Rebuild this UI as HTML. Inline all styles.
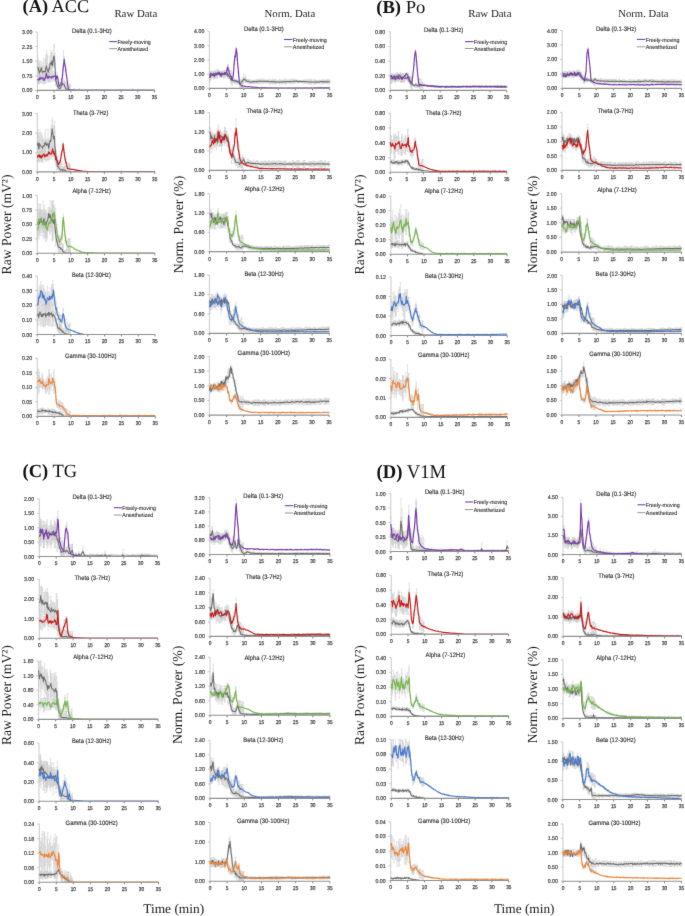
<!DOCTYPE html>
<html><head><meta charset="utf-8"><title>Figure</title>
<style>html,body{margin:0;padding:0;background:#fff;}#w{width:685px;height:916px;overflow:hidden;}svg{display:block;}text{text-rendering:geometricPrecision;}</style>
</head><body><div id="w">
<svg xmlns="http://www.w3.org/2000/svg" width="685" height="916" viewBox="0 0 685 916"><defs><filter id="bl" x="0" y="0" width="1" height="1" color-interpolation-filters="sRGB"><feConvolveMatrix order="3" kernelMatrix="0.0063 0.0667 0.0063 0.0667 0.7082 0.0667 0.0063 0.0667 0.0063" edgeMode="duplicate"/></filter></defs><g filter="url(#bl)"><defs><marker id="cap" markerWidth="2" markerHeight="1" refX="0.8" refY="0" markerUnits="userSpaceOnUse" orient="0" overflow="visible"><path d="M0 0h1.6" stroke="#cccccc" stroke-width="0.5"/></marker></defs>
<rect width="685" height="916" fill="#fff"/>
<text x="22.6" y="12.4" font-size="18" fill="#111" font-family='"Liberation Serif", serif' textLength="66.6" lengthAdjust="spacingAndGlyphs"><tspan font-weight="bold">(A)</tspan> ACC</text>
<text x="376.2" y="12.8" font-size="18.3" fill="#111" font-family='"Liberation Serif", serif' textLength="49.2" lengthAdjust="spacingAndGlyphs"><tspan font-weight="bold">(B)</tspan> Po</text>
<text x="22.6" y="477.2" font-size="18.6" fill="#111" font-family='"Liberation Serif", serif' textLength="54.5" lengthAdjust="spacingAndGlyphs"><tspan font-weight="bold">(C)</tspan> TG</text>
<text x="376.5" y="477.9" font-size="19.4" fill="#111" font-family='"Liberation Serif", serif' textLength="69.6" lengthAdjust="spacingAndGlyphs"><tspan font-weight="bold">(D)</tspan> V1M</text>
<text x="114.4" y="17.4" font-size="10.6" fill="#1a1a1a" font-family='"Liberation Serif", serif' textLength="43" lengthAdjust="spacingAndGlyphs">Raw Data</text>
<text x="264.5" y="17.4" font-size="10.6" fill="#1a1a1a" font-family='"Liberation Serif", serif' textLength="50.8" lengthAdjust="spacingAndGlyphs">Norm. Data</text>
<text x="468.2" y="17.4" font-size="10.6" fill="#1a1a1a" font-family='"Liberation Serif", serif' textLength="43.3" lengthAdjust="spacingAndGlyphs">Raw Data</text>
<text x="618.3" y="17.4" font-size="10.6" fill="#1a1a1a" font-family='"Liberation Serif", serif' textLength="50.3" lengthAdjust="spacingAndGlyphs">Norm. Data</text>
<text transform="translate(11.42 224.5) rotate(-90)" font-size="13.8" fill="#1a1a1a" font-family='"Liberation Serif", serif' text-anchor="middle" textLength="99.8" lengthAdjust="spacingAndGlyphs">Raw Power (mV²)</text>
<text transform="translate(364.02 224.5) rotate(-90)" font-size="13.8" fill="#1a1a1a" font-family='"Liberation Serif", serif' text-anchor="middle" textLength="99.8" lengthAdjust="spacingAndGlyphs">Raw Power (mV²)</text>
<text transform="translate(11.32 695.1) rotate(-90)" font-size="13.8" fill="#1a1a1a" font-family='"Liberation Serif", serif' text-anchor="middle" textLength="99.8" lengthAdjust="spacingAndGlyphs">Raw Power (mV²)</text>
<text transform="translate(364.22 695.1) rotate(-90)" font-size="13.8" fill="#1a1a1a" font-family='"Liberation Serif", serif' text-anchor="middle" textLength="99.8" lengthAdjust="spacingAndGlyphs">Raw Power (mV²)</text>
<text transform="translate(183.22 224.5) rotate(-90)" font-size="13.8" fill="#1a1a1a" font-family='"Liberation Serif", serif' text-anchor="middle" textLength="97.4" lengthAdjust="spacingAndGlyphs">Norm. Power (%)</text>
<text transform="translate(536.62 224.5) rotate(-90)" font-size="13.8" fill="#1a1a1a" font-family='"Liberation Serif", serif' text-anchor="middle" textLength="97.4" lengthAdjust="spacingAndGlyphs">Norm. Power (%)</text>
<text transform="translate(182.32 694.85) rotate(-90)" font-size="13.8" fill="#1a1a1a" font-family='"Liberation Serif", serif' text-anchor="middle" textLength="98.3" lengthAdjust="spacingAndGlyphs">Norm. Power (%)</text>
<text transform="translate(536.82 694.75) rotate(-90)" font-size="13.8" fill="#1a1a1a" font-family='"Liberation Serif", serif' text-anchor="middle" textLength="97.1" lengthAdjust="spacingAndGlyphs">Norm. Power (%)</text>
<text x="143.2" y="912.8" font-size="13.2" fill="#1a1a1a" font-family='"Liberation Serif", serif' textLength="61" lengthAdjust="spacingAndGlyphs">Time (min)</text>
<text x="493.9" y="913.1" font-size="13.2" fill="#1a1a1a" font-family='"Liberation Serif", serif' textLength="60.6" lengthAdjust="spacingAndGlyphs">Time (min)</text>
<path d="M37.4 32V90.4M35.2 90.4H37.4M35.2 75.8H37.4M35.2 61.2H37.4M35.2 46.6H37.4M35.2 32H37.4" stroke="#c4c4c4" stroke-width="0.9" fill="none"/>
<path d="M37.4 90.4V92.4M54.13 90.4V92.4M70.86 90.4V92.4M87.59 90.4V92.4M104.31 90.4V92.4M121.04 90.4V92.4M137.77 90.4V92.4M154.5 90.4V92.4" stroke="#606060" stroke-width="0.8" fill="none"/>
<text x="32.3" y="92.4" font-size="5.6" fill="#4a4a4a" font-family='"Liberation Sans", sans-serif' text-anchor="end" textLength="10.2" lengthAdjust="spacingAndGlyphs" stroke="#4a4a4a" stroke-width="0.22">0.00</text>
<text x="32.3" y="77.8" font-size="5.6" fill="#4a4a4a" font-family='"Liberation Sans", sans-serif' text-anchor="end" textLength="10.2" lengthAdjust="spacingAndGlyphs" stroke="#4a4a4a" stroke-width="0.22">0.75</text>
<text x="32.3" y="63.2" font-size="5.6" fill="#4a4a4a" font-family='"Liberation Sans", sans-serif' text-anchor="end" textLength="10.2" lengthAdjust="spacingAndGlyphs" stroke="#4a4a4a" stroke-width="0.22">1.50</text>
<text x="32.3" y="48.6" font-size="5.6" fill="#4a4a4a" font-family='"Liberation Sans", sans-serif' text-anchor="end" textLength="10.2" lengthAdjust="spacingAndGlyphs" stroke="#4a4a4a" stroke-width="0.22">2.25</text>
<text x="32.3" y="34" font-size="5.6" fill="#4a4a4a" font-family='"Liberation Sans", sans-serif' text-anchor="end" textLength="10.2" lengthAdjust="spacingAndGlyphs" stroke="#4a4a4a" stroke-width="0.22">3.00</text>
<text x="37.4" y="99.3" font-size="5.6" fill="#4a4a4a" font-family='"Liberation Sans", sans-serif' text-anchor="middle" textLength="2.7" lengthAdjust="spacingAndGlyphs" stroke="#4a4a4a" stroke-width="0.26">0</text>
<text x="54.13" y="99.3" font-size="5.6" fill="#4a4a4a" font-family='"Liberation Sans", sans-serif' text-anchor="middle" textLength="2.7" lengthAdjust="spacingAndGlyphs" stroke="#4a4a4a" stroke-width="0.26">5</text>
<text x="70.86" y="99.3" font-size="5.6" fill="#4a4a4a" font-family='"Liberation Sans", sans-serif' text-anchor="middle" textLength="5.3" lengthAdjust="spacingAndGlyphs" stroke="#4a4a4a" stroke-width="0.26">10</text>
<text x="87.59" y="99.3" font-size="5.6" fill="#4a4a4a" font-family='"Liberation Sans", sans-serif' text-anchor="middle" textLength="5.3" lengthAdjust="spacingAndGlyphs" stroke="#4a4a4a" stroke-width="0.26">15</text>
<text x="104.31" y="99.3" font-size="5.6" fill="#4a4a4a" font-family='"Liberation Sans", sans-serif' text-anchor="middle" textLength="5.3" lengthAdjust="spacingAndGlyphs" stroke="#4a4a4a" stroke-width="0.26">20</text>
<text x="121.04" y="99.3" font-size="5.6" fill="#4a4a4a" font-family='"Liberation Sans", sans-serif' text-anchor="middle" textLength="5.3" lengthAdjust="spacingAndGlyphs" stroke="#4a4a4a" stroke-width="0.26">25</text>
<text x="137.77" y="99.3" font-size="5.6" fill="#4a4a4a" font-family='"Liberation Sans", sans-serif' text-anchor="middle" textLength="5.3" lengthAdjust="spacingAndGlyphs" stroke="#4a4a4a" stroke-width="0.26">30</text>
<text x="154.5" y="99.3" font-size="5.6" fill="#4a4a4a" font-family='"Liberation Sans", sans-serif' text-anchor="middle" textLength="5.3" lengthAdjust="spacingAndGlyphs" stroke="#4a4a4a" stroke-width="0.26">35</text>
<text x="91.9" y="33" font-size="6.5" fill="#303030" font-family='"Liberation Sans", sans-serif' text-anchor="middle" textLength="39.8" lengthAdjust="spacingAndGlyphs" stroke="#303030" stroke-width="0.15">Delta (0.1-3Hz)</text>
<clipPath id="cAr0"><rect x="34.4" y="2" width="123.1" height="88.4"/></clipPath>
<g clip-path="url(#cAr0)">
<path d="M37.4 60.4v13.2m.7 -9.1v9m.3 -14.2v21.3m.3 -13.9v7m.4 -12.5v18.4m.3 -16v14.2m.3 -10.2v6.7m.4 -12.9v17.7m.6 -13.2v6.2m.7 -10.3v15.9m.7 -10.6v6.9m.3 -6.8v7.5m.4 -11.4v15.7m.6 -20.3v25.6m.7 -16.5v8.3m.7 -10.2v10.7m.3 -16v20.7m.3 -26.1v28.5m.4 -25.4v19.4m.3 -18.6v14.9m.3 -23.5v29.2m.4 -16.5v6.4m.6 -13.8v26.3m.7 -17.3v12.3m.3 -9.6v8.8m.4 -9.4v8.1m.3 -11.5v12.9m.3 -20.1v25.3m.7 -20.4v9.7m.7 -17.5v19.5m.7 -20.9v21m.3 -18v14.4m.3 -15.9v18.7m.4 -12.1v6.8m.3 -6.1v6.7m.7 -12.4v10.3m.6 -20v21.9m.7 -14v15.8m.7 3.1v13m.3 -9.5v8.7m.3 -6.7v7.3m.4 -5.2v5.6m.3 -7v11m.7 -7.9v8.9m.6 -5.6v5m.7 -6v6.6m.3 -6v6m.4 -8.1v8.1m.7 -7.7v7.7m.6 -5.7v5.5m.9 -11.2v11.4m.5 -7.8v3.6m.3 -6.1v6.9m.3 -8.5v10.6m.5 -7v4m.9 -5.4v7.7m.1 -4.8v2.7m.5 -5v9.1m.9 -7.7v7.7m.1 -6.2v6.2m.4 -7.6v7.6m.5 -4v4m.8 -5.3v5.3m.2 -4.8v4.8m.6 -4.6v4.6m.5 -3.9v3.9m.7 -5.9v5.9m.7 -6.4v6.4m-32.8 -14.1v6.8m.7 -8.2v9.1m.3 -9v8.7m.3 -7.3v5.7m.4 -6.5v7.1m.3 -7.8v8.3m.3 -5.5v2.5m.4 -4.9v7.2m.6 -8.4v9.2m.7 -8.8v8.1m.7 -8.1v7.9m.3 -6.9v5.7m.4 -4.1v3.2m.6 -4.9v8.2m.7 -5.6v4.5m.7 -8.2v8.3m.3 -9.9v9.7m.3 -8.2v5m.4 -5.9v5m.3 -7.6v9.5m.3 -8.9v7.7m.4 -5.7v3.1m.6 0v2.7m.7 -3.2v3m.3 -6.3v9.1m.4 -8.9v8.3m.3 -5.8v2.9m.3 -5.5v8.5m.7 -8.7v9.7m.7 -8v7.1m.7 -6.4v4.6m.3 -5.7v6.2m.3 -4.8v2.9m.4 -2.7v1.9m.3 -5.7v9.7m.7 -8.2v7m.6 -6.4v6.1m.7 -7.7v9.4m.7 -7.4v5.3m.3 -7.1v8.9m.3 -8.2v8.5m.4 -5.5v3.5m.3 -4v3.8m.7 -4.6v4.1m.6 0v3.7m.7 -1.2v6.5m.3 -3.2v3.8m.4 -5.1v5.1m.7 -5.3v2.9m.6 -7.3v9.2m.9 -8.6v4.7m.5 -9.5v5.5m.3 -8.9v6.5m.3 -10.8v9.2m.5 -11.6v5.2m.9 -12.9v9.3m.1 -8.7v5.9m.5 -2.7v6.1m.9 -.6v6m.1 -2.7v1.9m.4 -1v5.4m.5 -.5v3.3m.8 4v1.8m.2 -3.8v8.3m.6 -.9v2.6m.5 -3.7v3.7m.7 -4.5v4.5m.7 -3.7v3.7m-23.1 -36v20.4m4 -24.3v20.4m3 -26.2v22.3m9.4 -16.5v20.4m69.3 17.6v1.9m-58.6 -2.3v2.3m5 -1.9v1.9" stroke="#cccccc" stroke-width="0.55" fill="none" marker-start="url(#cap)" marker-mid="url(#cap)" marker-end="url(#cap)"/>
<path d="M37.4 67.2l.7 .2 .3 2.6 .3-.9 .4 2 .3 2.1 .3-1.8 .4 .5 .6-2.5 .7-1.6 .7 4.1 .3-.7 .4 1.5 .6-.9 .7-.5 .7 .4 .3-.5 .3 .7 .4-3.8 .3 0 .3-2.1 .4 2.7 .6 1.1 .7 2.4 .3-.4 .4-2.2 .3-1.2 .3 .8 .7-5.2 .7-1.3 .7 2.1 .3-3.4 .3-.5 .4 4.7 .3-1.6 .7-6.3 .6-1.7 .7 4.8 .7 18.3 .3 2 .3 .5 .4 .7 .3 1.2 .7 3.2 .6 0 .7 1.3 .3 .6 .4-.1 .7-.1 .6-.8 .9-3 .5-.1 .3-1 .3-.3 .5 1.3 .9 .3 .1 .1 .5 1.9 .9 1.8 .1-.3 .4 .7 .5 .3 .8 .7 .2 0 .6 .1 .5 .1 .7 0 .7 .1 .7 .1 .6 0 .7 0 .7 0 .6 0 .7 0 .7 0 .6 0 .7 0 .7 0 .6 0 .7 0 .7 0 .7 0 .6 0 .7 0 .7 0 .6 0 .7 0 .7 0 .6 0 .7 0 .7 0 .6 0 .7 0 .7 0 .7 0 .6 0 .7 0 .7 0 .6 0 .7 0 .7 0 .6 0 .7 0 .7 0 .6 0 .7 0 .7 0 .7 0 .6 0 .7 0 .7 0 .6 0 .7 0 .7 0 .6 0 .7 0 .7 0 .6 0 .7 0 .7 0 .7 0 .6 0 .7 0 .7 0 .6 0 .7 0 .7 0 .6 0 .7 0 .7 0 .6 0 .7 0 .7 0 .7 0 .6 0 .7 0 .7 0 .6 0 .7 0 .7 0 .6 0 .7 0 .7 0 .6 0 .7 0 .7 0 .7 0 .6 0 .7 0 .7 0 .6 0 .7 0 .7 0 .6 0 .7 0 .7 0 .6 0 .7 0 .7 0 .6 0 .7 0 .7 0 .7 0 .6 0 .7 0 .7 0 .6 0 .7 0 .7 0 .6 0 .7 0 .7 0 .6 0 .7 0 .7 0 .7 0 .6 0 .7 0 .7 0 .6 0 .7 0 .7 0 .6 0 .7 0 .7 0 .6 0 .7 0 .7 0 .7 0 .6 0 .7 0 .7 0 .6 0 .7 0" stroke="#6e6e6e" stroke-width="1.05" fill="none" stroke-linejoin="round"/>
<path d="M37.4 79.3l.7 .4 .3 .4 .3 0 .4-1.4 .3-.1 .3 1.1 .4-2.6 .6 1.8 .7-.1 .7-1.1 .3 .3 .4-.5 .6 2 .7 1 .7-2.1 .3-.3 .3 0 .4-1.9 .3-.9 .3-2.1 .4 2.1 .6 2.8 .7-1.3 .3 1.3 .4-1.7 .3 0 .3 .6 .7-.3 .7 1 .7-.8 .3 1.1 .3-.9 .4-.7 .3-.3 .7 .9 .6-.6 .7-.5 .7 .5 .3-.1 .3 2.6 .4-.7 .3-2.2 .7 .4 .6 4.1 .7 4 .3 2.1 .4-1 .7-.5 .6-.8 .9-2.6 .5-4.4 .3-1 .3-5.2 .5-3.6 .9-8.1 .1 1.9 .5 2.8 .9 4.9 .1 2.5 .4 2 .5 3.2 .8 6.6 .2 1.4 .6 4.6 .5 .3 .7 .1 .7 .1 .7 .2 .6 0 .7 .1 .7 0 .6 0 .7 0 .7 0 .6 .1 .7-.1 .7 .1 .6 0 .7 .1 .7 0 .7 0 .6 .1 .7 0 .7 0 .6 0 .7 0 .7 0 .6 0 .7 0 .7 0 .6 0 .7 0 .7 0 .7 0 .6 0 .7 0 .7 0 .6 0 .7 0 .7 0 .6 0 .7 0 .7 0 .6 0 .7 0 .7 0 .7 0 .6 0 .7 0 .7 0 .6 0 .7 0 .7 0 .6 0 .7 0 .7 0 .6 0 .7 0 .7 0 .7 0 .6 0 .7 0 .7 0 .6 0 .7 0 .7 0 .6 0 .7 0 .7 0 .6 0 .7 0 .7 0 .7 0 .6 0 .7 0 .7 0 .6 0 .7 0 .7 0 .6 0 .7 0 .7 0 .6 0 .7 0 .7 0 .7 0 .6 0 .7 0 .7 0 .6 0 .7 0 .7 0 .6 0 .7 0 .7 0 .6 0 .7 0 .7 0 .6 0 .7 0 .7 0 .7 0 .6 0 .7 0 .7 0 .6 0 .7 0 .7 0 .6 0 .7 0 .7 0 .6 0 .7 0 .7 0 .7 0 .6 0 .7 0 .7 0 .6 0 .7 0 .7 0 .6 0 .7 0 .7 0 .6 0 .7 0 .7 0 .7 0 .6 0 .7 0 .7 0 .6 0 .7 0" stroke="#7b3bb3" stroke-width="1.12" fill="none" stroke-linejoin="round"/>
</g>
<path d="M37.4 90.4H154.5" stroke="#919191" stroke-width="1.1" fill="none"/>
<path d="M109.2 41.6H117" stroke="#7b3bb3" stroke-width="1.1"/>
<path d="M109.2 48.7H117" stroke="#8a8a8a" stroke-width="0.9"/>
<text x="117.4" y="43.7" font-size="5.8" fill="#303030" font-family='"Liberation Sans", sans-serif' textLength="33.4" lengthAdjust="spacingAndGlyphs" stroke="#303030" stroke-width="0.12">Freely-moving</text>
<text x="117.4" y="50.8" font-size="5.8" fill="#303030" font-family='"Liberation Sans", sans-serif' textLength="30.9" lengthAdjust="spacingAndGlyphs" stroke="#303030" stroke-width="0.12">Anesthetized</text>
<path d="M37.3 113.5V171.9M35.1 171.9H37.3M35.1 152.43H37.3M35.1 132.97H37.3M35.1 113.5H37.3" stroke="#c4c4c4" stroke-width="0.9" fill="none"/>
<path d="M37.3 171.9V173.9M54.07 171.9V173.9M70.84 171.9V173.9M87.6 171.9V173.9M104.37 171.9V173.9M121.14 171.9V173.9M137.91 171.9V173.9M154.68 171.9V173.9" stroke="#606060" stroke-width="0.8" fill="none"/>
<text x="32.2" y="173.9" font-size="5.6" fill="#4a4a4a" font-family='"Liberation Sans", sans-serif' text-anchor="end" textLength="10.2" lengthAdjust="spacingAndGlyphs" stroke="#4a4a4a" stroke-width="0.22">0.00</text>
<text x="32.2" y="154.43" font-size="5.6" fill="#4a4a4a" font-family='"Liberation Sans", sans-serif' text-anchor="end" textLength="10.2" lengthAdjust="spacingAndGlyphs" stroke="#4a4a4a" stroke-width="0.22">1.00</text>
<text x="32.2" y="134.97" font-size="5.6" fill="#4a4a4a" font-family='"Liberation Sans", sans-serif' text-anchor="end" textLength="10.2" lengthAdjust="spacingAndGlyphs" stroke="#4a4a4a" stroke-width="0.22">2.00</text>
<text x="32.2" y="115.5" font-size="5.6" fill="#4a4a4a" font-family='"Liberation Sans", sans-serif' text-anchor="end" textLength="10.2" lengthAdjust="spacingAndGlyphs" stroke="#4a4a4a" stroke-width="0.22">3.00</text>
<text x="37.3" y="180.8" font-size="5.6" fill="#4a4a4a" font-family='"Liberation Sans", sans-serif' text-anchor="middle" textLength="2.7" lengthAdjust="spacingAndGlyphs" stroke="#4a4a4a" stroke-width="0.26">0</text>
<text x="54.07" y="180.8" font-size="5.6" fill="#4a4a4a" font-family='"Liberation Sans", sans-serif' text-anchor="middle" textLength="2.7" lengthAdjust="spacingAndGlyphs" stroke="#4a4a4a" stroke-width="0.26">5</text>
<text x="70.84" y="180.8" font-size="5.6" fill="#4a4a4a" font-family='"Liberation Sans", sans-serif' text-anchor="middle" textLength="5.3" lengthAdjust="spacingAndGlyphs" stroke="#4a4a4a" stroke-width="0.26">10</text>
<text x="87.6" y="180.8" font-size="5.6" fill="#4a4a4a" font-family='"Liberation Sans", sans-serif' text-anchor="middle" textLength="5.3" lengthAdjust="spacingAndGlyphs" stroke="#4a4a4a" stroke-width="0.26">15</text>
<text x="104.37" y="180.8" font-size="5.6" fill="#4a4a4a" font-family='"Liberation Sans", sans-serif' text-anchor="middle" textLength="5.3" lengthAdjust="spacingAndGlyphs" stroke="#4a4a4a" stroke-width="0.26">20</text>
<text x="121.14" y="180.8" font-size="5.6" fill="#4a4a4a" font-family='"Liberation Sans", sans-serif' text-anchor="middle" textLength="5.3" lengthAdjust="spacingAndGlyphs" stroke="#4a4a4a" stroke-width="0.26">25</text>
<text x="137.91" y="180.8" font-size="5.6" fill="#4a4a4a" font-family='"Liberation Sans", sans-serif' text-anchor="middle" textLength="5.3" lengthAdjust="spacingAndGlyphs" stroke="#4a4a4a" stroke-width="0.26">30</text>
<text x="154.68" y="180.8" font-size="5.6" fill="#4a4a4a" font-family='"Liberation Sans", sans-serif' text-anchor="middle" textLength="5.3" lengthAdjust="spacingAndGlyphs" stroke="#4a4a4a" stroke-width="0.26">35</text>
<text x="90.65" y="114.6" font-size="6.5" fill="#303030" font-family='"Liberation Sans", sans-serif' text-anchor="middle" textLength="35.5" lengthAdjust="spacingAndGlyphs" stroke="#303030" stroke-width="0.15">Theta (3-7Hz)</text>
<clipPath id="cAr1"><rect x="34.3" y="83.5" width="123.38" height="88.4"/></clipPath>
<g clip-path="url(#cAr1)">
<path d="M37.3 133.1v23.1m.7 -23.5v24.7m.6 -24v24m.4 -28v32.5m.3 -25.4v18.6m.7 -23.3v28.8m.7 -26.4v24.8m.6 -26.2v29.2m.7 -22.7v17.7m.3 -21.3v25.6m.4 -24v21.3m.6 -18.9v14.2m.7 -14.1v11.6m.7 -17.6v22.8m.6 -15.7v7.9m.4 -19.5v30.7m.3 -20.4v9.7m.7 -8.5v6.5m.7 -8v8.7m.6 -18.7v31.1m.7 -22v15.2m.3 -11.9v9.7m.4 -9.3v6.6m.6 -9.1v7m.7 -18.2v24.7m.7 -27.8v23.1m.7 -27.9v24.9m.3 -27.3v25.9m.3 -14.8v7.6m.7 -10.9v21.9m.7 -19.7v15.7m.3 -22.4v28.2m.3 -23v28.2m.4 -24v30.2m.3 -13.7v7.6m.3 -5.9v14.7m.4 -13.1v15.4m.7 -11.7v15.8m.6 -6.2v4.3m.7 -4.2v5.7m.3 -4.7v4.5m.4 -3.6v3.4m.6 -8.1v10.7m.7 -9.7v9.7m.7 -7.7v7.7m.6 -9v9m.7 -7.7v7.7m.7 -5.4v5.4m.3 -4.1v4.1m.4 -4.1v4.1m.6 -8.6v8.6m.4 -4.6v4.6m.3 -5.2v5.2m.7 -5.5v5.5m.3 -2.6v2.6m.3 -4v4m.7 -3.8v3.8m.7 -6.3v6.3m.7 -4v4m.6 -3.6v3.6m.7 -8v8m.7 -4.9v4.9m-32.9 -18.1v7m.7 -9.3v10.8m.6 -10.8v10.1m.4 -9.9v9.2m.3 -7.3v5.1m.7 -6.4v6.9m.7 -7.5v7.3m.6 -7.8v9.1m.7 -7.6v6.8m.3 -8v9.7m.4 -11.5v12.5m.6 -9.2v4.3m.7 -7.7v9.5m.7 -9.7v10.8m.6 -8.3v6.5m.4 -6.9v7.7m.3 -10.3v12.9m.7 -7.8v2.7m.7 -5.5v8.3m.6 -7v4.1m.7 -8.2v10.8m.3 -12.1v12.6m.4 -10.1v8m.6 -5.3v3.4m.7 -5.6v8.6m.7 -10v8.2m.7 -10.7v10.1m.3 -9.8v7.9m.3 -8.2v9.3m.7 -9.5v11.3m.7 -8.9v8m.3 -6.4v6.8m.3 -8.8v12.7m.4 -7.7v4.7m.3 -6.3v9.8m.3 -7.2v6.6m.4 -7.7v10.7m.7 -5.2v3.7m.6 -6.7v13.1m.7 -8v6.3m.3 -3.8v3m.4 -4.6v5.3m.6 -6.9v6.6m.7 -5.5v2.5m.7 -8.6v6.9m.6 -10.8v6.9m.7 -12.3v10m.7 -12v6.2m.3 -7.7v5.3m.4 -2.6v4.8m.6 -2.8v10.5m.4 -9.1v12.6m.3 -8.4v8.1m.7 -2.5v4.7m.3 -6.6v11.1m.3 -7.5v6.6m.7 -2.9v4.7m.7 -1.5v3.8m.7 -7.1v8.7m.6 -8.8v8.8m.7 -7.7v7.7m.7 -6.6v6.6" stroke="#cccccc" stroke-width="0.55" fill="none" marker-start="url(#cap)" marker-mid="url(#cap)" marker-end="url(#cap)"/>
<path d="M37.3 145.4l.7-2.7 .6 5.6 .4 .6 .3-5.7 .7 1.7 .7 1 .6 .7 .7 .4 .3 1.4 .4-1.3 .6-1.2 .7 .5 .7-3.4 .6 1.1 .4-1.8 .3 2.1 .7 1 .7-1.4 .6-.6 .7 5 .3-.9 .4-4 .6-3 .7 1.3 .7-6.3 .7-6.6 .3 2.5 .3 .7 .7 5.8 .7 1.7 .3-3.4 .3 6.8 .4 5.7 .3 1.8 .3 5.7 .4 3 .7 2 .6 5 .7 .2 .3 .2 .4 .6 .6 1.7 .7 .3 .7 .9 .6-.4 .7-.1 .7 1 .3-.7 .4-.2 .6 .2 .4 .1 .3 .4 .7 .1 .3 .3 .3 .4 .7 .2 .7 .5 .7 0 .6 0 .7 0 .7 0 .6 0 .7 0 .7 0 .6 0 .7 0 .7 0 .7 0 .6 0 .4 0 .3 0 .7 0 .6 0 .7 0 .7 0 .7 0 .6 0 .7 0 .7 0 .6 0 .7 0 .7 0 .6 0 .7 0 .7 0 .7 0 .6 0 .7 0 .7 0 .6 0 .7 0 .7 0 .7 0 .6 0 .7 0 .7 0 .6 0 .7 0 .7 0 .7 0 .6 0 .7 0 .7 0 .6 0 .7 0 .7 0 .6 0 .7 0 .7 0 .7 0 .6 0 .7 0 .7 0 .6 0 .7 0 .7 0 .7 0 .6 0 .7 0 .7 0 .6 0 .7 0 .7 0 .6 0 .7 0 .7 0 .7 0 .6 0 .7 0 .7 0 .6 0 .7 0 .7 0 .7 0 .6 0 .7 0 .7 0 .6 0 .7 0 .7 0 .7 0 .6 0 .7 0 .7 0 .6 0 .7 0 .7 0 .6 0 .7 0 .7 0 .7 0 .6 0 .7 0 .7 0 .6 0 .7 0 .7 0 .7 0 .6 0 .7 0 .7 0 .6 0 .7 0 .7 0 .6 0 .7 0 .7 0 .7 0 .6 0 .7 0 .7 0 .6 0 .7 0 .7 0 .7 0 .6 0 .7 0 .7 0 .6 0 .7 0 .7 0 .7 0 .6 0 .7 0 .7 0 .6 0 .7 0 .7 0" stroke="#6e6e6e" stroke-width="1.05" fill="none" stroke-linejoin="round"/>
<path d="M37.3 157.6l.7-2.2 .6 1 .4 .1 .3-1.6 .7 2.6 .7-2 .6 2.5 .7-2.1 .3 .9 .4-1.2 .6-.6 .7-1.1 .7 3.1 .6-1.8 .4 .6 .3 .4 .7-1.7 .7 1.2 .6-1.6 .7-2.2 .3 1.7 .4-1.4 .6 1.6 .7 .3 .7 .1 .7-3.3 .3-1 .3-1 .7 4.7 .7-1.9 .3 2.8 .3-.4 .4 1.4 .3 1 .3 2.9 .4-2.9 .7 3.3 .6 .9 .7 2.9 .3 .9 .4-.4 .6-1.7 .7-.2 .7-3.9 .6-4.3 .7-2.8 .7-2.6 .3-4.8 .4 4.6 .6 3.9 .4 2.7 .3 2.2 .7 3.3 .3 2 .3-.4 .7 3.3 .7 3 .7 .1 .6 .2 .7 .3 .7 .1 .6 .1 .7 .2 .7 0 .6 .1 .7-.1 .7 .2 .7 .5 .6-.2 .4 .2 .3-.2 .7 .4 .6-.2 .7 .4 .7 0 .7 0 .6 .3 .7 .1 .7 .1 .6 0 .7 .2 .7 0 .6 0 .7 0 .7 .1 .7 0 .6 .2 .7 0 .7 0 .6 0 .7 .1 .7 0 .7 0 .6 0 .7 0 .7 .1 .6 0 .7 0 .7 .1 .7 0 .6 0 .7 .1 .7 0 .6 0 .7 0 .7 0 .6 0 .7 0 .7 0 .7 0 .6 0 .7 0 .7 0 .6 0 .7 0 .7 0 .7 0 .6 0 .7 0 .7 0 .6 0 .7 0 .7 0 .6 0 .7 0 .7 0 .7 0 .6 0 .7 0 .7 0 .6 0 .7 0 .7 0 .7 0 .6 0 .7 0 .7 0 .6 0 .7 0 .7 0 .7 0 .6 0 .7 0 .7 0 .6 0 .7 0 .7 0 .6 0 .7 0 .7 0 .7 0 .6 0 .7 0 .7 0 .6 0 .7 0 .7 0 .7 0 .6 0 .7 0 .7 0 .6 0 .7 0 .7 0 .6 0 .7 0 .7 0 .7 0 .6 0 .7 0 .7 0 .6 0 .7 0 .7 0 .7 0 .6 0 .7 0 .7 0 .6 0 .7 0 .7 0 .7 0 .6 0 .7 0 .7 0 .6 0 .7 0 .7 0" stroke="#cc1c1c" stroke-width="1.12" fill="none" stroke-linejoin="round"/>
</g>
<path d="M37.3 171.9H154.68" stroke="#919191" stroke-width="1.1" fill="none"/>
<path d="M37.3 195.5V253.3M35.1 253.3H37.3M35.1 238.85H37.3M35.1 224.4H37.3M35.1 209.95H37.3M35.1 195.5H37.3" stroke="#c4c4c4" stroke-width="0.9" fill="none"/>
<path d="M37.3 253.3V255.3M54.09 253.3V255.3M70.89 253.3V255.3M87.68 253.3V255.3M104.47 253.3V255.3M121.26 253.3V255.3M138.06 253.3V255.3M154.85 253.3V255.3" stroke="#606060" stroke-width="0.8" fill="none"/>
<text x="32.2" y="255.3" font-size="5.6" fill="#4a4a4a" font-family='"Liberation Sans", sans-serif' text-anchor="end" textLength="10.2" lengthAdjust="spacingAndGlyphs" stroke="#4a4a4a" stroke-width="0.22">0.00</text>
<text x="32.2" y="240.85" font-size="5.6" fill="#4a4a4a" font-family='"Liberation Sans", sans-serif' text-anchor="end" textLength="10.2" lengthAdjust="spacingAndGlyphs" stroke="#4a4a4a" stroke-width="0.22">0.25</text>
<text x="32.2" y="226.4" font-size="5.6" fill="#4a4a4a" font-family='"Liberation Sans", sans-serif' text-anchor="end" textLength="10.2" lengthAdjust="spacingAndGlyphs" stroke="#4a4a4a" stroke-width="0.22">0.50</text>
<text x="32.2" y="211.95" font-size="5.6" fill="#4a4a4a" font-family='"Liberation Sans", sans-serif' text-anchor="end" textLength="10.2" lengthAdjust="spacingAndGlyphs" stroke="#4a4a4a" stroke-width="0.22">0.75</text>
<text x="32.2" y="197.5" font-size="5.6" fill="#4a4a4a" font-family='"Liberation Sans", sans-serif' text-anchor="end" textLength="10.2" lengthAdjust="spacingAndGlyphs" stroke="#4a4a4a" stroke-width="0.22">1.00</text>
<text x="37.3" y="262.2" font-size="5.6" fill="#4a4a4a" font-family='"Liberation Sans", sans-serif' text-anchor="middle" textLength="2.7" lengthAdjust="spacingAndGlyphs" stroke="#4a4a4a" stroke-width="0.26">0</text>
<text x="54.09" y="262.2" font-size="5.6" fill="#4a4a4a" font-family='"Liberation Sans", sans-serif' text-anchor="middle" textLength="2.7" lengthAdjust="spacingAndGlyphs" stroke="#4a4a4a" stroke-width="0.26">5</text>
<text x="70.89" y="262.2" font-size="5.6" fill="#4a4a4a" font-family='"Liberation Sans", sans-serif' text-anchor="middle" textLength="5.3" lengthAdjust="spacingAndGlyphs" stroke="#4a4a4a" stroke-width="0.26">10</text>
<text x="87.68" y="262.2" font-size="5.6" fill="#4a4a4a" font-family='"Liberation Sans", sans-serif' text-anchor="middle" textLength="5.3" lengthAdjust="spacingAndGlyphs" stroke="#4a4a4a" stroke-width="0.26">15</text>
<text x="104.47" y="262.2" font-size="5.6" fill="#4a4a4a" font-family='"Liberation Sans", sans-serif' text-anchor="middle" textLength="5.3" lengthAdjust="spacingAndGlyphs" stroke="#4a4a4a" stroke-width="0.26">20</text>
<text x="121.26" y="262.2" font-size="5.6" fill="#4a4a4a" font-family='"Liberation Sans", sans-serif' text-anchor="middle" textLength="5.3" lengthAdjust="spacingAndGlyphs" stroke="#4a4a4a" stroke-width="0.26">25</text>
<text x="138.06" y="262.2" font-size="5.6" fill="#4a4a4a" font-family='"Liberation Sans", sans-serif' text-anchor="middle" textLength="5.3" lengthAdjust="spacingAndGlyphs" stroke="#4a4a4a" stroke-width="0.26">30</text>
<text x="154.85" y="262.2" font-size="5.6" fill="#4a4a4a" font-family='"Liberation Sans", sans-serif' text-anchor="middle" textLength="5.3" lengthAdjust="spacingAndGlyphs" stroke="#4a4a4a" stroke-width="0.26">35</text>
<text x="91.65" y="192.6" font-size="6.5" fill="#303030" font-family='"Liberation Sans", sans-serif' text-anchor="middle" textLength="38.5" lengthAdjust="spacingAndGlyphs" stroke="#303030" stroke-width="0.15">Alpha (7-12Hz)</text>
<clipPath id="cAr2"><rect x="34.3" y="165.5" width="123.55" height="87.8"/></clipPath>
<g clip-path="url(#cAr2)">
<path d="M37.3 211.5v25.8m.7 -27.5v26.9m.6 -23.2v17.2m.4 -26.7v35.1m.3 -28.8v21.3m.7 -27.3v31m.7 -30.6v27.8m.6 -22.1v18.7m.7 -18.9v21.5m.3 -15.5v10.7m.4 -12.9v13.9m.6 -27.1v37.9m.7 -29.6v19.1m.7 -22.9v31.2m.7 -19v11.5m.3 -18.4v27.6m.3 -24.6v20.5m.7 -24.2v25.5m.7 -23v18.2m.6 -16.4v10m.7 -16.7v18.7m.4 -18.3v15.7m.3 -13.4v12.2m.7 -21.5v33.1m.6 -24.2v17.7m.7 -18.7v22m.7 -29.9v40m.3 -37v35.2m.3 -37.7v39.1m.7 -39.9v38.3m.7 -26.4v12.3m.7 -9.1v17.4m.3 -10.2v8.7m.3 -17.3v31.8m.7 -15.8v11.3m.7 -3.5v7.3m.7 -6.1v8.1m.6 -8v11.3m.7 -9.9v11.8m.3 -8.1v6m.4 -9.6v12.4m.6 -8.8v7.4m.7 -8.7v10.1m.8 -6.3v5.1m.6 -4.2v4.3m.3 -9.1v10.2m.3 -8.7v8.7m.5 -8v8m.9 -2.8v2.8m.8 -2.2v2.2m.5 -2.7v2.7m.3 -2.7v2.7m.4 -3.3v3.3m.5 -3.9v3.9m.8 -1.6v1.6m.9 -3.4v3.4m.5 -5.5v5.5m.6 -2.6v2.6m.7 -6.8v6.8m-32.9 -34.7v23.2m.7 -21.7v13.2m.6 -14.9v9.7m.4 -19.2v25.2m.3 -19.7v13m.7 -14.7v14.2m.7 -17.6v18.6m.6 -14.1v14.2m.7 -17.4v25.3m.3 -17v11m.4 -9.2v6.2m.6 -13.7v18.9m.7 -20.8v20.4m.7 -20.4v25.1m.7 -21.4v22.3m.3 -23.6v27.2m.3 -27.1v28.1m.7 -21.5v17.2m.7 -16.1v17.3m.6 -16.6v9m.7 -14.2v12.5m.4 -17.6v19.3m.3 -13.3v7.2m.7 -14.5v21.9m.6 -15.6v9.2m.7 -14.9v16m.7 -24.7v28.8m.3 -19.3v7.4m.3 -7.3v6.1m.7 -12.1v15.8m.7 -14v9.9m.7 -12.5v22.8m.3 -12.1v5.3m.3 -13v25.6m.7 -14.8v13.9m.7 -8.5v13m.7 -5.7v8.3m.6 -5v6.4m.7 -6.6v11.4m.3 -9.3v9.5m.4 -9.3v8.3m.6 -8.5v7.2m.7 -8.6v8.4m.8 -10.8v11.3m.6 -18.8v13.5m.3 -18.3v14.5m.3 -14v4.9m.5 -12.1v6.6m.9 1.7v8.5m.8 -.1v10.1m.5 -6.1v7.3m.3 -4.6v5.3m.4 -2.8v3.9m.5 -2.9v7m.8 -7v8.8m.9 -11.2v14.6m.5 -14.2v14.2m.6 -13.9v13.9m.7 -14.6v14.6m.7 -7.4v.9m5.4 2.4v1m3.3 .5v.8m10.1 .9v.9m2 -.8v.8" stroke="#cccccc" stroke-width="0.55" fill="none" marker-start="url(#cap)" marker-mid="url(#cap)" marker-end="url(#cap)"/>
<path d="M37.3 224.1l.7-.2 .6-4 .4 .8 .3 3.5 .7-2.9 .7-2.7 .6 3.8 .7-1.3 .3 .7 .4 2.5 .6-2.6 .7-3.2 .7 6.2 .7-2.3 .3 2.4 .3 .5 .7-3.5 .7-1.1 .6-2.3 .7-4.9 .4 1.8 .3 2.4 .7-3.1 .6 2.9 .7 3.3 .7-1.6 .3 2.1 .3-.6 .7 2.6 .7-4.5 .7 5.9 .3 3.1 .3 3.7 .7 5.8 .7 4.5 .7 1.7 .6 2.8 .7 1 .3 .1 .4 0 .6 .2 .7 1.3 .8-.1 .6 1 .3 .5 .3 .7 .5 .4 .9 .9 .8 .6 .5 .2 .3 .2 .4 0 .5 0 .8 0 .9 0 .5 0 .6 0 .7 0 .7 0 .7 0 .6 0 .7 0 .7 0 .6 0 .7 0 .7 0 .7 0 .6 0 .7 0 .7 0 .6 0 .7 0 .7 0 .7 0 .6 0 .7 0 .7 0 .6 0 .7 0 .7 0 .7 0 .6 0 .7 0 .7 0 .7 0 .6 0 .7 0 .7 0 .6 0 .7 0 .7 0 .7 0 .6 0 .7 0 .7 0 .6 0 .7 0 .7 0 .7 0 .6 0 .7 0 .7 0 .6 0 .7 0 .7 0 .7 0 .6 0 .7 0 .7 0 .6 0 .7 0 .7 0 .7 0 .6 0 .7 0 .7 0 .6 0 .7 0 .7 0 .7 0 .6 0 .7 0 .7 0 .6 0 .7 0 .7 0 .7 0 .6 0 .7 0 .7 0 .6 0 .7 0 .7 0 .7 0 .6 0 .7 0 .7 0 .7 0 .6 0 .7 0 .7 0 .6 0 .7 0 .7 0 .7 0 .6 0 .7 0 .7 0 .6 0 .7 0 .7 0 .7 0 .6 0 .7 0 .7 0 .6 0 .7 0 .7 0 .7 0 .6 0 .7 0 .7 0 .6 0 .7 0 .7 0 .7 0 .6 0 .7 0 .7 0 .6 0 .7 0 .7 0 .7 0 .6 0 .7 0 .7 0 .6 0 .7 0 .7 0 .7 0 .6 0 .7 0 .7 0 .6 0" stroke="#6e6e6e" stroke-width="1.05" fill="none" stroke-linejoin="round"/>
<path d="M37.3 230.2l.7-1.3 .6-8.5 .4 1 .3-2.3 .7 2.6 .7-3.1 .6-.6 .7 3.5 .3 3 .4-2.2 .6 3.1 .7-3 .7-.6 .7 5.2 .3 .3 .3-.4 .7 1.8 .7 1.2 .6-4 .7-2.4 .4-1.6 .3 1.1 .7 .5 .6-.9 .7-4.7 .7 .8 .3-3.6 .3-1.6 .7 3.2 .7-4.7 .7 6.4 .3 .4 .3 1.1 .7 6.5 .7 3.3 .7 6.4 .6 1.2 .7 1.7 .3 2.8 .4 .6 .6-2.4 .7-.3 .8-1.3 .6-3.9 .3-6.1 .3-6.6 .5-4.4 .9 9.7 .8 8.7 .5 1.9 .3 3.5 .4 .3 .5 2.9 .8 1.5 .9 .5 .5 .4 .6-.6 .7 .3 .7-.2 .7 .7 .6 .3 .7 .1 .7 .8 .6 .5 .7 .3 .7 .6 .7 .3 .6 0 .7 .5 .7 .4 .6-.1 .7 .5 .7 .4 .7 0 .6 .1 .7 .3 .7 .2 .6 0 .7 .3 .7 0 .7 .1 .6 0 .7 0 .7 .1 .7 0 .6 0 .7 .1 .7 .1 .6 0 .7 0 .7 0 .7 0 .6 .1 .7 0 .7 .1 .6 0 .7 .1 .7 0 .7 .1 .6 0 .7 0 .7 0 .6 0 .7 0 .7 0 .7 0 .6 0 .7 0 .7 0 .6 0 .7 0 .7 0 .7 0 .6 0 .7 0 .7 0 .6 0 .7 0 .7 0 .7 0 .6 0 .7 0 .7 0 .6 0 .7 0 .7 0 .7 0 .6 0 .7 0 .7 0 .6 0 .7 0 .7 0 .7 0 .6 0 .7 0 .7 0 .7 0 .6 0 .7 0 .7 0 .6 0 .7 0 .7 0 .7 0 .6 0 .7 0 .7 0 .6 0 .7 0 .7 0 .7 0 .6 0 .7 0 .7 0 .6 0 .7 0 .7 0 .7 0 .6 0 .7 0 .7 0 .6 0 .7 0 .7 0 .7 0 .6 0 .7 0 .7 0 .6 0 .7 0 .7 0 .7 0 .6 0 .7 0 .7 0 .6 0 .7 0 .7 0 .7 0 .6 0 .7 0 .7 0 .6 0" stroke="#74b84a" stroke-width="1.12" fill="none" stroke-linejoin="round"/>
</g>
<path d="M37.3 253.3H154.85" stroke="#919191" stroke-width="1.1" fill="none"/>
<path d="M37.3 276V334.5M35.1 334.5H37.3M35.1 319.88H37.3M35.1 305.25H37.3M35.1 290.62H37.3M35.1 276H37.3" stroke="#c4c4c4" stroke-width="0.9" fill="none"/>
<path d="M37.3 334.5V336.5M54.12 334.5V336.5M70.94 334.5V336.5M87.75 334.5V336.5M104.57 334.5V336.5M121.39 334.5V336.5M138.21 334.5V336.5M155.02 334.5V336.5" stroke="#606060" stroke-width="0.8" fill="none"/>
<text x="32.2" y="336.5" font-size="5.6" fill="#4a4a4a" font-family='"Liberation Sans", sans-serif' text-anchor="end" textLength="10.2" lengthAdjust="spacingAndGlyphs" stroke="#4a4a4a" stroke-width="0.22">0.00</text>
<text x="32.2" y="321.88" font-size="5.6" fill="#4a4a4a" font-family='"Liberation Sans", sans-serif' text-anchor="end" textLength="10.2" lengthAdjust="spacingAndGlyphs" stroke="#4a4a4a" stroke-width="0.22">0.10</text>
<text x="32.2" y="307.25" font-size="5.6" fill="#4a4a4a" font-family='"Liberation Sans", sans-serif' text-anchor="end" textLength="10.2" lengthAdjust="spacingAndGlyphs" stroke="#4a4a4a" stroke-width="0.22">0.20</text>
<text x="32.2" y="292.62" font-size="5.6" fill="#4a4a4a" font-family='"Liberation Sans", sans-serif' text-anchor="end" textLength="10.2" lengthAdjust="spacingAndGlyphs" stroke="#4a4a4a" stroke-width="0.22">0.30</text>
<text x="32.2" y="278" font-size="5.6" fill="#4a4a4a" font-family='"Liberation Sans", sans-serif' text-anchor="end" textLength="10.2" lengthAdjust="spacingAndGlyphs" stroke="#4a4a4a" stroke-width="0.22">0.40</text>
<text x="37.3" y="343.4" font-size="5.6" fill="#4a4a4a" font-family='"Liberation Sans", sans-serif' text-anchor="middle" textLength="2.7" lengthAdjust="spacingAndGlyphs" stroke="#4a4a4a" stroke-width="0.26">0</text>
<text x="54.12" y="343.4" font-size="5.6" fill="#4a4a4a" font-family='"Liberation Sans", sans-serif' text-anchor="middle" textLength="2.7" lengthAdjust="spacingAndGlyphs" stroke="#4a4a4a" stroke-width="0.26">5</text>
<text x="70.94" y="343.4" font-size="5.6" fill="#4a4a4a" font-family='"Liberation Sans", sans-serif' text-anchor="middle" textLength="5.3" lengthAdjust="spacingAndGlyphs" stroke="#4a4a4a" stroke-width="0.26">10</text>
<text x="87.75" y="343.4" font-size="5.6" fill="#4a4a4a" font-family='"Liberation Sans", sans-serif' text-anchor="middle" textLength="5.3" lengthAdjust="spacingAndGlyphs" stroke="#4a4a4a" stroke-width="0.26">15</text>
<text x="104.57" y="343.4" font-size="5.6" fill="#4a4a4a" font-family='"Liberation Sans", sans-serif' text-anchor="middle" textLength="5.3" lengthAdjust="spacingAndGlyphs" stroke="#4a4a4a" stroke-width="0.26">20</text>
<text x="121.39" y="343.4" font-size="5.6" fill="#4a4a4a" font-family='"Liberation Sans", sans-serif' text-anchor="middle" textLength="5.3" lengthAdjust="spacingAndGlyphs" stroke="#4a4a4a" stroke-width="0.26">25</text>
<text x="138.21" y="343.4" font-size="5.6" fill="#4a4a4a" font-family='"Liberation Sans", sans-serif' text-anchor="middle" textLength="5.3" lengthAdjust="spacingAndGlyphs" stroke="#4a4a4a" stroke-width="0.26">30</text>
<text x="155.02" y="343.4" font-size="5.6" fill="#4a4a4a" font-family='"Liberation Sans", sans-serif' text-anchor="middle" textLength="5.3" lengthAdjust="spacingAndGlyphs" stroke="#4a4a4a" stroke-width="0.26">35</text>
<text x="91.45" y="277.3" font-size="6.5" fill="#303030" font-family='"Liberation Sans", sans-serif' text-anchor="middle" textLength="38.9" lengthAdjust="spacingAndGlyphs" stroke="#303030" stroke-width="0.15">Beta (12-30Hz)</text>
<clipPath id="cAr3"><rect x="34.3" y="246" width="123.72" height="88.5"/></clipPath>
<g clip-path="url(#cAr3)">
<path d="M37.3 304.6v21.7m.7 -21.4v20.5m.6 -13.6v6.2m.4 -12.8v19.1m.3 -15.5v11.6m.7 -9.9v7.7m.7 -16.3v24.2m.6 -20.9v18.2m.7 -18.6v19.6m.3 -13.2v7.1m.4 -14.1v21.4m.7 -22.2v23.6m.6 -23v22.9m.7 -21.5v19.6m.7 -20.8v21.4m.3 -21.2v20.8m.3 -18.8v16.4m.7 -15.1v13.3m.7 -17.6v21.3m.7 -20.9v20.4m.6 -21.3v22.2m.4 -16.3v10.5m.3 -17.3v24.1m.7 -19.7v15.3m.7 -19.6v23.8m.6 -15v6.8m.7 -15.2v24.2m.3 -22.2v20.5m.4 -14.9v9.6m.6 -15.3v21.6m.7 -15.1v9.2m.7 -7.1v8.5m.7 -9.4v13.8m.3 -7.9v3.7m.3 -3.3v5.8m.7 -4.5v9.2m.7 -5.4v7.4m.7 -6.9v7.6m.6 -5.7v4.9m.4 -6.2v8.1m.3 -7.9v8.3m.7 -7.2v7.3m.6 -7.8v9.1m.9 -7.9v7.9m.5 -5.8v5.1m.7 -3.2v2.5m.5 -4.3v5.7m.8 -5.8v5.8m.8 -3.4v3.4m.6 -4.2v4.2m.6 -4.9v4.9m.5 -4.5v4.5m.9 -.9v.9m.8 -2.9v2.9m.5 -.9v.9m.7 -1.3v1.3m.7 -4.2v4.2m-33 -36.9v12.3m.7 -20.5v24.1m.6 -19.3v9.8m.4 -10.3v8.5m.3 -16.9v23m.7 -20.7v13.6m.7 -19.9v21.6m.6 -17.8v17.5m.7 -17.2v20.4m.3 -14.7v10.8m.4 -9.5v7.5m.7 -14.2v19.8m.6 -17.5v14m.7 -12v15.9m.7 -14.1v18.1m.3 -17.5v19.8m.3 -15.8v10.1m.7 -12.7v11.8m.7 -19.2v23.1m.7 -18v15.2m.6 -11.6v10.3m.4 -13.2v17.3m.3 -14.4v9.7m.7 -16.7v20.2m.7 -14.4v5.2m.6 -14.5v21.4m.7 -19.9v16m.3 -14.4v11.7m.4 -19.1v23.6m.6 -19.6v9.8m.7 -3v9.3m.7 -1v5.8m.7 -7.8v15.7m.3 -12.3v11.9m.3 -10v11m.7 -6.5v7.8m.7 -7.7v12.6m.7 -5.8v4m.6 -2.7v6.4m.4 -7.2v10.6m.3 -12.4v14.5m.7 -12.1v10.5m.6 -10.4v11.1m.9 -11.1v12.1m.5 -12v7.5m.7 -13.8v14.2m.5 -15.2v11.8m.8 -4.2v6.9m.8 -2.1v7.5m.6 -8.7v12.5m.6 -7.9v6.9m.5 -4.6v4.9m.9 -8.8v12.2m.8 -9.7v9.2m.5 -9v9m.7 -9.7v10.2m.7 -11.4v11.4m4 -3.4v.9m4 .8v.8m.7 -.7v.8m.7 -.7v.9m2 -.4v.8" stroke="#cccccc" stroke-width="0.55" fill="none" marker-start="url(#cap)" marker-mid="url(#cap)" marker-end="url(#cap)"/>
<path d="M37.3 315.5l.7-1.5 .6 3.2 .4-1.3 .3-1.9 .7-1.9 .7 1.8 .6 2.6 .7-2.2 .3 2.1 .4 0 .7-2.7 .6 1.2 .7-.5 .7-1.3 .3 4 .3-1.4 .7-.1 .7-2.1 .7 1.4 .6-2.7 .4 4 .3-3.3 .7 1 .7 .6 .6-1.8 .7 3.5 .3 .6 .4-1.8 .6-.7 .7 1.5 .7 1.2 .7 2.2 .3 .4 .3 2.3 .7 2 .7 3.3 .7 1.1 .6-.3 .4 1.2 .3-1.1 .7 .9 .6 1.4 .9-.4 .5 2.3 .7-.9 .5 .8 .8 .7 .8 .6 .6 .5 .6 .1 .5-.1 .9 .5 .8 0 .5 0 .7 0 .7 0 .6 0 .7 0 .7 0 .7 0 .6 0 .7 0 .7 0 .6 0 .7 0 .7 0 .7 0 .6 0 .7 0 .7 0 .7 0 .6 0 .7 0 .7 0 .6 0 .7 0 .7 0 .7 0 .6 0 .7 0 .7 0 .7 0 .6 0 .7 0 .7 0 .6 0 .7 0 .7 0 .7 0 .6 0 .7 0 .7 0 .7 0 .6 0 .7 0 .7 0 .6 0 .7 0 .7 0 .7 0 .6 0 .7 0 .7 0 .7 0 .6 0 .7 0 .7 0 .6 0 .7 0 .7 0 .7 0 .6 0 .7 0 .7 0 .7 0 .6 0 .7 0 .7 0 .6 0 .7 0 .7 0 .7 0 .6 0 .7 0 .7 0 .7 0 .6 0 .7 0 .7 0 .6 0 .7 0 .7 0 .7 0 .6 0 .7 0 .7 0 .7 0 .6 0 .7 0 .7 0 .6 0 .7 0 .7 0 .7 0 .6 0 .7 0 .7 0 .7 0 .6 0 .7 0 .7 0 .6 0 .7 0 .7 0 .7 0 .6 0 .7 0 .7 0 .7 0 .6 0 .7 0 .7 0 .6 0 .7 0 .7 0 .7 0 .6 0 .7 0 .7 0 .7 0 .6 0 .7 0 .7 0 .6 0 .7 0 .7 0 .7 0 .6 0 .7 0 .7 0 .7 0 .6 0" stroke="#6e6e6e" stroke-width="1.05" fill="none" stroke-linejoin="round"/>
<path d="M37.3 303.5l.7 1.4 .6-7.7 .4 1.4 .3-2.9 .7 1.4 .7-6.4 .6 .1 .7 1.8 .3 4.5 .4-3.7 .7 5.3 .6-3.4 .7 4.8 .7-.5 .3 2.9 .3 1.8 .7-2.5 .7-4.1 .7 .7 .6 1.4 .4 .5 .3-4 .7 3.4 .7-2.7 .6-.6 .7 2.2 .3-4.3 .4 2.3 .6-6.7 .7 5 .7 8.3 .7 3.8 .3 2.4 .3-1.5 .7 2.8 .7 4.6 .7 .5 .6 2.6 .4 1.2 .3-.6 .7 .2 .6 2.4 .9 .3 .5-1.7 .7-6.4 .5 .3 .8 3.4 .8 6.7 .6 2.5 .6 .3 .5 1.4 .9 .6 .8 .4 .5 .2 .7 .2 .7 .3 .6-.1 .7 .4 .7 .3 .7 .1 .6 .6 .7 0 .7 .6 .6-.1 .7 .6 .7 .3 .7 .1 .6 .3 .7 .2 .7 0 .7 .3 .6 .1 .7 .2 .7 .1 .6 .1 .7 .1 .7 .2 .7 0 .6 0 .7 0 .7 0 .7 0 .6 0 .7 0 .7 0 .6 0 .7 0 .7 0 .7 0 .6 0 .7 0 .7 0 .7 0 .6 0 .7 0 .7 0 .6 0 .7 0 .7 0 .7 0 .6 0 .7 0 .7 0 .7 0 .6 0 .7 0 .7 0 .6 0 .7 0 .7 0 .7 0 .6 0 .7 0 .7 0 .7 0 .6 0 .7 0 .7 0 .6 0 .7 0 .7 0 .7 0 .6 0 .7 0 .7 0 .7 0 .6 0 .7 0 .7 0 .6 0 .7 0 .7 0 .7 0 .6 0 .7 0 .7 0 .7 0 .6 0 .7 0 .7 0 .6 0 .7 0 .7 0 .7 0 .6 0 .7 0 .7 0 .7 0 .6 0 .7 0 .7 0 .6 0 .7 0 .7 0 .7 0 .6 0 .7 0 .7 0 .7 0 .6 0 .7 0 .7 0 .6 0 .7 0 .7 0 .7 0 .6 0 .7 0 .7 0 .7 0 .6 0 .7 0 .7 0 .6 0 .7 0 .7 0 .7 0 .6 0 .7 0 .7 0 .7 0 .6 0" stroke="#4a7bd0" stroke-width="1.12" fill="none" stroke-linejoin="round"/>
</g>
<path d="M37.3 334.5H155.02" stroke="#919191" stroke-width="1.1" fill="none"/>
<path d="M37.3 358.2V416.4M35.1 416.4H37.3M35.1 401.85H37.3M35.1 387.3H37.3M35.1 372.75H37.3M35.1 358.2H37.3" stroke="#c4c4c4" stroke-width="0.9" fill="none"/>
<path d="M37.3 416.4V418.4M54.14 416.4V418.4M70.99 416.4V418.4M87.83 416.4V418.4M104.67 416.4V418.4M121.51 416.4V418.4M138.36 416.4V418.4M155.2 416.4V418.4" stroke="#606060" stroke-width="0.8" fill="none"/>
<text x="32.2" y="418.4" font-size="5.6" fill="#4a4a4a" font-family='"Liberation Sans", sans-serif' text-anchor="end" textLength="10.2" lengthAdjust="spacingAndGlyphs" stroke="#4a4a4a" stroke-width="0.22">0.00</text>
<text x="32.2" y="403.85" font-size="5.6" fill="#4a4a4a" font-family='"Liberation Sans", sans-serif' text-anchor="end" textLength="10.2" lengthAdjust="spacingAndGlyphs" stroke="#4a4a4a" stroke-width="0.22">0.05</text>
<text x="32.2" y="389.3" font-size="5.6" fill="#4a4a4a" font-family='"Liberation Sans", sans-serif' text-anchor="end" textLength="10.2" lengthAdjust="spacingAndGlyphs" stroke="#4a4a4a" stroke-width="0.22">0.10</text>
<text x="32.2" y="374.75" font-size="5.6" fill="#4a4a4a" font-family='"Liberation Sans", sans-serif' text-anchor="end" textLength="10.2" lengthAdjust="spacingAndGlyphs" stroke="#4a4a4a" stroke-width="0.22">0.15</text>
<text x="32.2" y="360.2" font-size="5.6" fill="#4a4a4a" font-family='"Liberation Sans", sans-serif' text-anchor="end" textLength="10.2" lengthAdjust="spacingAndGlyphs" stroke="#4a4a4a" stroke-width="0.22">0.20</text>
<text x="37.3" y="425.3" font-size="5.6" fill="#4a4a4a" font-family='"Liberation Sans", sans-serif' text-anchor="middle" textLength="2.7" lengthAdjust="spacingAndGlyphs" stroke="#4a4a4a" stroke-width="0.26">0</text>
<text x="54.14" y="425.3" font-size="5.6" fill="#4a4a4a" font-family='"Liberation Sans", sans-serif' text-anchor="middle" textLength="2.7" lengthAdjust="spacingAndGlyphs" stroke="#4a4a4a" stroke-width="0.26">5</text>
<text x="70.99" y="425.3" font-size="5.6" fill="#4a4a4a" font-family='"Liberation Sans", sans-serif' text-anchor="middle" textLength="5.3" lengthAdjust="spacingAndGlyphs" stroke="#4a4a4a" stroke-width="0.26">10</text>
<text x="87.83" y="425.3" font-size="5.6" fill="#4a4a4a" font-family='"Liberation Sans", sans-serif' text-anchor="middle" textLength="5.3" lengthAdjust="spacingAndGlyphs" stroke="#4a4a4a" stroke-width="0.26">15</text>
<text x="104.67" y="425.3" font-size="5.6" fill="#4a4a4a" font-family='"Liberation Sans", sans-serif' text-anchor="middle" textLength="5.3" lengthAdjust="spacingAndGlyphs" stroke="#4a4a4a" stroke-width="0.26">20</text>
<text x="121.51" y="425.3" font-size="5.6" fill="#4a4a4a" font-family='"Liberation Sans", sans-serif' text-anchor="middle" textLength="5.3" lengthAdjust="spacingAndGlyphs" stroke="#4a4a4a" stroke-width="0.26">25</text>
<text x="138.36" y="425.3" font-size="5.6" fill="#4a4a4a" font-family='"Liberation Sans", sans-serif' text-anchor="middle" textLength="5.3" lengthAdjust="spacingAndGlyphs" stroke="#4a4a4a" stroke-width="0.26">30</text>
<text x="155.2" y="425.3" font-size="5.6" fill="#4a4a4a" font-family='"Liberation Sans", sans-serif' text-anchor="middle" textLength="5.3" lengthAdjust="spacingAndGlyphs" stroke="#4a4a4a" stroke-width="0.26">35</text>
<text x="90.75" y="358" font-size="6.5" fill="#303030" font-family='"Liberation Sans", sans-serif' text-anchor="middle" textLength="51.5" lengthAdjust="spacingAndGlyphs" stroke="#303030" stroke-width="0.15">Gamma (30-100Hz)</text>
<clipPath id="cAr4"><rect x="34.3" y="328.2" width="123.9" height="88.2"/></clipPath>
<g clip-path="url(#cAr4)">
<path d="M37.3 410.5v3.1m.7 -4.3v5.1m.6 -5.3v5.2m.4 -4.6v3.8m.3 -2.5v1.1m.7 -3.2v4.8m.7 -4.5v4m.6 -4.9v5.5m.7 -5.7v5.7m.4 -4.3v2.7m.3 -4v5.2m.7 -5.2v5m.6 -3.8v2.4m.7 -2.5v2.8m.7 -2.7v2.9m.3 -2.8v2.8m.4 -2.8v2.9m.6 -2.1v1.5m.7 -1.7v2.1m.7 -3.6v5.5m.7 -4.1v3m.3 -3.5v4.2m.3 -4.7v5.4m.7 -4.9v4.7m.7 -3.3v2.3m.6 -3.9v5.5m.7 -5.3v5m.4 -5.4v5.9m.3 -5.3v4.6m.7 -4.6v4.7m.6 -4.9v5m.7 -3.4v2.3m.4 -3.2v4.2m.3 -3.5v2.9m.7 -3v3.5m.6 -2.1v1.1m.7 -1.6v2.4m.7 -2v1.8m.7 -2.4v3.3m.3 -2.5v1.8m.3 -2.6v3.5m.7 -3.4v3.5m.7 -3.4v3.6m.8 -1.7v1.2m.5 -2v3.6m.7 -2.7v2.7m.5 -2.2v2.2m.8 -1.4v1.4m1.4 -1.8v1.8m.7 -1.2v1.2m.5 -1.1v1.1m.8 -.9v.9m.9 -1.6v1.6m.5 -1.6v1.6m.6 -1.8v1.8m-32.3 -41.8v13.7m.7 -15.5v17.4m.6 -21.1v24.7m.4 -17.9v11.2m.3 -15.3v20m.7 -14.1v9.3m.7 -8.3v8.4m.6 -8.6v7.7m.7 -10.8v12.7m.4 -15.1v17m.3 -13.2v10.5m.7 -7.9v7.7m.6 -7.1v8.8m.7 -6.3v6.1m.7 -6v8.3m.3 -9v10.8m.4 -13.3v14.6m.6 -12.5v8.1m.7 -12.3v14.2m.7 -14.9v13.3m.7 -19.9v24.2m.3 -19.9v14.3m.3 -18.6v23.6m.7 -18.2v13.9m.7 -10.6v8.4m.6 -13v16.5m.7 -12.5v7.3m.4 -7.8v7.8m.3 -6.8v5.8m.7 -12.2v18.6m.6 -21.4v24.1m.7 -14.4v12.6m.4 -10.2v11.6m.3 -7.5v13.1m.7 .8v4.7m.6 -4.6v7.4m.7 -4.7v4.9m.7 -3.9v3m.7 -5.9v8.8m.3 -7.6v6.4m.3 -3.9v1.8m.7 -4.9v8.7m.7 -7.8v7.7m.8 -5.7v4.6m.5 -5.3v6.9m.7 -7.5v9.3m.5 -6.7v5m.8 -3.7v5.3m.9 -3.3v4.2m.5 -4.4v6.3m.7 -5.6v7.2m.5 -6.6v6.8m.8 -6.9v6.9m.9 -2.9v2.9m.5 -3.7v3.7m.6 -5.5v5.5m.7 -5.1v5.1m2.7 -1.3v.9m3.4 -.9v.9m4.7 -.9v.9m2 -.9v.9m7.4 -.9v.9m11.5 -.9v.9m.7 -.9v.9m1.3 -.9v.9m1.3 -.9v.9m2.7 -.9v.9m2.1 -.9v.9m2 -1v1m8.1 -1v1m1.3 -1v1m3.4 -1v1m.7 -1v1m10.1 -.9v.9m2.7 -.9v.9m.6 -.9v.9m.7 -.9v.9m11.5 -1v1m.6 -.9v.9m.7 -.9v.9" stroke="#cccccc" stroke-width="0.55" fill="none" marker-start="url(#cap)" marker-mid="url(#cap)" marker-end="url(#cap)"/>
<path d="M37.3 411.8l.7-.7 .6-.2 .4 .5 .3 .2 .7-.4 .7 .1 .6-.1 .7-1.2 .4 .9 .3-.8 .7 .6 .6-.1 .7 .3 .7 .7 .3-1.1 .4 .5 .6-.4 .7 .7 .7 .2 .7 .2 .3-.6 .3-.6 .7 1.3 .7 0 .6-.3 .7 0 .4 1.1 .3-.3 .7 .2 .6-.6 .7 .6 .4-.1 .3-.3 .7 .9 .6-.4 .7 .4 .7 .1 .7-.4 .3 0 .3 1.3 .7-.3 .7-.1 .8 1.2 .5-.3 .7 .9 .5 .4 .8 .6 .9 0 .5 0 .7 0 .5 0 .8 0 .9 0 .5 0 .6 0 .7 0 .7 0 .7 0 .6 0 .7 0 .7 0 .7 0 .6 0 .7 0 .7 0 .6 0 .7 0 .7 0 .7 0 .6 0 .7 0 .7 0 .7 0 .6 0 .7 0 .7 0 .7 0 .6 0 .7 0 .7 0 .7 0 .6 0 .7 0 .7 0 .6 0 .7 0 .7 0 .7 0 .6 0 .7 0 .7 0 .7 0 .6 0 .7 0 .7 0 .7 0 .6 0 .7 0 .7 0 .7 0 .6 0 .7 0 .7 0 .7 0 .6 0 .7 0 .7 0 .6 0 .7 0 .7 0 .7 0 .6 0 .7 0 .7 0 .7 0 .6 0 .7 0 .7 0 .7 0 .6 0 .7 0 .7 0 .7 0 .6 0 .7 0 .7 0 .6 0 .7 0 .7 0 .7 0 .6 0 .7 0 .7 0 .7 0 .6 0 .7 0 .7 0 .7 0 .6 0 .7 0 .7 0 .7 0 .6 0 .7 0 .7 0 .6 0 .7 0 .7 0 .7 0 .6 0 .7 0 .7 0 .7 0 .6 0 .7 0 .7 0 .7 0 .6 0 .7 0 .7 0 .7 0 .6 0 .7 0 .7 0 .6 0 .7 0 .7 0 .7 0 .6 0 .7 0 .7 0 .7 0 .6 0 .7 0 .7 0 .7 0 .6 0 .7 0 .7 0 .7 0 .6 0 .7 0" stroke="#6e6e6e" stroke-width="1.05" fill="none" stroke-linejoin="round"/>
<path d="M37.3 382l.7-.4 .6-.9 .4 .8 .3-2.1 .7 .8 .7 3.1 .6-.8 .7 1 .4-2.6 .3 1 .7 3.5 .6-.6 .7 1.3 .7-.5 .3 2.1 .4-2.2 .6-1.1 .7 .7 .7-.2 .7-6.4 .3 2.4 .3-1.1 .7 4.3 .7-1.9 .6 .4 .7 .9 .4-2.7 .3-2.5 .7 3.8 .6-.4 .7 6.3 .4-.5 .3 3 .7 10.8 .6 2.7 .7 .6 .7 .5 .7 0 .3-.3 .3 1.5 .7 0 .7-.6 .8 .5 .5 .6 .7 1.1 .5-.2 .8 1.4 .9 1.4 .5 .8 .7 2.1 .5 .1 .8 .7 .9 .9 .5 0 .6 0 .7 .2 .7 .2 .7 0 .6 .1 .7-.2 .7 .1 .7-.1 .6 .2 .7-.1 .7-.1 .6 .1 .7 .1 .7-.1 .7-.1 .6 .2 .7 .1 .7 0 .7-.1 .6 0 .7-.1 .7 .1 .7-.1 .6 0 .7 0 .7 .1 .7-.1 .6 .1 .7-.1 .7 0 .6 .1 .7-.1 .7 .1 .7-.1 .6 .1 .7-.1 .7 .1 .7-.1 .6 0 .7 0 .7 .1 .7-.1 .6 0 .7 .1 .7-.1 .7 .1 .6 0 .7 0 .7 0 .7 0 .6-.1 .7 .1 .7-.1 .6 0 .7 .1 .7-.1 .7 0 .6 0 .7-.1 .7 .2 .7 0 .6-.2 .7 .2 .7 0 .7-.1 .6 0 .7 0 .7 0 .7 .1 .6-.1 .7 .1 .7 .1 .6-.1 .7 0 .7-.2 .7 0 .6 .1 .7 .1 .7-.2 .7 .2 .6-.1 .7 0 .7 .1 .7-.1 .6 0 .7-.1 .7 .1 .7 .1 .6-.1 .7 .1 .7-.1 .6 0 .7 0 .7-.1 .7 .2 .6-.1 .7 0 .7 .1 .7-.1 .6 0 .7 0 .7 0 .7 .1 .6-.1 .7 0 .7 .1 .7-.1 .6 0 .7 0 .7 .1 .6 0 .7-.2 .7 0 .7 .1 .6 .1 .7 0 .7 0 .7-.1 .6 .1 .7-.1 .7 .1 .7-.1 .6-.1 .7 .1 .7 .2 .7-.2 .6 .1 .7 0" stroke="#f0863a" stroke-width="1.12" fill="none" stroke-linejoin="round"/>
</g>
<path d="M37.3 416.4H155.2" stroke="#919191" stroke-width="1.1" fill="none"/>
<path d="M209.4 31.4V88.4M207.2 88.4H209.4M207.2 74.15H209.4M207.2 59.9H209.4M207.2 45.65H209.4M207.2 31.4H209.4" stroke="#c4c4c4" stroke-width="0.9" fill="none"/>
<path d="M209.4 88.4V90.4M226.59 88.4V90.4M243.77 88.4V90.4M260.96 88.4V90.4M278.14 88.4V90.4M295.33 88.4V90.4M312.51 88.4V90.4M329.7 88.4V90.4" stroke="#606060" stroke-width="0.8" fill="none"/>
<text x="204.3" y="90.4" font-size="5.6" fill="#4a4a4a" font-family='"Liberation Sans", sans-serif' text-anchor="end" textLength="10.2" lengthAdjust="spacingAndGlyphs" stroke="#4a4a4a" stroke-width="0.22">0.00</text>
<text x="204.3" y="76.15" font-size="5.6" fill="#4a4a4a" font-family='"Liberation Sans", sans-serif' text-anchor="end" textLength="10.2" lengthAdjust="spacingAndGlyphs" stroke="#4a4a4a" stroke-width="0.22">1.00</text>
<text x="204.3" y="61.9" font-size="5.6" fill="#4a4a4a" font-family='"Liberation Sans", sans-serif' text-anchor="end" textLength="10.2" lengthAdjust="spacingAndGlyphs" stroke="#4a4a4a" stroke-width="0.22">2.00</text>
<text x="204.3" y="47.65" font-size="5.6" fill="#4a4a4a" font-family='"Liberation Sans", sans-serif' text-anchor="end" textLength="10.2" lengthAdjust="spacingAndGlyphs" stroke="#4a4a4a" stroke-width="0.22">3.00</text>
<text x="204.3" y="33.4" font-size="5.6" fill="#4a4a4a" font-family='"Liberation Sans", sans-serif' text-anchor="end" textLength="10.2" lengthAdjust="spacingAndGlyphs" stroke="#4a4a4a" stroke-width="0.22">4.00</text>
<text x="209.4" y="97.3" font-size="5.6" fill="#4a4a4a" font-family='"Liberation Sans", sans-serif' text-anchor="middle" textLength="2.7" lengthAdjust="spacingAndGlyphs" stroke="#4a4a4a" stroke-width="0.26">0</text>
<text x="226.59" y="97.3" font-size="5.6" fill="#4a4a4a" font-family='"Liberation Sans", sans-serif' text-anchor="middle" textLength="2.7" lengthAdjust="spacingAndGlyphs" stroke="#4a4a4a" stroke-width="0.26">5</text>
<text x="243.77" y="97.3" font-size="5.6" fill="#4a4a4a" font-family='"Liberation Sans", sans-serif' text-anchor="middle" textLength="5.3" lengthAdjust="spacingAndGlyphs" stroke="#4a4a4a" stroke-width="0.26">10</text>
<text x="260.96" y="97.3" font-size="5.6" fill="#4a4a4a" font-family='"Liberation Sans", sans-serif' text-anchor="middle" textLength="5.3" lengthAdjust="spacingAndGlyphs" stroke="#4a4a4a" stroke-width="0.26">15</text>
<text x="278.14" y="97.3" font-size="5.6" fill="#4a4a4a" font-family='"Liberation Sans", sans-serif' text-anchor="middle" textLength="5.3" lengthAdjust="spacingAndGlyphs" stroke="#4a4a4a" stroke-width="0.26">20</text>
<text x="295.33" y="97.3" font-size="5.6" fill="#4a4a4a" font-family='"Liberation Sans", sans-serif' text-anchor="middle" textLength="5.3" lengthAdjust="spacingAndGlyphs" stroke="#4a4a4a" stroke-width="0.26">25</text>
<text x="312.51" y="97.3" font-size="5.6" fill="#4a4a4a" font-family='"Liberation Sans", sans-serif' text-anchor="middle" textLength="5.3" lengthAdjust="spacingAndGlyphs" stroke="#4a4a4a" stroke-width="0.26">30</text>
<text x="329.7" y="97.3" font-size="5.6" fill="#4a4a4a" font-family='"Liberation Sans", sans-serif' text-anchor="middle" textLength="5.3" lengthAdjust="spacingAndGlyphs" stroke="#4a4a4a" stroke-width="0.26">35</text>
<text x="263.9" y="30.8" font-size="6.5" fill="#303030" font-family='"Liberation Sans", sans-serif' text-anchor="middle" textLength="39.8" lengthAdjust="spacingAndGlyphs" stroke="#303030" stroke-width="0.15">Delta (0.1-3Hz)</text>
<clipPath id="cAn0"><rect x="206.4" y="1.4" width="126.3" height="87"/></clipPath>
<g clip-path="url(#cAn0)">
<path d="M209.4 71.1v7.5m.7 -5.5v3.5m.3 -4.9v6.3m.4 -6.6v6.9m.7 -5.8v4.7m.6 -5.1v5.5m.7 -3.9v2.3m.7 -4.7v6.8m.7 -7.1v7.2m.4 -5.2v3m.3 -4.6v6.1m.7 -7v7.6m.7 -5.2v2.5m.7 -5.6v8.4m.6 -8.7v8.7m.4 -5.5v2.2m.3 -3v3.7m.7 -3.2v2.4m.7 -3.2v3.7m.7 -2.9v2.4m.7 -3.9v5.6m.3 -4.6v3.7m.4 -3.8v4.1m.7 -4.6v5.4m.6 -4.9v4.7m.7 -6.4v8.1m.7 -7.8v7.5m.4 -5.1v2.7m.3 -3.1v3.5m.7 -2.6v1.7m.7 -3v4.3m.7 -3.2v2.6m.3 -4.8v7.3m.4 -7.4v7.9m.3 -6.3v4.9m.3 -2.7v1.7m.4 -.8v1m.3 -1.9v3.9m.7 -2v2.5m.7 -2.7v4.6m.4 -3.1v2.4m.3 -1.8v2.1m.3 -1.2v1.1m.4 -2.7v4.6m.7 -3.5v2.9m.7 -2.4v2.6m.6 -2.4v2.6m.4 -3.1v4m.3 -4v4.2m.7 -3.2v2.8m.7 -1.9v1.6m.4 -1.9v2.5m.3 -3.3v4.4m.7 -3.5v2.5m.7 -3v3.5m.3 -3.3v3.1m.4 -2.6v2.7m.6 -2.3v3.1m.7 -1.9v1.8m.7 -3.3v3.1m.4 -4.1v4.3m.3 -3.2v1.2m.4 -2.2v2.3m.3 -3.7v4.3m.7 -5.4v4.8m.7 -3.8v1m.7 -2.1v3.8m.6 -3.5v3.8m.4 -4.1v4.7m.3 -3.6v3.1m.7 -1.8v1.6m.7 -1.4v2.3m.7 -3.1v4.2m.7 -4v4.2m.7 -2.9v1.8m.7 -2.7v3.9m.6 -3.8v3.9m.7 -3.9v3.9m.7 -2.5v1m.7 -2v2.9m.7 -2.7v2.4m.7 -3.1v3.7m.7 -3.1v2.4m.7 -2v1.5m.6 -2.8v4m.7 -3.2v2.3m.7 -3.4v4.5m.7 -3.5v2.3m.7 -2.9v3.4m.7 -4v4.6m.7 -3.1v1.5m.7 -2.9v4.2m.6 -2.7v1.2m.7 -3.1v5.1m.7 -3.1v1.1m.7 -2.6v4.2m.7 -3.4v2.6m.7 -2.1v1.7m.7 -2.2v2.7m.7 -2.9v3.2m.6 -3v2.8m.7 -2.1v1.5m.7 -2.4v3.3m.7 -2.7v2.3m.7 -3.8v5.3m.7 -4v2.7m.7 -2.7v2.9m.7 -2.5v2m.6 -3.6v5.3m.7 -3.8v2.4m.7 -3.1v3.8m.7 -4.2v4.7m.7 -3.7v2.7m.7 -3.5v4.4m.7 -3.3v2.2m.7 -1.8v1.5m.6 -1.3v1.2m.7 -2.1v2.9m.7 -3.9v4.9m.7 -3.4v1.8m.7 -2.4v2.9m.7 -3.6v4.3m.7 -3.3v2.2m.7 -1.9v1.6m.6 -2.5v3.3m.7 -3.1v2.9m.7 -4.1v5.2m.7 -5.1v5m.7 -3.6v2.1m.7 -2.8v3.4m.7 -3.1v2.8m.7 -2v1.1m.6 -2v2.9m.7 -4v5m.7 -3.7v2.3m.7 -2.9v3.5m.7 -3.8v4.1m.7 -2.7v1.2m.7 -3.2v5.1m.7 -3.3v1.5m.6 -1.9v2.3m.7 -3.3v4.2m.7 -2.6v1m.7 -1.8v2.6m.7 -2v1.5m.7 -2.2v3m.7 -2v1m.7 -1.3v1.7m.6 -1.8v2m.7 -1.7v1.4m.7 -1.3v1.3m.7 -1.6v1.9m.7 -2.5v3.2m.7 -2.4v1.6m.7 -3.1v4.7m.7 -3.7v2.8m.6 -2.4v2m.7 -2v2m.7 -3.3v4.7m.7 -2.9v1.2m.7 -2.7v4.3m.7 -2.9v1.4m.7 -3.2v5.2m.7 -4v2.8m.6 -3.2v3.6m.7 -4.1v4.8m.7 -3.1v1.4m.7 -1.4v1.3m.7 -2.7v4.1m.7 -3.9v3.6m.7 -3.9v4.2m.7 -3.2v2.2m.6 -2.7v3.2m.7 -2.5v1.8m.7 -2.4v2.9m.7 -2.6v2.2m.7 -2.9v3.6m.7 -2.9v2.2m.7 -2.2v2.2m.7 -3v3.8m.6 -2.6v1.3m.7 -2.9v4.5m.7 -3.9v3.2m.7 -2.6v2m.7 -1.8v1.5m.7 -2.4v3.3m.7 -3.3v3.3m.7 -3.8v4.2m.6 -3.4v2.6m.7 -2.7v2.8m.7 -3.9v5m.7 -3.6v2.2m-120.3 -8.6v7.2m.7 -7.4v6.6m.3 -7.1v7.2m.4 -7.8v7m.7 -6.3v2.8m.6 -4.5v6.1m.7 -5.5v4.9m.7 -3.4v2.5m.7 -4.6v7.3m.4 -6.1v5.2m.3 -5.8v6.1m.7 -5.7v4.7m.7 -3.5v1.7m.7 -4.9v6.4m.6 -5.2v2.3m.4 -3v2.8m.3 -4.1v5m.7 -4.2v2.4m.7 -.4v4.1m.7 -4.8v5.5m.7 -3.7v1.9m.3 -3.6v5.3m.4 -3.7v1.9m.7 -3.3v4.1m.6 -4.9v5.1m.7 -5.2v5.3m.7 -3.4v1.5m.4 -2v2.5m.3 -5v7m.7 -5.9v3.6m.7 -4.3v3.8m.7 -7.4v3.5m.3 -6.4v5.4m.4 -4.5v5.8m.3 -6.1v8.6m.3 -6.3v6.1m.4 -5.9v7.8m.3 -6.6v7.3m.7 -3.8v4.1m.7 -6v11.7m.4 -10.8v11.8m.3 -9.7v9.9m.3 -9.7v12m.4 -8.2v6.8m.7 -11.9v10.5m.7 -10.7v4.5m.6 -16.5v9.5m.4 -14.1v9.2m.3 -11.8v11.5m.7 -13.8v10.5m.7 -13.6v10.9m.4 -9.3v4.9m.3 -3.6v9.9m.7 -.8v6.9m.7 1.5v5.3m.3 -1.8v5.9m.4 -4.7v10.1m.6 -3.6v9.5m.7 -9v9m.7 -7.5v7.5m.4 -4.8v3.9m.3 -3.7v3.7m.4 -5.6v6.5m.3 -4.7v4.3m.7 -4.7v5.1m2.7 -2.3v.8m6.9 -.2v.9m2.1 -.8v1m6.8 -.6v1m1.4 -.9v1m2.1 -.9v.9m8.2 -.7v.8m1.4 -.8v.8m2.1 -.8v.8m19.2 -.8v.8m.7 -.8v.8m3.4 -.8v.8m4.9 -.8v.8m1.3 -.8v.8m.7 -.8v.8m6.9 -.9v.9m6.2 -1v.9m.7 -.9v.9m-77 -14.1v8.5m1.7 -7.1v7.1" stroke="#cccccc" stroke-width="0.55" fill="none" marker-start="url(#cap)" marker-mid="url(#cap)" marker-end="url(#cap)"/>
<path d="M209.4 74.6l.7 1.3 .3-2.8 .4 1.6 .7-1.2 .6 1.4 .7-.5 .7 1 .7-.2 .4-1.7 .3 1.4 .7-2 .7 .8 .7-.6 .6 .8 .4-1.5 .3 1 .7-.3 .7-.1 .7 2.4 .7-2.3 .3 .4 .4-.5 .7 2 .6-.7 .7-.4 .7 .7 .4-2.3 .3 .8 .7 1.2 .7-.1 .7 1.2 .3-2.3 .4 3.4 .3-1.8 .3 1.2 .4 .3 .3-.1 .7 1.9 .7 1.6 .4-1.1 .3 1.2 .3 .3 .4-1.1 .7 1.3 .7 .3 .6 .7 .4-.2 .3-.7 .7 .4 .7 .5 .4-.4 .3 1.2 .7-.8 .7 1 .3-.1 .4 .2 .6 .4 .7 .6 .7-.7 .4-.5 .3-.1 .4-.8 .3-.4 .7-.5 .7-1.3 .7 .6 .6 .3 .4 .3 .3-.3 .7 .9 .7 .8 .7-.2 .7-.1 .7 .3 .7 .5 .6 .1 .7-.3 .7 .2 .7-.5 .7 .3 .7-.6 .7 .4 .7-.1 .6 .3 .7-.5 .7 .3 .7-.5 .7 .1 .7-.1 .7 .3 .7-.5 .6 .3 .7 .1 .7 0 .7-.4 .7 .2 .7 .2 .7-.2 .7 .1 .6 .2 .7-.3 .7 .3 .7 .2 .7 0 .7 0 .7 .1 .7-.2 .6 .3 .7-.3 .7-.1 .7 .6 .7 0 .7-.2 .7-.2 .7 .4 .6-.2 .7 0 .7 .2 .7-.1 .7-.3 .7 .2 .7 .3 .7-.5 .6 0 .7-.1 .7 .1 .7 .4 .7-.6 .7 0 .7 0 .7 .3 .6-.2 .7 .2 .7-.2 .7-.1 .7 .1 .7 .1 .7-.5 .7 .1 .6-.2 .7 .1 .7 .2 .7-.4 .7 .3 .7 .4 .7-.3 .7 .3 .6-.6 .7 .4 .7 .1 .7 0 .7 0 .7-.2 .7 0 .7 .2 .6 .1 .7 .1 .7-.1 .7 .1 .7-.1 .7 .4 .7-.2 .7 .2 .6-.1 .7-.2 .7 .1 .7 .1 .7-.1 .7 .1 .7 .1 .7 .1 .6-.5 .7 .2 .7 0 .7 .3 .7-.3 .7-.2 .7-.1 .7-.1 .6 .3 .7-.5 .7 .8 .7-.2 .7-.4 .7 .3 .7 .2 .7-.5 .6 .4 .7-.1 .7 .1 .7-.4" stroke="#6e6e6e" stroke-width="1.05" fill="none" stroke-linejoin="round"/>
<path d="M209.4 77.8l.7-1.6 .3 .7 .4-1.5 .7-.4 .6 .4 .7-.5 .7-1.5 .7 3.1 .4-.7 .3-1.1 .7 .2 .7 .2 .7-1.5 .6 .3 .4-.6 .3 1 .7-2.2 .7 2.7 .7-.8 .7 2.4 .3-1.8 .4-.9 .7 .4 .6 0 .7-.7 .7 0 .4 1 .3-1.8 .7 .9 .7-1.1 .7-5 .3-.2 .4 .9 .3 2.4 .3-.2 .4 .9 .3 1.7 .7 1.7 .7 2.1 .4 .2 .3-.4 .3 2.6 .4 1.3 .7-2.6 .7-4 .6-10.1 .4-3.2 .3-4.5 .7 .8 .7-8.2 .4 3.6 .3-.2 .7 10.8 .7 7.3 .3 4.6 .4 3.1 .6 6.2 .7 .5 .7 .8 .4 .3 .3 .1 .4 .2 .3-.1 .7 .4 .7 0 .7-.1 .6 .3 .4 .1 .3 .1 .7 .1 .7 .1 .7-.2 .7 0 .7 .1 .7 .1 .6 .2 .7-.1 .7 .3 .7-.2 .7 .3 .7 .1 .7-.2 .7 .1 .6 .1 .7 0 .7 .1 .7 0 .7 .2 .7 0 .7 0 .7 0 .6 0 .7 .1 .7 0 .7 0 .7 0 .7 .1 .7-.1 .7 .1 .6 .1 .7-.2 .7 .2 .7-.1 .7 .1 .7-.1 .7 0 .7 .1 .6 0 .7 .1 .7-.1 .7 0 .7 .1 .7-.1 .7 .1 .7 0 .6 0 .7 0 .7 0 .7 0 .7 0 .7 0 .7 0 .7 0 .6 0 .7 0 .7 0 .7 .1 .7-.1 .7 0 .7 0 .7 0 .6 0 .7 0 .7 0 .7 0 .7 0 .7 0 .7 0 .7 0 .6 0 .7 0 .7 0 .7 0 .7 0 .7 0 .7 0 .7 0 .6 0 .7 0 .7 0 .7 0 .7 0 .7-.1 .7 .1 .7 0 .6 0 .7-.1 .7 0 .7 0 .7 .1 .7-.1 .7 0 .7 0 .6-.1 .7 .1 .7 0 .7 0 .7 0 .7-.1 .7 .1 .7-.2 .6 .1 .7 0 .7-.1 .7 .1 .7 0 .7-.1 .7 .1 .7-.1 .6 .1 .7-.1 .7 0 .7 0 .7-.1 .7 0 .7 0 .7 .1 .6-.1 .7 .1 .7-.2 .7 .1" stroke="#7b3bb3" stroke-width="1.12" fill="none" stroke-linejoin="round"/>
</g>
<path d="M209.4 88.4H329.7" stroke="#919191" stroke-width="1.1" fill="none"/>
<path d="M284 39.5H292.4" stroke="#7b3bb3" stroke-width="1.1"/>
<path d="M284 46.8H292.4" stroke="#8a8a8a" stroke-width="0.9"/>
<text x="292.8" y="41.6" font-size="5.8" fill="#303030" font-family='"Liberation Sans", sans-serif' textLength="34" lengthAdjust="spacingAndGlyphs" stroke="#303030" stroke-width="0.12">Freely-moving</text>
<text x="292.8" y="48.9" font-size="5.8" fill="#303030" font-family='"Liberation Sans", sans-serif' textLength="31.45" lengthAdjust="spacingAndGlyphs" stroke="#303030" stroke-width="0.12">Anesthetized</text>
<path d="M209.5 112.4V170.4M207.3 170.4H209.5M207.3 151.07H209.5M207.3 131.73H209.5M207.3 112.4H209.5" stroke="#c4c4c4" stroke-width="0.9" fill="none"/>
<path d="M209.5 170.4V172.4M226.65 170.4V172.4M243.8 170.4V172.4M260.95 170.4V172.4M278.1 170.4V172.4M295.25 170.4V172.4M312.4 170.4V172.4M329.55 170.4V172.4" stroke="#606060" stroke-width="0.8" fill="none"/>
<text x="204.4" y="172.4" font-size="5.6" fill="#4a4a4a" font-family='"Liberation Sans", sans-serif' text-anchor="end" textLength="10.2" lengthAdjust="spacingAndGlyphs" stroke="#4a4a4a" stroke-width="0.22">0.00</text>
<text x="204.4" y="153.07" font-size="5.6" fill="#4a4a4a" font-family='"Liberation Sans", sans-serif' text-anchor="end" textLength="10.2" lengthAdjust="spacingAndGlyphs" stroke="#4a4a4a" stroke-width="0.22">0.60</text>
<text x="204.4" y="133.73" font-size="5.6" fill="#4a4a4a" font-family='"Liberation Sans", sans-serif' text-anchor="end" textLength="10.2" lengthAdjust="spacingAndGlyphs" stroke="#4a4a4a" stroke-width="0.22">1.20</text>
<text x="204.4" y="114.4" font-size="5.6" fill="#4a4a4a" font-family='"Liberation Sans", sans-serif' text-anchor="end" textLength="10.2" lengthAdjust="spacingAndGlyphs" stroke="#4a4a4a" stroke-width="0.22">1.80</text>
<text x="209.5" y="179.3" font-size="5.6" fill="#4a4a4a" font-family='"Liberation Sans", sans-serif' text-anchor="middle" textLength="2.7" lengthAdjust="spacingAndGlyphs" stroke="#4a4a4a" stroke-width="0.26">0</text>
<text x="226.65" y="179.3" font-size="5.6" fill="#4a4a4a" font-family='"Liberation Sans", sans-serif' text-anchor="middle" textLength="2.7" lengthAdjust="spacingAndGlyphs" stroke="#4a4a4a" stroke-width="0.26">5</text>
<text x="243.8" y="179.3" font-size="5.6" fill="#4a4a4a" font-family='"Liberation Sans", sans-serif' text-anchor="middle" textLength="5.3" lengthAdjust="spacingAndGlyphs" stroke="#4a4a4a" stroke-width="0.26">10</text>
<text x="260.95" y="179.3" font-size="5.6" fill="#4a4a4a" font-family='"Liberation Sans", sans-serif' text-anchor="middle" textLength="5.3" lengthAdjust="spacingAndGlyphs" stroke="#4a4a4a" stroke-width="0.26">15</text>
<text x="278.1" y="179.3" font-size="5.6" fill="#4a4a4a" font-family='"Liberation Sans", sans-serif' text-anchor="middle" textLength="5.3" lengthAdjust="spacingAndGlyphs" stroke="#4a4a4a" stroke-width="0.26">20</text>
<text x="295.25" y="179.3" font-size="5.6" fill="#4a4a4a" font-family='"Liberation Sans", sans-serif' text-anchor="middle" textLength="5.3" lengthAdjust="spacingAndGlyphs" stroke="#4a4a4a" stroke-width="0.26">25</text>
<text x="312.4" y="179.3" font-size="5.6" fill="#4a4a4a" font-family='"Liberation Sans", sans-serif' text-anchor="middle" textLength="5.3" lengthAdjust="spacingAndGlyphs" stroke="#4a4a4a" stroke-width="0.26">30</text>
<text x="329.55" y="179.3" font-size="5.6" fill="#4a4a4a" font-family='"Liberation Sans", sans-serif' text-anchor="middle" textLength="5.3" lengthAdjust="spacingAndGlyphs" stroke="#4a4a4a" stroke-width="0.26">35</text>
<text x="264.6" y="112.9" font-size="6.5" fill="#303030" font-family='"Liberation Sans", sans-serif' text-anchor="middle" textLength="36.2" lengthAdjust="spacingAndGlyphs" stroke="#303030" stroke-width="0.15">Theta (3-7Hz)</text>
<clipPath id="cAn1"><rect x="206.5" y="82.4" width="126.05" height="88"/></clipPath>
<g clip-path="url(#cAn1)">
<path d="M209.5 127.2v12.2m.7 -11.6v13.7m.7 -9.8v8.4m.3 -6v5m.4 -8.1v11.8m.6 -8.9v7.2m.7 -5.3v4.7m.7 -4.6v5.2m.7 -6.5v8.4m.3 -6.3v4.6m.4 -6.2v8.1m.7 -8.9v10.3m.7 -10v10.4m.6 -9.7v8.3m.7 -11.3v13.7m.4 -9.1v4.1m.3 -5.9v7.4m.7 -11.8v15.6m.7 -15.4v14.6m.7 -14.7v15.4m.7 -14v13.3m.3 -11.6v10.2m.3 -11.7v13.5m.7 -11.8v10.7m.7 -7.3v4.5m.7 -6v6.3m.7 -5.9v4.2m.3 -9.8v14.7m.4 -11.3v7.3m.7 -8.5v8.4m.7 -9.9v10.2m.6 -5.3v4.2m.7 -6.4v12.5m.4 -9.9v9.2m.3 -7.2v9.1m.7 -5.6v9.8m.7 -3.4v4.8m.7 -2.8v3.3m.7 -4.8v8.8m.3 -7.8v8.2m.3 -6.4v5.3m.7 -4.6v5.1m.7 -3.6v3.4m.9 -4v9.4m.5 -6.3v6.1m.3 -6.7v9.3m.4 -6.8v5m.5 -4.5v4.9m.8 -4.9v6.5m.9 -7.2v8.7m.5 -9.1v9.9m.7 -7.1v5.1m.5 -6.4v8.1m.9 -6.4v5.5m.8 -8.8v9.7m.5 -10v8.8m.7 -8.8v6.9m.7 -7v5.2m.7 -5v2.8m.7 -2.6v6.3m.7 -4.1v5.8m.3 -3.4v3m.4 -2.7v1.7m.6 -2.7v2.4m.7 -5.3v6.8m.7 -3.9v1.5m.7 -3.5v5.9m.7 -4.9v4.3m.7 -4.2v4.4m.7 -4.2v4.4m.6 -3.9v3.6m.7 -4v4.4m.7 -3v1.7m.7 -4.1v6.6m.7 -4.2v1.8m.7 -1.9v2.1m.7 -3.5v5.1m.6 -5v4.9m.7 -5.3v5.8m.7 -5.5v5.3m.7 -5.9v6.6m.7 -4v1.5m.7 -1.4v1.3m.7 -1.9v2.6m.6 -4.1v5.7m.7 -3.9v2.1m.7 -3.2v4.3m.7 -5v5.7m.7 -3.9v2.1m.7 -3.2v4.3m.7 -5.4v6.5m.7 -6v5.5m.6 -4.5v3.5m.7 -3.7v4m.7 -3.5v2.9m.7 -4.8v6.7m.7 -6.2v5.7m.7 -5.4v5.1m.7 -4v3m.6 -4.3v5.5m.7 -4.8v4.1m.7 -5v5.9m.7 -4.6v3.3m.7 -4.8v6.3m.7 -5.7v5.2m.7 -4.6v3.9m.6 -4.2v4.5m.7 -5.2v5.9m.7 -5.1v4.3m.7 -5.5v6.7m.7 -4v1.3m.7 -3.9v6.5m.7 -5.9v5.3m.6 -4.7v4.1m.7 -5.1v6.1m.7 -4.1v2.1m.7 -2.6v3.1m.7 -4.2v5.3m.7 -5.6v6m.7 -4.7v3.4m.6 -5.2v6.9m.7 -5.9v4.9m.7 -3.2v1.5m.7 -1.7v1.9m.7 -1.8v1.7m.7 -3.1v4.5m.7 -3.8v3.1m.6 -2.9v2.7m.7 -3.3v3.9m.7 -2.8v1.7m.7 -4.1v6.5m.7 -6.3v6.1m.7 -5.3v4.5m.7 -4.1v3.8m.6 -3.5v3.1m.7 -3.9v4.7m.7 -4v3.3m.7 -5.1v6.9m.7 -6.8v6.7m.7 -6.1v5.5m.7 -5.7v6m.7 -3.9v1.7m.6 -1.8v1.9m.7 -2.6v3.3m.7 -2.6v1.9m.7 -2.8v3.7m.7 -5.3v6.9m.7 -6.5v6.1m.7 -6.4v6.7m.6 -4.6v2.5m.7 -2.5v2.5m.7 -1.9v1.3m.7 -2.1v2.9m.7 -2.2v1.5m.7 -2.9v4.3m.7 -3.6v2.9m.6 -4v5.1m.7 -4.8v4.5m.7 -4.6v4.7m.7 -3.8v2.9m.7 -4.2v5.5m.7 -5.4v5.3m.7 -5.3v5.3m.6 -4.6v3.9m.7 -3.9v3.9m.7 -3.4v2.9m.7 -2.2v1.5m.7 -2.7v3.9m.7 -4.3v4.8m.7 -3.6v2.3m.6 -4.2v6.2m.7 -6.3v6.3m.7 -6.2v6.1m.7 -6v5.9m.7 -5v4.1m.7 -3.2v2.3m.7 -2.5v2.8m.6 -4.2v5.5m.7 -6.2v6.9m.7 -4.4v1.9m.7 -1.6v1.3m.7 -2.3v3.3m.7 -3.3v3.3m.7 -4v4.7m.7 -3.3v1.9m-120.1 -24.2v14.3m.7 -12.2v7.5m.7 -12.6v15.2m.3 -12v7.4m.4 -7.8v7m.6 -7.5v5.3m.7 -11.9v16m.7 -14.1v10.9m.7 -13.1v14m.3 -9.2v3.8m.4 -6.7v10.2m.7 -10.9v12.9m.7 -13.9v16.2m.6 -19.8v15.6m.7 -13.8v4.3m.4 -8v7.9m.3 -10.9v16.4m.7 -10.7v10.2m.7 -10.4v15.8m.7 -9.2v6.4m.7 -2.9v3.3m.3 -8.5v15.7m.3 -12.1v6.5m.7 -10.4v10.5m.7 -11.1v7.8m.7 -10.6v10.7m.7 -14.4v15.6m.3 -16.3v15.7m.4 -14.6v14.8m.7 -9.3v6.4m.7 -8.9v14m.6 -6.7v3.2m.7 -3.9v8.5m.4 -11.1v15.6m.3 -9v6.3m.7 -3.2v7.8m.7 -5.4v10.8m.7 -6.5v6.1m.7 -7.4v12.5m.3 -11.2v11.8m.3 -9.7v4.2m.7 -13.2v15.3m.7 -13v3.9m.9 -12.4v12.3m.5 -15.3v7.6m.3 -9.8v4.9m.4 -8v4m.5 -15.5v16.4m.8 -6.2v13.7m.9 -2.5v9.1m.5 -7.5v13.6m.7 -9.7v16.1m.5 -11.9v15.4m.9 -10.3v10.1m.8 -6v6.7m.5 -8v9.9m.7 -12.6v15.4m.7 -13.3v12.8m.7 -6.3v.8m.7 -.6v1m1.4 -.4v1m1.3 -.3v1m3.5 -.1v1m5.4 .1v.9m2.1 -.5v.9m.7 -.8v1m.7 -.9v1m2 -.7v.9m.7 -.8v.8m4.1 -.9v1.1m2.1 -.9v.8m2.7 -.9v1.1m5.5 -.9v.9m3.5 -.9v1m1.3 -.9v.9m.7 -.8v.8m2.1 -.8v.8m.7 -.8v.9m2 -.8v.8m4.1 -.9v1m.7 -1v1.1m2.8 -.9v.8m.6 -.8v.8m1.4 -.8v.8m.7 -.9v1.1m1.4 -1.1v1m1.4 -.9v.8m.6 -.9v1m2.1 -1v1.1m2.7 -1v.8m.7 -.8v.8m.7 -.9v1m.7 -.9v.8m4.8 -.8v.8m1.4 -.9v1m1.3 -1v1m1.4 -.9v.8m2.1 -.8v.9m2.7 -1v1m2.8 -.9v.8m.6 -.9v1m1.4 -.9v.9m3.5 -1v1.1" stroke="#cccccc" stroke-width="0.55" fill="none" marker-start="url(#cap)" marker-mid="url(#cap)" marker-end="url(#cap)"/>
<path d="M209.5 132.1l.7 .4 .7 6.8 .3-3.5 .4 .4 .6 2.4 .7-.3 .7 1.5 .7 1.3 .3-5.4 .4 7 .7-.9 .7-2.8 .6-1 .7 5.1 .4-7 .3 3 .7-2.6 .7 2.3 .7-3.6 .7 1.3 .3 1.2 .3-1.1 .7 .3 .7 2.5 .7 1.2 .7-4.9 .3 3.5 .4-4.9 .7 1.4 .7 .3 .6 2.8 .7-.3 .4 3.1 .3 .2 .7 5.8 .7 4.2 .7 1.9 .7 1.3 .3-1 .3 1.3 .7-1.3 .7 2.1 .9 2.8 .5 1.2 .3 .4 .4 1.6 .5 .1 .8 .2 .9-.2 .5 .5 .7 .1 .5 1.7 .9-.9 .8-.4 .5-1.1 .7-.5 .7-1.3 .7-.9 .7 2.1 .7 1.8 .3 .8 .4-.3 .6-.7 .7-.9 .7 .8 .7-.5 .7 .5 .7 .1 .7 .2 .6 .4 .7-.4 .7 0 .7 .5 .7-.2 .7-.4 .7 .5 .6 .2 .7-.2 .7-.3 .7 .2 .7 .3 .7 0 .7 .3 .6-.2 .7 .2 .7-.4 .7 0 .7 .2 .7 .1 .7 .2 .7-.1 .6-.5 .7 .6 .7-.4 .7 .5 .7-.5 .7 .1 .7 0 .6 0 .7-.2 .7 .2 .7-.4 .7 .2 .7 0 .7-.3 .6 .5 .7-.1 .7 .1 .7 0 .7 0 .7-.3 .7-.2 .6 .4 .7 0 .7-.1 .7 .4 .7-.2 .7 .2 .7 0 .6 0 .7-.2 .7 0 .7 .4 .7-.7 .7 .4 .7-.2 .6-.1 .7 .6 .7-.2 .7-.1 .7-.4 .7 0 .7 .1 .6 .1 .7 .1 .7-.1 .7 .2 .7-.1 .7-.1 .7 .2 .7-.2 .6 .2 .7-.2 .7 .1 .7 .2 .7-.5 .7 .3 .7-.2 .6 0 .7 0 .7 .4 .7 0 .7-.2 .7-.3 .7 .4 .6 .1 .7-.3 .7-.1 .7 0 .7-.1 .7 .3 .7 .2 .6-.1 .7-.2 .7 .2 .7-.3 .7 .1 .7-.4 .7 .4 .6 .1 .7 0 .7-.1 .7-.2 .7 .1 .7 .4 .7-.4 .6 .4 .7-.3 .7 .2 .7-.2 .7 0 .7 0 .7 .5 .7-.2" stroke="#6e6e6e" stroke-width="1.05" fill="none" stroke-linejoin="round"/>
<path d="M209.5 147.2l.7-1.1 .7-1 .3 .2 .4-.8 .6-4.1 .7 1.9 .7 1.7 .7-5.5 .3 .2 .4 3.5 .7-3.1 .7 1.3 .6 .3 .7-4.2 .4-5.2 .3 6.5 .7-5.5 .7 6.2 .7 3.8 .7-2.8 .3 3.5 .3-1.8 .7-2.9 .7 .8 .7-2.7 .7 2.6 .3-4.8 .4 1.8 .7 .7 .7 1.2 .6 3.2 .7-.2 .4 2 .3 1.8 .7 3.9 .7 4.6 .7 1.9 .7 .5 .3 1.9 .3-.9 .7-4 .7-4.9 .9-2.7 .5-8.6 .3-3.6 .4 2.8 .5-7.5 .8 6.5 .9 10 .5 5.7 .7 2 .5 5.3 .9 2.7 .8 2.2 .5-.1 .7 .5 .7 .6 .7 .6 .7 0 .7 .8 .3-.1 .4 .1 .6 0 .7 1 .7-.3 .7 .3 .7 .4 .7-.1 .7 .6 .6-.3 .7 .3 .7-.2 .7 .3 .7 .4 .7 0 .7 .1 .6 .3 .7 .1 .7-.1 .7 .4 .7 .1 .7 .2 .7 .2 .6-.2 .7-.1 .7 .1 .7-.1 .7 .4 .7 0 .7-.2 .7 0 .6 0 .7 .1 .7 .1 .7 0 .7 0 .7 .1 .7-.3 .6 .1 .7 .3 .7-.4 .7 .4 .7-.3 .7 .1 .7 .2 .6 0 .7-.3 .7 .2 .7 0 .7 0 .7 .1 .7-.2 .6 0 .7 0 .7 .1 .7 0 .7 .2 .7-.2 .7 0 .6 .2 .7 .1 .7-.3 .7 .2 .7 .1 .7-.2 .7 .1 .6 .1 .7 0 .7-.2 .7 .2 .7 .1 .7 0 .7-.3 .6 .2 .7-.1 .7 0 .7 .2 .7-.2 .7 .1 .7 0 .7-.2 .6 .4 .7-.3 .7 .2 .7-.2 .7 .1 .7 .1 .7 0 .6-.2 .7 .1 .7-.1 .7-.1 .7 .2 .7-.1 .7 0 .6 .2 .7-.2 .7 .2 .7 0 .7 0 .7-.2 .7 .2 .6-.1 .7 0 .7-.1 .7 .1 .7 .1 .7-.1 .7 0 .6-.1 .7 0 .7 .1 .7 .1 .7-.2 .7 .1 .7 0 .6-.1 .7 .3 .7-.1 .7 0 .7-.1 .7 0 .7 .1 .7 0" stroke="#cc1c1c" stroke-width="1.12" fill="none" stroke-linejoin="round"/>
</g>
<path d="M209.5 170.4H329.55" stroke="#919191" stroke-width="1.1" fill="none"/>
<path d="M209.5 193.6V251.6M207.3 251.6H209.5M207.3 232.27H209.5M207.3 212.93H209.5M207.3 193.6H209.5" stroke="#c4c4c4" stroke-width="0.9" fill="none"/>
<path d="M209.5 251.6V253.6M226.63 251.6V253.6M243.76 251.6V253.6M260.89 251.6V253.6M278.01 251.6V253.6M295.14 251.6V253.6M312.27 251.6V253.6M329.4 251.6V253.6" stroke="#606060" stroke-width="0.8" fill="none"/>
<text x="204.4" y="253.6" font-size="5.6" fill="#4a4a4a" font-family='"Liberation Sans", sans-serif' text-anchor="end" textLength="10.2" lengthAdjust="spacingAndGlyphs" stroke="#4a4a4a" stroke-width="0.22">0.00</text>
<text x="204.4" y="234.27" font-size="5.6" fill="#4a4a4a" font-family='"Liberation Sans", sans-serif' text-anchor="end" textLength="10.2" lengthAdjust="spacingAndGlyphs" stroke="#4a4a4a" stroke-width="0.22">0.60</text>
<text x="204.4" y="214.93" font-size="5.6" fill="#4a4a4a" font-family='"Liberation Sans", sans-serif' text-anchor="end" textLength="10.2" lengthAdjust="spacingAndGlyphs" stroke="#4a4a4a" stroke-width="0.22">1.20</text>
<text x="204.4" y="195.6" font-size="5.6" fill="#4a4a4a" font-family='"Liberation Sans", sans-serif' text-anchor="end" textLength="10.2" lengthAdjust="spacingAndGlyphs" stroke="#4a4a4a" stroke-width="0.22">1.80</text>
<text x="209.5" y="260.5" font-size="5.6" fill="#4a4a4a" font-family='"Liberation Sans", sans-serif' text-anchor="middle" textLength="2.7" lengthAdjust="spacingAndGlyphs" stroke="#4a4a4a" stroke-width="0.26">0</text>
<text x="226.63" y="260.5" font-size="5.6" fill="#4a4a4a" font-family='"Liberation Sans", sans-serif' text-anchor="middle" textLength="2.7" lengthAdjust="spacingAndGlyphs" stroke="#4a4a4a" stroke-width="0.26">5</text>
<text x="243.76" y="260.5" font-size="5.6" fill="#4a4a4a" font-family='"Liberation Sans", sans-serif' text-anchor="middle" textLength="5.3" lengthAdjust="spacingAndGlyphs" stroke="#4a4a4a" stroke-width="0.26">10</text>
<text x="260.89" y="260.5" font-size="5.6" fill="#4a4a4a" font-family='"Liberation Sans", sans-serif' text-anchor="middle" textLength="5.3" lengthAdjust="spacingAndGlyphs" stroke="#4a4a4a" stroke-width="0.26">15</text>
<text x="278.01" y="260.5" font-size="5.6" fill="#4a4a4a" font-family='"Liberation Sans", sans-serif' text-anchor="middle" textLength="5.3" lengthAdjust="spacingAndGlyphs" stroke="#4a4a4a" stroke-width="0.26">20</text>
<text x="295.14" y="260.5" font-size="5.6" fill="#4a4a4a" font-family='"Liberation Sans", sans-serif' text-anchor="middle" textLength="5.3" lengthAdjust="spacingAndGlyphs" stroke="#4a4a4a" stroke-width="0.26">25</text>
<text x="312.27" y="260.5" font-size="5.6" fill="#4a4a4a" font-family='"Liberation Sans", sans-serif' text-anchor="middle" textLength="5.3" lengthAdjust="spacingAndGlyphs" stroke="#4a4a4a" stroke-width="0.26">30</text>
<text x="329.4" y="260.5" font-size="5.6" fill="#4a4a4a" font-family='"Liberation Sans", sans-serif' text-anchor="middle" textLength="5.3" lengthAdjust="spacingAndGlyphs" stroke="#4a4a4a" stroke-width="0.26">35</text>
<text x="264.45" y="191.2" font-size="6.5" fill="#303030" font-family='"Liberation Sans", sans-serif' text-anchor="middle" textLength="40.1" lengthAdjust="spacingAndGlyphs" stroke="#303030" stroke-width="0.15">Alpha (7-12Hz)</text>
<clipPath id="cAn2"><rect x="206.5" y="163.6" width="125.9" height="88"/></clipPath>
<g clip-path="url(#cAn2)">
<path d="M209.5 208.6v11.9m.7 -9.5v8.4m.7 -9.8v12.5m.3 -9.4v6.9m.4 -7.3v9m.6 -8.4v10.4m.7 -10.2v12.6m.7 -11.9v11.8m.7 -9.9v8.7m.3 -6.2v4m.4 -4.1v4.5m.7 -4.4v4.9m.7 -4.8v5.4m.6 -5.7v5.4m.7 -9v11.9m.4 -9.9v7.5m.3 -11.5v15.2m.7 -10.9v6m.7 -6.4v6.2m.7 -5.5v5.4m.6 -4.8v4.8m.4 -8.3v12.1m.3 -11.2v10.7m.7 -8.2v6.3m.7 -9.7v13.8m.7 -13.3v12.1m.7 -10.7v8.7m.3 -10.1v11.1m.4 -11.6v11.8m.6 -10.6v8.8m.7 -6.8v4.1m.7 -3.4v7.9m.7 -9.2v15.7m.3 -7.9v2.6m.4 -.6v3.8m.7 2.6v1.3m.7 2.3v4.4m.6 -3.3v4.8m.7 -2.4v2.6m.4 -2v2.7m.3 -2.4v3.3m.7 -1.4v2.1m.7 -.7v1.9m.8 -1.3v1.5m.6 -2.5v4m.6 -3.3v3.3m.5 -4.1v5.3m.9 -4.9v5.3m.9 -4.8v4.9m.5 -5v5.3m.7 -4.8v4.7m.5 -2.7v1m.8 -1v1.5m.9 -3.9v5.3m.5 -5.4v4.9m.7 -4.7v3.7m.7 -4.1v3.8m.7 -3.7v2.8m.6 -2.6v2.8m.7 -2v1.6m.7 -2.3v3.3m.7 -2.5v2.1m.7 -1.6v1.5m.7 -2.9v4.7m.7 -3.9v3.5m.6 -3.9v4.7m.7 -3.3v2.2m.7 -2.6v3.4m.7 -2.7v2.1m.7 -3.2v4.5m.7 -3.2v1.9m.6 -2.8v3.8m.7 -3.5v3.3m.7 -2.8v2.4m.7 -1.8v1.3m.7 -2.1v3m.7 -3.1v3.2m.7 -3.8v4.5m.6 -3.1v1.8m.7 -1.7v1.7m.7 -1.9v2.2m.7 -3.3v4.4m.7 -3.1v1.9m.7 -2.8v3.7m.7 -2.4v1.1m.6 -1.2v1.3m.7 -2.6v4m.7 -3.6v3.1m.7 -2.2v1.4m.7 -2.2v3m.7 -4v5m.7 -3.8v2.6m.6 -3v3.3m.7 -3v2.8m.7 -3v3.1m.7 -2.1v1.1m.7 -2.9v4.8m.7 -4.1v3.4m.6 -2.9v2.4m.7 -2.3v2.2m.7 -2v1.7m.7 -3.3v5m.7 -4.8v4.6m.7 -3.6v2.6m.7 -3.1v3.5m.6 -3.4v3.3m.7 -2.5v1.8m.7 -1.5v1.1m.7 -2.6v4.1m.7 -2.8v1.6m.7 -2.5v3.4m.7 -2.2v1m.6 -1v1m.7 -1.3v1.6m.7 -2.7v3.8m.7 -3.7v3.6m.7 -4.4v5.2m.7 -4.5v3.8m.7 -3.5v3.2m.6 -2.1v1m.7 -3.1v5.1m.7 -4v3m.7 -3.8v4.6m.7 -2.9v1.1m.7 -2.8v4.6m.6 -3.8v3m.7 -2.5v1.9m.7 -2.3v2.7m.7 -1.9v1.2m.7 -2.3v3.4m.7 -2.7v1.9m.7 -2.9v4m.6 -2.9v1.7m.7 -2.8v3.9m.7 -3.8v3.6m.7 -3.8v4m.7 -4.5v5m.7 -3.7v2.3m.7 -3.1v3.9m.6 -3.3v2.6m.7 -3.7v4.8m.7 -4.7v4.5m.7 -4.4v4.2m.7 -3.9v3.6m.7 -2.9v2.1m.6 -3.5v4.9m.7 -5v5.1m.7 -5.1v5m.7 -3.7v2.4m.7 -3.5v4.5m.7 -4.2v3.8m.7 -4.2v4.6m.6 -4.5v4.4m.7 -3.7v2.9m.7 -2.8v2.6m.7 -3.5v4.4m.7 -4.1v3.7m.7 -3.5v3.3m.7 -4v4.7m.6 -2.9v1m.7 -1v1m.7 -2v3m.7 -2.2v1.3m.7 -2.9v4.5m.7 -2.9v1.3m.7 -3v4.7m.6 -3.3v1.9m.7 -1.7v1.5m.7 -2.9v4.2m.7 -4.1v3.9m.7 -3.3v2.7m.7 -3.1v3.5m.6 -3.4v3.3m.7 -4.2v5m.7 -4v3.1m.7 -3.2v3.2m.7 -3.1v3m.7 -2.9v2.7m.7 -3.3v3.9m.6 -2.7v1.5m.7 -2.7v3.9m.7 -4.5v5m.7 -4.6v4.2m-119.9 -27.2v10.3m.7 -10.9v7.6m.7 -7.8v4.2m.3 -5.2v4.2m.4 -7.5v10.2m.6 -13.2v14.8m.7 -15.3v14.6m.7 -9.4v5.4m.7 -8.5v13m.3 -13.1v13.8m.4 -11.9v9.4m.7 -12.6v14.5m.7 -10.6v5.4m.6 -9v7.4m.7 -11.2v9.9m.4 -12.6v12.7m.3 -9.6v9m.7 -5.4v7m.7 -8.2v14.6m.7 -10.1v8.2m.6 -7.1v8.6m.4 -6.7v6m.3 -8.7v9.5m.7 -12.9v12.4m.7 -12v7.8m.7 -9.2v11.9m.7 -10.1v9.6m.3 -6v3m.4 -10.1v15.9m.6 -12.6v6.8m.7 -9.9v10.3m.7 -10.5v15.9m.7 -8.2v5.7m.3 -3.5v3.8m.4 -2.5v5.7m.7 -.8v5m.7 -5.2v14.4m.6 -11.5v9.9m.7 -6.1v3.5m.4 -4.7v6.6m.3 -9.3v9.8m.7 -9.7v5.3m.7 -8.3v7.1m.8 -13.8v15.1m.6 -15.9v8.9m.6 -12.6v6.1m.5 -12.4v10.9m.9 .4v4.4m.9 .9v9.9m.5 -8.4v11.7m.7 -4.6v4.1m.5 -4.8v10.3m.8 -7.9v7.1m.9 -9.3v13m.5 -11.8v11.3m.7 -12.8v15.2m.7 -12.7v11.1m2.7 -4.7v1m3.4 .6v1m1.4 -.3v.9m.7 -.6v.9m4.1 .7v.8m1.4 -.7v.9m2 -.6v.9m.7 -.9v1.1m1.4 -.9v1.1m1.4 -1v1m2 -.9v.9m1.4 -.8v.9m6.1 -.8v1.1m.7 -1v1m1.4 -1v1m.7 -.9v1m4.8 -.8v.8m1.4 -.9v.9m1.3 -.9v1m1.4 -1v1m1.4 -.9v.8m1.3 -.8v.8m1.4 -.8v.8m2.7 -.8v.8m1.4 -.8v.8m1.4 -.8v.8m2.7 -.8v.8m2.8 -.8v.8m2.7 -.9v1m1.4 -1v1m.7 -.9v.8m2.7 -.9v1m.7 -.9v.8m2.7 -.8v.8m1.4 -.9v1m.7 -.9v.8m1.4 -.9v1m.6 -1v1m1.4 -.9v.8m.7 -.9v1m.7 -1v1m1.4 -1v1m1.3 -1v.9m.7 -.8v.8m1.4 -.9v1m.7 -1v.9m.6 -1v1.1m.7 -1v1m1.4 -.9v.8m.7 -.8v.8m4.1 -.9v1" stroke="#cccccc" stroke-width="0.55" fill="none" marker-start="url(#cap)" marker-mid="url(#cap)" marker-end="url(#cap)"/>
<path d="M209.5 213.6l.7 .1 .7 1.3 .3 2.3 .4-3.7 .6 5.3 .7 .9 .7 2.7 .7-5.1 .3 3.8 .4 .1 .7-3.8 .7 3.3 .6 3.6 .7-1.8 .4-1.4 .3-2 .7-.7 .7 1 .7-2.6 .6 2.3 .4 2.6 .3-.6 .7-.4 .7 .7 .7 3.1 .7-3.4 .3-3.2 .4-.1 .6 3 .7-2.6 .7 3.7 .7 3.3 .3 .9 .4 2.9 .7 2.7 .7 7 .6 .6 .7 1.7 .4 .6 .3 .1 .7 2.8 .7 .6 .8 .6 .6-.2 .6 .4 .5 1.1 .9-.4 .9 .4 .5-.4 .7-.4 .5 1 .8 .7 .9-.5 .5-.4 .7-.4 .7-.3 .7-.3 .6-.1 .7 .2 .7-.1 .7 .5 .7 .2 .7 .1 .7 .2 .6 .4 .7 .1 .7 .2 .7 0 .7 .2 .7-.3 .6 .1 .7 .1 .7 0 .7 .1 .7 0 .7 .2 .7 .3 .6-.5 .7 .3 .7 0 .7 0 .7 0 .7 0 .7-.1 .6 .4 .7-.1 .7 0 .7-.4 .7 .2 .7 .1 .7-.3 .6 .1 .7 .2 .7-.1 .7 .2 .7-.2 .7-.2 .6 .4 .7 .1 .7-.1 .7 0 .7-.1 .7 .1 .7-.1 .6-.1 .7-.2 .7 .4 .7 0 .7-.3 .7 .4 .7-.1 .6-.1 .7 .2 .7-.5 .7 .1 .7 .4 .7-.1 .7 .1 .6-.3 .7 .1 .7 0 .7 .1 .7 0 .7-.2 .6 .1 .7 .3 .7-.4 .7 .1 .7 .2 .7-.4 .7 .2 .6 .1 .7-.2 .7-.1 .7 .4 .7-.5 .7 .1 .7 0 .6-.1 .7-.1 .7 0 .7 .3 .7-.2 .7 .1 .6 0 .7-.4 .7 0 .7 .3 .7-.4 .7 .4 .7-.4 .6 .2 .7 0 .7-.2 .7-.1 .7 0 .7 0 .7 .1 .6 .3 .7-.5 .7 .2 .7-.2 .7-.1 .7 .2 .7 .1 .6 .1 .7-.2 .7 .1 .7-.3 .7 .1 .7 0 .6 .3 .7-.1 .7-.5 .7 .1 .7 .1 .7 .3 .7 .1 .6-.3 .7 0 .7 .1 .7-.2" stroke="#6e6e6e" stroke-width="1.05" fill="none" stroke-linejoin="round"/>
<path d="M209.5 227.8l.7-2 .7-4.7 .3 2.3 .4-2.1 .6-.9 .7 .6 .7-2.8 .7 3.8 .3 .7 .4 .3 .7 1.5 .7-4.5 .6-2 .7-5 .4 1.7 .3 3.3 .7 4.4 .7-.7 .7-.3 .6 .4 .4 1.4 .3-1.2 .7-3.6 .7 .4 .7-.9 .7 1.4 .3 2.5 .4-2.5 .6 2 .7-4.5 .7 .7 .7 4.4 .3 2.5 .4 4.8 .7 3.3 .7 2.6 .6-.3 .7 .1 .4 2 .3-.1 .7-2.7 .7-.6 .8-4.2 .6-5.1 .6-7.4 .5-1.9 .9 9.1 .9 8.5 .5 1.9 .7 2.1 .5 3.7 .8 1.3 .9 .9 .5-.4 .7 1 .7 .4 .7 .4 .6-.2 .7 .8 .7 .1 .7 .6 .7 .1 .7 .1 .7 .4 .6 .1 .7 .6 .7 .4 .7 .6 .7 0 .7 0 .6 .7 .7 .3 .7 .2 .7 .1 .7 .1 .7 0 .7 0 .6 0 .7 .5 .7-.3 .7 .2 .7-.1 .7 .4 .7 0 .6 .1 .7-.2 .7 .2 .7-.2 .7 .1 .7-.2 .7 .4 .6-.1 .7 0 .7 0 .7 0 .7 .2 .7 .1 .6-.1 .7-.1 .7 0 .7-.1 .7 .3 .7-.2 .7 .1 .6 0 .7 .1 .7 0 .7 .3 .7-.2 .7 0 .7 .1 .6-.2 .7-.1 .7 .2 .7 .1 .7-.3 .7 .1 .7 .3 .6-.4 .7 0 .7 .2 .7-.2 .7 .1 .7 .2 .6-.1 .7 .1 .7-.1 .7-.1 .7-.1 .7 .4 .7-.2 .6 .1 .7 .1 .7-.3 .7 .2 .7-.1 .7-.2 .7 0 .6 0 .7 .1 .7-.1 .7 0 .7 .2 .7-.1 .6 .1 .7-.1 .7 .1 .7 0 .7-.2 .7 .2 .7-.2 .6 .3 .7-.2 .7-.1 .7 .1 .7 .3 .7-.2 .7-.2 .6 .2 .7 .2 .7-.3 .7 .1 .7 0 .7 0 .7-.1 .6 .1 .7-.1 .7 .1 .7 .1 .7 .1 .7-.2 .6 0 .7 .1 .7-.2 .7 .2 .7-.1 .7 0 .7-.2 .6 .3 .7 .1 .7-.1 .7-.3" stroke="#74b84a" stroke-width="1.12" fill="none" stroke-linejoin="round"/>
</g>
<path d="M209.5 251.6H329.4" stroke="#919191" stroke-width="1.1" fill="none"/>
<path d="M209.4 275V333.4M207.2 333.4H209.4M207.2 313.93H209.4M207.2 294.47H209.4M207.2 275H209.4" stroke="#c4c4c4" stroke-width="0.9" fill="none"/>
<path d="M209.4 333.4V335.4M226.52 333.4V335.4M243.64 333.4V335.4M260.76 333.4V335.4M277.89 333.4V335.4M295.01 333.4V335.4M312.13 333.4V335.4M329.25 333.4V335.4" stroke="#606060" stroke-width="0.8" fill="none"/>
<text x="204.3" y="335.4" font-size="5.6" fill="#4a4a4a" font-family='"Liberation Sans", sans-serif' text-anchor="end" textLength="10.2" lengthAdjust="spacingAndGlyphs" stroke="#4a4a4a" stroke-width="0.22">0.00</text>
<text x="204.3" y="315.93" font-size="5.6" fill="#4a4a4a" font-family='"Liberation Sans", sans-serif' text-anchor="end" textLength="10.2" lengthAdjust="spacingAndGlyphs" stroke="#4a4a4a" stroke-width="0.22">0.60</text>
<text x="204.3" y="296.47" font-size="5.6" fill="#4a4a4a" font-family='"Liberation Sans", sans-serif' text-anchor="end" textLength="10.2" lengthAdjust="spacingAndGlyphs" stroke="#4a4a4a" stroke-width="0.22">1.20</text>
<text x="204.3" y="277" font-size="5.6" fill="#4a4a4a" font-family='"Liberation Sans", sans-serif' text-anchor="end" textLength="10.2" lengthAdjust="spacingAndGlyphs" stroke="#4a4a4a" stroke-width="0.22">1.80</text>
<text x="209.4" y="342.3" font-size="5.6" fill="#4a4a4a" font-family='"Liberation Sans", sans-serif' text-anchor="middle" textLength="2.7" lengthAdjust="spacingAndGlyphs" stroke="#4a4a4a" stroke-width="0.26">0</text>
<text x="226.52" y="342.3" font-size="5.6" fill="#4a4a4a" font-family='"Liberation Sans", sans-serif' text-anchor="middle" textLength="2.7" lengthAdjust="spacingAndGlyphs" stroke="#4a4a4a" stroke-width="0.26">5</text>
<text x="243.64" y="342.3" font-size="5.6" fill="#4a4a4a" font-family='"Liberation Sans", sans-serif' text-anchor="middle" textLength="5.3" lengthAdjust="spacingAndGlyphs" stroke="#4a4a4a" stroke-width="0.26">10</text>
<text x="260.76" y="342.3" font-size="5.6" fill="#4a4a4a" font-family='"Liberation Sans", sans-serif' text-anchor="middle" textLength="5.3" lengthAdjust="spacingAndGlyphs" stroke="#4a4a4a" stroke-width="0.26">15</text>
<text x="277.89" y="342.3" font-size="5.6" fill="#4a4a4a" font-family='"Liberation Sans", sans-serif' text-anchor="middle" textLength="5.3" lengthAdjust="spacingAndGlyphs" stroke="#4a4a4a" stroke-width="0.26">20</text>
<text x="295.01" y="342.3" font-size="5.6" fill="#4a4a4a" font-family='"Liberation Sans", sans-serif' text-anchor="middle" textLength="5.3" lengthAdjust="spacingAndGlyphs" stroke="#4a4a4a" stroke-width="0.26">25</text>
<text x="312.13" y="342.3" font-size="5.6" fill="#4a4a4a" font-family='"Liberation Sans", sans-serif' text-anchor="middle" textLength="5.3" lengthAdjust="spacingAndGlyphs" stroke="#4a4a4a" stroke-width="0.26">30</text>
<text x="329.25" y="342.3" font-size="5.6" fill="#4a4a4a" font-family='"Liberation Sans", sans-serif' text-anchor="middle" textLength="5.3" lengthAdjust="spacingAndGlyphs" stroke="#4a4a4a" stroke-width="0.26">35</text>
<text x="264.1" y="276" font-size="6.5" fill="#303030" font-family='"Liberation Sans", sans-serif' text-anchor="middle" textLength="39.4" lengthAdjust="spacingAndGlyphs" stroke="#303030" stroke-width="0.15">Beta (12-30Hz)</text>
<clipPath id="cAn3"><rect x="206.4" y="245" width="125.85" height="88.4"/></clipPath>
<g clip-path="url(#cAn3)">
<path d="M209.4 299.7v2.6m.7 -2.4v2.1m.7 -2.5v2.9m.3 -3.8v4.7m.4 -3.9v3.1m.6 -4.5v5.9m.7 -5.6v5.3m.7 -6.6v8.6m.7 -9.4v10.8m.3 -10.6v10.8m.4 -8.2v5.8m.7 -6.4v7.7m.6 -5.1v3.2m.7 -5.7v7.5m.7 -9.1v10m.4 -10.1v10m.3 -6.8v3.2m.7 -3.6v3.4m.7 -7.1v10.1m.7 -8.9v8.3m.6 -8.2v8.8m.4 -5.5v2.5m.3 -4.9v7.6m.7 -4.5v2.1m.7 -5v8.6m.7 -9.6v9.2m.7 -7.7v4.9m.3 -3.7v1.9m.4 -5.6v8.6m.6 -10.4v11m.7 -10v7.6m.7 -4.5v5.3m.7 -3.1v4.9m.3 -3.8v4.6m.4 -3.4v5.4m.7 -.7v2.6m.6 .9v2m.7 -1.8v5.5m.7 -2.3v3m.4 -2v3m.3 -2.1v2.4m.7 -2v4.3m.7 -3.6v5.4m.8 -3.4v3.1m.5 -3.5v4.8m.4 -3.5v2.8m.3 -2.2v2.9m.5 -2.7v4.6m.9 -3.4v5.4m.9 -4.1v4.4m.5 -3.8v4.2m.6 -3.8v4.7m.6 -4.5v5.2m.8 -4.4v5.3m.9 -4.4v3.4m.5 -3v2.7m.7 -1.9v1m.7 -2.1v3.3m.6 -2.9v2.5m.7 -1.6v1m.7 -3v5.3m.7 -3.6v2.3m.7 -3.5v5m.7 -2.9v1m.7 -1.5v2.5m.6 -3.3v4.3m.7 -3.9v3.9m.7 -3.7v3.8m.7 -3.3v3.1m.7 -2.2v1.3m.7 -2.9v4.5m.6 -4.4v4.3m.7 -3.7v3.1m.7 -3.2v3.3m.7 -3.9v4.5m.7 -3.8v3.1m.7 -3v3m.7 -3.1v3.1m.6 -3.6v4.1m.7 -4.1v4.1m.7 -3.2v2.4m.7 -3.4v4.3m.7 -3.4v2.5m.7 -3.2v3.9m.6 -3.2v2.5m.7 -3.7v4.9m.7 -5v5.1m.7 -4.7v4.3m.7 -3.4v2.6m.7 -2.6v2.5m.7 -2.7v2.9m.6 -3.2v3.5m.7 -2.3v1.1m.7 -2.2v3.3m.7 -4.1v4.9m.7 -3.1v1.3m.7 -3.1v4.9m.7 -4.2v3.5m.6 -4.4v5.3m.7 -4.7v4.1m.7 -4.1v4.1m.7 -4.2v4.3m.7 -3.5v2.7m.7 -2.1v1.5m.6 -3.1v4.7m.7 -4.7v4.7m.7 -4.4v4.1m.7 -3v1.9m.7 -2.5v3.1m.7 -3.1v3.1m.7 -2.8v2.5m.6 -2.8v3.1m.7 -3v2.9m.7 -4v5.2m.7 -4.5v3.7m.7 -4.4v5.2m.7 -5.1v4.9m.6 -3.3v1.7m.7 -3v4.3m.7 -3.4v2.6m.7 -3.1v3.5m.7 -3.4v3.4m.7 -3.8v4.1m.7 -3.2v2.3m.6 -3.1v3.9m.7 -3.2v2.5m.7 -3.4v4.3m.7 -3.7v3.1m.7 -3.4v3.7m.7 -4.5v5.3m.7 -3.7v2.1m.6 -1.5v.9m.7 -2.9v4.9m.7 -4.1v3.3m.7 -3.5v3.7m.7 -4.2v4.6m.7 -4.7v4.8m.6 -3.8v2.7m.7 -4v5.2m.7 -3.9v2.6m.7 -3.4v4.1m.7 -4.3v4.5m.7 -3.5v2.5m.7 -2.7v2.8m.6 -2.7v2.5m.7 -2.5v2.5m.7 -2.6v2.7m.7 -3.7v4.6m.7 -2.9v1.2m.7 -3.3v5.3m.6 -4.9v4.4m.7 -3.9v3.4m.7 -3.6v3.7m.7 -3v2.3m.7 -3.3v4.2m.7 -4.5v4.8m.7 -3.7v2.6m.6 -2.9v3.1m.7 -2.5v1.9m.7 -2v2m.7 -3.3v4.6m.7 -4.2v3.7m.7 -3.3v2.9m.7 -3.3v3.7m.6 -2.7v1.7m.7 -1.4v1m.7 -1.7v2.4m.7 -2.9v3.4m.7 -2.6v1.7m.7 -2.5v3.3m.6 -2.8v2.3m.7 -2.2v2.1m.7 -3.2v4.2m.7 -3.3v2.5m.7 -3.4v4.2m.7 -4.2v4.2m.7 -3.4v2.6m.6 -1.9v1.1m.7 -2.9v4.7m.7 -4v3.3m.7 -3.4v3.5m.7 -3.8v4m.7 -3.7v3.4m.6 -4.2v4.9m-119.8 -25.7v3.1m.7 -11.6v16.2m.7 -15.7v11.3m.3 -10.9v8.5m.4 -12.2v15.3m.6 -15.9v15.2m.7 -13.8v11.1m.7 -6.4v3m.7 -6.6v11.5m.3 -9.7v8.5m.4 -9.9v10.7m.7 -13.1v14.2m.6 -10.1v4.7m.7 -11.5v14.4m.7 -12.7v7.1m.4 -7.7v6.4m.3 -3.6v3.4m.7 -1.3v4.4m.7 -2.9v6.6m.7 -6.4v10.1m.6 -11v15.7m.4 -9.5v5.3m.3 -7.4v6.9m.7 -10.1v8.1m.7 -12.5v11.7m.7 -10.4v7.8m.7 -10.6v12.1m.3 -8.9v5m.4 -3.6v3.5m.6 -5.8v10.8m.7 -10.5v12.8m.7 -5.5v4.7m.7 -.9v3.6m.3 -6.2v12m.4 -6.3v3.8m.7 -6.4v15.5m.6 -10.7v12.4m.7 -8.1v5.1m.7 -6.2v8.5m.4 -5.7v3.7m.3 -4.6v4.1m.7 -7.2v7.7m.7 -12.6v14.9m.8 -16.7v15.3m.5 -16.7v13.2m.4 -14v11.6m.3 -12.9v10.9m.5 -12.8v9.9m.9 -6v11.8m.9 -5.9v9.7m.5 -7v8.3m.6 -8.7v14.3m.6 -8.7v7m.8 -6.9v8.4m.9 -9.5v12.2m.5 -13.8v15.8m.7 -11.2v7.7m.7 -7.8v8.8m2.7 -3.5v.9m3.4 .4v.9m3.4 .3v.8m3.5 -.1v1m.7 -.9v1m.6 -.9v.9m3.5 -.5v1.1m2.7 -1v1m2.7 -.9v.8m1.4 -.9v.9m.7 -.8v.8m.7 -.9v.9m3.4 -.9v1m.7 -.9v.8m3.4 -.9v.9m2.1 -.8v.8m1.3 -.9v.9m1.4 -1v1.1m.7 -1v1m3.4 -1v.9m.7 -.8v.8m.7 -.9v.9m4.1 -.9v.9m2.1 -.9v1m1.3 -1v.9m.7 -.9v.9m.7 -.8v.8m.7 -.9v1m2.7 -.9v.8m12.3 -.9v.9m.7 -.9v1m2.1 -1.1v1.1m1.4 -.9v.8m.6 -.9v.9m1.4 -.9v1m1.4 -.9v.8m.7 -.9v1m.6 -1v1m.7 -1v1m2.1 -1v1m4.1 -1v1m2 -1.1v1.1" stroke="#cccccc" stroke-width="0.55" fill="none" marker-start="url(#cap)" marker-mid="url(#cap)" marker-end="url(#cap)"/>
<path d="M209.4 300.6l.7 3.4 .7-2.2 .3-1 .4 2.5 .6-4.6 .7 1.6 .7 2 .7-.9 .3-.7 .4-1.6 .7 1.5 .6 1.9 .7-1.9 .7 4 .4 .1 .3-.8 .7-2.7 .7-.7 .7 3.1 .6-3.3 .4-1 .3 5.7 .7-4.2 .7 1 .7-1.2 .7 2.7 .3-2.9 .4 2.4 .6-2 .7-1 .7 .8 .7 3.4 .3-.3 .4-1.1 .7 5.1 .6 5.4 .7 1.1 .7 1.7 .4 1.3 .3-.9 .7 2.9 .7 .6 .8 1.8 .5-.2 .4 .9 .3 .7 .5 .8 .9 1.1 .9 .2 .5 1.1 .6 0 .6 1.9 .8 .4 .9 .2 .5 0 .7 0 .7-.1 .6 0 .7 0 .7 .3 .7 0 .7 .4 .7-.1 .7 .5 .6 .1 .7 0 .7 .4 .7-.1 .7 .2 .7 .1 .6-.3 .7 .1 .7 .2 .7-.2 .7-.1 .7-.3 .7 .6 .6-.2 .7-.1 .7 .4 .7-.4 .7 0 .7 .2 .6-.2 .7-.1 .7 .3 .7-.1 .7-.1 .7 .1 .7-.1 .6-.1 .7 .2 .7-.1 .7 0 .7 0 .7 0 .7-.2 .6 .2 .7 .1 .7-.1 .7-.1 .7-.1 .7 .2 .6 0 .7 0 .7 .1 .7 .1 .7 0 .7-.1 .7 0 .6-.1 .7 .2 .7 .1 .7-.3 .7 .1 .7-.1 .6-.2 .7-.1 .7 .2 .7 .2 .7 0 .7 .1 .7-.3 .6 .2 .7 0 .7-.1 .7-.2 .7 .6 .7-.3 .7-.1 .6 .4 .7-.4 .7 .4 .7-.5 .7 .2 .7-.1 .6 0 .7 0 .7 0 .7-.2 .7 .2 .7-.1 .7-.1 .6 .2 .7-.2 .7 0 .7-.1 .7-.1 .7 0 .6 .3 .7-.5 .7 .1 .7 0 .7-.2 .7 .4 .7-.5 .6 .1 .7 .1 .7 0 .7 .2 .7-.3 .7-.2 .7 .5 .6-.3 .7 0 .7 .2 .7-.2 .7-.2 .7 0 .6 .2 .7 0 .7-.1 .7 .1 .7 0 .7 0 .7-.1 .6 .1 .7-.1 .7 .1 .7-.1 .7 0 .7-.2 .6 .2" stroke="#6e6e6e" stroke-width="1.05" fill="none" stroke-linejoin="round"/>
<path d="M209.4 307.4l.7-3.6 .7 2.8 .3-4.6 .4 .8 .6 1.8 .7-3.9 .7 1 .7 2.1 .3-.9 .4 .3 .7-4.8 .6 1.6 .7-.5 .7-5.2 .4 1.5 .3 1.6 .7-.3 .7 4.5 .7 3.9 .6-1.9 .4 3.3 .3-.9 .7-4.8 .7-.5 .7-2.3 .7 1.9 .3-1.7 .4-1.4 .6 4.2 .7 .3 .7 4.5 .7 4.7 .3-.7 .4 1.8 .7 5.6 .6 1.4 .7 .7 .7-.6 .4 1.9 .3-2.2 .7 .6 .7-.1 .8-4 .5-1.3 .4-2.4 .3-2.7 .5-2.1 .9 7 .9 3.7 .5 2.7 .6 1.7 .6 1.4 .8 1.5 .9 .2 .5 .6 .7 .2 .7 .8 .6 .5 .7-.1 .7 .7 .7 .1 .7 .6 .7 .1 .7 .5 .6 0 .7 .1 .7 .3 .7-.1 .7 .5 .7 .2 .6 .1 .7 .3 .7 .4 .7 .2 .7 0 .7 .2 .7 0 .6 .2 .7-.1 .7 .1 .7 .4 .7 .1 .7-.2 .6-.1 .7 0 .7 .3 .7-.2 .7 0 .7 .1 .7 0 .6-.2 .7 0 .7 .1 .7 .1 .7 0 .7 0 .7 0 .6-.1 .7 0 .7 .1 .7 .1 .7-.4 .7 .4 .6 0 .7-.2 .7-.2 .7 .4 .7 .1 .7-.3 .7 .2 .6-.3 .7 .3 .7 0 .7-.1 .7-.2 .7 .2 .6 0 .7-.1 .7 0 .7-.1 .7 .1 .7 0 .7 .2 .6 0 .7-.2 .7 .1 .7 .1 .7-.2 .7 0 .7-.1 .6 .2 .7 0 .7 0 .7-.3 .7 .2 .7 0 .6 .1 .7-.3 .7 .2 .7 .1 .7 0 .7 0 .7 0 .6-.2 .7 .1 .7 .2 .7-.1 .7 .1 .7 0 .6-.1 .7-.2 .7 .2 .7 0 .7 .1 .7 0 .7-.2 .6 0 .7 0 .7 .1 .7-.2 .7 .3 .7-.4 .7 .1 .6 .2 .7 .1 .7 0 .7-.2 .7 .1 .7-.1 .6 .1 .7 .2 .7-.2 .7-.2 .7 .2 .7 .1 .7-.3 .6 0 .7 .4 .7-.2 .7 0 .7 .1 .7-.1 .6-.1" stroke="#4a7bd0" stroke-width="1.12" fill="none" stroke-linejoin="round"/>
</g>
<path d="M209.4 333.4H329.25" stroke="#919191" stroke-width="1.1" fill="none"/>
<path d="M209.4 356.5V415.1M207.2 415.1H209.4M207.2 400.45H209.4M207.2 385.8H209.4M207.2 371.15H209.4M207.2 356.5H209.4" stroke="#c4c4c4" stroke-width="0.9" fill="none"/>
<path d="M209.4 415.1V417.1M226.5 415.1V417.1M243.6 415.1V417.1M260.7 415.1V417.1M277.8 415.1V417.1M294.9 415.1V417.1M312 415.1V417.1M329.1 415.1V417.1" stroke="#606060" stroke-width="0.8" fill="none"/>
<text x="204.3" y="417.1" font-size="5.6" fill="#4a4a4a" font-family='"Liberation Sans", sans-serif' text-anchor="end" textLength="10.2" lengthAdjust="spacingAndGlyphs" stroke="#4a4a4a" stroke-width="0.22">0.00</text>
<text x="204.3" y="402.45" font-size="5.6" fill="#4a4a4a" font-family='"Liberation Sans", sans-serif' text-anchor="end" textLength="10.2" lengthAdjust="spacingAndGlyphs" stroke="#4a4a4a" stroke-width="0.22">0.50</text>
<text x="204.3" y="387.8" font-size="5.6" fill="#4a4a4a" font-family='"Liberation Sans", sans-serif' text-anchor="end" textLength="10.2" lengthAdjust="spacingAndGlyphs" stroke="#4a4a4a" stroke-width="0.22">1.00</text>
<text x="204.3" y="373.15" font-size="5.6" fill="#4a4a4a" font-family='"Liberation Sans", sans-serif' text-anchor="end" textLength="10.2" lengthAdjust="spacingAndGlyphs" stroke="#4a4a4a" stroke-width="0.22">1.50</text>
<text x="204.3" y="358.5" font-size="5.6" fill="#4a4a4a" font-family='"Liberation Sans", sans-serif' text-anchor="end" textLength="10.2" lengthAdjust="spacingAndGlyphs" stroke="#4a4a4a" stroke-width="0.22">2.00</text>
<text x="209.4" y="424" font-size="5.6" fill="#4a4a4a" font-family='"Liberation Sans", sans-serif' text-anchor="middle" textLength="2.7" lengthAdjust="spacingAndGlyphs" stroke="#4a4a4a" stroke-width="0.26">0</text>
<text x="226.5" y="424" font-size="5.6" fill="#4a4a4a" font-family='"Liberation Sans", sans-serif' text-anchor="middle" textLength="2.7" lengthAdjust="spacingAndGlyphs" stroke="#4a4a4a" stroke-width="0.26">5</text>
<text x="243.6" y="424" font-size="5.6" fill="#4a4a4a" font-family='"Liberation Sans", sans-serif' text-anchor="middle" textLength="5.3" lengthAdjust="spacingAndGlyphs" stroke="#4a4a4a" stroke-width="0.26">10</text>
<text x="260.7" y="424" font-size="5.6" fill="#4a4a4a" font-family='"Liberation Sans", sans-serif' text-anchor="middle" textLength="5.3" lengthAdjust="spacingAndGlyphs" stroke="#4a4a4a" stroke-width="0.26">15</text>
<text x="277.8" y="424" font-size="5.6" fill="#4a4a4a" font-family='"Liberation Sans", sans-serif' text-anchor="middle" textLength="5.3" lengthAdjust="spacingAndGlyphs" stroke="#4a4a4a" stroke-width="0.26">20</text>
<text x="294.9" y="424" font-size="5.6" fill="#4a4a4a" font-family='"Liberation Sans", sans-serif' text-anchor="middle" textLength="5.3" lengthAdjust="spacingAndGlyphs" stroke="#4a4a4a" stroke-width="0.26">25</text>
<text x="312" y="424" font-size="5.6" fill="#4a4a4a" font-family='"Liberation Sans", sans-serif' text-anchor="middle" textLength="5.3" lengthAdjust="spacingAndGlyphs" stroke="#4a4a4a" stroke-width="0.26">30</text>
<text x="329.1" y="424" font-size="5.6" fill="#4a4a4a" font-family='"Liberation Sans", sans-serif' text-anchor="middle" textLength="5.3" lengthAdjust="spacingAndGlyphs" stroke="#4a4a4a" stroke-width="0.26">35</text>
<text x="263.85" y="355" font-size="6.5" fill="#303030" font-family='"Liberation Sans", sans-serif' text-anchor="middle" textLength="52.5" lengthAdjust="spacingAndGlyphs" stroke="#303030" stroke-width="0.15">Gamma (30-100Hz)</text>
<clipPath id="cAn4"><rect x="206.4" y="326.5" width="125.7" height="88.6"/></clipPath>
<g clip-path="url(#cAn4)">
<path d="M209.4 387.7v3.3m.7 -6.1v8.3m.7 -8.4v8m.3 -6.7v5.3m.4 -5.5v5.5m.6 -4.7v3.4m.7 -3.4v2.9m.7 -5.4v7.5m.7 -6.3v4.8m.3 -5.7v6.4m.4 -5.7v4.8m.7 -4.5v3.9m.6 -3.7v3.1m.7 -5.8v8m.7 -7v5.3m.4 -4.3v3m.3 -6.1v8.9m.7 -6.2v3m.7 -3.6v3.6m.6 -3.6v3m.7 -5v6.4m.4 -7.4v8.1m.3 -5.2v2m.7 -5.9v9.3m.7 -8.7v7.5m.7 -8.9v8.5m.6 -7.7v5.2m.4 -5.7v5.3m.3 -4.4v2.6m.7 -4.1v3.9m.7 -7.3v8.9m.7 -8v4.1m.7 -8.1v9.2m.3 -11.8v12.9m.4 -14.1v13.9m.6 -10.6v4.4m.7 -7.6v7.8m.7 -11.5v12.9m.7 -10.9v6.5m.3 -6.6v5.6m.4 -2.8v2.9m.7 -3.1v9.2m.6 -6.4v9.4m.9 -2.9v5.2m.5 -2.9v5.9m.4 -6.4v10.4m.3 -5.8v4.7m.5 -5.9v12.3m.9 -8.4v13.4m.8 -7.7v7.8m.5 -4.2v4.2m.4 -5.8v9.7m.3 -7.7v6.3m.5 -4.7v3.9m.9 -6.9v11.4m.8 -10.4v9.5m.5 -7.8v6m.7 -5.8v5.7m.7 -8.7v11.6m.7 -8.8v6m.7 -4.4v3m.7 -3.5v4.2m.7 -3.2v2.3m.6 -2.8v3.6m.7 -3.8v4.1m.7 -3.3v2.7m.7 -3.4v4.3m.7 -4.1v4m.7 -2.6v1.4m.6 -1.5v1.8m.7 -2.6v3.3m.7 -2.6v1.9m.7 -2.9v4m.7 -4.1v4.2m.7 -4.3v4.4m.6 -5.1v5.8m.7 -5.1v4.4m.7 -4.8v5.2m.7 -3.5v1.8m.7 -3.8v5.7m.7 -5.8v6m.6 -5.1v4.2m.7 -4.8v5.4m.7 -4.7v4m.7 -3.7v3.4m.7 -2.7v2m.7 -2.8v3.6m.7 -4.2v4.8m.6 -5.1v5.3m.7 -5.5v5.8m.7 -4.8v3.8m.7 -4.9v6m.7 -4.5v3m.7 -2.1v1.2m.6 -2.3v3.4m.7 -3.7v4m.7 -4.6v5.2m.7 -3.8v2.4m.7 -1.8v1.2m.7 -3.1v5m.6 -3.6v2.2m.7 -3.9v5.6m.7 -4.9v4.1m.7 -2.9v1.8m.7 -2.8v3.8m.7 -4.5v5.2m.6 -3.8v2.3m.7 -4.2v6.2m.7 -3.8v1.4m.7 -1.7v1.9m.7 -3.1v4.3m.7 -4.5v4.7m.7 -4.6v4.3m.6 -5.1v5.9m.7 -4.1v2.2m.7 -1.8v1.4m.7 -2.7v3.9m.7 -3.5v3m.7 -3.1v3.2m.6 -3.3v3.2m.7 -4.5v5.8m.7 -4.2v2.6m.7 -3.7v4.7m.7 -4.5v4.2m.7 -3.4v2.6m.6 -4.3v5.9m.7 -4.2v2.4m.7 -2.6v2.7m.7 -2.4v2.1m.7 -3.5v4.8m.7 -4.8v4.7m.6 -3.9v3m.7 -2.4v1.8m.7 -3.1v4.3m.7 -3.6v2.9m.7 -3.5v4m.7 -4.3v4.6m.7 -2.9v1.2m.6 -1.3v1.4m.7 -3.4v5.4m.7 -5.5v5.7m.7 -3.7v1.6m.7 -1.9v2.3m.7 -2.9v3.4m.6 -4.4v5.5m.7 -4.2v2.8m.7 -4.5v6.2m.7 -3.9v1.6m.7 -3.7v5.9m.7 -3.7v1.4m.6 -2.8v4.3m.7 -5.3v6.2m.7 -5.5v4.9m.7 -5.4v5.9m.7 -4.5v3m.7 -4.6v6.2m.6 -6v5.8m.7 -4.2v2.6m.7 -3.9v5.2m.7 -5.6v6m.7 -4.1v2.2m.7 -2.7v3.1m.7 -4.2v5.2m.6 -4.7v4.1m.7 -5v5.9m.7 -4.7v3.4m.7 -3.5v3.5m.7 -2.8v2m.7 -2.3v2.6m.6 -4.2v5.7m.7 -4.1v2.5m.7 -4.2v5.8m.7 -5.6v5.3m.7 -4.7v4.1m.7 -3.5v2.7m.6 -1.9v1.1m.7 -1.5v1.8m.7 -3.7v5.5m.7 -5.8v6.1m.7 -6.2v6.2m.7 -4.4v2.6m.6 -4.4v6.1m.7 -4.8v3.4m.7 -3.3v3.1m.7 -4.5v5.9m-119.7 -20.1v6.8m.7 -7v5.9m.7 -5.1v3.2m.3 -3v2.2m.4 -2.3v2.6m.6 -2.6v3.1m.7 -2.6v2.6m.7 -4.1v5.1m.7 -4.5v3.5m.3 -3.3v2.8m.4 -4.7v7.2m.7 -4.9v3.8m.6 -2v1.4m.7 -.9v1.5m.7 -2.7v5.1m.4 -3.1v1.6m.3 -3v5.1m.7 -2.8v1.6m.7 -2.4v4.4m.6 -6.7v5.5m.7 -7v5m.4 -4.8v2.8m.3 -4.6v6.9m.7 -6.7v7.8m.7 -6.7v6.7m.7 -7.7v7.5m.6 -8.2v7.8m.4 -6.1v3.8m.3 -4.4v5m.7 -4.6v4.2m.7 -5.4v6.6m.7 -2.2v2.5m.7 -.4v2.9m.3 -1.6v2.7m.4 -1.1v3.1m.6 -.5v4.9m.7 -.1v2.3m.7 -1v.9m.7 -1.1v2.5m.3 -3.2v4.5m.4 -3.7v1.3m.7 -3.7v3m.6 -4.8v3.4m.9 -5.8v4.3m.5 -2.8v2.2m.4 -2.5v3.4m.3 -3.8v4.8m.5 -4.4v4.9m.9 -1.1v3.1m.8 .2v2.3m.5 -1.6v3.6m.4 -2.9v3.9m.3 -2.9v3.7m.5 -2.3v3.6m.9 -2.3v2.4m.8 -2.4v3.8m.5 -2.8v2.3m.7 -1.7v1.8m.7 -1.2v1.2m4.8 .2v1m3.4 -.2v.9m8.2 -.6v.8m8.9 -.8v1m2.1 -.9v.9m3.4 -.8v.8m.7 -.9v1m4.8 -.9v.9m2 -.9v.9m6.2 -.9v.8m3.4 -.8v.8m.7 -.8v.8m3.4 -.9v1m2.1 -.9v.8m2 -.8v.8m1.4 -.9v1m2 -1v1m.7 -.9v.8m8.2 -.8v.8m3.4 -.8v.8m4.8 -.9v.9m8.9 -1v.9" stroke="#cccccc" stroke-width="0.55" fill="none" marker-start="url(#cap)" marker-mid="url(#cap)" marker-end="url(#cap)"/>
<path d="M209.4 390.3l.7-3.8 .7 5 .3-2.1 .4 1.4 .6-2.3 .7 .4 .7-3.8 .7 0 .3 2.3 .4 1.2 .7-.2 .6-.5 .7-1.7 .7 .1 .4 2.3 .3-1.1 .7-4 .7 2.5 .6 .9 .7-5.4 .4-.3 .3 3.6 .7-2.8 .7 1.4 .7 1.8 .6-3.5 .4 2.7 .3-.4 .7-7.4 .7 3.2 .7-2.7 .7 .3 .3 1.3 .4-2.1 .6 .2 .7-5.4 .7-4.5 .7 6.4 .3-4.8 .4 5.3 .7 .2 .6 3.5 .9 2.7 .5 3.3 .4 2.8 .3-.6 .5 4.5 .9 3.9 .8 1.5 .5 4.6 .4 .2 .3 .2 .5 .9 .9 .3 .8 .4 .5-.7 .7 .5 .7 .1 .7-.4 .7 0 .7 .2 .7 .2 .6 .5 .7-.7 .7 0 .7 .7 .7-.3 .7-.1 .6 .8 .7 .1 .7-.2 .7 .3 .7-.7 .7-.1 .6 .2 .7 .4 .7-.5 .7 .3 .7-.5 .7 .6 .6 .4 .7-.9 .7 .2 .7 .3 .7-.4 .7 .5 .7 .2 .6-.5 .7 .5 .7-.6 .7 .4 .7-.8 .7 .7 .6 .3 .7-.4 .7 .4 .7-.1 .7-.2 .7-.3 .6 .5 .7-.1 .7-.3 .7-.6 .7 .8 .7-.2 .6 .1 .7 0 .7 .1 .7 0 .7 .2 .7-.6 .7 .1 .6-.1 .7 .6 .7-.7 .7 .3 .7 .1 .7-.8 .6 .6 .7 0 .7-.5 .7-.5 .7 .4 .7 .5 .6 0 .7-.1 .7 .4 .7-1.1 .7 .2 .7 0 .6 0 .7 .2 .7 .2 .7-.1 .7-.6 .7 .1 .7 .2 .6-.7 .7 .4 .7-.1 .7 1 .7-.8 .7-.4 .6 0 .7 .6 .7 .4 .7 0 .7-.1 .7-.6 .6 .7 .7-.7 .7 .9 .7-.9 .7 .6 .7-.8 .6 .6 .7 .6 .7-.6 .7 .4 .7-.7 .7 .8 .7-.1 .6-.8 .7 .4 .7-.2 .7 .2 .7 0 .7-.1 .6 0 .7-.2 .7-.7 .7 0 .7 .4 .7 .2 .6-.6 .7 .1 .7 .2 .7-.3 .7 .4 .7 .5 .6-1 .7 .2 .7 .3 .7-.3" stroke="#6e6e6e" stroke-width="1.05" fill="none" stroke-linejoin="round"/>
<path d="M209.4 387.3l.7-.7 .7-.9 .3-.6 .4 .2 .6 1.4 .7 .4 .7 1.5 .7-.7 .3-3 .4-.4 .7 1.2 .6 2.4 .7 1.3 .7-1 .4 .9 .3-3 .7 3.9 .7-.2 .6-2.5 .7-2.1 .4-.6 .3 4.8 .7-6 .7 3.9 .7-1 .6-1.5 .4 1.3 .3-1.5 .7 1.2 .7 .2 .7 1.1 .7 5.7 .3-1.5 .4 .3 .6 5.1 .7 4 .7-.6 .7 .1 .3 1.1 .4 .4 .7-2.3 .6-.8 .9-2.8 .5 1.8 .4-2.1 .3-.6 .5 2.1 .9 2.3 .8 3.7 .5 1.1 .4 2 .3-.7 .5 2.4 .9 .4 .8 1 .5 .1 .7-.1 .7 .8 .7 0 .7 .6 .7 .2 .7-.1 .6 .2 .7 .3 .7 .1 .7 .1 .7 .3 .7 .2 .6-.1 .7 .3 .7 0 .7 .2 .7-.1 .7 .1 .6-.2 .7-.2 .7 .2 .7-.1 .7 .3 .7 0 .6 .1 .7-.2 .7 .1 .7 .1 .7-.2 .7-.1 .7 0 .6 0 .7 .3 .7-.1 .7-.2 .7 .2 .7 0 .6 .1 .7 0 .7-.1 .7 .2 .7-.3 .7 0 .6 0 .7 .1 .7 .4 .7-.5 .7 .3 .7-.3 .6 .3 .7 .1 .7-.1 .7-.1 .7 .1 .7-.2 .7 .2 .6 .2 .7-.5 .7 .2 .7-.3 .7 .1 .7 .2 .6-.1 .7 .2 .7-.3 .7 .1 .7 .2 .7-.3 .6 .1 .7-.1 .7 .2 .7-.2 .7 0 .7 .2 .6 .1 .7-.4 .7 .5 .7-.3 .7 0 .7 .2 .7 0 .6 0 .7 .1 .7-.1 .7-.1 .7 .2 .7-.3 .6-.1 .7 .2 .7 .2 .7-.3 .7 .3 .7 0 .6 .1 .7-.3 .7-.2 .7 .1 .7 0 .7 .3 .6-.5 .7 .4 .7 .1 .7-.2 .7 0 .7 0 .7 0 .6-.1 .7-.1 .7 0 .7 .4 .7-.4 .7 0 .6 .1 .7 .3 .7-.1 .7 .1 .7-.1 .7-.2 .6-.2 .7 .3 .7-.2 .7-.1 .7 .2 .7 0 .6 .1 .7-.3 .7 .4 .7-.3" stroke="#f0863a" stroke-width="1.12" fill="none" stroke-linejoin="round"/>
</g>
<path d="M209.4 415.1H329.1" stroke="#919191" stroke-width="1.1" fill="none"/>
<path d="M390.3 31.8V90.4M388.1 90.4H390.3M388.1 75.75H390.3M388.1 61.1H390.3M388.1 46.45H390.3M388.1 31.8H390.3" stroke="#c4c4c4" stroke-width="0.9" fill="none"/>
<path d="M390.3 90.4V92.4M406.93 90.4V92.4M423.56 90.4V92.4M440.19 90.4V92.4M456.81 90.4V92.4M473.44 90.4V92.4M490.07 90.4V92.4M506.7 90.4V92.4" stroke="#606060" stroke-width="0.8" fill="none"/>
<text x="385.2" y="92.4" font-size="5.6" fill="#4a4a4a" font-family='"Liberation Sans", sans-serif' text-anchor="end" textLength="10.2" lengthAdjust="spacingAndGlyphs" stroke="#4a4a4a" stroke-width="0.22">0.00</text>
<text x="385.2" y="77.75" font-size="5.6" fill="#4a4a4a" font-family='"Liberation Sans", sans-serif' text-anchor="end" textLength="10.2" lengthAdjust="spacingAndGlyphs" stroke="#4a4a4a" stroke-width="0.22">0.20</text>
<text x="385.2" y="63.1" font-size="5.6" fill="#4a4a4a" font-family='"Liberation Sans", sans-serif' text-anchor="end" textLength="10.2" lengthAdjust="spacingAndGlyphs" stroke="#4a4a4a" stroke-width="0.22">0.40</text>
<text x="385.2" y="48.45" font-size="5.6" fill="#4a4a4a" font-family='"Liberation Sans", sans-serif' text-anchor="end" textLength="10.2" lengthAdjust="spacingAndGlyphs" stroke="#4a4a4a" stroke-width="0.22">0.60</text>
<text x="385.2" y="33.8" font-size="5.6" fill="#4a4a4a" font-family='"Liberation Sans", sans-serif' text-anchor="end" textLength="10.2" lengthAdjust="spacingAndGlyphs" stroke="#4a4a4a" stroke-width="0.22">0.80</text>
<text x="390.3" y="99.3" font-size="5.6" fill="#4a4a4a" font-family='"Liberation Sans", sans-serif' text-anchor="middle" textLength="2.7" lengthAdjust="spacingAndGlyphs" stroke="#4a4a4a" stroke-width="0.26">0</text>
<text x="406.93" y="99.3" font-size="5.6" fill="#4a4a4a" font-family='"Liberation Sans", sans-serif' text-anchor="middle" textLength="2.7" lengthAdjust="spacingAndGlyphs" stroke="#4a4a4a" stroke-width="0.26">5</text>
<text x="423.56" y="99.3" font-size="5.6" fill="#4a4a4a" font-family='"Liberation Sans", sans-serif' text-anchor="middle" textLength="5.3" lengthAdjust="spacingAndGlyphs" stroke="#4a4a4a" stroke-width="0.26">10</text>
<text x="440.19" y="99.3" font-size="5.6" fill="#4a4a4a" font-family='"Liberation Sans", sans-serif' text-anchor="middle" textLength="5.3" lengthAdjust="spacingAndGlyphs" stroke="#4a4a4a" stroke-width="0.26">15</text>
<text x="456.81" y="99.3" font-size="5.6" fill="#4a4a4a" font-family='"Liberation Sans", sans-serif' text-anchor="middle" textLength="5.3" lengthAdjust="spacingAndGlyphs" stroke="#4a4a4a" stroke-width="0.26">20</text>
<text x="473.44" y="99.3" font-size="5.6" fill="#4a4a4a" font-family='"Liberation Sans", sans-serif' text-anchor="middle" textLength="5.3" lengthAdjust="spacingAndGlyphs" stroke="#4a4a4a" stroke-width="0.26">25</text>
<text x="490.07" y="99.3" font-size="5.6" fill="#4a4a4a" font-family='"Liberation Sans", sans-serif' text-anchor="middle" textLength="5.3" lengthAdjust="spacingAndGlyphs" stroke="#4a4a4a" stroke-width="0.26">30</text>
<text x="506.7" y="99.3" font-size="5.6" fill="#4a4a4a" font-family='"Liberation Sans", sans-serif' text-anchor="middle" textLength="5.3" lengthAdjust="spacingAndGlyphs" stroke="#4a4a4a" stroke-width="0.26">35</text>
<text x="443.65" y="32.3" font-size="6.5" fill="#303030" font-family='"Liberation Sans", sans-serif' text-anchor="middle" textLength="39.3" lengthAdjust="spacingAndGlyphs" stroke="#303030" stroke-width="0.15">Delta (0.1-3Hz)</text>
<clipPath id="cBr0"><rect x="387.3" y="1.8" width="122.4" height="88.6"/></clipPath>
<g clip-path="url(#cBr0)">
<path d="M390.3 75.8v7.3m.7 -7.7v7.7m.6 -8.2v8.4m.4 -6.1v3.7m.3 -4.8v5.8m.7 -4v1.8m.6 -3.3v4.6m.7 -5.8v6.7m.7 -5.5v3.9m.3 -6.1v8.3m.3 -6v3.5m.7 -4.6v5.4m.7 -6.5v7.3m.6 -5.4v3.5m.7 -5.4v7.2m.3 -6.1v5.1m.3 -3.6v2.1m.7 -2.4v2.7m.7 -4.9v7.1m.6 -7.8v8.5m.7 -7.9v7.3m.3 -8.1v8.9m.4 -8.1v7.3m.6 -7.7v8.1m.7 -8.4v8.7m.7 -7.7v6.7m.6 -6.4v6.1m.4 -4.6v3.1m.3 -3.4v3.7m.7 -3.1v2.5m.6 -2.6v2.7m.7 -3.3v5m.7 -4v4.2m.3 -3.4v3.2m.3 -3v4.3m.7 -1.7v2m.7 -1.8v4.5m.6 -3.8v4.3m.7 -2.4v1.7m.3 -2.2v3.3m.3 -2.4v1.7m.7 -1.1v1.2m.7 -1.2v1.8m.6 -1.8v1.7m.7 -1.3v.9m.3 -.9v1m.4 -2.6v4.2m.6 -4.3v4.4m.7 -4.4v4.4m.7 -2.8v1.2m.6 -1.1v1m.4 -2.7v4.4m.3 -3.4v2.4m.7 -2.4v2.3m.6 -3v3.7m.7 -3.4v3.1m.7 -2.6v2.2m.6 -1.9v1.5m.7 -1.4v1.3m.7 -1.4v1.5m.6 -1.6v1.9m1.4 -1.2v.8m.6 -.9v1.2m1.3 -1.1v1.2m.7 -1.1v1.2m2 -.9v1m.7 -1.3v1.7m1.3 -1.4v1.3m.7 -1.4v1.6m.6 -1.4v1.3m.7 -1.1v1m.7 -1.4v1.9m.6 -1.7v1.6m.7 -1.7v1.9m.7 -1.3v.8m.6 -.9v1.1m.7 -1.1v1.1m.7 -1.3v1.7m.6 -1.5v1.4m.7 -1.3v1.3m.7 -1.3v1.2m.6 -1.5v1.8m.7 -1.3v.9m3.3 -1.4v1.9m.7 -1.6v1.3m.6 -1.5v1.7m.7 -1.4v1.1m.7 -1.2v1.2m1.3 -1.5v1.8m.7 -1.4v1.1m.6 -1.1v1m.7 -1.2v1.5m.7 -1.7v1.8m.6 -1.9v2m.7 -1.5v1.1m.7 -1.1v1.1m.6 -1.4v1.7m.7 -1.4v1.1m1.3 -1.1v1.1m2 -1.4v1.6m.7 -1.3v.9m.6 -1.1v1.4m.7 -1.2v.9m1.3 -1.3v1.6m.7 -1.6v1.6m.7 -1.6v1.5m.6 -1.4v1.4m1.4 -1.3v1.1m.6 -1.4v1.7m.7 -1.7v1.6m.7 -1.5v1.4m.6 -1.4v1.4m2 -1.6v1.7m2 -1.4v1m.7 -1.3v1.5m.6 -1.5v1.5m.7 -1.6v1.8m.7 -1.9v1.9m2.6 -1.4v.9m1.4 -1.4v1.9m.6 -1.6v1.3m.7 -1.2v1.1m1.3 -1.5v1.9m1.4 -1.7v1.6m2.6 -1.4v1.2m1.3 -1.3v1.3m.7 -1.4v1.5m2 -1.3v1.2m.7 -1.1v1m.6 -1.1v1.1m.7 -1v.9m2 -1.2v1.5m.7 -1.4v1.4m.6 -1.5v1.5m.7 -1.4v1.4m.7 -1.3v1.2m1.3 -1.6v1.9m.7 -1.5v1.2m.6 -1.2v1.1m1.3 -1v1m.7 -1.5v2m.7 -1.5v1m.6 -1.4v1.7m1.4 -1.5v1.3m2 -1.1v.9m.6 -.9v1m.7 -1.2v1.4m-116.4 -13.3v3.9m.7 -4.7v6.6m.6 -3.8v2.3m.4 -4.2v6.6m.3 -5.4v4m.7 -5.4v6.2m.6 -5.3v3.8m.7 -3.1v2.9m.7 -4.5v6.8m.3 -5.9v5.2m.3 -5.8v5.8m.7 -5.7v4.5m.7 -5.7v5.7m.6 -5.9v7.2m.7 -5.9v5.9m.3 -6.3v7.3m.3 -5.7v3.5m.7 -3.9v3.1m.7 -5.5v6.7m.6 -5.7v6.5m.7 -5.8v6.8m.3 -5v4m.4 -4v3.8m.6 -5.8v7.2m.7 -5.2v2.6m.7 -3v2.3m.6 -2.9v2.3m.4 -3v3.1m.3 -3.8v3.9m.7 -4.4v3.7m.6 -4.5v4.2m.7 -1.7v1.5m.7 -1.3v3.4m.3 -4.8v7.4m.3 -4.2v2.8m.7 -3.2v7.1m.7 -7.5v11.5m.6 -9.7v8.9m.7 -9.8v11.9m.3 -11.1v11m.3 -12.1v7.3m.7 -10.7v2.4m.7 -8.5v2.8m.6 -11.9v8.1m.7 -15.9v10.9m.3 -11.5v5.6m.4 -2.1v3.6m.6 -1.8v10m.7 -3.9v7.7m.7 0v7m.6 2.1v3.5m.4 -2.1v7.9m.3 -7.7v8.1m.7 -8.2v9.5m.6 -9.9v11.5m.7 -7.1v3m.7 -6.7v10.7m.6 -8v5.5m.7 -5.8v6.5m1.3 -3.6v1.1m7.3 -.4v1.2m1.4 -1.1v1.2m1.3 -1.1v1.2m.7 -1v.9m2.6 -.8v1.1m.7 -1v.9m2 -.7v.9m.7 -1v1.1m1.3 -1.2v1.3m2.6 -1.1v.9m.7 -1v1.1m5.3 -1v.9m5.3 -.9v.9m2 -1v1.1m.7 -1v.9m7.3 -.9v.9m2 -.9v.9m1.4 -1v1m.6 -1v1m2.7 -.9v.9m3.3 -1v1.1m1.3 -1.1v1.1m.7 -1.1v1.1m2 -1.1v1.1m1.3 -1v.9m.7 -1.1v1.2m2 -1.2v1.2m.7 -1.1v1.1m.6 -1.1v1.1m.7 -1v.9m2.6 -1v1.1m1.4 -1.1v1.1m.6 -1.1v1.2m1.4 -1.2v1.2m2.6 -1.2v1.3m.7 -1.2v1.1m2 -1v1m.7 -1v1m.6 -1v1.1m2.7 -1.1v1.2m.6 -1v.8m.7 -.9v1.1m2 -1.1v1.1m1.3 -1v1m.7 -1v1" stroke="#cccccc" stroke-width="0.55" fill="none" marker-start="url(#cap)" marker-mid="url(#cap)" marker-end="url(#cap)"/>
<path d="M390.3 79.4l.7-.5 .6-.3 .4-1.2 .3 1.6 .7-.8 .6 .7 .7-.2 .7-.1 .3 1.3 .3-2.3 .7 1.5 .7-1.3 .6 .7 .7 .3 .3-1.5 .3 0 .7 1.7 .7-1.4 .6-.3 .7 1.9 .3-.2 .4-2.3 .6 1.5 .7 0 .7 .2 .6 0 .4-.4 .3-.6 .7 1.3 .6-.8 .7-.4 .7 1.9 .3 .2 .3 1.4 .7 .1 .7 2 .6 0 .7 1 .3 .2 .3-.6 .7 1.1 .7 .5 .6 .6 .7-.8 .3-.2 .4-.5 .6 .6 .7 .6 .7 .4 .6-1 .4-.2 .3 .7 .7 .6 .6-1 .7-.2 .7 .6 .6-.2 .7 .3 .7-.3 .6-.3 .7 .5 .7 0 .6 0 .7 .2 .6 .1 .7 .1 .7 .3 .6-.3 .7 .2 .7 .2 .6-.1 .7-.2 .7 .1 .6 .3 .7-.4 .7 .3 .6 .3 .7-.4 .7 .5 .6 0 .7-.3 .7 .4 .6 .1 .7-.4 .7 .2 .6-.2 .7 .2 .6-.1 .7-.1 .7 .2 .6 .3 .7-.1 .7-.2 .6-.1 .7 .2 .7 .1 .6 .1 .7-.5 .7 .2 .6 .2 .7-.3 .7 .2 .6-.1 .7 .1 .7-.2 .6 .1 .7 .2 .6-.1 .7 .2 .7-.2 .6 .2 .7-.3 .7 .2 .6-.1 .7-.1 .7 0 .6 .1 .7-.3 .7-.1 .6 0 .7 .1 .7 0 .6 .1 .7-.1 .7-.1 .6 .2 .7 .2 .7-.4 .6 .2 .7-.3 .6 .1 .7 .1 .7-.2 .6 0 .7-.1 .7 .5 .6-.6 .7 .3 .7-.2 .6 .1 .7-.1 .7 .1 .6 0 .7 .2 .7-.1 .6-.3 .7 .1 .7 .2 .6 .1 .7 .1 .7-.2 .6-.1 .7 0 .6 0 .7 .3 .7 0 .6-.1 .7-.2 .7 .3 .6-.3 .7 .3 .7 0 .6-.3 .7 .2 .7-.1 .6-.1 .7 0 .7 .2 .6-.2 .7-.2 .7 .1 .6 .2 .7 .1 .6-.4 .7 .2 .7 .3 .6 0 .7-.4 .7 .3 .6-.1 .7-.2 .7 .3 .6-.1 .7 .1" stroke="#6e6e6e" stroke-width="1.05" fill="none" stroke-linejoin="round"/>
<path d="M390.3 75.8l.7 1.1 .6-1.3 .4 2 .3-.4 .7 .8 .6-1.6 .7-.5 .7 3.1 .3-1.9 .3 0 .7-.6 .7-.7 .6 1.2 .7 .7 .3-.8 .3-2.1 .7 1 .7 .1 .6 1.2 .7 1.3 .3-.7 .4 1.5 .6-1.5 .7-1 .7-.1 .6-1.1 .4 .3 .3-1.3 .7-.8 .6 .4 .7 .7 .7 3 .3-.5 .3-.1 .7 2 .7 2.6 .6 0 .7 1.4 .3 .1 .3-3.2 .7-5.4 .7-6.3 .6-7.2 .7-7.5 .3-.5 .4-2 .6 5.6 .7 8.5 .7 8.4 .6 5.2 .4 3.9 .3 .9 .7 1.4 .6-.6 .7 .3 .7 .3 .6 0 .7 .2 .7 0 .6-.3 .7 .3 .7 .3 .6-.3 .7 .7 .6-.1 .7-.4 .7 .3 .6 .3 .7 .1 .7-.4 .6 .1 .7 .4 .7-.3 .6 .2 .7 .2 .7 .2 .6 .1 .7-.2 .7-.3 .6 .4 .7-.1 .7 .2 .6 0 .7 .2 .7-.4 .6 0 .7 .3 .6-.1 .7-.1 .7 0 .6 .4 .7-.2 .7 .1 .6 .1 .7-.6 .7 .4 .6 .2 .7-.2 .7-.1 .6 .1 .7 .1 .7-.4 .6 .1 .7 0 .7 .1 .6 0 .7-.1 .6 .2 .7-.1 .7 .1 .6 .1 .7-.4 .7 .3 .6-.1 .7 0 .7 .2 .6-.2 .7-.2 .7 .3 .6 0 .7-.2 .7 .1 .6-.2 .7 .6 .7-.3 .6-.2 .7 .2 .7 .1 .6 .1 .7-.5 .6 .5 .7-.6 .7 .3 .6-.2 .7 .3 .7 0 .6-.2 .7 0 .7 0 .6-.1 .7 .3 .7 .1 .6 0 .7-.3 .7 .3 .6 0 .7-.1 .7 0 .6-.1 .7 .3 .7 0 .6-.4 .7 .2 .6 .1 .7-.2 .7 .2 .6-.2 .7-.1 .7 .1 .6 .2 .7 0 .7 0 .6-.2 .7 0 .7 0 .6 .4 .7-.6 .7 .4 .6 .3 .7-.1 .7-.4 .6 .5 .7-.4 .6 .2 .7 .1 .7 .2 .6-.2 .7-.4 .7 .3 .6 .1 .7-.1 .7 .1 .6-.3 .7 .1" stroke="#7b3bb3" stroke-width="1.12" fill="none" stroke-linejoin="round"/>
</g>
<path d="M390.3 90.4H506.7" stroke="#919191" stroke-width="1.1" fill="none"/>
<path d="M465.1 41.6H473.6" stroke="#7b3bb3" stroke-width="1.1"/>
<path d="M465.1 48.5H473.6" stroke="#8a8a8a" stroke-width="0.9"/>
<text x="474" y="43.7" font-size="5.8" fill="#303030" font-family='"Liberation Sans", sans-serif' textLength="33.2" lengthAdjust="spacingAndGlyphs" stroke="#303030" stroke-width="0.12">Freely-moving</text>
<text x="474" y="50.6" font-size="5.8" fill="#303030" font-family='"Liberation Sans", sans-serif' textLength="30.71" lengthAdjust="spacingAndGlyphs" stroke="#303030" stroke-width="0.12">Anesthetized</text>
<path d="M390.3 113.2V172.3M388.1 172.3H390.3M388.1 157.53H390.3M388.1 142.75H390.3M388.1 127.98H390.3M388.1 113.2H390.3" stroke="#c4c4c4" stroke-width="0.9" fill="none"/>
<path d="M390.3 172.3V174.3M406.95 172.3V174.3M423.61 172.3V174.3M440.26 172.3V174.3M456.91 172.3V174.3M473.57 172.3V174.3M490.22 172.3V174.3M506.88 172.3V174.3" stroke="#606060" stroke-width="0.8" fill="none"/>
<text x="385.2" y="174.3" font-size="5.6" fill="#4a4a4a" font-family='"Liberation Sans", sans-serif' text-anchor="end" textLength="10.2" lengthAdjust="spacingAndGlyphs" stroke="#4a4a4a" stroke-width="0.22">0.00</text>
<text x="385.2" y="159.53" font-size="5.6" fill="#4a4a4a" font-family='"Liberation Sans", sans-serif' text-anchor="end" textLength="10.2" lengthAdjust="spacingAndGlyphs" stroke="#4a4a4a" stroke-width="0.22">0.20</text>
<text x="385.2" y="144.75" font-size="5.6" fill="#4a4a4a" font-family='"Liberation Sans", sans-serif' text-anchor="end" textLength="10.2" lengthAdjust="spacingAndGlyphs" stroke="#4a4a4a" stroke-width="0.22">0.40</text>
<text x="385.2" y="129.98" font-size="5.6" fill="#4a4a4a" font-family='"Liberation Sans", sans-serif' text-anchor="end" textLength="10.2" lengthAdjust="spacingAndGlyphs" stroke="#4a4a4a" stroke-width="0.22">0.60</text>
<text x="385.2" y="115.2" font-size="5.6" fill="#4a4a4a" font-family='"Liberation Sans", sans-serif' text-anchor="end" textLength="10.2" lengthAdjust="spacingAndGlyphs" stroke="#4a4a4a" stroke-width="0.22">0.80</text>
<text x="390.3" y="181.2" font-size="5.6" fill="#4a4a4a" font-family='"Liberation Sans", sans-serif' text-anchor="middle" textLength="2.7" lengthAdjust="spacingAndGlyphs" stroke="#4a4a4a" stroke-width="0.26">0</text>
<text x="406.95" y="181.2" font-size="5.6" fill="#4a4a4a" font-family='"Liberation Sans", sans-serif' text-anchor="middle" textLength="2.7" lengthAdjust="spacingAndGlyphs" stroke="#4a4a4a" stroke-width="0.26">5</text>
<text x="423.61" y="181.2" font-size="5.6" fill="#4a4a4a" font-family='"Liberation Sans", sans-serif' text-anchor="middle" textLength="5.3" lengthAdjust="spacingAndGlyphs" stroke="#4a4a4a" stroke-width="0.26">10</text>
<text x="440.26" y="181.2" font-size="5.6" fill="#4a4a4a" font-family='"Liberation Sans", sans-serif' text-anchor="middle" textLength="5.3" lengthAdjust="spacingAndGlyphs" stroke="#4a4a4a" stroke-width="0.26">15</text>
<text x="456.91" y="181.2" font-size="5.6" fill="#4a4a4a" font-family='"Liberation Sans", sans-serif' text-anchor="middle" textLength="5.3" lengthAdjust="spacingAndGlyphs" stroke="#4a4a4a" stroke-width="0.26">20</text>
<text x="473.57" y="181.2" font-size="5.6" fill="#4a4a4a" font-family='"Liberation Sans", sans-serif' text-anchor="middle" textLength="5.3" lengthAdjust="spacingAndGlyphs" stroke="#4a4a4a" stroke-width="0.26">25</text>
<text x="490.22" y="181.2" font-size="5.6" fill="#4a4a4a" font-family='"Liberation Sans", sans-serif' text-anchor="middle" textLength="5.3" lengthAdjust="spacingAndGlyphs" stroke="#4a4a4a" stroke-width="0.26">30</text>
<text x="506.88" y="181.2" font-size="5.6" fill="#4a4a4a" font-family='"Liberation Sans", sans-serif' text-anchor="middle" textLength="5.3" lengthAdjust="spacingAndGlyphs" stroke="#4a4a4a" stroke-width="0.26">35</text>
<text x="443.55" y="114.9" font-size="6.5" fill="#303030" font-family='"Liberation Sans", sans-serif' text-anchor="middle" textLength="35.9" lengthAdjust="spacingAndGlyphs" stroke="#303030" stroke-width="0.15">Theta (3-7Hz)</text>
<clipPath id="cBr1"><rect x="387.3" y="83.2" width="122.57" height="89.1"/></clipPath>
<g clip-path="url(#cBr1)">
<path d="M390.3 160.9v2.1m.7 -1.6v1.2m.3 -1.5v1.8m.3 -2.4v2.9m.7 -3.5v4.1m.7 -4v3.9m.6 -4.3v4.7m.7 -4.2v4.1m.3 -3.1v2.1m.4 -1.5v1.1m.6 -1.8v2.8m.7 -2.4v2.3m.7 -3.2v4.4m.6 -4.5v4.6m.7 -3.9v3.2m.3 -3.6v4m.4 -4v3.9m.6 -3.4v3m.7 -2.9v2.8m.7 -4v4.9m.6 -4.7v4.2m.4 -3.8v3.3m.3 -4.2v4.9m.7 -3.3v1.5m.6 -3v4.1m.7 -3.8v3.2m.7 -2.8v2.2m.3 -1.9v1.4m.3 -2.4v3.3m.7 -4.1v4.5m.7 -3.2v1.6m.6 -2.2v4.6m.4 -4.3v4.9m.3 -2.9v1.7m.3 -1.2v1.6m.4 -.9v1.4m.6 -.1v1.2m1.4 .7v1m.6 -1.1v2.4m.3 -2v2.2m.4 -2.2v2.4m.6 -1.6v1.4m.7 -1.1v1.4m1.3 -1.1v1.4m.4 -1.4v1.6m.3 -2v2.5m1.3 -1.9v1.8m1.4 -1.8v2.5m.6 -2.1v1.9m.7 -1.6v1.7m.7 -1.2v.9m.6 -1v1.4m.7 -1.2v1.3m.7 -.9v.8m.6 -.9v1.3m-32.6 -36.6v16.1m.7 -14v15.8m.3 -10.9v8m.3 -13.6v17.2m.7 -13.2v5.3m.7 -4.4v5m.6 -12v20.5m.7 -18.4v21.2m.3 -20.2v21.6m.4 -23.8v22.6m.6 -23.6v17.7m.7 -15.4v14.6m.7 -13.5v13.9m.6 -14.5v13.9m.7 -18.3v21.5m.3 -22v21.9m.4 -16v12.1m.6 -7.8v7.7m.7 -8.8v14m.7 -14.1v11.9m.6 -16.7v19.1m.4 -20.7v21.1m.3 -18v15.5m.7 -9.9v5.5m.6 -9.1v13.9m.7 -10.7v6.3m.7 -10.7v14m.3 -16.9v19.2m.3 -18v16.5m.7 -14.9v12.7m.7 -10.1v6.9m.6 -17.6v21.3m.4 -22.4v20.2m.3 -14.2v13.1m.3 -5.8v3.3m.4 -4.7v11.1m.6 -6.8v7.6m.7 -5v7.6m.7 -6.9v7.4m.6 -6.1v6m.3 -4.9v4.4m.4 -8.2v10.8m.6 -11.1v9.1m.7 -9.8v8m.7 -13.8v12m.6 -14.3v8.9m.4 -8.7v4.7m.3 -3.4v5.9m.7 -3.9v9.6m.6 -6.4v10.9m.7 -5.4v10.5m.7 -5.9v11.9m.3 -6.8v7.1m.3 -9.2v12.2m.7 -10.2v9.9m.7 -7v5.9m.6 -4.9v4.2m.7 -7.2v10.5m.7 -11.7v12.8m.6 -13.3v13.3" stroke="#cccccc" stroke-width="0.55" fill="none" marker-start="url(#cap)" marker-mid="url(#cap)" marker-end="url(#cap)"/>
<path d="M390.3 162.3l.7-.4 .3-.6 .3 .4 .7 1.3 .7 .4 .6-1.2 .7 0 .3 .7 .4 .5 .6-1.7 .7-.2 .7 1.1 .6-.5 .7 1.8 .3-1.2 .4 .5 .6-.8 .7 .2 .7 .4 .6-1.1 .4 .5 .3-1.1 .7 1 .6-.7 .7 .6 .7 .1 .3-1.2 .3-.5 .7 .4 .7 .5 .6-.8 .4 1.9 .3-.4 .3 1.5 .4-.9 .6 2 .7 1.4 .7 1 .6 0 .3 .6 .4 .9 .6-1.3 .7 1.2 .7 .8 .6 0 .4 0 .3-.4 .7-.7 .6 1.1 .7-.1 .7 .2 .3 .7 .3-1.1 .7 .5 .7 .5 .6 0 .7 .5 .7-.2 .6 .4 .7 0 .7 0 .6 0 .7-.1 .7 .1 .6 .2 .7 .1 .7-.1 .6 .3 .7 .2 .7 .1 .6 0 .7 0 .7 0 .6-.1 .7 .2 .7-.2 .6 .1 .7 0 .7-.1 .6 .1 .7 .1 .7-.2 .6 .2 .7-.1 .7-.1 .6 0 .7 0 .7 0 .6 .1 .7-.1 .7 .1 .6-.1 .7 .2 .7-.1 .6-.1 .7 0 .7 .1 .6 0 .7 0 .7 0 .6 0 .7 0 .7-.1 .6 0 .7 0 .6 .2 .7-.1 .7-.1 .6 0 .7 .1 .7-.1 .6 .1 .7 0 .7 0 .6 0 .7-.1 .7 .1 .6-.1 .7 .1 .7 0 .6 0 .7 0 .7-.1 .6 0 .7 .1 .7-.1 .6 .1 .7-.1 .7 0 .6 0 .7 .2 .7-.1 .6 .1 .7 0 .7-.2 .6 .1 .7 0 .7-.1 .6 0 .7 .1 .7-.1 .6 .1 .7-.1 .7 .1 .6 0 .7 0 .7-.1 .6 0 .7 0 .7 0 .6 .1 .7 0 .7 0 .6-.1 .7 .1 .7 0 .6-.1 .7 .1 .7-.1 .6 .1 .7 0 .7 0 .6-.1 .7 0 .7 0 .6 .1 .7-.1 .7 .1 .6-.1 .7 0 .6 .1 .7-.1 .7 .1 .6 0 .7 0 .7 0 .6 0 .7-.1 .7 .1 .6-.1 .7 .1 .7 .1 .6-.1 .7 0 .7 0" stroke="#6e6e6e" stroke-width="1.05" fill="none" stroke-linejoin="round"/>
<path d="M390.3 142.3l.7 3.8 .3 .3 .3-.6 .7-2.5 .7 2.7 .6-.9 .7 1.7 .3 1.6 .4 .5 .6-5.6 .7 1.6 .7-.9 .6-.2 .7-1.5 .3 .9 .4-1.7 .6 2.5 .7 4.2 .7 .4 .6-1.8 .4-2.6 .3-.4 .7 2 .6-.1 .7-.8 .7 .2 .3-.5 .3 .1 .7 2.4 .7-3.8 .6 1.3 .4-5.7 .3-1.3 .3 8.6 .4-.7 .6 1.4 .7 4.5 .7-.8 .6 1.1 .3 1 .4-1.9 .6-.6 .7-.5 .7-.9 .6-5.4 .4-2 .3 4 .7 2.1 .6 2.1 .7 7.5 .7 2.6 .3 3.4 .3 1.7 .7 .5 .7 .3 .6 .1 .7-.2 .7 .5 .6-.1 .7 .5 .7 .2 .6 .6 .7 .1 .7 .2 .6 .3 .7 .6 .7 .1 .6 .4 .7 0 .7 .4 .6 .2 .7 .3 .7-.2 .6 .5 .7-.2 .7 .4 .6 0 .7 .1 .7 .1 .6 .4 .7 0 .7 .1 .6 .1 .7 0 .7 .2 .6 0 .7 0 .7-.3 .6 .2 .7 .1 .7-.1 .6-.1 .7 .2 .7 0 .6-.1 .7 .1 .7-.2 .6 .2 .7-.2 .7 .2 .6 0 .7 0 .7-.2 .6 .2 .7-.2 .6 .2 .7 0 .7 0 .6-.2 .7 0 .7-.1 .6 .1 .7 .1 .7 0 .6 .1 .7-.1 .7-.1 .6 .1 .7 .1 .7-.2 .6 .1 .7-.2 .7 .2 .6 .1 .7-.1 .7 0 .6-.1 .7 .1 .7 0 .6-.1 .7 0 .7 .1 .6 .1 .7-.1 .7-.1 .6 0 .7 .1 .7 .1 .6-.2 .7 .1 .7 0 .6 0 .7-.1 .7 0 .6-.1 .7 .2 .7 0 .6-.1 .7 0 .7 .2 .6-.2 .7 0 .7 .2 .6-.1 .7 0 .7-.1 .6 0 .7 .1 .7 .1 .6 0 .7 0 .7 0 .6-.1 .7-.1 .7 .2 .6-.2 .7 0 .7 0 .6 .2 .7-.1 .6 0 .7 0 .7 .1 .6-.2 .7 0 .7 .1 .6 0 .7 0 .7 0 .6-.1 .7 .1 .7 0 .6 0 .7 0 .7 .1" stroke="#cc1c1c" stroke-width="1.12" fill="none" stroke-linejoin="round"/>
</g>
<path d="M390.3 172.3H506.88" stroke="#919191" stroke-width="1.1" fill="none"/>
<path d="M390.8 196V254.2M388.6 254.2H390.8M388.6 239.65H390.8M388.6 225.1H390.8M388.6 210.55H390.8M388.6 196H390.8" stroke="#c4c4c4" stroke-width="0.9" fill="none"/>
<path d="M390.8 254.2V256.2M407.41 254.2V256.2M424.01 254.2V256.2M440.62 254.2V256.2M457.23 254.2V256.2M473.84 254.2V256.2M490.44 254.2V256.2M507.05 254.2V256.2" stroke="#606060" stroke-width="0.8" fill="none"/>
<text x="385.7" y="256.2" font-size="5.6" fill="#4a4a4a" font-family='"Liberation Sans", sans-serif' text-anchor="end" textLength="10.2" lengthAdjust="spacingAndGlyphs" stroke="#4a4a4a" stroke-width="0.22">0.00</text>
<text x="385.7" y="241.65" font-size="5.6" fill="#4a4a4a" font-family='"Liberation Sans", sans-serif' text-anchor="end" textLength="10.2" lengthAdjust="spacingAndGlyphs" stroke="#4a4a4a" stroke-width="0.22">0.10</text>
<text x="385.7" y="227.1" font-size="5.6" fill="#4a4a4a" font-family='"Liberation Sans", sans-serif' text-anchor="end" textLength="10.2" lengthAdjust="spacingAndGlyphs" stroke="#4a4a4a" stroke-width="0.22">0.20</text>
<text x="385.7" y="212.55" font-size="5.6" fill="#4a4a4a" font-family='"Liberation Sans", sans-serif' text-anchor="end" textLength="10.2" lengthAdjust="spacingAndGlyphs" stroke="#4a4a4a" stroke-width="0.22">0.30</text>
<text x="385.7" y="198" font-size="5.6" fill="#4a4a4a" font-family='"Liberation Sans", sans-serif' text-anchor="end" textLength="10.2" lengthAdjust="spacingAndGlyphs" stroke="#4a4a4a" stroke-width="0.22">0.40</text>
<text x="390.8" y="263.1" font-size="5.6" fill="#4a4a4a" font-family='"Liberation Sans", sans-serif' text-anchor="middle" textLength="2.7" lengthAdjust="spacingAndGlyphs" stroke="#4a4a4a" stroke-width="0.26">0</text>
<text x="407.41" y="263.1" font-size="5.6" fill="#4a4a4a" font-family='"Liberation Sans", sans-serif' text-anchor="middle" textLength="2.7" lengthAdjust="spacingAndGlyphs" stroke="#4a4a4a" stroke-width="0.26">5</text>
<text x="424.01" y="263.1" font-size="5.6" fill="#4a4a4a" font-family='"Liberation Sans", sans-serif' text-anchor="middle" textLength="5.3" lengthAdjust="spacingAndGlyphs" stroke="#4a4a4a" stroke-width="0.26">10</text>
<text x="440.62" y="263.1" font-size="5.6" fill="#4a4a4a" font-family='"Liberation Sans", sans-serif' text-anchor="middle" textLength="5.3" lengthAdjust="spacingAndGlyphs" stroke="#4a4a4a" stroke-width="0.26">15</text>
<text x="457.23" y="263.1" font-size="5.6" fill="#4a4a4a" font-family='"Liberation Sans", sans-serif' text-anchor="middle" textLength="5.3" lengthAdjust="spacingAndGlyphs" stroke="#4a4a4a" stroke-width="0.26">20</text>
<text x="473.84" y="263.1" font-size="5.6" fill="#4a4a4a" font-family='"Liberation Sans", sans-serif' text-anchor="middle" textLength="5.3" lengthAdjust="spacingAndGlyphs" stroke="#4a4a4a" stroke-width="0.26">25</text>
<text x="490.44" y="263.1" font-size="5.6" fill="#4a4a4a" font-family='"Liberation Sans", sans-serif' text-anchor="middle" textLength="5.3" lengthAdjust="spacingAndGlyphs" stroke="#4a4a4a" stroke-width="0.26">30</text>
<text x="507.05" y="263.1" font-size="5.6" fill="#4a4a4a" font-family='"Liberation Sans", sans-serif' text-anchor="middle" textLength="5.3" lengthAdjust="spacingAndGlyphs" stroke="#4a4a4a" stroke-width="0.26">35</text>
<text x="443.85" y="193.2" font-size="6.5" fill="#303030" font-family='"Liberation Sans", sans-serif' text-anchor="middle" textLength="38.9" lengthAdjust="spacingAndGlyphs" stroke="#303030" stroke-width="0.15">Alpha (7-12Hz)</text>
<clipPath id="cBr2"><rect x="387.8" y="166" width="122.25" height="88.2"/></clipPath>
<g clip-path="url(#cBr2)">
<path d="M390.8 240.3v7.4m.7 -7.1v7.1m.3 -5.6v4.2m.3 -5.1v6.2m.7 -5.7v5.5m.7 -4.2v3.2m.6 -2.5v2.1m.7 -3.6v4.8m.3 -3.7v2.5m.3 -4.3v5.9m.7 -5.6v5m.7 -4v2.7m.6 -4.5v6m.7 -6.5v7.3m.7 -5.6v4.2m.3 -5.6v7.2m.3 -5.6v4.1m.7 -2.6v1.4m.7 -2.6v4.1m.6 -3.8v3.5m.4 -5.2v6.9m.3 -5.7v4.5m.7 -5.8v7.1m.6 -4.7v2.3m.7 -3v3.7m.7 -2.7v1.4m.6 -1.7v1.7m.3 -3.7v5.6m.4 -3.6v1.5m.6 -2.3v2.7m.7 -3.5v4m.7 -4.3v6.9m.3 -4.2v2.7m.3 -1.4v1.3m.4 -1v1.9m.3 -1.3v1.8m1.3 .3v2.3m.7 -2v2.2m.7 -2v2.4m.3 -2.1v2.1m.3 -1.7v1.6m.7 -1.4v1.8m1.3 -1.2v1.8m.7 -1.2v1.2m.3 -1v1.1m.3 -1v1.1m1.4 -1v2.1m.6 -1.9v2m1 -1.5v1.4m1 -1.2v1.5m.7 -1v.8m.7 -1.5v1.8m.6 -1v1m.7 -1v1m-31.9 -33.7v12.1m.7 -9.6v14.9m.3 -16.1v21.2m.3 -25.2v24.3m.7 -31.2v28.4m.7 -17.8v7.2m.6 -8.6v10m.7 -9.4v14.6m.3 -20.1v28.5m.3 -21.5v16.4m.7 -17.6v22.8m.7 -27.1v25.5m.6 -23.9v16.5m.7 -16.1v14.5m.7 -19.9v24.2m.3 -22.8v20.8m.3 -26.3v29.5m.7 -23v11.8m.7 -22.5v28.6m.6 -17.1v17.2m.4 -18.9v26.4m.3 -22.2v20.9m.7 -17v19m.6 -26.2v26.1m.7 -20.3v7.2m.7 -10.8v12.1m.6 -15.8v17.2m.3 -21.8v25.2m.4 -17.5v9.8m.6 -17.1v24.3m.7 -15.8v7.4m.7 -11.6v13.8m.3 -15.7v16.6m.3 -15.7v22.7m.4 -9.8v4.5m.3 -1.6v6.5m.7 -.9v5.5m.6 .5v3.7m.7 -4.1v4.5m.7 -4.1v3.7m.3 -5.2v6.7m.3 -6.1v3.2m.7 -5.1v2.4m.7 -5v2.8m.6 -5.7v2.8m.7 -7.4v6.2m.3 -7.3v5.5m.3 -3v2.8m.7 -1v3.9m.7 -3v6.8m.6 -4.1v7.2m.7 -2v2.6m.3 -3.4v7.1m.4 -3.8v1.7m.6 -3.4v7.4m.7 -4.2v3.3m.7 -4.9v7.1m.6 -4v1.5m.7 -3.2v5.5m.7 -5.9v6.9" stroke="#cccccc" stroke-width="0.55" fill="none" marker-start="url(#cap)" marker-mid="url(#cap)" marker-end="url(#cap)"/>
<path d="M390.8 243.7l.7 .3 .3-.3 .3 1.5 .7-1.6 .7 .2 .6 1 .7 .8 .3-2.4 .3 2.6 .7-1.6 .7-.5 .6 .6 .7-.1 .7 .1 .3 .7 .3 0 .7-.5 .7 0 .6 .6 .4-.6 .3-.3 .7 .8 .6-.9 .7 .9 .7-1.7 .6 2.6 .3-.4 .4-1.7 .6-.1 .7 .1 .7 2.1 .3-.3 .3 1.4 .4-.5 .3 .3 .7 1.9 .6 1.2 .7 .1 .7 .6 .3 0 .3 .5 .7 .2 .7-.1 .6 .2 .7-.1 .3 1.3 .3-.1 .7-.1 .7 .3 .6 .5 .7 .2 .3 .1 .4-.3 .6 .1 .7 .1 .7 .2 .6 .2 .7 .1 .7 .2 .6 .1 .7 0 .6 0 .7 0 .7 0 .6 0 .7 0 .7 0 .6 0 .7 0 .7 0 .6 0 .7 0 .6 0 .7 0 .7 0 .6 0 .7 0 .7 0 .6 0 .7 0 .7 0 .6 0 .7 0 .7 0 .6 0 .7 0 .6 0 .7 0 .7 0 .6 0 .7 0 .7 0 .6 0 .7 0 .7 0 .6 0 .7 0 .7 0 .6 0 .7 0 .6 0 .7 0 .7 0 .6 0 .7 0 .7 0 .6 0 .7 0 .7 0 .6 0 .7 0 .7 0 .6 0 .7 0 .6 0 .7 0 .7 0 .6 0 .7 0 .7 0 .6 0 .7 0 .7 0 .6 0 .7 0 .7 0 .6 0 .7 0 .6 0 .7 0 .7 0 .6 0 .7 0 .7 0 .6 0 .7 0 .7 0 .6 0 .7 0 .7 0 .6 0 .7 0 .6 0 .7 0 .7 0 .6 0 .7 0 .7 0 .6 0 .7 0 .7 0 .6 0 .7 0 .7 0 .6 0 .7 0 .6 0 .7 0 .7 0 .6 0 .7 0 .7 0 .6 0 .7 0 .7 0 .6 0 .7 0 .7 0 .6 0 .7 0 .7 0 .6 0 .7 0 .6 0 .7 0 .7 0 .6 0 .7 0 .7 0 .6 0 .7 0 .7 0 .6 0 .7 0 .6 0" stroke="#6e6e6e" stroke-width="1.05" fill="none" stroke-linejoin="round"/>
<path d="M390.8 226.9l.7 5.9 .3-1.2 .3 0 .7-7 .7-2.5 .6 3.9 .7 4.4 .3-1.2 .3 4.1 .7-.3 .7-6.3 .6 .6 .7 1.1 .7-1.5 .3-1.3 .3-.8 .7-4 .7-.8 .6 4.9 .4 3.7 .3-1.7 .7 5.4 .6-4.1 .7-3.9 .7 1.9 .6-.5 .3-3.6 .4-3.4 .6 6.2 .7-1.9 .7 1.2 .3-2.5 .3 5.9 .4-.4 .3 4.9 .7 4.4 .6 5.8 .7 .3 .7-.9 .3 .7 .3-.8 .7-1.7 .7-3 .6-1.4 .7-5 .3-1.4 .3-.1 .7 4.2 .7 1.7 .6 3.7 .7 1.3 .3 2.9 .4 1.4 .6 .9 .7 .5 .7 .4 .6 0 .7 .4 .7 .1 .6 .3 .7 .8 .6-.1 .7 .3 .7 0 .6 .6 .7 .3 .7 1 .6 .3 .7 .6 .7 .7 .6 .3 .7 .5 .6 .1 .7 .4 .7 .3 .6 .1 .7 .1 .7 0 .6 .2 .7 .2 .7-.1 .6 0 .7 0 .7 .1 .6 .1 .7-.1 .6-.1 .7 .1 .7 .1 .6 0 .7-.1 .7 0 .6-.1 .7 0 .7 0 .6 .1 .7 0 .7 .1 .6-.1 .7 0 .6-.1 .7 0 .7 0 .6 0 .7 .1 .7 0 .6 0 .7-.1 .7 .1 .6 0 .7-.1 .7 .1 .6 0 .7 0 .6 0 .7-.1 .7 .2 .6-.1 .7-.1 .7 0 .6 0 .7 0 .7 .1 .6 0 .7 0 .7 .1 .6 0 .7 0 .6-.1 .7 0 .7 0 .6 0 .7-.1 .7 .1 .6-.1 .7 0 .7 0 .6 .1 .7 0 .7 .1 .6 0 .7-.1 .6 0 .7-.1 .7 .1 .6-.1 .7 .1 .7 0 .6 0 .7 0 .7 0 .6 .1 .7-.1 .7-.1 .6 .1 .7 0 .6-.1 .7 .1 .7-.1 .6 .2 .7-.2 .7 .1 .6 0 .7 .1 .7 0 .6-.1 .7 .1 .7-.2 .6 0 .7 .1 .7 0 .6 0 .7 .1 .6-.2 .7 .1 .7 0 .6 0 .7 0 .7 0 .6 0 .7 0 .7 0 .6 0 .7 0 .6 0" stroke="#74b84a" stroke-width="1.12" fill="none" stroke-linejoin="round"/>
</g>
<path d="M390.8 254.2H507.05" stroke="#919191" stroke-width="1.1" fill="none"/>
<path d="M391 277V335.5M388.8 335.5H391M388.8 316H391M388.8 296.5H391M388.8 277H391" stroke="#c4c4c4" stroke-width="0.9" fill="none"/>
<path d="M391 335.5V337.5M407.6 335.5V337.5M424.21 335.5V337.5M440.81 335.5V337.5M457.41 335.5V337.5M474.02 335.5V337.5M490.62 335.5V337.5M507.22 335.5V337.5" stroke="#606060" stroke-width="0.8" fill="none"/>
<text x="385.9" y="337.5" font-size="5.6" fill="#4a4a4a" font-family='"Liberation Sans", sans-serif' text-anchor="end" textLength="10.2" lengthAdjust="spacingAndGlyphs" stroke="#4a4a4a" stroke-width="0.22">0.00</text>
<text x="385.9" y="318" font-size="5.6" fill="#4a4a4a" font-family='"Liberation Sans", sans-serif' text-anchor="end" textLength="10.2" lengthAdjust="spacingAndGlyphs" stroke="#4a4a4a" stroke-width="0.22">0.04</text>
<text x="385.9" y="298.5" font-size="5.6" fill="#4a4a4a" font-family='"Liberation Sans", sans-serif' text-anchor="end" textLength="10.2" lengthAdjust="spacingAndGlyphs" stroke="#4a4a4a" stroke-width="0.22">0.08</text>
<text x="385.9" y="279" font-size="5.6" fill="#4a4a4a" font-family='"Liberation Sans", sans-serif' text-anchor="end" textLength="10.2" lengthAdjust="spacingAndGlyphs" stroke="#4a4a4a" stroke-width="0.22">0.12</text>
<text x="391" y="344.4" font-size="5.6" fill="#4a4a4a" font-family='"Liberation Sans", sans-serif' text-anchor="middle" textLength="2.7" lengthAdjust="spacingAndGlyphs" stroke="#4a4a4a" stroke-width="0.26">0</text>
<text x="407.6" y="344.4" font-size="5.6" fill="#4a4a4a" font-family='"Liberation Sans", sans-serif' text-anchor="middle" textLength="2.7" lengthAdjust="spacingAndGlyphs" stroke="#4a4a4a" stroke-width="0.26">5</text>
<text x="424.21" y="344.4" font-size="5.6" fill="#4a4a4a" font-family='"Liberation Sans", sans-serif' text-anchor="middle" textLength="5.3" lengthAdjust="spacingAndGlyphs" stroke="#4a4a4a" stroke-width="0.26">10</text>
<text x="440.81" y="344.4" font-size="5.6" fill="#4a4a4a" font-family='"Liberation Sans", sans-serif' text-anchor="middle" textLength="5.3" lengthAdjust="spacingAndGlyphs" stroke="#4a4a4a" stroke-width="0.26">15</text>
<text x="457.41" y="344.4" font-size="5.6" fill="#4a4a4a" font-family='"Liberation Sans", sans-serif' text-anchor="middle" textLength="5.3" lengthAdjust="spacingAndGlyphs" stroke="#4a4a4a" stroke-width="0.26">20</text>
<text x="474.02" y="344.4" font-size="5.6" fill="#4a4a4a" font-family='"Liberation Sans", sans-serif' text-anchor="middle" textLength="5.3" lengthAdjust="spacingAndGlyphs" stroke="#4a4a4a" stroke-width="0.26">25</text>
<text x="490.62" y="344.4" font-size="5.6" fill="#4a4a4a" font-family='"Liberation Sans", sans-serif' text-anchor="middle" textLength="5.3" lengthAdjust="spacingAndGlyphs" stroke="#4a4a4a" stroke-width="0.26">30</text>
<text x="507.22" y="344.4" font-size="5.6" fill="#4a4a4a" font-family='"Liberation Sans", sans-serif' text-anchor="middle" textLength="5.3" lengthAdjust="spacingAndGlyphs" stroke="#4a4a4a" stroke-width="0.26">35</text>
<text x="444.1" y="278.3" font-size="6.5" fill="#303030" font-family='"Liberation Sans", sans-serif' text-anchor="middle" textLength="38.4" lengthAdjust="spacingAndGlyphs" stroke="#303030" stroke-width="0.15">Beta (12-30Hz)</text>
<clipPath id="cBr3"><rect x="388" y="247" width="122.22" height="88.5"/></clipPath>
<g clip-path="url(#cBr3)">
<path d="M391 323.7v2.2m.7 -3.3v3.8m.6 -2.8v1.2m.4 -2.5v3.5m.3 -2.8v1.8m.7 -2.3v2.2m.6 -3v3.2m.7 -4.6v6m.3 -5.2v4.5m.3 -3.6v2.7m.7 -3.7v4.6m.7 -4.3v4m.6 -2.6v1.2m.7 -2.5v3.6m.7 -4.4v5m.3 -5.3v5.6m.3 -6.1v6.4m.7 -3.9v1.3m.7 -2.8v4m.6 -3.7v3.3m.7 -3.6v3.6m.3 -4.6v5.6m.4 -4.6v3.5m.6 -3.9v4.1m.7 -4.8v5.3m.6 -5.4v5.9m.7 -5v4.4m.3 -4.1v4m.4 -2.7v1.7m.6 -2.3v3.2m.7 -2.5v2.2m.7 -2.8v5.4m.6 -4.2v4.9m.4 -2.4v.9m.3 -.8v2.2m.7 -1v3m.6 -1.4v2.9m.7 -1.7v1.6m.7 -1v1.6m.3 -1.5v2m.3 -1.6v1.8m.7 -1.9v3.2m.6 -2.5v2.9m.7 -2.7v3m.7 -3v3.3m.3 -2v.9m.3 -1.9v3.1m.7 -2.1v1.5m.7 -1.2v1.3m.6 -1.6v2.3m.7 -1.8v1.7m.3 -1.3v1.1m.4 -2.1v3m.6 -1.7v1.1m1.4 -1.1v1.7m.6 -2.2v2.2m.7 -2.1v2.1m.6 -1.5v1.5m-32.5 -36.9v25.1m.7 -22.1v17.1m.6 -16.4v13.8m.4 -13.8v12.8m.3 -22.1v28.5m.7 -24v13.6m.6 -19.5v19.5m.7 -14.2v15.5m.3 -16.9v21.5m.3 -20.2v18.9m.7 -18.6v18.3m.7 -14.3v7.9m.6 -8.1v5.9m.7 -16.5v21.2m.7 -16.2v5.3m.3 -13.1v18m.3 -15.9v12.2m.7 -19.5v23.5m.7 -11v13.2m.6 -8.9v6.5m.7 -6.9v9.2m.3 -10.8v13.4m.4 -16.8v21.2m.6 -20.9v22.6m.7 -23.2v25.7m.6 -29.6v28.8m.7 -26.2v18.9m.3 -13.8v6.4m.4 -14.1v21.6m.6 -18v14m.7 -17.3v20.2m.7 -12.3v9.5m.6 -9.7v15m.4 -8.8v5.1m.3 -5.5v9.8m.7 -7.3v12.6m.6 -5.6v6.4m.7 -5.2v7.9m.7 -6.6v9.2m.3 -9v10.7m.3 -9.9v6.2m.7 -8.6v5.2m.6 -10.3v9.5m.7 -10.1v5.7m.7 -9.3v7.8m.3 -9.8v9.2m.3 -7v8.4m.7 -7.2v13m.7 -6.1v6.2m.6 -3.5v4.7m.7 -3.8v6.8m.3 -8.5v12.1m.4 -10.9v11.7m.6 -5.4v3m.7 -1.7v4.3m.7 -4.4v4.9m.6 -7.7v10.9m.7 -10.2v9.9m.6 -6.8v4.1m1.4 -1.9v.8m3.3 1.4v.8m2.6 1.5v.8m5.4 1.7v.8m57.7 -.5v.8m2 -.8v.8" stroke="#cccccc" stroke-width="0.55" fill="none" marker-start="url(#cap)" marker-mid="url(#cap)" marker-end="url(#cap)"/>
<path d="M391 324.7l.7 .3 .6-.1 .4-.3 .3-1.1 .7-.5 .6 .6 .7 .2 .3-.4 .3 .1 .7 1.4 .7-.8 .6-1 .7 .8 .7-.9 .3-.1 .3 1.3 .7-1.9 .7 1 .6-1.7 .7-.2 .3 2.2 .4-.6 .6-1.4 .7 .7 .6 0 .7 .2 .3-.1 .4-.2 .6 1.2 .7 .1 .7 0 .6 2.1 .4 0 .3-.5 .7 2.9 .6 1.7 .7 .6 .7-.2 .3 1.5 .3 .2 .7-.1 .6 .9 .7 .3 .7 .5 .3 .1 .3 .2 .7-.4 .7 .4 .6-.6 .7 1 .3 .1 .4-.5 .6 .6 .7 .2 .7 .2 .6 .1 .7 .1 .6 0 .7 .1 .7 .1 .6-.1 .7 0 .7 0 .6 .1 .7 0 .7-.1 .6 .1 .7-.1 .6 0 .7 0 .7 .1 .6 0 .7 0 .7 0 .6-.1 .7 .1 .7 0 .6 0 .7 0 .7 0 .6 0 .7 0 .6 0 .7 0 .7 .1 .6-.1 .7 0 .7 .1 .6 0 .7 0 .7-.1 .6 0 .7 .1 .7-.1 .6 .1 .7-.1 .6 .1 .7 0 .7 0 .6 0 .7 0 .7 0 .6 0 .7 0 .7 0 .6 0 .7 0 .7 0 .6 0 .7 0 .6 0 .7 0 .7 0 .6 0 .7 0 .7 .1 .6-.1 .7 .1 .7-.1 .6 .1 .7 0 .6 0 .7 0 .7 0 .6 0 .7 0 .7 0 .6-.1 .7 .1 .7 0 .6 0 .7 0 .7 0 .6 0 .7 0 .6 0 .7 0 .7 0 .6 0 .7 0 .7 0 .6 0 .7 0 .7 .1 .6-.1 .7 0 .7 .1 .6 0 .7-.1 .6 0 .7 .1 .7 0 .6 0 .7 0 .7 0 .6 0 .7 0 .7 0 .6 0 .7 0 .6 0 .7 0 .7 0 .6 0 .7 0 .7 0 .6 0 .7 0 .7 0 .6 .1 .7 0 .7-.1 .6 .1 .7 0 .6 0 .7 0 .7 0 .6 0 .7 0 .7 0 .6 0 .7 0 .7 0 .6 0" stroke="#6e6e6e" stroke-width="1.05" fill="none" stroke-linejoin="round"/>
<path d="M391 310.8l.7-3.9 .6 3.7 .4-2 .3-2.1 .7-2.2 .6-2.7 .7 1.8 .3 2.3 .3 .5 .7-.4 .7-2.9 .6 .1 .7 0 .7-8.4 .3 2.6 .3 .7 .7-4.7 .7 7.6 .6 3.3 .7-3.1 .3 2.8 .4 1.1 .6-.6 .7 1.1 .6-1.5 .7-.5 .3-2.1 .4-4.9 .6 7 .7-2.9 .7 3.4 .6 1.8 .4 .2 .3 4.1 .7 .4 .6 5.2 .7 1.7 .7 1.6 .3 1.9 .3-1.2 .7-3.2 .6-3.3 .7-2.2 .7-.8 .3-2.1 .3 4.1 .7-.8 .7 5 .6-.2 .7 3.6 .3 1.6 .4-.6 .6 2.5 .7 2.6 .7 .1 .6-.2 .7 .5 .6 .5 .7-.3 .7 .6 .6 .4 .7 .1 .7 .7 .6 .6 .7 .7 .7 .5 .6 .4 .7 .4 .6 .8 .7 .5 .7 .2 .6 .3 .7 .6 .7 .3 .6 .1 .7 .5 .7-.1 .6 .2 .7 .4 .7 0 .6-.1 .7-.1 .6 .1 .7-.1 .7 .1 .6-.1 .7 .2 .7-.1 .6 0 .7 .1 .7-.1 .6 .1 .7 0 .7 0 .6 0 .7-.2 .6 .1 .7 .1 .7-.1 .6 .1 .7-.1 .7 0 .6 0 .7 .1 .7-.1 .6 .1 .7 0 .7-.1 .6 .1 .7-.1 .6-.1 .7 0 .7 .2 .6-.2 .7 .1 .7 .1 .6-.1 .7 0 .7 .1 .6 0 .7 0 .6-.1 .7 .1 .7-.2 .6 0 .7 0 .7 .1 .6 .1 .7-.1 .7 .2 .6-.3 .7 .2 .7 0 .6 0 .7-.1 .6 0 .7 .1 .7-.2 .6 .3 .7-.3 .7 0 .6 .1 .7 .1 .7 0 .6-.2 .7 .2 .7-.1 .6 .1 .7-.2 .6 .2 .7 0 .7-.2 .6 .1 .7-.1 .7 .2 .6-.1 .7 0 .7 0 .6 .1 .7-.2 .6 .1 .7-.1 .7 .1 .6-.2 .7 .1 .7 .1 .6 0 .7-.1 .7-.2 .6 .1 .7-.1 .7 0 .6 .2 .7-.1 .6-.1 .7 .1 .7-.2 .6 0 .7 .2 .7-.3 .6 .2 .7 0 .7-.3 .6 0" stroke="#4a7bd0" stroke-width="1.12" fill="none" stroke-linejoin="round"/>
</g>
<path d="M391 335.5H507.22" stroke="#919191" stroke-width="1.1" fill="none"/>
<path d="M390.9 359.2V417.4M388.7 417.4H390.9M388.7 398H390.9M388.7 378.6H390.9M388.7 359.2H390.9" stroke="#c4c4c4" stroke-width="0.9" fill="none"/>
<path d="M390.9 417.4V419.4M407.54 417.4V419.4M424.19 417.4V419.4M440.83 417.4V419.4M457.47 417.4V419.4M474.11 417.4V419.4M490.76 417.4V419.4M507.4 417.4V419.4" stroke="#606060" stroke-width="0.8" fill="none"/>
<text x="385.8" y="419.4" font-size="5.6" fill="#4a4a4a" font-family='"Liberation Sans", sans-serif' text-anchor="end" textLength="10.2" lengthAdjust="spacingAndGlyphs" stroke="#4a4a4a" stroke-width="0.22">0.00</text>
<text x="385.8" y="400" font-size="5.6" fill="#4a4a4a" font-family='"Liberation Sans", sans-serif' text-anchor="end" textLength="10.2" lengthAdjust="spacingAndGlyphs" stroke="#4a4a4a" stroke-width="0.22">0.01</text>
<text x="385.8" y="380.6" font-size="5.6" fill="#4a4a4a" font-family='"Liberation Sans", sans-serif' text-anchor="end" textLength="10.2" lengthAdjust="spacingAndGlyphs" stroke="#4a4a4a" stroke-width="0.22">0.02</text>
<text x="385.8" y="361.2" font-size="5.6" fill="#4a4a4a" font-family='"Liberation Sans", sans-serif' text-anchor="end" textLength="10.2" lengthAdjust="spacingAndGlyphs" stroke="#4a4a4a" stroke-width="0.22">0.03</text>
<text x="390.9" y="426.3" font-size="5.6" fill="#4a4a4a" font-family='"Liberation Sans", sans-serif' text-anchor="middle" textLength="2.7" lengthAdjust="spacingAndGlyphs" stroke="#4a4a4a" stroke-width="0.26">0</text>
<text x="407.54" y="426.3" font-size="5.6" fill="#4a4a4a" font-family='"Liberation Sans", sans-serif' text-anchor="middle" textLength="2.7" lengthAdjust="spacingAndGlyphs" stroke="#4a4a4a" stroke-width="0.26">5</text>
<text x="424.19" y="426.3" font-size="5.6" fill="#4a4a4a" font-family='"Liberation Sans", sans-serif' text-anchor="middle" textLength="5.3" lengthAdjust="spacingAndGlyphs" stroke="#4a4a4a" stroke-width="0.26">10</text>
<text x="440.83" y="426.3" font-size="5.6" fill="#4a4a4a" font-family='"Liberation Sans", sans-serif' text-anchor="middle" textLength="5.3" lengthAdjust="spacingAndGlyphs" stroke="#4a4a4a" stroke-width="0.26">15</text>
<text x="457.47" y="426.3" font-size="5.6" fill="#4a4a4a" font-family='"Liberation Sans", sans-serif' text-anchor="middle" textLength="5.3" lengthAdjust="spacingAndGlyphs" stroke="#4a4a4a" stroke-width="0.26">20</text>
<text x="474.11" y="426.3" font-size="5.6" fill="#4a4a4a" font-family='"Liberation Sans", sans-serif' text-anchor="middle" textLength="5.3" lengthAdjust="spacingAndGlyphs" stroke="#4a4a4a" stroke-width="0.26">25</text>
<text x="490.76" y="426.3" font-size="5.6" fill="#4a4a4a" font-family='"Liberation Sans", sans-serif' text-anchor="middle" textLength="5.3" lengthAdjust="spacingAndGlyphs" stroke="#4a4a4a" stroke-width="0.26">30</text>
<text x="507.4" y="426.3" font-size="5.6" fill="#4a4a4a" font-family='"Liberation Sans", sans-serif' text-anchor="middle" textLength="5.3" lengthAdjust="spacingAndGlyphs" stroke="#4a4a4a" stroke-width="0.26">35</text>
<text x="443.7" y="357.2" font-size="6.5" fill="#303030" font-family='"Liberation Sans", sans-serif' text-anchor="middle" textLength="51.4" lengthAdjust="spacingAndGlyphs" stroke="#303030" stroke-width="0.15">Gamma (30-100Hz)</text>
<clipPath id="cBr4"><rect x="387.9" y="329.2" width="122.5" height="88.2"/></clipPath>
<g clip-path="url(#cBr4)">
<path d="M390.9 412.9v1.2m.7 -1.1v1m.3 -1.5v2.1m.3 -2v1.8m.7 -2.5v3.2m1.3 -3.1v3m.7 -2.9v2.5m.7 -2.2v1.5m.3 -1.4v1m.3 -1.8v2.5m1.4 -2.3v1.3m.6 -1.2v.8m.7 -1.4v1.5m.3 -2.5v3.3m.4 -3.2v2.9m.6 -2.7v2.1m.7 -2.4v2.3m.7 -2.3v2.3m.6 -2.6v2.7m.3 -2.8v2.8m.4 -3.1v3.2m.6 -3.2v3.1m.7 -2.4v1.5m.7 -2.4v3.2m.6 -2.4v1.3m.4 -1.1v.8m.3 -1.6v2.3m1.3 -2.9v3m.7 -3.3v3.2m.3 -3.1v2.8m.4 -2.1v1.3m.6 -1.9v2m1.4 -2.3v1.8m.6 -2.4v2.8m.7 -2.1v1.1m.3 -1.2v1.1m.4 -.9v1.6m.6 -.6v1.5m.7 -.6v1.5m.7 -.9v1.5m1 -1v2.3m.3 -1.8v1.9m.7 -1.5v2.2m.6 -1.2v1.4m.7 -2v3.1m.3 -2.7v2.6m.4 -2.2v2.1m.6 -1.6v1.6m.7 -2v2.9m.7 -2v1.7m.6 -1.6v1.7m.7 -1.8v2.1m.7 -1.3v.8m.6 -1.3v2m-32.6 -39.1v16.3m.7 -17.3v20.9m.3 -15.7v11.8m.3 -11v5.1m.7 -20.6v25.7m.7 -18.7v15.6m.6 -18.7v25.6m.7 -21v18m.7 -14.3v12.1m.3 -9.9v8.5m.3 -17.5v25m.7 -24.7v21.2m.7 -20.7v17.2m.6 -9.6v5.1m.7 -6.6v11.2m.3 -11.8v13.9m.4 -9.9v6.7m.6 -10v14.9m.7 -14.1v14.8m.7 -11.9v9m.6 -12.5v16m.3 -20.7v25.4m.4 -24.9v23.6m.6 -23.8v22.5m.7 -17.7v11.3m.7 -11.3v9.7m.6 -13.1v15m.4 -20.3v24.9m.3 -18.7v9.3m.7 -10.9v6.3m.6 -17.8v23.1m.7 -10.1v4.9m.3 -8.4v15.8m.4 -17.1v26.1m.6 -11.7v12.8m.7 -4.3v3.6m.7 -2.1v8.4m.6 -11.7v15.7m.7 -14.7v14.5m.3 -9.5v4.9m.4 -8.2v11.1m.6 -11.6v11.3m.7 -9.1v6.2m.7 -10.6v5.6m.6 -11.7v8.6m.4 -11.7v10m.3 -13.2v19m.7 -11.3v8.8m.6 -7.6v18.1m.7 -14.9v3.9m.3 -9.4v11.1m.4 -4v5.9m.6 3.9v4.4m.7 -4.4v8.3m.7 -9.6v13.2m.6 -12.3v12.3m.7 -9.5v8.2m.7 -11.6v12.9m.6 -12.5v12.5m.7 -5.4v1.1m.7 -.8v.9m1.3 -.6v1.1m.6 -1v1.3m.7 -1.1v1.2m.7 -.9v1m1.3 -.7v1.2m.7 -.8v.8m.6 -.7v1m.7 -.9v1.2m2 -.7v1.3m.7 -1v1.2m2 -1.2v1.1m.6 -1v.9m1.4 -1.1v1.3m2.6 -1.3v1.3m.7 -1.1v.9m1.3 -1.1v1.2m.7 -1.2v1.2m.7 -1v.8m.6 -1.1v1.3m1.4 -1.2v1m.6 -1.1v1.3m1.4 -1.2v1m.6 -1.1v1.1m.7 -1.1v1.1m2.6 -1v.8m.7 -1v1.2m1.3 -1.2v1.1m1.4 -1v.8m.6 -.9v1m.7 -1.1v1.1m.7 -1.2v1.3m2 -1.2v1m.6 -1.1v1.1m.7 -1.1v1.1m1.3 -1.2v1.2m.7 -1.1v1m.7 -1v.9m1.3 -1v1m1.3 -1v1m1.4 -1.1v1.1m.6 -1v.8m2 -.9v.8m2 -.9v.9m1.3 -1.1v1.2m5.4 -1.2v1.2m.6 -1.2v1.2m.7 -1.2v1.2m.7 -1.2v1.2m.6 -1.1v1m.7 -1.2v1.3m.7 -1.1v1m2 -1v1m.6 -1.2v1.3m.7 -1.2v1.2m.7 -1.3v1.3m1.3 -1.1v1m.7 -1.2v1.3m.6 -1.1v1m.7 -1.1v1.2m.7 -1.2v1.2m1.3 -1.2v1.2m1.3 -1.2v1.2m2 -1.2v1.2m.7 -1.2v1.1m.6 -1v1m2 -1.1v1.2m.7 -1.1v1m.7 -1v1m.6 -1.1v1.2m1.4 -1.2v1.1m.6 -1.1v1.2m2 -1.6v1.2m1.4 -1.4v.8m.6 -.6v1.2" stroke="#cccccc" stroke-width="0.55" fill="none" marker-start="url(#cap)" marker-mid="url(#cap)" marker-end="url(#cap)"/>
<path d="M390.9 413.7l.7-1 .3 .4 .3 .3 .7-.5 .7 1.3 .6-.9 .7-.2 .7 0 .3 .6 .3-1.2 .7 .7 .7-.6 .6 .2 .7-.3 .3 .4 .4-1.1 .6-1 .7 .9 .7-1.1 .6 .6 .3 1 .4-1 .6-.1 .7 .1 .7 .4 .6-.5 .4-.2 .3-.7 .7 .7 .6-.1 .7-1.1 .3 .3 .4-.2 .6 .3 .7-.5 .7 0 .6 0 .7-.1 .3 0 .4 .3 .6 .4 .7 1.4 .7 .4 .6 1.3 .4-.1 .3-.3 .7 .9 .6 .6 .7 .2 .3-.1 .4-.1 .6 .6 .7 .7 .7 .2 .6 .2 .7 0 .7 .1 .6-.1 .7 .3 .7 0 .6-.1 .7 0 .6 .1 .7 .1 .7-.1 .6 .1 .7-.1 .7 .1 .6 0 .7 0 .7-.1 .6 0 .7 0 .7 0 .6 .1 .7 0 .7 0 .6 0 .7-.1 .7 0 .6 0 .7 0 .7-.1 .6 0 .7 .2 .7 0 .6 0 .7 0 .7 0 .6-.2 .7 .1 .7 .1 .6 0 .7 .1 .7-.2 .6-.1 .7 .2 .6 0 .7 0 .7 0 .6 0 .7-.1 .7 0 .6 0 .7 .2 .7-.1 .6-.1 .7 .1 .7 0 .6 0 .7-.1 .7 0 .6-.1 .7 .2 .7-.1 .6 .2 .7-.2 .7 0 .6 0 .7 0 .7 0 .6 .2 .7-.2 .7 0 .6 0 .7 .1 .7 0 .6 0 .7 0 .7-.2 .6 0 .7 .2 .6-.2 .7 .1 .7 0 .6 .1 .7 .1 .7-.1 .6-.1 .7 0 .7-.1 .6 .1 .7 0 .7 0 .6 .1 .7 0 .7-.2 .6 .2 .7-.2 .7 .2 .6-.1 .7 0 .7-.1 .6 .2 .7 0 .7-.1 .6 0 .7-.1 .7 0 .6 .1 .7 0 .7 0 .6 .1 .7 .1 .7-.3 .6 .2 .7-.1 .6-.1 .7 .3 .7-.1 .6-.1 .7 0 .7 0 .6 0 .7 .1 .7 .1 .6-.1 .7 0 .7 0 .6-.1 .7 0 .7 0 .6-.1 .7 .1" stroke="#6e6e6e" stroke-width="1.05" fill="none" stroke-linejoin="round"/>
<path d="M390.9 385.7l.7 5.2 .3-1.8 .3-3.1 .7-5.8 .7 1.7 .6 1.9 .7-.5 .7 .4 .3 3.1 .3 1 .7-1 .7-4.3 .6 .2 .7 .4 .3 4 .4-4 .6 5.8 .7 .2 .7-.1 .6-.9 .3 0 .4-.3 .6-2.8 .7 2.2 .7 0 .6-.4 .4-2.2 .3-5.4 .7 1.7 .6-2.9 .7 .6 .3 4.3 .4 5.9 .6 5.6 .7 4.5 .7 3.1 .6-1.1 .7 0 .3 1.6 .4 2.1 .6-4.1 .7 1.3 .7-6.1 .6-5 .4-.6 .3 4.2 .7 .2 .6 5.7 .7-2.7 .3-3.1 .4 4.6 .6 8.5 .7 2.3 .7 1.5 .6 .7 .7 0 .7 .3 .6 0 .7 .4 .7 .3 .6-.1 .7 0 .6 .6 .7-.1 .7 .5 .6 .2 .7-.1 .7 .1 .6 .4 .7 .4 .7 0 .6 0 .7 .5 .7 0 .6 .2 .7-.2 .7-.1 .6 .1 .7-.1 .7 0 .6 0 .7 .3 .7-.3 .6 .2 .7 0 .7 .1 .6 .1 .7-.4 .7-.1 .6 0 .7 .4 .7-.4 .6 .1 .7 .1 .7 0 .6-.2 .7 .1 .6-.3 .7 .3 .7 .1 .6-.1 .7-.4 .7 .3 .6-.1 .7-.1 .7 .3 .6-.4 .7 0 .7 .2 .6-.1 .7 0 .7-.1 .6-.1 .7 .2 .7 .2 .6 0 .7-.2 .7-.2 .6 0 .7-.1 .7 .3 .6-.2 .7 0 .7-.1 .6-.3 .7 .2 .7-.2 .6 0 .7 .2 .7 .1 .6-.1 .7-.2 .6-.1 .7 .4 .7-.4 .6 .2 .7 0 .7 .1 .6-.3 .7 .3 .7-.2 .6-.1 .7 .4 .7-.4 .6 .4 .7-.2 .7 .1 .6 0 .7-.1 .7 0 .6 .2 .7-.1 .7 0 .6 0 .7 0 .7 0 .6-.2 .7 .1 .7-.1 .6 0 .7 .2 .7 0 .6-.3 .7 0 .7 .3 .6-.1 .7 .1 .6-.1 .7 .2 .7-.2 .6 .2 .7-.3 .7 .2 .6-.2 .7 .3 .7-.2 .6-.2 .7 .2 .7 .1 .6-.5 .7-.3 .7 .1 .6 .1 .7 .7" stroke="#f0863a" stroke-width="1.12" fill="none" stroke-linejoin="round"/>
</g>
<path d="M390.9 417.4H507.4" stroke="#919191" stroke-width="1.1" fill="none"/>
<path d="M562.2 30.5V88.4M560 88.4H562.2M560 73.93H562.2M560 59.45H562.2M560 44.98H562.2M560 30.5H562.2" stroke="#c4c4c4" stroke-width="0.9" fill="none"/>
<path d="M562.2 88.4V90.4M579.24 88.4V90.4M596.29 88.4V90.4M613.33 88.4V90.4M630.37 88.4V90.4M647.41 88.4V90.4M664.46 88.4V90.4M681.5 88.4V90.4" stroke="#606060" stroke-width="0.8" fill="none"/>
<text x="557.1" y="90.4" font-size="5.6" fill="#4a4a4a" font-family='"Liberation Sans", sans-serif' text-anchor="end" textLength="10.2" lengthAdjust="spacingAndGlyphs" stroke="#4a4a4a" stroke-width="0.22">0.00</text>
<text x="557.1" y="75.93" font-size="5.6" fill="#4a4a4a" font-family='"Liberation Sans", sans-serif' text-anchor="end" textLength="10.2" lengthAdjust="spacingAndGlyphs" stroke="#4a4a4a" stroke-width="0.22">1.00</text>
<text x="557.1" y="61.45" font-size="5.6" fill="#4a4a4a" font-family='"Liberation Sans", sans-serif' text-anchor="end" textLength="10.2" lengthAdjust="spacingAndGlyphs" stroke="#4a4a4a" stroke-width="0.22">2.00</text>
<text x="557.1" y="46.98" font-size="5.6" fill="#4a4a4a" font-family='"Liberation Sans", sans-serif' text-anchor="end" textLength="10.2" lengthAdjust="spacingAndGlyphs" stroke="#4a4a4a" stroke-width="0.22">3.00</text>
<text x="557.1" y="32.5" font-size="5.6" fill="#4a4a4a" font-family='"Liberation Sans", sans-serif' text-anchor="end" textLength="10.2" lengthAdjust="spacingAndGlyphs" stroke="#4a4a4a" stroke-width="0.22">4.00</text>
<text x="562.2" y="97.3" font-size="5.6" fill="#4a4a4a" font-family='"Liberation Sans", sans-serif' text-anchor="middle" textLength="2.7" lengthAdjust="spacingAndGlyphs" stroke="#4a4a4a" stroke-width="0.26">0</text>
<text x="579.24" y="97.3" font-size="5.6" fill="#4a4a4a" font-family='"Liberation Sans", sans-serif' text-anchor="middle" textLength="2.7" lengthAdjust="spacingAndGlyphs" stroke="#4a4a4a" stroke-width="0.26">5</text>
<text x="596.29" y="97.3" font-size="5.6" fill="#4a4a4a" font-family='"Liberation Sans", sans-serif' text-anchor="middle" textLength="5.3" lengthAdjust="spacingAndGlyphs" stroke="#4a4a4a" stroke-width="0.26">10</text>
<text x="613.33" y="97.3" font-size="5.6" fill="#4a4a4a" font-family='"Liberation Sans", sans-serif' text-anchor="middle" textLength="5.3" lengthAdjust="spacingAndGlyphs" stroke="#4a4a4a" stroke-width="0.26">15</text>
<text x="630.37" y="97.3" font-size="5.6" fill="#4a4a4a" font-family='"Liberation Sans", sans-serif' text-anchor="middle" textLength="5.3" lengthAdjust="spacingAndGlyphs" stroke="#4a4a4a" stroke-width="0.26">20</text>
<text x="647.41" y="97.3" font-size="5.6" fill="#4a4a4a" font-family='"Liberation Sans", sans-serif' text-anchor="middle" textLength="5.3" lengthAdjust="spacingAndGlyphs" stroke="#4a4a4a" stroke-width="0.26">25</text>
<text x="664.46" y="97.3" font-size="5.6" fill="#4a4a4a" font-family='"Liberation Sans", sans-serif' text-anchor="middle" textLength="5.3" lengthAdjust="spacingAndGlyphs" stroke="#4a4a4a" stroke-width="0.26">30</text>
<text x="681.5" y="97.3" font-size="5.6" fill="#4a4a4a" font-family='"Liberation Sans", sans-serif' text-anchor="middle" textLength="5.3" lengthAdjust="spacingAndGlyphs" stroke="#4a4a4a" stroke-width="0.26">35</text>
<text x="616.15" y="30.8" font-size="6.5" fill="#303030" font-family='"Liberation Sans", sans-serif' text-anchor="middle" textLength="40.3" lengthAdjust="spacingAndGlyphs" stroke="#303030" stroke-width="0.15">Delta (0.1-3Hz)</text>
<clipPath id="cBn0"><rect x="559.2" y="0.5" width="125.3" height="87.9"/></clipPath>
<g clip-path="url(#cBn0)">
<path d="M562.2 72.8v2.2m.7 -2.1v2.4m.7 -2v1.8m.3 -3.1v4.6m.3 -4.9v5.3m.7 -5.7v6.4m.7 -4.5v2.9m.7 -4.7v6.2m.7 -6.2v5.9m.3 -3.8v1.6m.4 -2.1v2.5m.6 -2.7v2.5m.7 -4.7v6.6m.7 -6.2v5.8m.7 -3.7v1.7m.3 -2.3v2.8m.4 -2.5v2.3m.6 -3.7v5.1m.7 -4.5v3.9m.7 -5.5v7m.7 -6.7v6.4m.3 -4.7v3m.4 -3v3m.7 -3.7v4.4m.6 -4.1v3.8m.7 -5.1v6.1m.7 -4.4v2.5m.3 -4.6v6.5m.4 -5.8v4.9m.7 -4.4v3.7m.6 -5.6v7.2m.7 -4.4v3.4m.7 -3.9v6m.3 -4.9v4.8m.4 -4.1v4.5m.7 -3.5v4.8m.7 -2.6v2.7m.6 -3v4m.7 -3.9v4.3m.4 -3v2m.3 -2.2v2.7m.7 -3.4v4.6m.7 -4v4m.6 -2.9v2.1m.4 -3v4m.3 -2.6v1.4m.7 -1.8v2.5m.7 -2.7v3.2m.7 -2.5v2.1m.7 -1.4v.9m.6 -1.9v3.2m.4 -3.2v3.4m.3 -3.4v3.5m.7 -2.4v1.6m.7 -1.2v1.1m.7 -1.9v1m.6 -2.9v3.1m.4 -2.5v1m.3 -1.1v1.7m.7 -1.7v2.9m.7 -2v2.3m.7 -2.8v3.5m.6 -2.4v1.4m.7 -2.1v2.9m.7 -2.6v2.5m.7 -2v1.6m.7 -2.9v4.4m.7 -4.4v4.5m.6 -4.5v4.6m.7 -3.1v1.8m.7 -1.3v.9m.7 -2.2v3.5m.7 -3.9v4.3m.6 -3.2v2.2m.7 -2.1v2m.7 -3v3.9m.7 -3.4v3m.7 -3.1v3.1m.7 -3.3v3.6m.6 -3.3v2.9m.7 -3.4v4m.7 -3.5v3m.7 -3.4v3.7m.7 -2.3v.9m.6 -1.8v2.7m.7 -3.5v4.3m.7 -3.5v2.8m.7 -3.1v3.5m.7 -3.2v2.9m.7 -3.7v4.5m.6 -2.8v1.2m.7 -1.5v1.9m.7 -1.7v1.5m.7 -2.8v4.2m.7 -4.4v4.6m.6 -3v1.5m.7 -1.7v2m.7 -1.9v1.8m.7 -2.5v3.2m.7 -3.3v3.6m.7 -2.7v1.8m.6 -2.9v4.1m.7 -3.3v2.6m.7 -2.7v2.8m.7 -2.5v2.2m.7 -2.4v2.6m.6 -1.7v1m.7 -1v1m.7 -2.8v4.6m.7 -3.2v1.9m.7 -2v2.2m.7 -3.5v4.7m.6 -3.4v2m.7 -1.6v1.2m.7 -2.7v4.2m.7 -3.4v2.4m.7 -2.9v3.4m.6 -2.7v2m.7 -1.7v1.3m.7 -1.5v1.7m.7 -2.8v3.8m.7 -3.4v2.9m.7 -3.2v3.4m.6 -3.5v3.6m.7 -3.3v3m.7 -3.3v3.5m.7 -2.6v1.6m.7 -1.6v1.6m.6 -2.1v2.5m.7 -3.3v4.1m.7 -2.9v1.7m.7 -2.9v3.9m.7 -4v4.1m.7 -3.9v3.7m.6 -2.5v1.2m.7 -1.3v1.3m.7 -2.6v4m.7 -2.8v1.7m.7 -1.3v.9m.6 -2v3.1m.7 -3.3v3.6m.7 -3.8v4.1m.7 -3.8v3.6m.7 -3.4v3.2m.6 -2.7v2.2m.7 -3.3v4.5m.7 -3.2v1.9m.7 -2.2v2.6m.7 -1.9v1.3m.7 -2.2v3.1m.6 -3.3v3.5m.7 -3.1v2.8m.7 -2.5v2.3m.7 -1.6v1m.7 -2.1v3.3m.6 -2.2v1m.7 -2.3v3.8m.7 -3.5v3.2m.7 -3.7v4.2m.7 -3.7v3.4m.7 -3.6v3.8m.6 -2.9v2m.7 -3.3v4.5m.7 -3.8v3.1m.7 -3v3m.7 -2.7v2.4m.6 -3.3v4.1m.7 -3.7v3.3m.7 -3.1v3m.7 -3.1v3.2m.7 -3.6v3.9m.7 -4.3v4.7m.6 -3.1v1.6m.7 -3.1v4.6m.7 -3.3v2m.7 -2.3v2.5m.7 -3.1v3.7m.6 -3.8v4m.7 -3.1v2.2m.7 -2.1v2m.7 -2.5v2.9m.7 -2.8v2.7m.7 -2.5v2.4m.6 -2.2v2m.7 -1.5v.9m.7 -2.6v4.4m-119.3 -9.9v2.3m.7 -3.1v4.5m.7 -3.7v3.5m.3 -2.3v1.4m.3 -1.4v1.6m.7 -1.7v2.4m.7 -1.7v1.7m.7 -2.7v1.3m.7 -3.8v4m.3 -4v2.9m.4 -1.9v1.5m.6 -1.7v3m.7 -2.7v3.6m.7 -4.5v4.2m.7 -4v2.6m.3 -2.4v1.7m.4 -1.1v1m.6 -1.5v3.2m.7 -2.5v3m.7 -4.6v4.9m.7 -3.9v1.9m.3 -1.8v1.1m.4 -1.8v3m.7 -2.7v3.6m.6 -2.1v1.8m.7 -2.5v2m.7 -2.4v1.6m.3 -3.2v4.3m.4 -3.6v3.2m.7 -2.3v1.9m.6 -1.8v2.3m.7 -1.2v1.9m.7 -.6v1m.3 -3.3v6.4m.4 -5.9v6m.7 -4v3.2m.7 -2.7v3.4m.6 -4.1v7m.7 -3.8v2.9m.4 -3.6v5.5m.3 -8.2v6.9m.7 -9.1v3.2m.7 -8.7v6.1m.6 -17.2v3.2m.4 -11.5v7.2m.3 -5.9v2.2m.7 -4.7v2.4m.7 2.9v5.5m.7 2.4v3.4m.7 3.5v4.1m.6 2v6.5m.4 -.8v2.3m.3 -2.2v2.7m.7 -3.3v5m.7 -3.3v2.8m.7 -3.1v4m.6 -3v2.6m.4 -3.8v5.2m.3 -5.1v5.3m.7 -3.2v1.6m1.4 -.9v1m1.3 -.8v.9m1.4 -.8v.9m.7 -.8v.9m3.4 -.5v.9m.7 -.9v.9m1.3 -.8v.9m2.8 -.7v.9m1.3 -.8v.9m4.1 -.7v1m.7 -1v.9m3.4 -.9v.9m1.4 -.9v1m4.7 -1v1m10.3 -1v1m1.3 -1v1m4.1 -1v1m3.4 -1v1m1.4 -1v1m2 -1v.9m2.1 -.9v.9m1.3 -.9v.9m2.1 -1v.9m.7 -.9v.9m3.4 -1v.9m1.3 -1v1m5.5 -1.1v.9m4.8 -.8v.9m2.7 -.9v1m6.8 -.8v1m3.4 -.9v.9m.7 -.9v1" stroke="#cccccc" stroke-width="0.55" fill="none" marker-start="url(#cap)" marker-mid="url(#cap)" marker-end="url(#cap)"/>
<path d="M562.2 73.4l.7-.4 .7 2.1 .3-.8 .3-.3 .7-.7 .7 1.4 .7 2 .7-1.4 .3-2.5 .4 2 .6 .3 .7-1.3 .7 .7 .7-1.6 .3 2 .4-2.7 .6 2.8 .7-1.5 .7 1.5 .7-.9 .3 .8 .4-.2 .7-.4 .6-1 .7 1.4 .7-1.3 .3 1.4 .4-1 .7 0 .6-1.2 .7 0 .7 3.3 .3-1.1 .4 1.3 .7 .9 .7 1.3 .6 1.1 .7-.7 .4 1.4 .3-1.4 .7 1.8 .7-.9 .6-1 .4 1.8 .3 0 .7-.3 .7-.5 .7 .8 .7-.1 .6 .8 .4-.1 .3-.2 .7 .7 .7-.4 .7-.4 .6-1.4 .4-.2 .3-.1 .7 .5 .7 .8 .7 .4 .6 .1 .7-.4 .7 .5 .7 0 .7-.1 .7 .2 .6-.1 .7 0 .7 .1 .7 .3 .7-.3 .6 .3 .7 0 .7-.1 .7-.1 .7 .2 .7 .2 .6-.3 .7 .1 .7 .1 .7 0 .7-.3 .6 .2 .7 0 .7 .2 .7-.4 .7 .3 .7-.1 .6 .1 .7 .1 .7-.1 .7 .1 .7-.2 .6-.2 .7 .3 .7-.1 .7 .1 .7 .4 .7-.2 .6-.1 .7-.1 .7 .1 .7 .3 .7 .1 .6-.3 .7 .2 .7-.1 .7-.1 .7 .2 .7 .2 .6 0 .7-.5 .7 .1 .7 .3 .7-.5 .6 .2 .7 0 .7 .3 .7-.5 .7 .2 .7-.3 .6 .4 .7-.5 .7 .7 .7-.4 .7 .1 .6-.2 .7 .1 .7-.4 .7 0 .7-.2 .7 .1 .6 .2 .7 0 .7 .2 .7-.1 .7-.5 .6 .2 .7 .2 .7 .4 .7-.4 .7 .5 .6-.6 .7 .4 .7-.3 .7 .2 .7 0 .7 .3 .6 0 .7-.3 .7 .5 .7-.2 .7-.1 .6 .2 .7-.4 .7 .7 .7-.5 .7 .3 .7 0 .6 .2 .7 0 .7-.2 .7-.4 .7 .6 .6-.3 .7-.2 .7 .3 .7 .2 .7-.1 .7-.1 .6-.3 .7 .6 .7-.4 .7 0 .7-.1 .6 .3 .7 .2 .7-.5 .7 .2 .7-.2 .7 .1 .6 .2 .7 0 .7 .2" stroke="#6e6e6e" stroke-width="1.05" fill="none" stroke-linejoin="round"/>
<path d="M562.2 75.9l.7 .1 .7-.6 .3 1.1 .3-2 .7 1.2 .7 1.1 .7-1.6 .7-.3 .3-.6 .4 .1 .6 .8 .7 .2 .7-.3 .7-1.6 .3 .5 .4 .5 .6-.9 .7 1.5 .7-.3 .7-.6 .3 0 .4-2.1 .7 3.3 .6 .2 .7-.6 .7 0 .3-1.3 .4-1.3 .7 2.2 .6 .2 .7 .5 .7 1.3 .3 .4 .4-.1 .7 1 .7 .2 .6 .8 .7 .8 .4 1.1 .3-2.2 .7-3.6 .7-3.9 .6-13.7 .4-5.1 .3-.3 .7-3 .7 7.9 .7 6 .7 6.5 .6 8.4 .4 2.8 .3 .2 .7 .4 .7 .8 .7 .5 .6-.1 .4 .1 .3 .2 .7 .3 .7 .3 .7 .2 .6-.2 .7 .4 .7 .2 .7-.4 .7 .2 .7 .4 .6 0 .7 .1 .7-.4 .7 .1 .7 .5 .6-.3 .7 0 .7 0 .7 .2 .7 .2 .7-.1 .6 .3 .7 0 .7 0 .7-.2 .7 .3 .6 .2 .7-.4 .7 0 .7 .1 .7 .1 .7 0 .6 .2 .7-.2 .7-.1 .7 .1 .7-.2 .6 0 .7 0 .7 .2 .7-.2 .7 .5 .7-.4 .6 0 .7 .2 .7-.2 .7 .2 .7 0 .6-.2 .7 .1 .7-.2 .7 .2 .7 .1 .7-.3 .6 .2 .7-.3 .7 0 .7 .2 .7-.1 .6 .1 .7 .1 .7 .1 .7-.2 .7-.3 .7 .5 .6-.1 .7 .3 .7-.1 .7-.5 .7 .1 .6 .3 .7 .2 .7-.1 .7 0 .7-.2 .7 .2 .6-.4 .7 0 .7 .4 .7-.1 .7-.1 .6 .2 .7-.3 .7-.2 .7-.1 .7 .4 .6 0 .7-.1 .7 0 .7-.3 .7 0 .7 .1 .6 0 .7-.1 .7-.1 .7 .2 .7 .1 .6-.3 .7 .3 .7-.2 .7 .1 .7-.1 .7-.1 .6-.2 .7 .6 .7-.1 .7-.2 .7 .2 .6 .1 .7-.4 .7 .4 .7-.1 .7-.1 .7-.2 .6 .3 .7 .3 .7-.5 .7 .1 .7 .4 .6-.1 .7-.2 .7-.1 .7 0 .7 .2 .7-.1 .6 .3 .7-.3 .7-.1" stroke="#7b3bb3" stroke-width="1.12" fill="none" stroke-linejoin="round"/>
</g>
<path d="M562.2 88.4H681.5" stroke="#919191" stroke-width="1.1" fill="none"/>
<path d="M636.9 39.4H645.3" stroke="#7b3bb3" stroke-width="1.1"/>
<path d="M636.9 46.8H645.3" stroke="#8a8a8a" stroke-width="0.9"/>
<text x="645.7" y="41.5" font-size="5.8" fill="#303030" font-family='"Liberation Sans", sans-serif' textLength="33.8" lengthAdjust="spacingAndGlyphs" stroke="#303030" stroke-width="0.12">Freely-moving</text>
<text x="645.7" y="48.9" font-size="5.8" fill="#303030" font-family='"Liberation Sans", sans-serif' textLength="31.27" lengthAdjust="spacingAndGlyphs" stroke="#303030" stroke-width="0.12">Anesthetized</text>
<path d="M562 112.4V170.4M559.8 170.4H562M559.8 155.9H562M559.8 141.4H562M559.8 126.9H562M559.8 112.4H562" stroke="#c4c4c4" stroke-width="0.9" fill="none"/>
<path d="M562 170.4V172.4M579.07 170.4V172.4M596.14 170.4V172.4M613.21 170.4V172.4M630.29 170.4V172.4M647.36 170.4V172.4M664.43 170.4V172.4M681.5 170.4V172.4" stroke="#606060" stroke-width="0.8" fill="none"/>
<text x="556.9" y="172.4" font-size="5.6" fill="#4a4a4a" font-family='"Liberation Sans", sans-serif' text-anchor="end" textLength="10.2" lengthAdjust="spacingAndGlyphs" stroke="#4a4a4a" stroke-width="0.22">0.00</text>
<text x="556.9" y="157.9" font-size="5.6" fill="#4a4a4a" font-family='"Liberation Sans", sans-serif' text-anchor="end" textLength="10.2" lengthAdjust="spacingAndGlyphs" stroke="#4a4a4a" stroke-width="0.22">0.50</text>
<text x="556.9" y="143.4" font-size="5.6" fill="#4a4a4a" font-family='"Liberation Sans", sans-serif' text-anchor="end" textLength="10.2" lengthAdjust="spacingAndGlyphs" stroke="#4a4a4a" stroke-width="0.22">1.00</text>
<text x="556.9" y="128.9" font-size="5.6" fill="#4a4a4a" font-family='"Liberation Sans", sans-serif' text-anchor="end" textLength="10.2" lengthAdjust="spacingAndGlyphs" stroke="#4a4a4a" stroke-width="0.22">1.50</text>
<text x="556.9" y="114.4" font-size="5.6" fill="#4a4a4a" font-family='"Liberation Sans", sans-serif' text-anchor="end" textLength="10.2" lengthAdjust="spacingAndGlyphs" stroke="#4a4a4a" stroke-width="0.22">2.00</text>
<text x="562" y="179.3" font-size="5.6" fill="#4a4a4a" font-family='"Liberation Sans", sans-serif' text-anchor="middle" textLength="2.7" lengthAdjust="spacingAndGlyphs" stroke="#4a4a4a" stroke-width="0.26">0</text>
<text x="579.07" y="179.3" font-size="5.6" fill="#4a4a4a" font-family='"Liberation Sans", sans-serif' text-anchor="middle" textLength="2.7" lengthAdjust="spacingAndGlyphs" stroke="#4a4a4a" stroke-width="0.26">5</text>
<text x="596.14" y="179.3" font-size="5.6" fill="#4a4a4a" font-family='"Liberation Sans", sans-serif' text-anchor="middle" textLength="5.3" lengthAdjust="spacingAndGlyphs" stroke="#4a4a4a" stroke-width="0.26">10</text>
<text x="613.21" y="179.3" font-size="5.6" fill="#4a4a4a" font-family='"Liberation Sans", sans-serif' text-anchor="middle" textLength="5.3" lengthAdjust="spacingAndGlyphs" stroke="#4a4a4a" stroke-width="0.26">15</text>
<text x="630.29" y="179.3" font-size="5.6" fill="#4a4a4a" font-family='"Liberation Sans", sans-serif' text-anchor="middle" textLength="5.3" lengthAdjust="spacingAndGlyphs" stroke="#4a4a4a" stroke-width="0.26">20</text>
<text x="647.36" y="179.3" font-size="5.6" fill="#4a4a4a" font-family='"Liberation Sans", sans-serif' text-anchor="middle" textLength="5.3" lengthAdjust="spacingAndGlyphs" stroke="#4a4a4a" stroke-width="0.26">25</text>
<text x="664.43" y="179.3" font-size="5.6" fill="#4a4a4a" font-family='"Liberation Sans", sans-serif' text-anchor="middle" textLength="5.3" lengthAdjust="spacingAndGlyphs" stroke="#4a4a4a" stroke-width="0.26">30</text>
<text x="681.5" y="179.3" font-size="5.6" fill="#4a4a4a" font-family='"Liberation Sans", sans-serif' text-anchor="middle" textLength="5.3" lengthAdjust="spacingAndGlyphs" stroke="#4a4a4a" stroke-width="0.26">35</text>
<text x="615.5" y="112.9" font-size="6.5" fill="#303030" font-family='"Liberation Sans", sans-serif' text-anchor="middle" textLength="36.2" lengthAdjust="spacingAndGlyphs" stroke="#303030" stroke-width="0.15">Theta (3-7Hz)</text>
<clipPath id="cBn1"><rect x="559" y="82.4" width="125.5" height="88"/></clipPath>
<g clip-path="url(#cBn1)">
<path d="M562 132.2v9.7m.7 -5.1v2.8m.3 -3.8v6m.4 -7.6v10.3m.3 -9.1v9.1m.3 -7.7v6.9m.7 -6.1v6.5m.7 -5.7v6m.7 -6.1v5.6m.7 -5.9v5.6m.3 -6.3v6.7m.4 -7.4v7.9m.6 -6.1v3.6m.7 -3.9v3.7m.7 -5.7v8.3m.7 -7.7v7.7m.3 -7.2v6.9m.4 -6.9v7.2m.7 -6.1v5.6m.6 -8.4v11.8m.7 -8.4v5m.7 -6.1v7.2m.4 -6.1v5m.3 -6.5v8m.7 -6.5v5m.7 -5.6v6.2m.6 -4.7v2.6m.7 -4.3v5.4m.4 -6.1v6.5m.3 -7.4v8.1m.7 -9.2v9.6m.7 -6.3v2.5m.7 -1v5.3m.6 -2v4.5m.4 -3.5v5.4m.3 -5.2v9.1m.7 -5.2v9.3m.7 -4.4v7.7m.7 -7.9v9.3m.7 -7v5.8m.3 -6v6.8m.3 -4.2v2.8m.7 -4.1v7.6m.7 -4.5v3.8m.7 -4.7v6.2m.7 -4.6v3.6m.3 -4.6v5.9m.3 -5.3v4.9m.7 -6.6v8.9m.7 -7.1v5.9m.7 -6.9v7.9m.7 -5.9v3.9m.3 -4.9v5.9m.4 -6v6.1m.6 -5.2v4.3m.7 -4.7v5.1m.7 -3.8v1.9m.7 -2.7v3m.7 -4v4.4m.7 -6.1v7.2m.6 -6v4.2m.7 -3.6v4.8m.7 -2.2v1.5m.4 -1.4v2.2m.3 -4v5.9m.7 -3.8v1.8m.7 -1.8v2m.6 -2.9v4m.7 -3.7v3.5m.7 -4.5v5.7m.7 -5.6v5.6m.7 -4.8v4.2m.7 -3.8v3.5m.6 -3.4v3.4m.7 -4.8v6.2m.7 -3.9v1.7m.7 -2.6v3.6m.7 -4.3v5.1m.7 -4.8v4.6m.6 -3.1v1.6m.7 -3.4v5.3m.7 -5.6v6m.7 -5.5v5m.7 -3.4v2m.6 -3.9v5.8m.7 -3.8v1.9m.7 -1.5v1.2m.7 -3v4.8m.7 -4.8v4.7m.7 -4.9v5.2m.6 -4.6v3.9m.7 -2.7v1.5m.7 -1.4v1.3m.7 -2.9v4.5m.7 -4.8v5.1m.7 -4v2.9m.6 -4v5.1m.7 -4.1v3.1m.7 -3.3v3.5m.7 -4.1v4.7m.7 -4.7v4.7m.7 -4.6v4.5m.6 -3.1v1.8m.7 -3.3v4.7m.7 -4.9v5.2m.7 -5.1v5m.7 -4.7v4.4m.7 -4.3v4.2m.6 -3.3v2.4m.7 -4.4v6.3m.7 -6.2v6.2m.7 -4.4v2.5m.7 -3.5v4.5m.7 -4.8v5m.6 -4.3v3.6m.7 -3.1v2.6m.7 -2.8v2.9m.7 -2.4v1.9m.7 -3.6v5.3m.6 -4.6v3.8m.7 -5.1v6.3m.7 -4.3v2.3m.7 -4.3v6.2m.7 -5.3v4.4m.7 -4.2v4m.6 -2.9v1.7m.7 -1.6v1.5m.7 -2.6v3.7m.7 -2.8v1.8m.7 -3.1v4.4m.7 -3.4v2.3m.6 -4.1v5.9m.7 -5.2v4.4m.7 -2.9v1.4m.7 -3.5v5.5m.7 -5.1v4.7m.7 -3.5v2.2m.6 -2.6v3m.7 -3.8v4.6m.7 -5.2v5.8m.7 -4.5v3.2m.7 -4.3v5.4m.7 -5.7v6m.6 -6v6m.7 -5.2v4.4m.7 -4.9v5.4m.7 -3.5v1.6m.7 -3.2v4.8m.7 -5.2v5.6m.6 -4.3v3m.7 -4.3v5.6m.7 -4.3v3m.7 -4.2v5.4m.7 -4.1v2.8m.6 -3.4v4m.7 -4.2v4.4m.7 -3.1v1.8m.7 -1.7v1.6m.7 -2.3v3m.7 -3.2v3.4m.6 -3.9v4.4m.7 -5.3v6.2m.7 -6.1v6m.7 -3.9v1.8m.7 -3.3v4.8m.7 -3.3v1.8m.6 -1.6v1.4m.7 -1.5v1.6m.7 -3.7v5.8m.7 -5.3v4.8m.7 -4.3v3.8m.7 -4v4.2m.6 -4.3v4.4m.7 -3v1.6m.7 -2.6v3.6m.7 -4.7v5.8m.7 -3.5v1.2m.7 -3v4.8m.6 -3.1v1.4m.7 -2.6v3.8m.7 -2.9v2m.7 -1.8v1.6m.7 -1.5v1.4m.7 -2.4v3.4m.6 -4.8v6.2m.7 -4v1.8m.7 -2.6v3.4m-119.5 -23.1v5.1m.7 -3.4v5.6m.3 -4v4.3m.4 -6.6v6m.3 -10.3v11.7m.3 -9v3.4m.7 -5.3v10.1m.7 -8.5v9.8m.7 -9.9v6.5m.7 -9.4v8.8m.3 -9v7.5m.4 -10.5v11.8m.6 -9v2.6m.7 -7.7v9.4m.7 -9.2v10.1m.7 -8.7v8.5m.3 -9.7v11.5m.4 -6.2v2.6m.7 -3.6v8.1m.6 -7v9.4m.7 -6.7v2.8m.7 -5.6v7.3m.4 -9v10.1m.3 -8.8v8.6m.7 -6v5.8m.7 -6.8v10.1m.6 -11.1v11m.7 -8.3v4.3m.4 -4.7v4.6m.3 -7.9v10.1m.7 -11v9.5m.7 -9v6.2m.7 -7.8v11.7m.6 -10.5v11.6m.4 -10.1v9.8m.3 -6.8v7.3m.7 -2v3.7m.7 .2v2.8m.7 -5.1v7.4m.7 -7.6v7.8m.3 -5.7v3.6m.3 -5.6v5.3m.7 -11.6v13.2m.7 -14.7v11.6m.7 -15.7v7m.7 -11.8v3.9m.3 -12.1v13.9m.3 -10.6v13.7m.7 -6.4v11.9m.7 -5.1v11m.7 -5.7v10.9m.7 -3.2v5.9m.3 -5.1v9.5m.4 -5.8v2.7m.6 -4v6.5m.7 -5.1v4.8m.7 -4.1v4m.7 -7.4v11.4m.7 -9.4v8m.7 -7v6.5m.6 -3.4v.9m1.8 -.2v.9m2.3 .2v.8m3.5 .6v.9m2.7 .2v1m.7 -.9v.9m4.7 -.5v.9m1.4 -.8v.9m.7 -.9v.9m2 -.8v.8m.7 -.9v.9m1.4 -.8v.8m4.1 -.9v1m1.4 -1v.9m2.7 -.8v.8m2 -.9v.9m2.1 -.9v.9m4.1 -.8v.8m2 -.8v.8m6.2 -.9v1m1.3 -.9v.8m.7 -.8v.8m2.8 -.9v.9m.6 -.9v.9m.7 -.9v.9m5.5 -1.1v.9m2 -1v.9m1.4 -.9v.9m3.4 -1.1v1m2.1 -1v.9m2 -1v1m.7 -.9v.9m3.4 -.9v1m.7 -.9v.8m3.4 -.8v.9m2.1 -.9v1m2.7 -.9v.9m3.4 -.9v1" stroke="#cccccc" stroke-width="0.55" fill="none" marker-start="url(#cap)" marker-mid="url(#cap)" marker-end="url(#cap)"/>
<path d="M562 136.8l.7 3.3 .3-2.9 .4 4.2 .3-.7 .3 3.4 .7-3.3 .7-.2 .7 2 .7 1.1 .3-5.2 .4 .3 .6 2.7 .7-1.5 .7-1.4 .7 4.7 .3-.9 .4-3.6 .7-.8 .6 3.4 .7-2.7 .7 4.3 .4-.1 .3-4.4 .7 1.7 .7 2 .6-2.3 .7-1.9 .4 5.1 .3-2.4 .7-3 .7 2.7 .7 3.4 .6 2.7 .4 .7 .3 2 .7 2.8 .7 5.1 .7 1.7 .7-.7 .3 .7 .3 0 .7 .8 .7 2.1 .7 1.1 .7-1.6 .3 1.9 .3-.7 .7 .8 .7 .1 .7 .2 .7 .2 .3-.5 .4 .4 .6 .4 .7-.8 .7-.5 .7-.1 .7-.2 .7-.4 .6-.5 .7 1.1 .7 .6 .4 .9 .3-.1 .7-.1 .7 .4 .6-.3 .7 .4 .7-.1 .7 .4 .7 0 .7 .2 .6-.1 .7-.2 .7 .4 .7-.3 .7 .2 .7-.2 .6 .3 .7 .1 .7-.3 .7 .4 .7-.1 .6 .3 .7 0 .7-.3 .7 .2 .7-.1 .7 .3 .6-.2 .7-.1 .7 0 .7-.1 .7 .1 .7-.3 .6 .2 .7 .2 .7-.3 .7 .4 .7-.4 .7 .4 .6-.2 .7-.2 .7 .1 .7 .3 .7-.3 .7 0 .6 .3 .7-.3 .7 0 .7 .1 .7-.2 .7 .1 .6-.1 .7 .3 .7 .1 .7-.2 .7-.4 .6-.1 .7-.1 .7 .7 .7-.4 .7 0 .7-.1 .6-.1 .7 0 .7 .1 .7-.4 .7 .2 .7 .3 .6-.1 .7-.2 .7 .3 .7-.4 .7 .1 .7-.1 .6-.1 .7 .3 .7 .1 .7-.2 .7 .2 .7-.1 .6-.1 .7 0 .7-.2 .7 .1 .7 .1 .7 .2 .6-.2 .7 .1 .7-.2 .7 0 .7 .1 .6-.2 .7 .5 .7-.5 .7 .1 .7-.2 .7 .3 .6-.1 .7 .2 .7-.1 .7 .4 .7 0 .7-.5 .6 .2 .7-.4 .7 .3 .7 .1 .7-.2 .7-.2 .6 .4 .7 0 .7-.3 .7 .5 .7 0 .7 0 .6-.6 .7 .3 .7-.1 .7 .4 .7-.4 .7 0 .6 .4 .7-.6 .7 .2" stroke="#6e6e6e" stroke-width="1.05" fill="none" stroke-linejoin="round"/>
<path d="M562 145.9l.7-.3 .3 3.6 .4-1.1 .3-5 .3 1.1 .7 3.7 .7-1.3 .7-2.2 .7 1 .3-2.9 .4 1 .6-4.6 .7 .6 .7-.5 .7-1.1 .3 2.6 .4 2.4 .7-2.9 .6 4.8 .7 1 .7-2.2 .4-1.1 .3 2 .7-.6 .7 1.5 .6 1.6 .7-2.8 .4 .9 .3 1 .7-6.3 .7 1.5 .7 2.5 .6 3.2 .4-2.6 .3 1.5 .7 3.5 .7 3.7 .7 1.1 .7-3.6 .3 1.6 .3-.8 .7-.9 .7-3 .7-8.7 .7-6.3 .3-2.2 .3 2.8 .7 9.6 .7 4.1 .7 6 .7 6.2 .3 .8 .4 .8 .6 .3 .7 .7 .7 .3 .7 .8 .7-.2 .7 .1 .6 .5 .7 .1 .7 .8 .4-.1 .3 .3 .7 .2 .7 0 .6 .3 .7 .4 .7 .4 .7 .5 .7 .3 .7 0 .6 .3 .7 .5 .7-.2 .7 .4 .7 .3 .7-.1 .6 .3 .7-.1 .7 .3 .7 .1 .7-.4 .6 0 .7 .3 .7 .3 .7-.2 .7-.2 .7 .2 .6-.2 .7 .2 .7 .1 .7-.3 .7-.1 .7 .4 .6-.3 .7 0 .7 .2 .7 0 .7 0 .7-.2 .6 .1 .7 .1 .7-.2 .7 .3 .7-.1 .7 .2 .6 .1 .7-.2 .7 .1 .7-.3 .7 0 .7-.2 .6 .4 .7 .1 .7-.4 .7 .3 .7-.3 .6 .1 .7-.1 .7 .1 .7 .2 .7-.3 .7 .2 .6 0 .7 .3 .7-.5 .7 .4 .7 0 .7 0 .6 0 .7-.4 .7 .3 .7-.1 .7 0 .7 .2 .6-.3 .7 .3 .7-.4 .7 .2 .7 0 .7 0 .6-.2 .7 0 .7 .1 .7 0 .7-.2 .7 .1 .6 0 .7-.4 .7 .4 .7 0 .7-.2 .6 0 .7 .1 .7-.2 .7 0 .7-.1 .7 .2 .6-.1 .7-.3 .7 0 .7 .1 .7 .1 .7-.2 .6 .4 .7 0 .7 .1 .7-.5 .7 .2 .7-.2 .6 .4 .7 .1 .7-.1 .7-.2 .7 .4 .7-.1 .6 0 .7-.2 .7 0 .7 .1 .7 .2 .7 0 .6-.1 .7 .2 .7 0" stroke="#cc1c1c" stroke-width="1.12" fill="none" stroke-linejoin="round"/>
</g>
<path d="M562 170.4H681.5" stroke="#919191" stroke-width="1.1" fill="none"/>
<path d="M561.7 193.6V252.1M559.5 252.1H561.7M559.5 237.47H561.7M559.5 222.85H561.7M559.5 208.22H561.7M559.5 193.6H561.7" stroke="#c4c4c4" stroke-width="0.9" fill="none"/>
<path d="M561.7 252.1V254.1M578.81 252.1V254.1M595.93 252.1V254.1M613.04 252.1V254.1M630.16 252.1V254.1M647.27 252.1V254.1M664.39 252.1V254.1M681.5 252.1V254.1" stroke="#606060" stroke-width="0.8" fill="none"/>
<text x="556.6" y="254.1" font-size="5.6" fill="#4a4a4a" font-family='"Liberation Sans", sans-serif' text-anchor="end" textLength="10.2" lengthAdjust="spacingAndGlyphs" stroke="#4a4a4a" stroke-width="0.22">0.00</text>
<text x="556.6" y="239.47" font-size="5.6" fill="#4a4a4a" font-family='"Liberation Sans", sans-serif' text-anchor="end" textLength="10.2" lengthAdjust="spacingAndGlyphs" stroke="#4a4a4a" stroke-width="0.22">0.50</text>
<text x="556.6" y="224.85" font-size="5.6" fill="#4a4a4a" font-family='"Liberation Sans", sans-serif' text-anchor="end" textLength="10.2" lengthAdjust="spacingAndGlyphs" stroke="#4a4a4a" stroke-width="0.22">1.00</text>
<text x="556.6" y="210.22" font-size="5.6" fill="#4a4a4a" font-family='"Liberation Sans", sans-serif' text-anchor="end" textLength="10.2" lengthAdjust="spacingAndGlyphs" stroke="#4a4a4a" stroke-width="0.22">1.50</text>
<text x="556.6" y="195.6" font-size="5.6" fill="#4a4a4a" font-family='"Liberation Sans", sans-serif' text-anchor="end" textLength="10.2" lengthAdjust="spacingAndGlyphs" stroke="#4a4a4a" stroke-width="0.22">2.00</text>
<text x="561.7" y="261" font-size="5.6" fill="#4a4a4a" font-family='"Liberation Sans", sans-serif' text-anchor="middle" textLength="2.7" lengthAdjust="spacingAndGlyphs" stroke="#4a4a4a" stroke-width="0.26">0</text>
<text x="578.81" y="261" font-size="5.6" fill="#4a4a4a" font-family='"Liberation Sans", sans-serif' text-anchor="middle" textLength="2.7" lengthAdjust="spacingAndGlyphs" stroke="#4a4a4a" stroke-width="0.26">5</text>
<text x="595.93" y="261" font-size="5.6" fill="#4a4a4a" font-family='"Liberation Sans", sans-serif' text-anchor="middle" textLength="5.3" lengthAdjust="spacingAndGlyphs" stroke="#4a4a4a" stroke-width="0.26">10</text>
<text x="613.04" y="261" font-size="5.6" fill="#4a4a4a" font-family='"Liberation Sans", sans-serif' text-anchor="middle" textLength="5.3" lengthAdjust="spacingAndGlyphs" stroke="#4a4a4a" stroke-width="0.26">15</text>
<text x="630.16" y="261" font-size="5.6" fill="#4a4a4a" font-family='"Liberation Sans", sans-serif' text-anchor="middle" textLength="5.3" lengthAdjust="spacingAndGlyphs" stroke="#4a4a4a" stroke-width="0.26">20</text>
<text x="647.27" y="261" font-size="5.6" fill="#4a4a4a" font-family='"Liberation Sans", sans-serif' text-anchor="middle" textLength="5.3" lengthAdjust="spacingAndGlyphs" stroke="#4a4a4a" stroke-width="0.26">25</text>
<text x="664.39" y="261" font-size="5.6" fill="#4a4a4a" font-family='"Liberation Sans", sans-serif' text-anchor="middle" textLength="5.3" lengthAdjust="spacingAndGlyphs" stroke="#4a4a4a" stroke-width="0.26">30</text>
<text x="681.5" y="261" font-size="5.6" fill="#4a4a4a" font-family='"Liberation Sans", sans-serif' text-anchor="middle" textLength="5.3" lengthAdjust="spacingAndGlyphs" stroke="#4a4a4a" stroke-width="0.26">35</text>
<text x="617" y="191.6" font-size="6.5" fill="#303030" font-family='"Liberation Sans", sans-serif' text-anchor="middle" textLength="39.6" lengthAdjust="spacingAndGlyphs" stroke="#303030" stroke-width="0.15">Alpha (7-12Hz)</text>
<clipPath id="cBn2"><rect x="558.7" y="163.6" width="125.8" height="88.5"/></clipPath>
<g clip-path="url(#cBn2)">
<path d="M561.7 216.3v7.3m.7 -9v11.8m.3 -10.4v9.6m.4 -9.9v10.8m.3 -8.4v6.6m.4 -5v3.9m.6 -2.6v2.5m.7 -4.5v7.7m.7 -6.6v6.1m.7 -7.2v8.8m.3 -6.8v5.2m.4 -4.9v4.9m.7 -6.4v8.4m.6 -9.4v11m.7 -8.8v6.6m.7 -8.1v9.6m.4 -6v2.4m.3 -4.7v7.1m.7 -8.9v10.7m.7 -6.6v2.4m.7 -5.8v9.8m.6 -7.8v6.4m.4 -4.5v2.9m.3 -5.5v8.4m.7 -9.8v11.7m.7 -8.4v5.8m.7 -5.5v3.4m.7 -6.2v7.3m.3 -5.5v2.7m.3 -7.6v11.7m.7 -10.9v8.3m.7 -8.4v6.8m.7 .4v2.9m.3 -1.7v5.8m.4 -1.3v2.1m.3 .8v1.5m.4 -.7v2.8m.7 .5v2.1m.6 .4v2.9m.7 -2.1v3.7m.7 -1.2v1m.3 -2.3v4.8m.4 -3.8v3.4m.7 -2.7v3.1m.7 -1.5v1.1m.6 -2.7v4.8m.7 -3.3v2.4m.4 -2v1.9m.3 -2.6v3.7m.7 -3v2.8m.7 -1.9v1.7m.7 -1.7v1.3m.7 -3.1v4.5m.3 -4.4v4.2m.3 -4.6v4.8m.7 -4.4v3.6m.7 -3.3v2.7m.7 -3.8v4.6m.7 -3v1.2m.7 -2.1v2.8m.6 -3.7v4.4m.7 -4.3v3.9m.7 -4.3v5.3m.7 -5v5.2m.7 -3.6v2.7m.7 -4.2v6.2m.7 -3.4v1.3m.6 -3.1v5.2m.7 -3v1.2m.7 -1.3v1.7m.7 -1.3v1.3m.7 -1.6v2.1m.7 -3v4.1m.6 -3.7v3.3m.7 -3.6v4.1m.7 -5v5.9m.7 -4.3v2.8m.7 -2.1v1.5m.7 -3.7v5.9m.7 -6v6.2m.6 -6.2v6.2m.7 -6v5.9m.7 -4.9v4m.7 -2.8v1.7m.7 -3.8v6m.7 -6v6m.6 -4.4v3m.7 -2.6v2.1m.7 -1.7v1.4m.7 -2.3v3.2m.7 -2.8v2.3m.7 -2.6v2.9m.7 -2.9v2.9m.6 -4.1v5.3m.7 -4.3v3.3m.7 -2.6v2m.7 -3.1v4.2m.7 -4v3.7m.7 -2.6v1.5m.6 -2.5v3.6m.7 -3.2v2.7m.7 -2.6v2.5m.7 -4.1v5.8m.7 -6.1v6.1m.7 -4.8v3.7m.6 -4.7v5.8m.7 -4.6v3.3m.7 -4.5v5.7m.7 -4.7v3.8m.7 -3.3v2.7m.7 -2.7v2.8m.7 -4.3v5.8m.6 -5.8v5.7m.7 -5.8v5.9m.7 -5.9v5.9m.7 -4.1v2.4m.7 -1.9v1.3m.7 -3v4.7m.6 -4.4v4.2m.7 -3.6v2.9m.7 -2.6v2.4m.7 -3.7v4.9m.7 -5v5.2m.7 -3.6v1.9m.7 -2.3v2.8m.6 -2.8v2.8m.7 -2.7v2.6m.7 -3.9v5.1m.7 -3.1v1.2m.7 -2.1v2.9m.7 -4.1v5.3m.6 -3.4v1.5m.7 -2.4v3.4m.7 -4.8v6m.7 -6v6m.7 -5.3v4.8m.7 -5v5.2m.7 -4.8v4.3m.6 -3.8v3.3m.7 -2.3v1.2m.7 -2.5v3.7m.7 -2.4v1.1m.7 -1.4v1.6m.7 -2.7v3.8m.6 -4.8v5.8m.7 -4.5v3.2m.7 -3.6v3.8m.7 -2.8v1.8m.7 -3.1v4.4m.7 -5.2v5.9m.7 -6.1v6.3m.6 -3.9v1.4m.7 -1.9v2.4m.7 -3v3.6m.7 -3.7v3.7m.7 -4.8v5.9m.7 -5.4v4.9m.6 -4.6v4.2m.7 -3.2v2.1m.7 -3.4v4.7m.7 -4.3v3.8m.7 -4.3v4.7m.7 -2.9v1.1m.7 -2.1v3.1m.6 -3v2.9m.7 -3.1v3.3m.7 -3.6v3.8m.7 -4.5v5.2m.7 -4.5v3.8m.7 -3v2.2m.6 -2.9v3.6m.7 -3.9v4.1m.7 -2.7v1.4m.7 -2.8v4.1m.7 -4.1v4.1m.7 -4.3v4.5m.7 -4.6v4.6m.6 -4.8v5.1m.7 -3.4v1.6m.7 -2.2v2.8m.7 -2.7v2.5m.7 -3.5v4.5m.7 -5.1v5.7m.6 -4.4v3.1m.7 -4.2v5.2m.7 -3.2v1.2m.7 -1.8v2.4m-119.8 -26v7.4m.7 -11.1v10.9m.3 -11v9.3m.4 -9.2v10.9m.3 -10.2v11.5m.4 -7.1v4.7m.6 -7.3v11.3m.7 -6.7v3.6m.7 -5.1v7.8m.7 -5.4v4.1m.3 -3.3v3.2m.4 -5.4v5.2m.7 -9.4v9m.6 -11.3v8.9m.7 -5.7v3.6m.7 -4v5.6m.4 -8.3v11.6m.3 -9.2v7.9m.7 -7.8v10.1m.7 -9.9v12m.7 -9.4v3.3m.6 -4.7v2.6m.4 -7.3v10.2m.3 -9.6v10.2m.7 -6.5v5.2m.7 -6.5v10.1m.7 -10.7v8.9m.7 -8.3v5.4m.3 -7.7v8.9m.3 -10v9.9m.7 -9.7v7.1m.7 -8.4v7.4m.7 -8.7v4.1m.3 -4.9v2.8m.4 1.1v2.8m.3 -2.5v10m.4 -7v11.8m.7 -5.8v10.1m.6 -5.3v10.6m.7 -8.6v6.7m.7 -4.9v3.1m.3 -7.1v11.1m.4 -10.7v7.4m.7 -10.6v7.9m.7 -11.5v9.2m.6 -10.3v4.4m.7 -11.3v11.3m.4 -11.3v7.7m.3 -5.6v8.1m.7 -2.1v5.5m.7 -1.9v7.7m.7 -6.7v11.5m.7 -4.7v3.8m.3 -2.6v4.3m.3 -6.3v8.9m.7 -8.4v9.1m.7 -7.4v6.9m.7 -7.9v9.5m.7 -8.2v7.4m.7 -5.5v4.2m.6 -4.4v5.2m2.8 -1.5v.9m7.5 2.1v.9m2.1 -.6v.9m.7 -.8v.8m3.4 -.4v.9m3.4 -.7v.9m8.2 -.9v.9m3.4 -.9v.9m.7 -.8v.8m4.1 -.9v.9m.7 -.9v.9m3.4 -.9v.9m6.2 -.9v.9m2.7 -.9v.9m6.9 -.9v.9m4.8 -.9v.9m.7 -.9v.9m2 -.8v.8m1.4 -.9v.9m.7 -.9v.9m4.8 -.9v.9m.6 -.9v.9m2.8 -.9v.9m2.7 -.9v.9m.7 -.9v.9m.7 -.9v.9m2 -.9v.9m1.4 -.9v.9m3.4 -.9v.9" stroke="#cccccc" stroke-width="0.55" fill="none" marker-start="url(#cap)" marker-mid="url(#cap)" marker-end="url(#cap)"/>
<path d="M561.7 219.7l.7-1.2 .3-1.7 .4 2 .3 2.9 .4 2.9 .6-3.7 .7 2.1 .7-1.1 .7-.4 .3 .9 .4-.8 .7 3.9 .6-1.2 .7 2.4 .7 .5 .4-5.7 .3 2.3 .7-.6 .7 2 .7-1.4 .6 .3 .4 1.2 .3-2.6 .7 3.1 .7 .8 .7-1.9 .7-1.9 .3-1.8 .3 4.2 .7-2.2 .7-1.9 .7 5.1 .3 1.7 .4 5.5 .3 1.2 .4 2 .7 1.4 .6 3.9 .7 1.2 .7 2 .3-.5 .4 .5 .7 .4 .7 .9 .6 1.1 .7-1.2 .4 1.3 .3-.9 .7 .4 .7 .7 .7 .6 .7-1.2 .3-1 .3 1.1 .7 .3 .7-.6 .7-.2 .7-.1 .7-.3 .6 .1 .7-.1 .7 .2 .7-.1 .7 .5 .7 .5 .7 0 .6 .4 .7 .2 .7 .2 .7 .1 .7 .1 .7 .2 .6 0 .7 .1 .7-.2 .7 .2 .7-.3 .7 .6 .7-.1 .6-.2 .7 .2 .7-.2 .7 .2 .7 .2 .7-.2 .6 0 .7-.1 .7 .4 .7 .1 .7 0 .7-.4 .7 .1 .6 0 .7 .1 .7 .3 .7-.4 .7 .2 .7-.3 .6 .3 .7-.3 .7 .4 .7-.2 .7-.1 .7 .1 .6-.1 .7-.2 .7 .2 .7 .2 .7-.2 .7 0 .7-.1 .6 .3 .7-.3 .7 .1 .7 .3 .7 0 .7-.4 .6 0 .7 .4 .7 0 .7-.4 .7 .4 .7-.2 .7 .1 .6-.3 .7 .4 .7 0 .7-.1 .7 0 .7 .2 .6-.4 .7 .2 .7-.1 .7 .1 .7-.2 .7-.1 .7 0 .6 0 .7 0 .7 .3 .7-.3 .7 .1 .7-.2 .6 .2 .7-.2 .7 .2 .7-.3 .7 .1 .7-.2 .7 0 .6-.1 .7 .3 .7 0 .7-.4 .7 .2 .7 .1 .6 0 .7-.2 .7 .1 .7-.3 .7 .4 .7-.3 .7-.2 .6 .4 .7-.1 .7-.1 .7 0 .7 .3 .7-.4 .6 .4 .7-.4 .7 0 .7 0 .7 .1 .7-.1 .7-.1 .6 .3 .7-.3 .7 .2 .7-.2 .7 .3 .7-.1 .6-.1 .7-.3 .7 .3 .7 0" stroke="#6e6e6e" stroke-width="1.05" fill="none" stroke-linejoin="round"/>
<path d="M561.7 226.7l.7-2.5 .3-.3 .4 3.4 .3 .7 .4-.6 .6 .9 .7 .3 .7 3.5 .7-1.7 .3 .3 .4-2.8 .7-1.8 .6-1.6 .7 1.5 .7 1.3 .4-2.5 .3 .6 .7 1 .7 1.7 .7 .2 .6-2.2 .4-1.1 .3 2.2 .7 .5 .7-1.2 .7 1.5 .7-3.1 .3-.1 .3-.9 .7-2.1 .7-1 .7-.1 .3-4.1 .4 6.7 .3-.9 .4 6.6 .7 6.8 .6 3 .7 1.4 .7 .2 .3-1.5 .4-.2 .7-4.5 .7-2.3 .6-7 .7 1.2 .4-3.1 .3 2.5 .7 3.6 .7 5.7 .7 2.7 .7 3.2 .3 .9 .3 0 .7 0 .7 1.7 .7 .1 .7 .5 .7 .5 .6 .3 .7-.1 .7 .4 .7 .8 .7 .3 .7-.1 .7 1 .6 .1 .7 .3 .7 .3 .7 .2 .7 .6 .7 .2 .6 .2 .7 .3 .7-.3 .7 .4 .7 0 .7 .2 .7 0 .6 .2 .7 0 .7 .2 .7-.2 .7 0 .7 .5 .6-.1 .7-.1 .7 .1 .7-.3 .7 .4 .7 0 .7 0 .6-.1 .7-.1 .7 .3 .7-.2 .7-.1 .7 .1 .6 .2 .7-.3 .7-.1 .7 .4 .7-.1 .7 .1 .6-.2 .7-.3 .7 .1 .7 0 .7 .1 .7 .1 .7-.2 .6 .1 .7 .1 .7 .2 .7-.2 .7-.1 .7 .2 .6-.2 .7 0 .7-.2 .7 .1 .7 .4 .7 0 .7-.2 .6 .1 .7-.1 .7 .1 .7-.2 .7 .1 .7 .2 .6-.4 .7 .1 .7 .2 .7-.3 .7 .3 .7-.2 .7-.1 .6 .2 .7 .2 .7-.3 .7 .2 .7-.1 .7 .2 .6-.3 .7 .1 .7-.1 .7 .1 .7-.3 .7 .3 .7 .2 .6-.1 .7 .1 .7-.2 .7-.3 .7 .4 .7-.1 .6 .1 .7-.3 .7 .2 .7-.1 .7 0 .7 0 .7 0 .6 .3 .7-.2 .7 .1 .7-.2 .7 0 .7 .2 .6-.1 .7 0 .7 .1 .7-.4 .7 .2 .7-.1 .7 .4 .6-.1 .7 0 .7-.1 .7 .1 .7-.3 .7-.1 .6 .2 .7 0 .7-.2 .7 0" stroke="#74b84a" stroke-width="1.12" fill="none" stroke-linejoin="round"/>
</g>
<path d="M561.7 252.1H681.5" stroke="#919191" stroke-width="1.1" fill="none"/>
<path d="M562.2 275.5V333.4M560 333.4H562.2M560 318.92H562.2M560 304.45H562.2M560 289.98H562.2M560 275.5H562.2" stroke="#c4c4c4" stroke-width="0.9" fill="none"/>
<path d="M562.2 333.4V335.4M579.24 333.4V335.4M596.29 333.4V335.4M613.33 333.4V335.4M630.37 333.4V335.4M647.41 333.4V335.4M664.46 333.4V335.4M681.5 333.4V335.4" stroke="#606060" stroke-width="0.8" fill="none"/>
<text x="557.1" y="335.4" font-size="5.6" fill="#4a4a4a" font-family='"Liberation Sans", sans-serif' text-anchor="end" textLength="10.2" lengthAdjust="spacingAndGlyphs" stroke="#4a4a4a" stroke-width="0.22">0.00</text>
<text x="557.1" y="320.92" font-size="5.6" fill="#4a4a4a" font-family='"Liberation Sans", sans-serif' text-anchor="end" textLength="10.2" lengthAdjust="spacingAndGlyphs" stroke="#4a4a4a" stroke-width="0.22">0.50</text>
<text x="557.1" y="306.45" font-size="5.6" fill="#4a4a4a" font-family='"Liberation Sans", sans-serif' text-anchor="end" textLength="10.2" lengthAdjust="spacingAndGlyphs" stroke="#4a4a4a" stroke-width="0.22">1.00</text>
<text x="557.1" y="291.98" font-size="5.6" fill="#4a4a4a" font-family='"Liberation Sans", sans-serif' text-anchor="end" textLength="10.2" lengthAdjust="spacingAndGlyphs" stroke="#4a4a4a" stroke-width="0.22">1.50</text>
<text x="557.1" y="277.5" font-size="5.6" fill="#4a4a4a" font-family='"Liberation Sans", sans-serif' text-anchor="end" textLength="10.2" lengthAdjust="spacingAndGlyphs" stroke="#4a4a4a" stroke-width="0.22">2.00</text>
<text x="562.2" y="342.3" font-size="5.6" fill="#4a4a4a" font-family='"Liberation Sans", sans-serif' text-anchor="middle" textLength="2.7" lengthAdjust="spacingAndGlyphs" stroke="#4a4a4a" stroke-width="0.26">0</text>
<text x="579.24" y="342.3" font-size="5.6" fill="#4a4a4a" font-family='"Liberation Sans", sans-serif' text-anchor="middle" textLength="2.7" lengthAdjust="spacingAndGlyphs" stroke="#4a4a4a" stroke-width="0.26">5</text>
<text x="596.29" y="342.3" font-size="5.6" fill="#4a4a4a" font-family='"Liberation Sans", sans-serif' text-anchor="middle" textLength="5.3" lengthAdjust="spacingAndGlyphs" stroke="#4a4a4a" stroke-width="0.26">10</text>
<text x="613.33" y="342.3" font-size="5.6" fill="#4a4a4a" font-family='"Liberation Sans", sans-serif' text-anchor="middle" textLength="5.3" lengthAdjust="spacingAndGlyphs" stroke="#4a4a4a" stroke-width="0.26">15</text>
<text x="630.37" y="342.3" font-size="5.6" fill="#4a4a4a" font-family='"Liberation Sans", sans-serif' text-anchor="middle" textLength="5.3" lengthAdjust="spacingAndGlyphs" stroke="#4a4a4a" stroke-width="0.26">20</text>
<text x="647.41" y="342.3" font-size="5.6" fill="#4a4a4a" font-family='"Liberation Sans", sans-serif' text-anchor="middle" textLength="5.3" lengthAdjust="spacingAndGlyphs" stroke="#4a4a4a" stroke-width="0.26">25</text>
<text x="664.46" y="342.3" font-size="5.6" fill="#4a4a4a" font-family='"Liberation Sans", sans-serif' text-anchor="middle" textLength="5.3" lengthAdjust="spacingAndGlyphs" stroke="#4a4a4a" stroke-width="0.26">30</text>
<text x="681.5" y="342.3" font-size="5.6" fill="#4a4a4a" font-family='"Liberation Sans", sans-serif' text-anchor="middle" textLength="5.3" lengthAdjust="spacingAndGlyphs" stroke="#4a4a4a" stroke-width="0.26">35</text>
<text x="615.65" y="276.3" font-size="6.5" fill="#303030" font-family='"Liberation Sans", sans-serif' text-anchor="middle" textLength="40.1" lengthAdjust="spacingAndGlyphs" stroke="#303030" stroke-width="0.15">Beta (12-30Hz)</text>
<clipPath id="cBn3"><rect x="559.2" y="245.5" width="125.3" height="87.9"/></clipPath>
<g clip-path="url(#cBn3)">
<path d="M562.2 303.4v2.1m.7 -3.8v7.8m.3 -5.3v4m.4 -2.4v2m.3 -4.6v8.3m.3 -9.2v8.9m.7 -9.6v8.1m.7 -8.3v6.1m.7 -5.9v6.3m.7 -4.1v2.5m.3 -4.7v7.1m.4 -5.4v4m.6 -5.9v8.4m.7 -5.1v2.4m.7 -3.1v3.3m.7 -3.9v3.9m.3 -5.2v6.1m.4 -5.3v4.3m.6 -4.9v4.8m.7 -5.5v5.7m.7 -4.6v2.9m.7 -4.8v6.1m.3 -4.1v1.9m.4 -3.7v5.2m.7 -6.2v6.6m.6 -6.6v6m.7 -3.6v1.8m.7 -3.6v6m.3 -7.4v9.1m.4 -6.8v4.8m.7 -4.1v3.9m.6 -5.9v8.5m.7 -6.8v8.6m.4 -7.6v8.3m.3 -6v5.5m.3 -3v2.1m.4 -.7v1.7m.7 -.6v4.1m.7 -.6v1.8m.6 -1.9v4.3m.7 -1.9v1.8m.4 -1.9v3.2m.3 -3.1v4.2m.7 -3.1v4.2m.7 -2.2v2.6m.6 -2.7v3.9m.4 -4.4v5.4m.3 -4.7v4.7m.7 -3.4v3.2m.7 -1.6v1.2m.7 -.8v1.5m.7 -.9v2m.6 -.7v1.2m.4 -2.3v4.3m.3 -3.8v4.1m.7 -1.8v1.3m.7 -2.7v5.8m.7 -4.2v3.2m.6 -4v5.4m.7 -3.4v2m.7 -2.9v4.3m.7 -4.1v4.5m.7 -3.8v3.5m.6 -2.6v2m.7 -3.1v4.5m.7 -3.1v2.1m.7 -2.1v2.4m.7 -2.4v2.7m.7 -2.2v1.9m.6 -3v4.3m.7 -3.3v2.6m.7 -1.8v1.2m.7 -1.6v2.1m.7 -3v3.8m.6 -4.1v4.4m.7 -2.7v1m.7 -2.4v3.8m.7 -4v4.2m1.4 -3.6v3m.6 -3.7v4.4m.7 -3.8v3.2m.7 -3.8v4.4m.7 -4v3.6m.7 -2.7v1.8m.6 -3v4.2m.7 -3.5v2.8m.7 -2v1.2m.7 -1.8v2.4m.7 -1.6v.9m.7 -2.6v4.2m.6 -2.6v1m.7 -2.6v4.2m.7 -2.8v1.4m.7 -1.3v1.2m.7 -2.3v3.4m.6 -3.2v3m.7 -2.9v2.9m.7 -2.5v2m.7 -2.2v2.4m.7 -2.4v2.4m.7 -3.4v4.4m.6 -3.7v3m.7 -3.6v4.2m.7 -3.6v3m.7 -2.6v2.2m.7 -1.8v1.4m.6 -2.1v2.8m.7 -3.1v3.4m.7 -2.2v1m.7 -1.6v2.2m.7 -2.8v3.4m.7 -2.7v2m.6 -3.3v4.6m.7 -3.8v3m.7 -3.4v3.8m.7 -2.7v1.6m.7 -2.8v4m.6 -3.1v2.2m.7 -1.8v1.4m.7 -2v2.6m.7 -2.1v1.6m.7 -2.1v2.6m.7 -3.5v4.4m.6 -3.4v2.4m.7 -2v1.6m.7 -2.6v3.6m.7 -2.9v2.2m.7 -2.7v3.2m.6 -3.6v4m.7 -2.9v1.8m.7 -1.7v1.7m.7 -1.5v1.2m.7 -2.3v3.4m.7 -2.2v1.1m.6 -2.8v4.4m.7 -2.7v1m.7 -2.6v4.2m.7 -4.1v3.9m.7 -3.8v3.7m.6 -4.2v4.6m.7 -3.5v2.3m.7 -2.9v3.6m.7 -3.4v3.1m.7 -2v.8m.6 -1.9v3m.7 -3.2v3.4m.7 -2.8v2.1m.7 -2v1.9m.7 -1.6v1.2m.7 -1.1v1m.6 -1.3v1.5m.7 -1.3v1.1m.7 -1.1v1m.7 -1.5v2m.7 -2.4v2.8m.6 -3.3v3.6m.7 -2.5v1.4m.7 -2.9v4.4m.7 -4.3v4.1m.7 -3.4v2.7m.7 -2v1.2m.6 -2.1v3m.7 -1.9v.9m.7 -1.2v1.4m.7 -2.3v3.2m.7 -2.7v2.2m.6 -3.4v4.5m.7 -3.9v3.3m.7 -3.4v3.5m.7 -3.8v4.1m.7 -3.5v2.8m.7 -2.6v2.4m.6 -2.9v3.4m.7 -2.3v1.2m.7 -1.4v1.5m.7 -1.4v1.3m.7 -2.6v3.9m.6 -3.6v3.3m.7 -2.5v1.6m.7 -2.9v4.2m.7 -2.8v1.4m.7 -1.5v1.6m.7 -1.9v2.1m.6 -3v3.9m.7 -3.5v3.1m.7 -3.9v4.7m-119.3 -24.9v9.2m.7 -8.5v9.7m.3 -8.9v9.1m.4 -10.7v9.4m.3 -9.8v7.2m.3 -10.7v11.4m.7 -11.1v9.3m.7 -8.9v7.1m.7 -7v8m.7 -6.8v6.8m.3 -5.8v5.4m.4 -8.7v8.5m.6 -12.8v10.2m.7 -12.8v8.4m.7 -4.3v2.6m.7 -3.1v5.9m.3 -5.5v6.2m.4 -8.4v11.7m.6 -7.2v5m.7 -3.7v4.8m.7 -3.2v2.7m.7 -1.9v2.4m.3 -3.7v5.5m.4 -6.4v6.1m.7 -7.9v7.5m.6 -6.2v2.5m.7 -6.3v11.3m.7 -10.2v10.2m.3 -6.7v3.8m.4 -6.6v6.5m.7 -10.7v9.1m.6 -9v3.1m.7 4v4.3m.4 -.4v4.3m.3 -3.4v7.3m.3 -5.9v9.3m.4 -7.2v9.9m.7 -7v5.6m.7 -3.2v2.3m.6 -2.1v3m.7 -3.7v5.6m.4 -4v3m.3 -4.9v5m.7 -9.1v9.8m.7 -10v6.7m.6 -11.7v5m.4 -8.4v6.1m.3 -7.7v10.3m.7 -10.1v11.7m.7 -6.6v8.8m.7 -2.2v2.9m.7 -4.8v10.1m.6 -8.6v10.6m.4 -7.6v6.4m.3 -4.5v3.7m.7 -5v8.6m.7 -8.1v10m.7 -10.3v11.7m.6 -10.3v10.1m.7 -6.7v4.4m.7 -3.5v3.7m.7 -1.7v.9m.7 -.6v.9m3.4 .7v.9m3.4 1.2v.9m1.3 -.4v.9m2.1 -.4v.9m.7 -.8v.8m6.1 -.4v.9m1.4 -.8v.8m2 -.8v.8m.7 -.9v.9m4.8 -.9v.9m2.7 -.8v.8m2 -.9v.9m2.1 -.9v.9m.7 -.8v.8m.7 -.8v.8m.6 -.8v.8m5.5 -.9v.9m.7 -.8v.8m6.1 -.8v.8m.7 -.9v.9m2.7 -.9v.9m.7 -.9v.9m.7 -.9v.8m1.3 -.8v.8m.7 -.8v.8m8.2 -1v.9m2.7 -.9v.9m1.4 -.9v.8m.7 -.9v.9m.7 -.9v.9m1.3 -.9v.9m2.7 -.8v.8m3.5 -.8v.8m2.7 -.9v.9m4.8 -.9v.9" stroke="#cccccc" stroke-width="0.55" fill="none" marker-start="url(#cap)" marker-mid="url(#cap)" marker-end="url(#cap)"/>
<path d="M562.2 304.9l.7 2.2 .3-.6 .4-.9 .3 1.7 .3 1 .7-4.1 .7 1.2 .7 1.7 .7-3.7 .3-.1 .4 1.6 .6-2.6 .7 2.7 .7-2.6 .7 2.3 .3 2.2 .4-1.2 .6 1.6 .7-2.5 .7-.3 .7 .6 .3-1.4 .4 3.5 .7-4 .6 .2 .7 .5 .7 .4 .3 .4 .4-3.1 .7 3 .6 .5 .7-.7 .4 5.8 .3-.7 .3-.7 .4-1.4 .7 3.5 .7 4 .6 2.5 .7-.2 .4 .1 .3 1.1 .7-.6 .7 2.7 .6 .4 .4-.8 .3 .2 .7 3.2 .7-1.7 .7 1.5 .7 .2 .6 .8 .4 .4 .3 1.4 .7 1.2 .7 .4 .7 .1 .6 .3 .7 .3 .7 .1 .7 .7 .7 .1 .6 .1 .7 .2 .7 0 .7 .2 .7-.1 .7 .8 .6-.2 .7-.1 .7 .4 .7-.3 .7 .3 .6-.1 .7 0 .7 .1 .7-.3 .7 .4 .7 0 .6-.2 .7 .1 .7-.1 .7-.2 .7 .1 .6 0 .7 0 .7 .1 .7-.1 .7 0 .7 .3 .6-.1 .7-.1 .7 .1 .7-.2 .7 .1 .6 0 .7-.2 .7 .4 .7-.3 .7 .1 .7-.1 .6 .2 .7-.2 .7 .1 .7-.1 .7 0 .6 .1 .7-.3 .7 .3 .7 .1 .7-.1 .7-.1 .6 0 .7-.2 .7 .4 .7-.1 .7-.2 .6 .3 .7 0 .7-.3 .7 .3 .7 0 .7 .1 .6-.3 .7-.1 .7 .4 .7 0 .7-.4 .6 .2 .7 .3 .7-.2 .7-.3 .7 .2 .7-.1 .6 0 .7 .1 .7 0 .7 .1 .7 0 .6-.2 .7 .1 .7-.1 .7-.4 .7 .4 .6-.1 .7 .1 .7-.3 .7 .1 .7 .1 .7-.2 .6 .1 .7 0 .7-.2 .7 .1 .7 .2 .6-.4 .7-.1 .7 .4 .7 0 .7-.1 .7 0 .6-.3 .7-.1 .7 .4 .7-.4 .7 .1 .6 .2 .7-.1 .7 0 .7-.2 .7 .3 .7-.1 .6-.3 .7 0 .7 .1 .7 0 .7-.1 .6-.1 .7 .2 .7-.1 .7 .2 .7-.3 .7 .1 .6-.3 .7 .5 .7-.2" stroke="#6e6e6e" stroke-width="1.05" fill="none" stroke-linejoin="round"/>
<path d="M562.2 311.5l.7 .6 .3 .8 .4-2.9 .3-1.8 .3 1.1 .7-1.8 .7 .6 .7 .3 .7-1 .3 1.4 .4-3.5 .6-4.5 .7-.3 .7 3.6 .7-1.6 .3 1.3 .4-3.2 .6 1.4 .7 3.9 .7 2.4 .7-.1 .3-1.6 .4-.4 .7 1.9 .6-3.1 .7-1.1 .7-.8 .3 2.1 .4-1 .7-1.9 .6-2.8 .7 4.1 .4 7.3 .3 3.2 .3-1.3 .4 4.4 .7 1 .7 .7 .6 1.1 .7 1.2 .4-.9 .3-1.8 .7-.7 .7-1.1 .6-7.8 .4-1.9 .3-1.2 .7 3.8 .7 3.6 .7 3.4 .7 2 .6 .6 .4 1 .3 2.6 .7-.4 .7 1.3 .7 0 .6 .9 .7 .7 .7 .3 .7 .3 .7 .4 .6 .5 .7 .2 .7 .3 .7 .1 .7 1 .7 .2 .6 .6 .7 .4 .7 .4 .7 .1 .7 .1 .6 .5 .7 0 .7 .3 .7 .1 .7 .1 .7 0 .6-.2 .7 .6 .7-.2 .7 .1 .7 0 .6 0 .7 0 .7 .2 .7 0 .7 0 .7-.2 .6 .3 .7-.2 .7 .2 .7-.2 .7 .2 .6 0 .7-.3 .7 .2 .7 .1 .7 0 .7-.4 .6 .3 .7-.2 .7 0 .7 0 .7 0 .6 0 .7 .4 .7-.2 .7-.2 .7 .3 .7-.3 .6 .3 .7 0 .7-.1 .7-.2 .7 .1 .6-.1 .7 .4 .7-.4 .7 .2 .7 .1 .7-.2 .6 .3 .7-.1 .7-.1 .7-.2 .7 .3 .6-.2 .7 .1 .7 .2 .7-.3 .7-.1 .7 .4 .6-.2 .7-.2 .7 .4 .7-.4 .7 .1 .6-.2 .7 .3 .7-.4 .7 .5 .7-.1 .6-.1 .7 .1 .7-.3 .7-.1 .7 .3 .7-.2 .6 .1 .7 .1 .7-.3 .7 .1 .7 .3 .6-.3 .7 0 .7-.2 .7 .2 .7 .1 .7-.2 .6-.1 .7 .3 .7-.3 .7-.1 .7 .3 .6-.2 .7 .1 .7 .1 .7-.2 .7 .2 .7-.2 .6 .1 .7 .3 .7 0 .7-.4 .7 .1 .6-.1 .7-.1 .7 .5 .7-.4 .7-.1 .7 .4 .6-.2 .7 .1 .7-.1" stroke="#4a7bd0" stroke-width="1.12" fill="none" stroke-linejoin="round"/>
</g>
<path d="M562.2 333.4H681.5" stroke="#919191" stroke-width="1.1" fill="none"/>
<path d="M561.8 356.5V415M559.6 415H561.8M559.6 400.38H561.8M559.6 385.75H561.8M559.6 371.12H561.8M559.6 356.5H561.8" stroke="#c4c4c4" stroke-width="0.9" fill="none"/>
<path d="M561.8 415V417M578.9 415V417M596 415V417M613.1 415V417M630.2 415V417M647.3 415V417M664.4 415V417M681.5 415V417" stroke="#606060" stroke-width="0.8" fill="none"/>
<text x="556.7" y="417" font-size="5.6" fill="#4a4a4a" font-family='"Liberation Sans", sans-serif' text-anchor="end" textLength="10.2" lengthAdjust="spacingAndGlyphs" stroke="#4a4a4a" stroke-width="0.22">0.00</text>
<text x="556.7" y="402.38" font-size="5.6" fill="#4a4a4a" font-family='"Liberation Sans", sans-serif' text-anchor="end" textLength="10.2" lengthAdjust="spacingAndGlyphs" stroke="#4a4a4a" stroke-width="0.22">0.50</text>
<text x="556.7" y="387.75" font-size="5.6" fill="#4a4a4a" font-family='"Liberation Sans", sans-serif' text-anchor="end" textLength="10.2" lengthAdjust="spacingAndGlyphs" stroke="#4a4a4a" stroke-width="0.22">1.00</text>
<text x="556.7" y="373.12" font-size="5.6" fill="#4a4a4a" font-family='"Liberation Sans", sans-serif' text-anchor="end" textLength="10.2" lengthAdjust="spacingAndGlyphs" stroke="#4a4a4a" stroke-width="0.22">1.50</text>
<text x="556.7" y="358.5" font-size="5.6" fill="#4a4a4a" font-family='"Liberation Sans", sans-serif' text-anchor="end" textLength="10.2" lengthAdjust="spacingAndGlyphs" stroke="#4a4a4a" stroke-width="0.22">2.00</text>
<text x="561.8" y="423.9" font-size="5.6" fill="#4a4a4a" font-family='"Liberation Sans", sans-serif' text-anchor="middle" textLength="2.7" lengthAdjust="spacingAndGlyphs" stroke="#4a4a4a" stroke-width="0.26">0</text>
<text x="578.9" y="423.9" font-size="5.6" fill="#4a4a4a" font-family='"Liberation Sans", sans-serif' text-anchor="middle" textLength="2.7" lengthAdjust="spacingAndGlyphs" stroke="#4a4a4a" stroke-width="0.26">5</text>
<text x="596" y="423.9" font-size="5.6" fill="#4a4a4a" font-family='"Liberation Sans", sans-serif' text-anchor="middle" textLength="5.3" lengthAdjust="spacingAndGlyphs" stroke="#4a4a4a" stroke-width="0.26">10</text>
<text x="613.1" y="423.9" font-size="5.6" fill="#4a4a4a" font-family='"Liberation Sans", sans-serif' text-anchor="middle" textLength="5.3" lengthAdjust="spacingAndGlyphs" stroke="#4a4a4a" stroke-width="0.26">15</text>
<text x="630.2" y="423.9" font-size="5.6" fill="#4a4a4a" font-family='"Liberation Sans", sans-serif' text-anchor="middle" textLength="5.3" lengthAdjust="spacingAndGlyphs" stroke="#4a4a4a" stroke-width="0.26">20</text>
<text x="647.3" y="423.9" font-size="5.6" fill="#4a4a4a" font-family='"Liberation Sans", sans-serif' text-anchor="middle" textLength="5.3" lengthAdjust="spacingAndGlyphs" stroke="#4a4a4a" stroke-width="0.26">25</text>
<text x="664.4" y="423.9" font-size="5.6" fill="#4a4a4a" font-family='"Liberation Sans", sans-serif' text-anchor="middle" textLength="5.3" lengthAdjust="spacingAndGlyphs" stroke="#4a4a4a" stroke-width="0.26">30</text>
<text x="681.5" y="423.9" font-size="5.6" fill="#4a4a4a" font-family='"Liberation Sans", sans-serif' text-anchor="middle" textLength="5.3" lengthAdjust="spacingAndGlyphs" stroke="#4a4a4a" stroke-width="0.26">35</text>
<text x="615.3" y="355.5" font-size="6.5" fill="#303030" font-family='"Liberation Sans", sans-serif' text-anchor="middle" textLength="52" lengthAdjust="spacingAndGlyphs" stroke="#303030" stroke-width="0.15">Gamma (30-100Hz)</text>
<clipPath id="cBn4"><rect x="558.8" y="326.5" width="125.7" height="88.5"/></clipPath>
<g clip-path="url(#cBn4)">
<path d="M561.8 384.7v7.9m.7 -8.3v8.1m.3 -8.2v8.1m.4 -9.1v9.8m.7 -9.9v9.4m.6 -8.7v7.4m.7 -6.2v4.4m.7 -5.3v5.7m.3 -4.2v2.4m.4 -3.9v5.1m.7 -5.2v4.7m.7 -5v4.7m.6 -6.9v8.5m.7 -5.4v2.3m.7 -3.7v5.1m.3 -4.9v4.7m.4 -4.6v4.5m.7 -5.9v7.3m.7 -6.9v6.5m.6 -8.3v9m.7 -9.1v8m.4 -8.3v8m.3 -8.9v9.2m.7 -9.9v9.4m.7 -8.6v6.6m.7 -5.7v3.7m.6 -4.3v3.7m.4 -5.6v6.9m.3 -7.2v7m.7 -5.8v3.4m.7 -7.3v10m.7 -9.7v6.5m.3 -4.9v1.8m.4 -3.6v4m.7 -8.7v10.4m.6 -9.7v6.1m.7 -9.6v10.1m.7 -11.5v9.5m.7 -13.7v14.4m.3 -9.5v2.8m.4 -1.1v2.9m.7 -1v6.1m.6 -5.9v12.7m.7 -6.4v7.2m.4 -5.7v7.7m.3 -8.6v13m.3 -12.1v14.7m.4 -11.3v12.6m.7 -8.3v13.4m.7 -6.7v9.3m.6 -7.5v8m.7 -6.5v7.4m.4 -5v3.8m.3 -5.5v7.8m.7 -4.7v2.7m.7 -5v8.5m.7 -8.1v7.7m.6 -5.3v2.8m.7 -6.1v9.5m.7 -8.4v7.3m.7 -5.8v4.3m.7 -4.9v5.7m.7 -5.7v5.8m.7 -4.3v3m.6 -3.5v4.2m.7 -5.1v6.2m.7 -6.2v6.3m.7 -4.3v2.5m.7 -2.4v2.5m.7 -2.2v2m.6 -4v6.2m.7 -5v3.8m.7 -3.1v2.4m.7 -4v5.7m.7 -5.8v5.8m.7 -4.2v2.6m.6 -3.4v4.2m.7 -3.6v3.1m.7 -4.3v5.5m.7 -5.8v6m.7 -5.9v5.9m.7 -4.2v2.5m.6 -2v1.4m.7 -1.8v2.2m.7 -3.1v4m.7 -4.5v5.1m.7 -4.5v3.8m.7 -4.7v5.7m.7 -4.4v3m.6 -3.4v3.8m.7 -3.7v3.6m.7 -4.5v5.5m.7 -4.9v4.2m.7 -3.9v3.6m.7 -3.3v3m.6 -4.6v6.2m.7 -4.8v3.5m.7 -2.4v1.3m.7 -3.6v5.8m.7 -6v6.3m.7 -5.7v5m.6 -4v3m.7 -3.8v4.6m.7 -3.2v1.8m.7 -1.8v1.9m.7 -2.4v2.9m.7 -2.7v2.4m.6 -3.1v3.8m.7 -4.3v4.8m.7 -4.5v4.2m.7 -3.8v3.4m.7 -4.5v5.6m.7 -4.3v2.9m.7 -2.5v2m.6 -3.8v5.6m.7 -4.7v3.7m.7 -2.7v1.6m.7 -3.2v4.7m.7 -3.1v1.5m.7 -3.5v5.4m.6 -4.4v3.3m.7 -3.7v4.1m.7 -4.7v5.2m.7 -4.9v4.5m.7 -5.3v6.1m.7 -4.6v3m.6 -2.7v2.3m.7 -3.7v5.1m.7 -5.7v6.1m.7 -5.2v4.3m.7 -3.1v1.9m.7 -3v4m.6 -3.2v2.3m.7 -2.9v3.5m.7 -4.7v5.8m.7 -4.2v2.4m.7 -4.3v6.3m.7 -5.4v4.5m.7 -4.4v4.3m.6 -3.2v2.1m.7 -2.7v3.3m.7 -4.6v5.8m.7 -5.1v4.5m.7 -5.2v5.9m.7 -5.6v5.2m.6 -5.5v5.9m.7 -4.3v2.7m.7 -2.6v2.5m.7 -2.2v1.8m.7 -1.8v1.8m.7 -3.3v4.8m.6 -4v3.2m.7 -2.6v2.1m.7 -2.4v2.7m.7 -2.6v2.5m.7 -2.8v3.1m.7 -3.6v4.1m.6 -5.2v6.2m.7 -5v3.9m.7 -5.1v6.3m.7 -5.7v5.1m.7 -4.6v4m.7 -4v3.9m.7 -2.9v1.9m.6 -3v4m.7 -3.4v2.7m.7 -1.9v1.1m.7 -2.2v3.2m.7 -2.4v1.5m.7 -2.6v3.7m.6 -3.7v3.6m.7 -2.8v1.9m.7 -3.9v5.9m.7 -4.8v3.5m.7 -3.2v2.9m.7 -3.7v4.4m.6 -3.1v1.7m.7 -2.6v3.4m.7 -3.7v4m.7 -3v1.9m.7 -1.9v1.8m.7 -1.9v2m.6 -3.8v5.6m.7 -5.1v4.5m.7 -5.1v5.6m.7 -5v4.3m-119.7 -16.2v6.5m.7 -7.9v5.4m.3 -5.9v4.4m.4 -4.6v5.8m.7 -3.5v3.1m.6 -8.5v9.6m.7 -9.8v5.6m.7 -.7v3.6m.3 -4.2v8.7m.4 -8.5v9.2m.7 -5.2v3.2m.7 -9v9m.6 -12v9.1m.7 -6.5v6.2m.7 -4.1v4.4m.3 -2.6v1.9m.4 -4.2v7.1m.7 -6v6.1m.7 -7v9.1m.6 -8.7v7.1m.7 -8.6v8.9m.4 -8.4v7.4m.3 -8v7.4m.7 -9.6v9.5m.7 -8.5v5.1m.7 -8.1v9.9m.6 -8.8v6.6m.4 -5.5v3.8m.3 -7.4v8.6m.7 -10.6v8m.7 -8.3v3.8m.7 2.1v5.7m.3 -1v3.1m.4 -2.6v8m.7 -1.3v6.3m.6 -5.4v5.9m.7 -3.7v3m.7 -2v2.2m.7 -3v5m.3 -4.4v4.4m.4 -4.3v3m.7 -6.4v7.4m.6 -7.6v5.5m.7 -12.6v4.1m.4 -9v6.1m.3 -2.5v2.8m.3 -2.7v6.5m.4 -2.4v2.2m.7 0v5.2m.7 -1.8v5.6m.6 -2.4v3.9m.7 -3.5v7.8m.4 -6.7v7.9m.3 -6.4v5.5m.7 -3.5v2.7m.7 -2.2v2.9m.7 -4.5v6.7m.6 -5v3.8m.7 -3.6v4m.7 -4.1v4.8m4.8 -.8v.9m.7 -.6v.9m1.4 -.3v.8m.6 -.5v.8m.7 -.6v.8m.7 -.7v.9m13.7 -.5v.8m.7 -.8v.9m.7 -1v.9m.6 -.9v.9m4.1 -1v.9m.7 -.9v.8m.7 -.8v.8m.7 -.9v.9m1.4 -1v1m1.3 -1v.9m2.8 -1v.9m3.4 -1v1m2 -1v1m.7 -1v.9m2.8 -.9v.9m2.7 -.9v.8m3.4 -.9v.9m.7 -.9v.9m.7 -.9v.8m1.4 -.8v.8m2 -.9v1m1.4 -.9v.8m2 -.8v.8m.7 -.8v.8m1.4 -.9v1m.7 -.9v.8m.6 -.8v.8m2.8 -.8v.8m.7 -.8v.9m1.3 -.9v.8m2.1 -.8v.8m.7 -.8v.8m1.3 -.9v1m1.4 -.9v.8m.7 -.9v1m.7 -.9v.8m2.7 -.8v.8m.7 -.9v1m.7 -1v1m2.7 -.9v.8m4.1 -.9v1m.7 -.9v.8" stroke="#cccccc" stroke-width="0.55" fill="none" marker-start="url(#cap)" marker-mid="url(#cap)" marker-end="url(#cap)"/>
<path d="M561.8 388.7l.7 .1 .3-2.7 .4 2.7 .7-1.4 .6 1.1 .7-2.1 .7 1 .3 1.1 .4-.1 .7-3.5 .7-.7 .6 1.1 .7-2.3 .7 4.9 .3-1.6 .4-2.3 .7 2.4 .7-1.4 .6 1.7 .7-2.9 .4 .5 .3-1.4 .7-.4 .7-.9 .7-2 .6 5.5 .4-2.7 .3-2.6 .7-.9 .7 1.1 .7-5.1 .3 1.5 .4-3.6 .7-2 .6 2.6 .7 .2 .7-.9 .7-5.7 .3 .9 .4 3.5 .7 1.3 .6 3.6 .7 4.8 .4-1.4 .3 4.5 .3 1.1 .4 2.3 .7 3.3 .7 6.6 .6 1.4 .7 .3 .4 .6 .3 1 .7 .1 .7 .7 .7 .3 .6-.5 .7 .1 .7-.1 .7 .4 .7 .5 .7 .1 .7 .1 .6 0 .7-.5 .7 .4 .7-.4 .7 .6 .7 .1 .6 .2 .7-.3 .7 .4 .7 .3 .7-.5 .7 0 .6 .6 .7 0 .7-.4 .7-.5 .7 .6 .7-.8 .6 .6 .7 .3 .7-.8 .7 .3 .7 .4 .7-.2 .7-.3 .6 .4 .7-.3 .7-.2 .7 .3 .7 .2 .7-.2 .6-.5 .7 0 .7 .5 .7 0 .7-.5 .7 .4 .6-.2 .7 .8 .7-.8 .7 .2 .7 .4 .7-.6 .6 .6 .7-.1 .7-.5 .7 .1 .7-.4 .7 .6 .7 .2 .6-1 .7 .8 .7-.3 .7 .3 .7-.1 .7-.1 .6-.8 .7 .4 .7 .2 .7-.4 .7 0 .7 .4 .6-.2 .7-.2 .7 0 .7 .4 .7-.8 .7 .6 .6 .3 .7 0 .7-1.4 .7 1.1 .7-.8 .7 .2 .7 .3 .6 .1 .7 0 .7-.7 .7 .7 .7-.1 .7-.3 .6 .4 .7 .4 .7-.3 .7 0 .7 0 .7-.1 .6-.4 .7 .6 .7-.3 .7 .6 .7-.5 .7-.3 .6-.1 .7 .4 .7 0 .7-.1 .7 .1 .7-.6 .7 .1 .6-.1 .7 0 .7 .6 .7-.8 .7 .3 .7-.1 .6 .1 .7 0 .7-.5 .7 .7 .7-.3 .7-.3 .6 0 .7-.1 .7 .4 .7-.4 .7 .4 .7-.4 .6 .7 .7-1.2 .7 .8 .7 .3" stroke="#6e6e6e" stroke-width="1.05" fill="none" stroke-linejoin="round"/>
<path d="M561.8 390l.7-2.1 .3-1.5 .4 4 .7-1.7 .6 .4 .7-4.2 .7 1.7 .3 3.3 .4 .1 .7 2.1 .7-2.1 .6-3.5 .7-1.3 .7 5.4 .3-2.1 .4 4 .7-3.1 .7 .6 .6 2.4 .7-2.4 .4-2.3 .3-1.4 .7-1.8 .7 1.7 .7-3.6 .6 0 .4 1.2 .3 1.6 .7-4.8 .7-1.5 .7 8.7 .3 .3 .4 2.5 .7 6.4 .6 2.4 .7-.1 .7 .6 .7-.2 .3 .3 .4 .8 .7-2.2 .6-1 .7-7.7 .4-4 .3 1.8 .3 4.4 .4-.6 .7 4.8 .7 2.9 .6 3.6 .7 1 .4 .8 .3 2.3 .7-1.3 .7 .5 .7 .1 .6 .4 .7 .2 .7 1 .7 0 .7-.1 .7 .8 .7 .2 .6 .5 .7 0 .7 .1 .7 .3 .7 .4 .7 .6 .6-.1 .7 .2 .7 .4 .7 .3 .7-.2 .7 .4 .6-.2 .7 0 .7 .1 .7 .1 .7-.3 .7 .1 .6 .4 .7-.3 .7-.1 .7 0 .7 .1 .7-.2 .7 .1 .6-.1 .7-.1 .7 .2 .7-.1 .7 .2 .7 0 .6-.2 .7 0 .7-.2 .7-.2 .7 .5 .7-.4 .6-.2 .7 .2 .7-.1 .7 .1 .7 .1 .7-.3 .6-.1 .7 0 .7 0 .7 .1 .7 0 .7 .2 .7 .1 .6-.4 .7-.1 .7 .2 .7 .1 .7-.3 .7 .6 .6-.7 .7 .6 .7-.5 .7 .3 .7-.1 .7-.2 .6-.1 .7 0 .7 0 .7 .2 .7 .1 .7-.3 .6 0 .7 .1 .7-.1 .7 .4 .7-.1 .7-.1 .7-.1 .6-.3 .7 .3 .7 .1 .7-.1 .7 .2 .7 0 .6-.4 .7 0 .7 .2 .7 .1 .7-.2 .7 .3 .6-.3 .7 .2 .7-.1 .7 0 .7-.3 .7 .2 .6 .1 .7-.1 .7 0 .7 .2 .7 .1 .7 .2 .7-.6 .6 .3 .7-.1 .7 .1 .7-.3 .7 .2 .7 .3 .6-.3 .7 .1 .7-.2 .7 .2 .7 0 .7-.3 .6 .4 .7-.3 .7 0 .7 .4 .7 0 .7 0 .6-.2 .7-.3 .7 0 .7 .4" stroke="#f0863a" stroke-width="1.12" fill="none" stroke-linejoin="round"/>
</g>
<path d="M561.8 415H681.5" stroke="#919191" stroke-width="1.1" fill="none"/>
<path d="M39.3 499V556.5M37.1 556.5H39.3M37.1 542.12H39.3M37.1 527.75H39.3M37.1 513.38H39.3M37.1 499H39.3" stroke="#c4c4c4" stroke-width="0.9" fill="none"/>
<path d="M39.3 556.5V558.5M56.2 556.5V558.5M73.1 556.5V558.5M90 556.5V558.5M106.9 556.5V558.5M123.8 556.5V558.5M140.7 556.5V558.5M157.6 556.5V558.5" stroke="#606060" stroke-width="0.8" fill="none"/>
<text x="34.2" y="558.5" font-size="5.6" fill="#4a4a4a" font-family='"Liberation Sans", sans-serif' text-anchor="end" textLength="10.2" lengthAdjust="spacingAndGlyphs" stroke="#4a4a4a" stroke-width="0.22">0.00</text>
<text x="34.2" y="544.12" font-size="5.6" fill="#4a4a4a" font-family='"Liberation Sans", sans-serif' text-anchor="end" textLength="10.2" lengthAdjust="spacingAndGlyphs" stroke="#4a4a4a" stroke-width="0.22">0.50</text>
<text x="34.2" y="529.75" font-size="5.6" fill="#4a4a4a" font-family='"Liberation Sans", sans-serif' text-anchor="end" textLength="10.2" lengthAdjust="spacingAndGlyphs" stroke="#4a4a4a" stroke-width="0.22">1.00</text>
<text x="34.2" y="515.38" font-size="5.6" fill="#4a4a4a" font-family='"Liberation Sans", sans-serif' text-anchor="end" textLength="10.2" lengthAdjust="spacingAndGlyphs" stroke="#4a4a4a" stroke-width="0.22">1.50</text>
<text x="34.2" y="501" font-size="5.6" fill="#4a4a4a" font-family='"Liberation Sans", sans-serif' text-anchor="end" textLength="10.2" lengthAdjust="spacingAndGlyphs" stroke="#4a4a4a" stroke-width="0.22">2.00</text>
<text x="39.3" y="565.4" font-size="5.6" fill="#4a4a4a" font-family='"Liberation Sans", sans-serif' text-anchor="middle" textLength="2.7" lengthAdjust="spacingAndGlyphs" stroke="#4a4a4a" stroke-width="0.26">0</text>
<text x="56.2" y="565.4" font-size="5.6" fill="#4a4a4a" font-family='"Liberation Sans", sans-serif' text-anchor="middle" textLength="2.7" lengthAdjust="spacingAndGlyphs" stroke="#4a4a4a" stroke-width="0.26">5</text>
<text x="73.1" y="565.4" font-size="5.6" fill="#4a4a4a" font-family='"Liberation Sans", sans-serif' text-anchor="middle" textLength="5.3" lengthAdjust="spacingAndGlyphs" stroke="#4a4a4a" stroke-width="0.26">10</text>
<text x="90" y="565.4" font-size="5.6" fill="#4a4a4a" font-family='"Liberation Sans", sans-serif' text-anchor="middle" textLength="5.3" lengthAdjust="spacingAndGlyphs" stroke="#4a4a4a" stroke-width="0.26">15</text>
<text x="106.9" y="565.4" font-size="5.6" fill="#4a4a4a" font-family='"Liberation Sans", sans-serif' text-anchor="middle" textLength="5.3" lengthAdjust="spacingAndGlyphs" stroke="#4a4a4a" stroke-width="0.26">20</text>
<text x="123.8" y="565.4" font-size="5.6" fill="#4a4a4a" font-family='"Liberation Sans", sans-serif' text-anchor="middle" textLength="5.3" lengthAdjust="spacingAndGlyphs" stroke="#4a4a4a" stroke-width="0.26">25</text>
<text x="140.7" y="565.4" font-size="5.6" fill="#4a4a4a" font-family='"Liberation Sans", sans-serif' text-anchor="middle" textLength="5.3" lengthAdjust="spacingAndGlyphs" stroke="#4a4a4a" stroke-width="0.26">30</text>
<text x="157.6" y="565.4" font-size="5.6" fill="#4a4a4a" font-family='"Liberation Sans", sans-serif' text-anchor="middle" textLength="5.3" lengthAdjust="spacingAndGlyphs" stroke="#4a4a4a" stroke-width="0.26">35</text>
<text x="92.1" y="499.1" font-size="6.5" fill="#303030" font-family='"Liberation Sans", sans-serif' text-anchor="middle" textLength="39.4" lengthAdjust="spacingAndGlyphs" stroke="#303030" stroke-width="0.15">Delta (0.1-3Hz)</text>
<clipPath id="cCr0"><rect x="36.3" y="469" width="124.3" height="87.5"/></clipPath>
<g clip-path="url(#cCr0)">
<path d="M39.3 523.8v25.1m.7 -26.5v24.5m.3 -21v15.8m.4 -20.7v23.8m.3 -16v6.5m.3 -15.8v25.7m.7 -18.1v11.6m.7 -13.2v16m.7 -11.1v7.3m.3 -16.3v26m.3 -25.6v25.7m.4 -16v6.9m.3 -13.7v19.9m.7 -15.8v10.5m.7 -13.9v16.2m.6 -17.1v18.6m.4 -23.3v28.3m.3 -22.1v16.2m.7 -11.8v7.9m.7 -11.5v15.7m.6 -17v18.8m.7 -12.3v5.3m.7 -16.7v27.5m.3 -25.8v23.8m.4 -21.7v19.3m.6 -15.9v12m.7 -13.6v14.6m.7 -14.1v14.2m.7 -20.7v27.7m.3 -18.8v10.3m.3 -17.3v24.6m.7 -25v25.9m.7 -18.2v11m.7 -17.8v28.2m.7 -25.5v26.2m.3 -17.5v10.5m.3 -10.3v13.5m.7 -7.4v8.3m.7 -2.8v4.2m.7 -4v7.2m.6 -5.3v6.8m.4 -9.5v11.3m.3 -8.9v8.9m.7 -9.6v9.6m.7 -6.3v4m.8 -5.9v7.1m.5 -10.2v11.3m.7 -6.9v3.5m.5 -3.7v3.4m.8 -5.5v6.9m.2 -6.4v6.1m.5 -7v8.9m.9 -10.7v11.4m.5 -10v10m.5 -9.1v9.1m.8 -7.1v7.1m.9 -8.2v8.2m.5 -9.2v9m.6 -11.8v12m.6 -12.4v12.2m.8 -4v1.8m.7 1.1v.9m.7 -1.6v1.8m.6 -2.2v2.1m.7 -3.2v3.5m.3 -2.4v1.3m.4 -.8v.9m.7 -1.1v2.1m.3 -1.1v1m.3 -2.2v2.3m.7 -2.7v1.6m.3 -2.7v3m.4 -2.2v2.1m.7 -1.1v1.5m.6 -1.5v2m.7 -2.9v1.7m.7 -3.3v1.9m.7 -4v3.2m.6 -1.8v1m.7 -.1v3.3m.7 -.6v1.6m.7 -2.4v2.4m.6 -1.3v1.3m.7 -1.2v1.2m.7 -1.2v1.2m.7 -1.3v1.3m.6 -1.2v1.2m.7 -1.8v1.8m.7 -2.2v2.2m.7 -1.2v1.2m.7 -1.7v1.7m.6 -2.4v2.4m.7 -1.9v1.9m.7 -2.5v2.5m.7 -2.2v2.2m1.3 -1.6v1.6m.7 -2.5v2.5m.7 -1.7v1.7m.6 -2.5v2.5m.7 -2v2m.7 -1.2v.8m.7 -1.1v1.4m.6 -1.3v1.1m.7 -1.6v1.9m.7 -2.5v2.5m.7 -1.9v1.9m1.3 -2v2m1.4 -3.5v3.5m.6 -3.1v2.8m.7 -1.7v2m.7 -1.2v1.2m.7 -1.1v1.1m.7 -1.3v1.3m.6 -1.5v1.5m.7 -2.2v2.2m.7 -1v1m.7 -2v2m.6 -2.1v2.1m.7 -1.7v1.7m.7 -2.1v2.1m.7 -1.6v1.6m.6 -2v2m1.4 -1.3v1.3m.7 -1.8v1.8m.6 -2.1v2.1m.7 -1v1m.7 -1.6v1.6m.7 -1.4v1.4m.6 -1.1v1.1m.7 -1.4v1.4m.7 -1.5v1.5m1.3 -2.8v2.8m.7 -2.9v2.5m.7 -1.3v1.7m.7 -1v1m1.3 -1.5v1.5m.7 -2.3v2.3m.7 -1.6v1.6m.7 -1.1v1.1m.6 -1.8v1.8m1.4 -.9v.9m.7 -.9v.9m.6 -1.1v1.1m.7 -2.3v2.3m.7 -1.7v1.7m.7 -1.9v1.9m.6 -1.4v1.4m.7 -.9v.9m.7 -1.9v1.9m.7 -1.4v1.4m.6 -1.2v1.2m.7 -1v.9m.7 -2.2v2.3m.7 -2.1v2.1m.6 -1.5v1.5m.7 -1.3v1.3m.7 -2.5v2.5m.7 -2.8v2.8m.7 -2.1v2.1m.6 -1.8v1.8m.7 -2.5v2.5m.7 -2v2m.7 -1.6v1.6m.6 -2.6v2.6m.7 -2.5v2.5m.7 -1.4v1.4m.7 -2.6v2.6m.6 -2.3v2.3m.7 -2.5v2.5m.7 -2.5v2.5m.7 -1.4v1.4m.6 -2.2v2.2m.7 -1.1v1.1m.7 -1.1v1.1m.7 -1.2v1.2m.6 -1.3v1.3m.7 -1.3v1.3m.7 -2.1v2.1m.7 -1.7v1.7m1.3 -2v2m.7 -.9v.9m-118.3 -33v20m.7 -17.5v9.3m.3 -17.9v23.6m.4 -19.5v17.2m.3 -16v16.8m.3 -12.4v9.9m.7 -16.4v21.5m.7 -14.4v5.9m.7 -7.7v21m.3 -15.4v15.5m.3 -15.9v12.5m.4 -14.4v12.4m.3 -10.5v4.8m.7 -11.7v14.2m.7 -16.2v13.9m.6 -8v11.8m.4 -7.7v8.3m.3 -11.2v16m.7 -12.8v13.5m.7 -13.9v8.6m.6 -11.7v9m.7 -7.8v7.8m.7 -5.7v4.7m.3 -11.4v18.7m.4 -13.6v7.9m.6 -13.5v18m.7 -15.5v11.8m.7 -9.1v6.4m.7 -7.5v8.6m.3 -13.7v18.8m.3 -15.2v10.8m.7 -14v15.6m.7 -11.7v6.1m.7 -15.6v23.4m.7 -25.7v13.5m.3 -18.6v16.4m.3 -7.1v7m.7 -3.6v18.6m.7 -4.3v7.2m.7 -8.5v14.5m.6 -13.9v17.9m.4 -14.6v13.6m.3 -9v5.2m.7 -10.6v16.2m.7 -14.7v14.7m.8 -12.9v12.9m.5 -18.5v13.4m.7 -16.9v4.3m.5 -12.3v8.3m.8 -9.8v8.8m.2 -8.2v7.2m.5 -10.2v16.4m.9 -8.3v5.6m.5 .6v7.6m.5 .2v6.3m.8 -3.4v6.3m.9 -9v11.6m.5 -4.6v4m.6 -3.7v4.2m.6 -9.7v9.8m.8 -1.9v.9m.7 -.7v.8m1.3 -.7v1.3m1 -.9v1.1m.4 -1.2v1.3m1 -1.1v1.1m1.3 -1.3v1.3m1.7 -1.3v1.3m1.4 -.9v.9m.7 -1.1v1.1m.6 -.9v.9m.7 -1.2v1.2m1.4 -1.1v1.1m2 -1.1v1.1m2 -.9v.9m.7 -.9v.9m.7 -.9v.9m2 -.9v.9m2.7 -.9v.9m12.9 -1.2v1.2m.6 -1.3v1.3m.7 -1.3v1.3m6.1 -.9v.9m2.7 -.9v.9m4.7 -.9v.9m1.4 -.9v.9m.7 -.9v.9m6.7 -.9v.9m.7 -.9v.9m8.8 -.9v.9m.7 -1.3v1.3m.6 -1v1m3.4 -.9v.9m8.8 -.9v.9m-82.6 -12.4v11m3.8 -2.3v3.1m2.7 -4.6v4.3m4.1 -9.7v9.2m7.1 -1.2v2.3m11.8 -2v2m3.4 -5.2v4.9m4.1 -1.1v1.4m13.5 -6.9v6.6m18.6 -1.1v1.4" stroke="#cccccc" stroke-width="0.55" fill="none" marker-start="url(#cap)" marker-mid="url(#cap)" marker-end="url(#cap)"/>
<path d="M39.3 536.8l.7-2.3 .3 1.4 .4-2 .3-2.2 .3 .4 .7-.6 .7 1.5 .7 2.4 .3 0 .3-.3 .4-.7 .3-.1 .7-1.9 .7 1 .6-.2 .4 2.5 .3-2.2 .7-.7 .7-.9 .6 2.7 .7-1.3 .7 1 .3 .7 .4 0 .6-2.9 .7 .7 .7-2 .7 5.2 .3-3 .3 1.4 .7 1.6 .7-1 .7 3.2 .7 2.6 .3-2.1 .3 3 .7 2.9 .7 3.6 .7 .6 .6 2 .4 1.5 .3-.8 .7 .3 .7 .3 .8-.6 .5-.6 .7 0 .5 1.2 .8-1.5 .2 .3 .5-.5 .9 1.2 .5 .6 .5 1.1 .8 .2 .9-.9 .5-.5 .6-1.1 .6-.8 .8 3.2 .7 2.3 .7-.3 .6-.2 .7-.4 .3-.1 .4 .2 .7 .7 .3 .3 .3-.3 .7-.7 .3-.9 .4 .4 .7 .9 .6 .6 .7-1.6 .7-1.2 .7-1.3 .6 0 .7 2 .7 2.1 .7 .1 .6 0 .7 0 .7-.1 .7 0 .6 .1 .7 0 .7-.1 .7 0 .7 0 .6 0 .7-.1 .7 .1 .7-.1 .6 0 .7 .1 .7-.2 .7 .1 .6 0 .7-.1 .7 .1 .7-.2 .6 .1 .7 .1 .7-.2 .7 .1 .6 .3 .7 .2 .7-.7 .7-.5 .6 .1 .7 .5 .7 .6 .7 0 .7 0 .6 0 .7 0 .7 0 .7 0 .6 0 .7 .1 .7-.1 .7 0 .6 0 .7 0 .7 0 .7 0 .6 0 .7 0 .7 0 .7 0 .6 0 .7 0 .7 0 .7 0 .6-1.1 .7 0 .7 1.1 .7 0 .7 0 .6 0 .7 0 .7 0 .7-.1 .6 0 .7 0 .7 0 .7 0 .6 0 .7-.1 .7 .1 .7 0 .6-.1 .7 0 .7 0 .7 0 .6 0 .7 0 .7 0 .7 0 .6 0 .7-.1 .7 0 .7-.2 .7 0 .6 0 .7 .1 .7-.1 .7 0 .6 .1 .7-.1 .7 0 .7 0 .6 .2 .7 0 .7 0 .7 .1 .6-.1 .7 .1 .7 0 .7 .1 .6-.1 .7 .1 .7 0 .7 .1 .6-.1 .7 .1 .7 0" stroke="#6e6e6e" stroke-width="1.05" fill="none" stroke-linejoin="round"/>
<path d="M39.3 532.7l.7-.9 .3-3 .4 2.7 .3 .4 .3 1.1 .7-3.8 .7 .8 .7 5.5 .3 3.8 .3-2.4 .4-.7 .3-2.1 .7-.6 .7-3.8 .6 2.3 .4 4 .3 .2 .7 2.7 .7-1.6 .6-4.1 .7 1.7 .7-.7 .3 .3 .4 .5 .6-.2 .7-1.1 .7 .9 .7-.2 .3-.9 .3 1.1 .7-2.6 .7 1.7 .7-2.5 .7-8.3 .3-3.9 .3 1.9 .7 12.1 .7 9.3 .7 .4 .6 3.8 .4 1.3 .3 0 .7 1.4 .7 .7 .8 1.1 .5-6.6 .7-8.2 .5-6.3 .8-1.6 .2 0 .5 3.2 .9 1.8 .5 8.6 .5 5.7 .8 3.3 .9 2.6 .5 .5 .6 .5 .6 0 .8 .6 .7 .1 .7 .3 .6 .2 .7 0 .3 .2 .4 0 .7 0 .3 .1 .3 0 .7 0 .3 .1 .4-.1 .7 .1 .6 0 .7 0 .7 .1 .7 0 .6 0 .7 0 .7 .1 .7 0 .6 0 .7 .1 .7 0 .7 0 .6 0 .7 .1 .7 0 .7 0 .7 0 .6 0 .7 0 .7 0 .7 0 .6 0 .7 0 .7 0 .7 0 .6 0 .7 0 .7 0 .7 0 .6 0 .7 0 .7 0 .7 0 .6 0 .7 0 .7 0 .7 0 .6 0 .7 0 .7 0 .7-.2 .7-.1 .6-.2 .7 .1 .7 0 .7 .2 .6 .1 .7 .1 .7 0 .7 0 .6 0 .7 0 .7 0 .7 0 .6 0 .7 0 .7 0 .7 0 .6 0 .7 0 .7 0 .7 0 .6 0 .7 0 .7 0 .7 0 .7 0 .6 0 .7 0 .7 0 .7 0 .6 0 .7 0 .7 0 .7 0 .6 0 .7 0 .7 0 .7 0 .6 0 .7 0 .7 0 .7 0 .6 0 .7 0 .7 0 .7 0 .6 0 .7 0 .7 0 .7-.4 .7 0 .6 .1 .7 .2 .7 .1 .7 0 .6 0 .7 0 .7 0 .7 0 .6 0 .7 0 .7 0 .7 0 .6 0 .7 0 .7 0 .7 0 .6 0 .7 0 .7 0 .7 0 .6 0 .7 0 .7 0" stroke="#7b3bb3" stroke-width="1.12" fill="none" stroke-linejoin="round"/>
</g>
<path d="M39.3 556.5H157.6" stroke="#919191" stroke-width="1.1" fill="none"/>
<path d="M113.9 507.7H121.9" stroke="#7b3bb3" stroke-width="1.1"/>
<path d="M113.9 515H121.9" stroke="#8a8a8a" stroke-width="0.9"/>
<text x="122.3" y="509.8" font-size="5.8" fill="#303030" font-family='"Liberation Sans", sans-serif' textLength="33.6" lengthAdjust="spacingAndGlyphs" stroke="#303030" stroke-width="0.12">Freely-moving</text>
<text x="122.3" y="517.1" font-size="5.8" fill="#303030" font-family='"Liberation Sans", sans-serif' textLength="31.08" lengthAdjust="spacingAndGlyphs" stroke="#303030" stroke-width="0.12">Anesthetized</text>
<path d="M39.3 579.4V638.3M37.1 638.3H39.3M37.1 618.67H39.3M37.1 599.03H39.3M37.1 579.4H39.3" stroke="#c4c4c4" stroke-width="0.9" fill="none"/>
<path d="M39.3 638.3V640.3M56.23 638.3V640.3M73.16 638.3V640.3M90.1 638.3V640.3M107.03 638.3V640.3M123.96 638.3V640.3M140.89 638.3V640.3M157.82 638.3V640.3" stroke="#606060" stroke-width="0.8" fill="none"/>
<text x="34.2" y="640.3" font-size="5.6" fill="#4a4a4a" font-family='"Liberation Sans", sans-serif' text-anchor="end" textLength="10.2" lengthAdjust="spacingAndGlyphs" stroke="#4a4a4a" stroke-width="0.22">0.00</text>
<text x="34.2" y="620.67" font-size="5.6" fill="#4a4a4a" font-family='"Liberation Sans", sans-serif' text-anchor="end" textLength="10.2" lengthAdjust="spacingAndGlyphs" stroke="#4a4a4a" stroke-width="0.22">1.00</text>
<text x="34.2" y="601.03" font-size="5.6" fill="#4a4a4a" font-family='"Liberation Sans", sans-serif' text-anchor="end" textLength="10.2" lengthAdjust="spacingAndGlyphs" stroke="#4a4a4a" stroke-width="0.22">2.00</text>
<text x="34.2" y="581.4" font-size="5.6" fill="#4a4a4a" font-family='"Liberation Sans", sans-serif' text-anchor="end" textLength="10.2" lengthAdjust="spacingAndGlyphs" stroke="#4a4a4a" stroke-width="0.22">3.00</text>
<text x="39.3" y="647.2" font-size="5.6" fill="#4a4a4a" font-family='"Liberation Sans", sans-serif' text-anchor="middle" textLength="2.7" lengthAdjust="spacingAndGlyphs" stroke="#4a4a4a" stroke-width="0.26">0</text>
<text x="56.23" y="647.2" font-size="5.6" fill="#4a4a4a" font-family='"Liberation Sans", sans-serif' text-anchor="middle" textLength="2.7" lengthAdjust="spacingAndGlyphs" stroke="#4a4a4a" stroke-width="0.26">5</text>
<text x="73.16" y="647.2" font-size="5.6" fill="#4a4a4a" font-family='"Liberation Sans", sans-serif' text-anchor="middle" textLength="5.3" lengthAdjust="spacingAndGlyphs" stroke="#4a4a4a" stroke-width="0.26">10</text>
<text x="90.1" y="647.2" font-size="5.6" fill="#4a4a4a" font-family='"Liberation Sans", sans-serif' text-anchor="middle" textLength="5.3" lengthAdjust="spacingAndGlyphs" stroke="#4a4a4a" stroke-width="0.26">15</text>
<text x="107.03" y="647.2" font-size="5.6" fill="#4a4a4a" font-family='"Liberation Sans", sans-serif' text-anchor="middle" textLength="5.3" lengthAdjust="spacingAndGlyphs" stroke="#4a4a4a" stroke-width="0.26">20</text>
<text x="123.96" y="647.2" font-size="5.6" fill="#4a4a4a" font-family='"Liberation Sans", sans-serif' text-anchor="middle" textLength="5.3" lengthAdjust="spacingAndGlyphs" stroke="#4a4a4a" stroke-width="0.26">25</text>
<text x="140.89" y="647.2" font-size="5.6" fill="#4a4a4a" font-family='"Liberation Sans", sans-serif' text-anchor="middle" textLength="5.3" lengthAdjust="spacingAndGlyphs" stroke="#4a4a4a" stroke-width="0.26">30</text>
<text x="157.82" y="647.2" font-size="5.6" fill="#4a4a4a" font-family='"Liberation Sans", sans-serif' text-anchor="middle" textLength="5.3" lengthAdjust="spacingAndGlyphs" stroke="#4a4a4a" stroke-width="0.26">35</text>
<text x="92.35" y="580.1" font-size="6.5" fill="#303030" font-family='"Liberation Sans", sans-serif' text-anchor="middle" textLength="35.7" lengthAdjust="spacingAndGlyphs" stroke="#303030" stroke-width="0.15">Theta (3-7Hz)</text>
<clipPath id="cCr1"><rect x="36.3" y="549.4" width="124.52" height="88.9"/></clipPath>
<g clip-path="url(#cCr1)">
<path d="M39.3 594.9v16.1m.7 -23.4v27.6m.7 -19.5v8.2m.3 -17.4v25.1m.3 -24.8v25.3m.7 -25v26.2m.7 -24.3v24m.7 -14.4v7.2m.6 -13.6v22.3m.4 -18.5v15.9m.3 -19.2v22.1m.7 -25v27.1m.7 -24.2v20.6m.7 -20.9v24.2m.3 -22.8v23m.3 -28.4v35.4m.4 -30.8v27.7m.3 -26.1v25.8m.7 -23.5v23.5m.7 -15.4v9.7m.6 -9.7v8.8m.7 -17.5v25.5m.4 -21.1v16.3m.3 -15.7v15.9m.7 -14.4v14.5m.6 -13.5v14.1m.7 -16.2v19m.7 -14.1v10m.3 -12.7v15.8m.4 -16.8v17.4m.7 -14.1v10m.6 -22.5v34.3m.7 -34v36.2m.3 -29.7v24.6m.4 -25.7v35.9m.3 -18.4v10.1m.4 -5.7v10.5m.6 -5.1v5.5m.7 -5.6v11.6m.7 -9.9v10m.7 -5.7v5.3m.3 -4.2v4.5m.4 -5.7v5.8m.6 -5.8v5.8m.7 -5.7v5.7m.9 -5.3v5.3m.5 -4.1v4.1m.6 -6.3v6.3m.5 -8.2v8.2m.9 -8.1v8.1m.2 -6.2v6.2m.5 -7.3v7.3m.8 -7.8v7.8m.5 -2.7v2.6m.5 -5.6v5.7m.9 -5.9v5.9m.8 -2.2v2.2m.5 -2v2m.7 -6.9v6.9m.7 -6.7v6.7m-33.2 -21.3v9.3m.7 -12.3v15.2m.7 -14.9v14.6m.3 -13.8v13m.3 -8.1v3.6m.7 -9.3v15.8m.7 -10.3v5.6m.7 -9.1v11.8m.6 -11.3v10m.4 -9.1v7.8m.3 -8.6v8.6m.7 -11.8v13.4m.7 -10.4v5.9m.7 -14v15.5m.3 -17.2v15.7m.3 -8.7v6.9m.4 -5.9v10.2m.3 -9.9v14.8m.7 -13.5v10.2m.7 -7.9v3.7m.6 -7v11m.7 -7.7v5.2m.4 -9.3v13.8m.3 -9.2v5m.7 -7.3v10.4m.6 -8.3v7m.7 -10.3v12m.7 -14.9v16.2m.3 -15v13.1m.4 -9.9v7.8m.7 -7.8v10m.6 -9.8v11.9m.7 -8v6.3m.3 -12.7v9.9m.4 -14.5v10m.3 -11.5v3.9m.4 -1.8v10.1m.6 3.3v4.3m.7 .9v8.7m.7 -9.4v9.4m.7 -6.7v6.7m.3 -8v8m.4 -7.6v7.6m.6 -9.3v6.8m.7 -9.8v7.6m.9 -12.7v11.3m.5 -12.4v11.1m.6 -11.2v8.1m.5 -9.6v8.8m.9 -10.5v5.6m.2 -5.6v4.3m.5 -1.1v8.2m.8 2.6v3.8m.5 -3.3v5.7m.5 -2.9v3.2m.9 -5.6v6.9m.8 -4.2v4.2m.5 -3.7v3.7m.7 -2.8v2.6m.7 -4.2v4.4" stroke="#cccccc" stroke-width="0.55" fill="none" marker-start="url(#cap)" marker-mid="url(#cap)" marker-end="url(#cap)"/>
<path d="M39.3 602.2l.7 .2 .7-6.9 .3 4.6 .3-1.2 .7 5.2 .7-3.7 .7 3.5 .6 .6 .4 0 .3-1.1 .7-1.3 .7 1.7 .7-1.4 .3 5.4 .3-4.8 .4 3.4 .3 3.1 .7-1.9 .7 2.8 .6 .4 .7 1.5 .4-3.4 .3-1 .7 2.4 .6 1.1 .7-1.9 .7 1.2 .3 1.2 .4 .4 .7-2.3 .6 .8 .7 3.3 .3-2.1 .4 5.8 .3 5.5 .4 2.9 .6 3.6 .7 2.8 .7 .7 .7 2.6 .3 0 .4 .1 .6 1.1 .7-.4 .9-.3 .5 .4 .6 .2 .5-.4 .9-.1 .2-.3 .5 1.2 .8-.3 .5-.3 .5-.1 .9 .6 .8 .1 .5 .1 .7 .2 .7 .1 .7 .1 .6 .1 .7 0 .7 .1 .7 .1 .7 .1 .6 0 .7 0 .7 0 .7 0 .6 0 .7 0 .7 0 .7 0 .6 0 .7 0 .7 0 .7 0 .7 0 .6 0 .7 0 .7 0 .7 0 .6 0 .7 0 .7 0 .7 0 .7 0 .6 0 .7 0 .7 0 .7 0 .6 0 .7 0 .7 0 .7 0 .6 0 .7 0 .7 0 .7 0 .7 0 .6 0 .7 0 .7 0 .7 0 .6 0 .7 0 .7 0 .7 0 .7 0 .6 0 .7 0 .7 0 .7 0 .6 0 .7 0 .7 0 .7 0 .6 0 .7 0 .7 0 .7 0 .7 0 .6 0 .7 0 .7 0 .7 0 .6 0 .7 0 .7 0 .7 0 .7 0 .6 0 .7 0 .7 0 .7 0 .6 0 .7 0 .7 0 .7 0 .6 0 .7 0 .7 0 .7 0 .7 0 .6 0 .7 0 .7 0 .7 0 .6 0 .7 0 .7 0 .7 0 .7 0 .6 0 .7 0 .7 0 .7 0 .6 0 .7 0 .7 0 .7 0 .6 0 .7 0 .7 0 .7 0 .7 0 .6 0 .7 0 .7 0 .7 0 .6 0 .7 0 .7 0 .7 0 .7 0 .6 0 .7 0 .7 0 .7 0 .6 0 .7 0 .7 0 .7 0 .6 0 .7 0" stroke="#6e6e6e" stroke-width="1.05" fill="none" stroke-linejoin="round"/>
<path d="M39.3 621.3l.7-.9 .7 0 .3 .9 .3 .3 .7-.7 .7 1.7 .7-.8 .6-.1 .4-.5 .3-.3 .7-1.1 .7-.3 .7-5.2 .3 .7 .3 .6 .4 4.6 .3 2 .7 1.1 .7-2.3 .6 1.5 .7-1.8 .4 .9 .3 2 .7-2.4 .6 1 .7-.5 .7 .2 .3-2 .4 0 .7 1.4 .6 3.4 .7-.5 .3-3.1 .4-4.4 .3-6.4 .4 8.8 .6 7.5 .7 7.5 .7 .3 .7 1.8 .3 0 .4-1.3 .6-3.2 .7-1.4 .9-4 .5 .1 .6-2.6 .5-.9 .9-3.4 .2-1.1 .5 6.1 .8 8 .5 1.3 .5 1.7 .9 .6 .8 .4 .5 .1 .7 .1 .7 .5 .7 .2 .6 .1 .7 .1 .7 0 .7 .1 .7 0 .6 0 .7 .1 .7 .1 .7-.1 .6 .1 .7 .1 .7 0 .7 0 .6 0 .7 .1 .7 0 .7 .1 .7 0 .6 .1 .7 0 .7 0 .7 0 .6 0 .7 0 .7 0 .7 0 .7 0 .6 0 .7 0 .7 0 .7 0 .6 0 .7 0 .7 0 .7 0 .6 0 .7 0 .7 0 .7 0 .7 0 .6 0 .7 0 .7 0 .7 0 .6 0 .7 0 .7 0 .7 0 .7 0 .6 0 .7 0 .7 0 .7 0 .6 0 .7 0 .7 0 .7 0 .6 0 .7 0 .7 0 .7 0 .7 0 .6 0 .7 0 .7 0 .7 0 .6 0 .7 0 .7 0 .7 0 .7 0 .6 0 .7 0 .7 0 .7 0 .6 0 .7 0 .7 0 .7 0 .6 0 .7 0 .7 0 .7 0 .7 0 .6 0 .7 0 .7 0 .7 0 .6 0 .7 0 .7 0 .7 0 .7 0 .6 0 .7 0 .7 0 .7 0 .6 0 .7 0 .7 0 .7 0 .6 0 .7 0 .7 0 .7 0 .7 0 .6 0 .7 0 .7 0 .7 0 .6 0 .7 0 .7 0 .7 0 .7 0 .6 0 .7 0 .7 0 .7 0 .6 0 .7 0 .7 0 .7 0 .6 0 .7 0" stroke="#cc1c1c" stroke-width="1.12" fill="none" stroke-linejoin="round"/>
</g>
<path d="M39.3 638.3H157.82" stroke="#919191" stroke-width="1.1" fill="none"/>
<path d="M38.6 661V719.4M36.4 719.4H38.6M36.4 704.8H38.6M36.4 690.2H38.6M36.4 675.6H38.6M36.4 661H38.6" stroke="#c4c4c4" stroke-width="0.9" fill="none"/>
<path d="M38.6 719.4V721.4M55.66 719.4V721.4M72.73 719.4V721.4M89.79 719.4V721.4M106.86 719.4V721.4M123.92 719.4V721.4M140.99 719.4V721.4M158.05 719.4V721.4" stroke="#606060" stroke-width="0.8" fill="none"/>
<text x="33.5" y="721.4" font-size="5.6" fill="#4a4a4a" font-family='"Liberation Sans", sans-serif' text-anchor="end" textLength="10.2" lengthAdjust="spacingAndGlyphs" stroke="#4a4a4a" stroke-width="0.22">0.00</text>
<text x="33.5" y="706.8" font-size="5.6" fill="#4a4a4a" font-family='"Liberation Sans", sans-serif' text-anchor="end" textLength="10.2" lengthAdjust="spacingAndGlyphs" stroke="#4a4a4a" stroke-width="0.22">0.40</text>
<text x="33.5" y="692.2" font-size="5.6" fill="#4a4a4a" font-family='"Liberation Sans", sans-serif' text-anchor="end" textLength="10.2" lengthAdjust="spacingAndGlyphs" stroke="#4a4a4a" stroke-width="0.22">0.80</text>
<text x="33.5" y="677.6" font-size="5.6" fill="#4a4a4a" font-family='"Liberation Sans", sans-serif' text-anchor="end" textLength="10.2" lengthAdjust="spacingAndGlyphs" stroke="#4a4a4a" stroke-width="0.22">1.20</text>
<text x="33.5" y="663" font-size="5.6" fill="#4a4a4a" font-family='"Liberation Sans", sans-serif' text-anchor="end" textLength="10.2" lengthAdjust="spacingAndGlyphs" stroke="#4a4a4a" stroke-width="0.22">1.60</text>
<text x="38.6" y="728.3" font-size="5.6" fill="#4a4a4a" font-family='"Liberation Sans", sans-serif' text-anchor="middle" textLength="2.7" lengthAdjust="spacingAndGlyphs" stroke="#4a4a4a" stroke-width="0.26">0</text>
<text x="55.66" y="728.3" font-size="5.6" fill="#4a4a4a" font-family='"Liberation Sans", sans-serif' text-anchor="middle" textLength="2.7" lengthAdjust="spacingAndGlyphs" stroke="#4a4a4a" stroke-width="0.26">5</text>
<text x="72.73" y="728.3" font-size="5.6" fill="#4a4a4a" font-family='"Liberation Sans", sans-serif' text-anchor="middle" textLength="5.3" lengthAdjust="spacingAndGlyphs" stroke="#4a4a4a" stroke-width="0.26">10</text>
<text x="89.79" y="728.3" font-size="5.6" fill="#4a4a4a" font-family='"Liberation Sans", sans-serif' text-anchor="middle" textLength="5.3" lengthAdjust="spacingAndGlyphs" stroke="#4a4a4a" stroke-width="0.26">15</text>
<text x="106.86" y="728.3" font-size="5.6" fill="#4a4a4a" font-family='"Liberation Sans", sans-serif' text-anchor="middle" textLength="5.3" lengthAdjust="spacingAndGlyphs" stroke="#4a4a4a" stroke-width="0.26">20</text>
<text x="123.92" y="728.3" font-size="5.6" fill="#4a4a4a" font-family='"Liberation Sans", sans-serif' text-anchor="middle" textLength="5.3" lengthAdjust="spacingAndGlyphs" stroke="#4a4a4a" stroke-width="0.26">25</text>
<text x="140.99" y="728.3" font-size="5.6" fill="#4a4a4a" font-family='"Liberation Sans", sans-serif' text-anchor="middle" textLength="5.3" lengthAdjust="spacingAndGlyphs" stroke="#4a4a4a" stroke-width="0.26">30</text>
<text x="158.05" y="728.3" font-size="5.6" fill="#4a4a4a" font-family='"Liberation Sans", sans-serif' text-anchor="middle" textLength="5.3" lengthAdjust="spacingAndGlyphs" stroke="#4a4a4a" stroke-width="0.26">35</text>
<text x="93.2" y="659.3" font-size="6.5" fill="#303030" font-family='"Liberation Sans", sans-serif' text-anchor="middle" textLength="39.8" lengthAdjust="spacingAndGlyphs" stroke="#303030" stroke-width="0.15">Alpha (7-12Hz)</text>
<clipPath id="cCr2"><rect x="35.6" y="631" width="125.45" height="88.4"/></clipPath>
<g clip-path="url(#cCr2)">
<path d="M38.6 661v23.9m.7 -17.2v11.5m.7 -16.6v24.6m.3 -26.2v30.7m.3 -23.6v15.7m.7 -22.8v33.6m.7 -28.3v22.3m.7 -21.2v21.5m.7 -16.5v12.9m.3 -10.9v9.7m.4 -15.7v22.4m.6 -27.9v34.9m.7 -28v22.5m.7 -20.5v22.9m.7 -20.8v23.1m.3 -27.1v33.3m.4 -30.4v28.3m.7 -24.8v22.7m.6 -17v12.7m.7 -12v8.5m.7 -21.9v32.3m.3 -29.9v26.1m.4 -23.3v21.9m.7 -22v25m.7 -25.9v29.7m.6 -20.1v12m.7 -16.3v22.1m.4 -25.6v29.8m.3 -32.1v33.6m.7 -30.5v26m.7 -29.4v31.4m.6 -25.9v25.2m.4 -27.2v31.6m.3 -25.4v27.8m.4 -18.8v18.3m.3 -9.6v9.4m.7 -9.9v17.7m.7 -10.6v10.8m.7 -10.2v12.1m.6 -12v12m.4 -8.9v8.9m.3 -8.2v8.2m.7 -7.2v7.2m.7 -5.8v5.8m.8 -8.8v8.8m.6 -4.5v4.5m.6 -7.9v7.9m.5 -4.9v4.9m.9 -5v5m.2 -7.9v7.9m.5 -7.1v7.1m.8 -4v4m.6 -4v4m.5 -8.4v8.4m.8 -7.3v7.3m.9 -7.5v7.5m.5 -4.6v4.6m.7 -6.5v6.5m.6 -4.3v4.3m-33.4 -17v4.8m.7 -5.3v4.3m.7 -4.3v2.9m.3 -9.2v14.7m.3 -9.6v4.6m.7 -6.6v8.6m.7 -9.2v9.7m.7 -6.6v5.6m.7 -8.5v13.4m.3 -9v5.7m.4 -10.1v13.5m.6 -13.6v11.6m.7 -11.8v9.9m.7 -9.3v10.2m.7 -6.1v3.5m.3 -7v11.2m.4 -7.6v3.3m.7 -3.8v2.8m.6 -9.2v14.1m.7 -10.1v9.1m.7 -4.5v2.8m.3 -3.6v5.8m.4 -7.4v8m.7 -7.9v5.8m.7 -7.4v6.9m.6 -8v8.3m.7 -8.3v7.4m.4 -7.3v6.7m.3 -4.5v2.9m.7 -5.8v9.7m.7 -9.3v10m.6 -8.6v8.2m.4 -12.3v11.6m.3 -15.7v14.9m.4 -15.7v11.6m.3 -8.5v11.5m.7 -6.3v13.3m.7 -9.3v15.4m.7 -13.9v13.9m.6 -9.5v9.5m.4 -5.8v4.3m.3 -8v9.5m.7 -9.3v5.5m.7 -7.2v5m.8 -7.7v5.5m.6 -7.6v5.4m.6 -11.9v12.5m.5 -14.6v12.3m.9 -9.6v16.1m.2 -12.2v10m.5 -8.9v3.8m.8 -12.9v15.1m.6 -7.3v10.5m.5 -4.1v8.6m.8 -10.1v13.1m.9 -5v5m.5 -3.8v3.8m.7 -9.8v9.8m.6 -10.3v10.3" stroke="#cccccc" stroke-width="0.55" fill="none" marker-start="url(#cap)" marker-mid="url(#cap)" marker-end="url(#cap)"/>
<path d="M38.6 670.4l.7 8.4 .7-3.2 .3 .7 .3-2.6 .7 .5 .7 4.2 .7-2 .7 5.5 .3-2.5 .4-2.5 .6 2.2 .7 .8 .7 3.8 .7 1.6 .3 1.2 .4 3.3 .7-4.4 .6 3 .7-1.8 .7-.7 .3-1 .4-1.4 .7 4.4 .7 1.1 .6 .1 .7 .9 .4 .1 .3 1.8 .7-.9 .7-2.7 .6 3.7 .4-.8 .3 6.5 .4 1.6 .3 5.1 .7 3.9 .7 3.9 .7 .6 .6 2.9 .4 0 .3 1.2 .7 .5 .7 .1 .8 .4 .6-.4 .6 .3 .5-.1 .9-.1 .2 0 .5 0 .8 .6 .6 .3 .5-.5 .8 .7 .9 .1 .5 .1 .7 .2 .6 .1 .7 .2 .7 0 .7 0 .7 0 .7 0 .6 0 .7 0 .7 0 .7 0 .7 0 .7 0 .6 0 .7 0 .7 0 .7 0 .7 0 .6 0 .7 0 .7 0 .7 0 .7 0 .7 0 .6 0 .7 0 .7 0 .7 0 .7 0 .7 0 .6 0 .7 0 .7 0 .7 0 .7 0 .7 0 .6 0 .7 0 .7 0 .7 0 .7 0 .6 0 .7 0 .7 0 .7 0 .7 0 .7 0 .6 0 .7 0 .7 0 .7 0 .7 0 .7 0 .6 0 .7 0 .7 0 .7 0 .7 0 .7 0 .6 0 .7 0 .7 0 .7 0 .7 0 .6 0 .7 0 .7 0 .7 0 .7 0 .7 0 .6 0 .7 0 .7 0 .7 0 .7 0 .7 0 .6 0 .7 0 .7 0 .7 0 .7 0 .7 0 .6 0 .7 0 .7 0 .7 0 .7 0 .6 0 .7 0 .7 0 .7 0 .7 0 .7 0 .6 0 .7 0 .7 0 .7 0 .7 0 .7 0 .6 0 .7 0 .7 0 .7 0 .7 0 .7 0 .6 0 .7 0 .7 0 .7 0 .7 0 .6 0 .7 0 .7 0 .7 0 .7 0 .7 0 .6 0 .7 0 .7 0 .7 0 .7 0 .7 0 .6 0 .7 0 .7 0 .7 0 .7 0 .7 0" stroke="#6e6e6e" stroke-width="1.05" fill="none" stroke-linejoin="round"/>
<path d="M38.6 704.4l.7-1.6 .7 1.1 .3-1.5 .3 0 .7 .6 .7-.1 .7 1.1 .7 2.6 .3-1.2 .4-2.3 .6 0 .7-.2 .7 1.4 .7 .8 .3-.5 .4-1.2 .7-1.5 .6 .8 .7 .8 .7 2.9 .3-.4 .4 1.2 .7-1.9 .7-1.8 .6-.6 .7 .1 .4-.3 .3 1.3 .7 .3 .7-.7 .6 1 .4-3.4 .3-1.4 .4-2 .3 .5 .7 8.3 .7 5.8 .7 .7 .6 .9 .4 1.5 .3-1.1 .7-1.2 .7-2.8 .8-1.5 .6-4.3 .6 0 .5-3.7 .9 4.9 .2 1.1 .5-3.3 .8-2.4 .6 5.7 .5 5.1 .8 2.8 .9 2.6 .5 .2 .7 .1 .6 .5 .7 0 .7 .2 .7 .1 .7 .1 .7 0 .6 .1 .7 0 .7 .1 .7 .1 .7 0 .7 .1 .6 .1 .7 0 .7 0 .7 .1 .7 0 .6 0 .7 0 .7 .1 .7 0 .7 0 .7 0 .6 0 .7 .1 .7 0 .7 0 .7 0 .7 0 .6 0 .7 0 .7 0 .7 0 .7 0 .7 0 .6 0 .7 0 .7 0 .7 0 .7 0 .6 0 .7 0 .7 0 .7 0 .7 0 .7 0 .6 0 .7 0 .7 0 .7 0 .7 0 .7 0 .6 0 .7 0 .7 0 .7 0 .7 0 .7 0 .6 0 .7 0 .7 0 .7 0 .7 0 .6 0 .7 0 .7 0 .7 0 .7 0 .7 0 .6 0 .7 0 .7 0 .7 0 .7 0 .7 0 .6 0 .7 0 .7 0 .7 0 .7 0 .7 0 .6 0 .7 0 .7 0 .7 0 .7 0 .6 0 .7 0 .7 0 .7 0 .7 0 .7 0 .6 0 .7 0 .7 0 .7 0 .7 0 .7 0 .6 0 .7 0 .7 0 .7 0 .7 0 .7 0 .6 0 .7 0 .7 0 .7 0 .7 0 .6 0 .7 0 .7 0 .7 0 .7 0 .7 0 .6 0 .7 0 .7 0 .7 0 .7 0 .7 0 .6 0 .7 0 .7 0 .7 0 .7 0 .7 0" stroke="#74b84a" stroke-width="1.12" fill="none" stroke-linejoin="round"/>
</g>
<path d="M38.6 719.4H158.05" stroke="#919191" stroke-width="1.1" fill="none"/>
<path d="M39 743.2V801.2M36.8 801.2H39M36.8 781.87H39M36.8 762.53H39M36.8 743.2H39" stroke="#c4c4c4" stroke-width="0.9" fill="none"/>
<path d="M39 801.2V803.2M56.04 801.2V803.2M73.08 801.2V803.2M90.12 801.2V803.2M107.16 801.2V803.2M124.2 801.2V803.2M141.24 801.2V803.2M158.28 801.2V803.2" stroke="#606060" stroke-width="0.8" fill="none"/>
<text x="33.9" y="803.2" font-size="5.6" fill="#4a4a4a" font-family='"Liberation Sans", sans-serif' text-anchor="end" textLength="10.2" lengthAdjust="spacingAndGlyphs" stroke="#4a4a4a" stroke-width="0.22">0.00</text>
<text x="33.9" y="783.87" font-size="5.6" fill="#4a4a4a" font-family='"Liberation Sans", sans-serif' text-anchor="end" textLength="10.2" lengthAdjust="spacingAndGlyphs" stroke="#4a4a4a" stroke-width="0.22">0.20</text>
<text x="33.9" y="764.53" font-size="5.6" fill="#4a4a4a" font-family='"Liberation Sans", sans-serif' text-anchor="end" textLength="10.2" lengthAdjust="spacingAndGlyphs" stroke="#4a4a4a" stroke-width="0.22">0.40</text>
<text x="33.9" y="745.2" font-size="5.6" fill="#4a4a4a" font-family='"Liberation Sans", sans-serif' text-anchor="end" textLength="10.2" lengthAdjust="spacingAndGlyphs" stroke="#4a4a4a" stroke-width="0.22">0.60</text>
<text x="39" y="810.1" font-size="5.6" fill="#4a4a4a" font-family='"Liberation Sans", sans-serif' text-anchor="middle" textLength="2.7" lengthAdjust="spacingAndGlyphs" stroke="#4a4a4a" stroke-width="0.26">0</text>
<text x="56.04" y="810.1" font-size="5.6" fill="#4a4a4a" font-family='"Liberation Sans", sans-serif' text-anchor="middle" textLength="2.7" lengthAdjust="spacingAndGlyphs" stroke="#4a4a4a" stroke-width="0.26">5</text>
<text x="73.08" y="810.1" font-size="5.6" fill="#4a4a4a" font-family='"Liberation Sans", sans-serif' text-anchor="middle" textLength="5.3" lengthAdjust="spacingAndGlyphs" stroke="#4a4a4a" stroke-width="0.26">10</text>
<text x="90.12" y="810.1" font-size="5.6" fill="#4a4a4a" font-family='"Liberation Sans", sans-serif' text-anchor="middle" textLength="5.3" lengthAdjust="spacingAndGlyphs" stroke="#4a4a4a" stroke-width="0.26">15</text>
<text x="107.16" y="810.1" font-size="5.6" fill="#4a4a4a" font-family='"Liberation Sans", sans-serif' text-anchor="middle" textLength="5.3" lengthAdjust="spacingAndGlyphs" stroke="#4a4a4a" stroke-width="0.26">20</text>
<text x="124.2" y="810.1" font-size="5.6" fill="#4a4a4a" font-family='"Liberation Sans", sans-serif' text-anchor="middle" textLength="5.3" lengthAdjust="spacingAndGlyphs" stroke="#4a4a4a" stroke-width="0.26">25</text>
<text x="141.24" y="810.1" font-size="5.6" fill="#4a4a4a" font-family='"Liberation Sans", sans-serif' text-anchor="middle" textLength="5.3" lengthAdjust="spacingAndGlyphs" stroke="#4a4a4a" stroke-width="0.26">30</text>
<text x="158.28" y="810.1" font-size="5.6" fill="#4a4a4a" font-family='"Liberation Sans", sans-serif' text-anchor="middle" textLength="5.3" lengthAdjust="spacingAndGlyphs" stroke="#4a4a4a" stroke-width="0.26">35</text>
<text x="91.65" y="743.3" font-size="6.5" fill="#303030" font-family='"Liberation Sans", sans-serif' text-anchor="middle" textLength="39.3" lengthAdjust="spacingAndGlyphs" stroke="#303030" stroke-width="0.15">Beta (12-30Hz)</text>
<clipPath id="cCr3"><rect x="36" y="713.2" width="125.28" height="88"/></clipPath>
<g clip-path="url(#cCr3)">
<path d="M39 763.9v10.8m.7 -18.6v24.9m.3 -15.8v5.9m.4 -14.5v22.3m.3 -24.5v25.9m.3 -21.3v17.9m.7 -15.6v15.6m.7 -14.8v16.3m.7 -13.9v13.1m.3 -11.9v11.4m.4 -15.5v20.4m.3 -16.5v13.4m.4 -15.2v17.7m.6 -10.9v5.7m.7 -15.1v26.1m.7 -25.5v25.7m.7 -17.8v10.6m.3 -15.5v20.8m.4 -18.4v16.4m.6 -18.5v21.3m.7 -14.7v8.9m.7 -15.3v22.6m.7 -18.4v14.9m.3 -16.3v18m.4 -18.1v18.6m.6 -11.6v5.4m.7 -10.2v15.8m.7 -18.4v20.3m.7 -14.6v8m.3 -11.2v14m.4 -14.9v16.2m.7 -12.2v9m.6 -14.9v21.6m.7 -14.3v10.1m.7 -10.9v14.8m.3 -10.8v8.4m.4 -4.7v4.1m.7 -4.5v11m.6 -3.6v2.4m.7 -1.7v4.1m.7 -5.9v10.8m.4 -9.3v9.4m.3 -9.4v10.1m.7 -10.2v11.9m.7 -10.1v9.8m.8 -10.1v10.9m.5 -7.6v4.6m.5 -8.4v11.5m1.1 -10v10m.5 -8v6.4m.8 -7.7v9.3m.5 -5.8v5m.4 -7.7v8.5m.1 -7.6v7.6m1.1 -3.5v3.5m.5 -6.9v6.9m.8 -5.8v5.8m.5 -4.2v4.2m.7 -5.9v5.9m.7 -3.9v3.9m-33.4 -27.5v6.6m.7 -16.5v20m.3 -16v8.8m.4 -15.9v24.2m.3 -17.3v11.8m.3 -19v27.5m.7 -21.5v14.5m.7 -15.6v15.7m.7 -13v15.5m.3 -19.2v25.5m.4 -24.4v22m.3 -26.4v29.5m.4 -22.6v14.4m.6 -19.9v30.3m.7 -18.7v11.8m.7 -22.1v28.6m.7 -30.3v28.2m.3 -27.6v25m.4 -18.2v12.2m.6 -9.4v8.1m.7 -10.6v14.7m.7 -17.5v18m.7 -26.2v32.1m.3 -22.8v12.3m.4 -17.5v24.2m.6 -19.3v17.5m.7 -11.3v8.2m.7 -19.6v32.5m.7 -21.5v12.1m.3 -10.1v8.9m.4 -9v9.6m.7 -7.7v6.9m.6 -14v22.3m.7 -13.7v6.1m.7 -23.7v25.8m.3 -20.2v6.9m.4 -2.1v8.3m.7 -1.8v17.2m.6 -4.7v5.8m.7 -9.9v14.7m.7 -15.1v15.1m.4 -13.3v13.3m.3 -10.2v8.2m.7 -9.8v6.2m.7 -14.2v17.1m.8 -14.2v4.8m.5 -9.6v9.5m.5 -13.9v13.5m1.1 -10.3v16.8m.5 -13.9v13.1m.8 -10.4v11.4m.5 -5.2v8.6m.4 -8.5v11m.1 -9.6v9.6m1.1 -16.1v16.1m.5 -10.5v10.5m.8 -8.9v8.9m.5 -5.9v5.9m.7 -4v4m.7 -7.6v7.6" stroke="#cccccc" stroke-width="0.55" fill="none" marker-start="url(#cap)" marker-mid="url(#cap)" marker-end="url(#cap)"/>
<path d="M39 769l.7 2.2 .3-2.9 .4 2.2 .3-3 .3 3.5 .7-5 .7 3.7 .7-1 .3 0 .4 5.2 .3-.8 .4-1.2 .6-.2 .7 1.8 .7-.1 .7 1.3 .3 .9 .4 .5 .6 1.3 .7-1.4 .7 2.3 .7-1.7 .3 .2 .4 1.3 .6 .5 .7-1.3 .7-1.5 .7 2.5 .3-1.9 .4 .2 .7-1.1 .6 2.6 .7 3.4 .7 1.8 .3-.9 .4 2.1 .7 1.3 .6 3.8 .7 .4 .7 3.7 .4 0 .3 .1 .7 1.3 .7 0 .8 .7 .5 .1 .5 .3 1.1 .5 .5-.6 .8 1.1 .5 .9 .4 .2 .1 .1 1.1 .8 .5 1.1 .8 .2 .5 .1 .7 .2 .7 .2 .7 .2 .7 0 .6 0 .7 0 .7 0 .7 0 .7 0 .6 0 .7 0 .7 0 .7 0 .7 0 .7 0 .6 0 .7 0 .7 0 .7 0 .7 0 .6 0 .7 0 .7 0 .7 0 .7 0 .7 0 .6 0 .7 0 .7 0 .7 0 .7 0 .6 0 .7 0 .7 0 .7 0 .7 0 .7 0 .6 0 .7 0 .7 0 .7 0 .7 0 .6 0 .7 0 .7 0 .7 0 .7 0 .6 0 .7 0 .7 0 .7 0 .7 0 .7 0 .6 0 .7 0 .7 0 .7 0 .7 0 .6 0 .7 0 .7 0 .7 0 .7 0 .7 0 .6 0 .7 0 .7 0 .7 0 .7 0 .6 0 .7 0 .7 0 .7 0 .7 0 .7 0 .6 0 .7 0 .7 0 .7 0 .7 0 .6 0 .7 0 .7 0 .7 0 .7 0 .6 0 .7 0 .7 0 .7 0 .7 0 .7 0 .6 0 .7 0 .7 0 .7 0 .7 0 .6 0 .7 0 .7 0 .7 0 .7 0 .7 0 .6 0 .7 0 .7 0 .7 0 .7 0 .6 0 .7 0 .7 0 .7 0 .7 0 .7 0 .6 0 .7 0 .7 0 .7 0 .7 0 .6 0 .7 0 .7 0 .7 0 .7 0 .6 0 .7 0 .7 0 .7 0 .7 0" stroke="#6e6e6e" stroke-width="1.05" fill="none" stroke-linejoin="round"/>
<path d="M39 776.5l.7-3.7 .3-1.3 .4 .4 .3 3.5 .3-.7 .7-2.7 .7 .4 .7 5.8 .3-1 .4 1.6 .3-4.7 .4 1.8 .6 2.2 .7 2.4 .7-3.3 .7 .7 .3-2.6 .4 1.1 .6 1.8 .7-1.5 .7 1.2 .7-5.6 .3 2.2 .4 1.1 .6 3.1 .7-1.2 .7-1 .7 1.1 .3 2.7 .4 .6 .7-1.2 .6-.1 .7 2.3 .7-10 .3-1.7 .4 8 .7 8.2 .6 7 .7 2.2 .7 .2 .4 .6 .3-.7 .7-3.3 .7-2.3 .8-3.4 .5-1.2 .5-4.2 1.1 5.3 .5 .5 .8 2.5 .5 5.1 .4 3.4 .1 1.2 1.1-5.7 .5 2.8 .8 3.8 .5 0 .7 0 .7 0 .7 .1 .7 0 .6 0 .7 0 .7 .2 .7 0 .7 0 .6 0 .7 .1 .7 .1 .7 0 .7 .1 .7 .1 .6 .1 .7 .1 .7 .1 .7 0 .7 0 .6 0 .7 0 .7 0 .7 0 .7 0 .7 0 .6 0 .7 0 .7 0 .7 0 .7 0 .6 0 .7 0 .7 0 .7 0 .7 0 .7 0 .6 0 .7 0 .7 0 .7 0 .7 0 .6 0 .7 0 .7 0 .7 0 .7 0 .6 0 .7 0 .7 0 .7 0 .7 0 .7 0 .6 0 .7 0 .7 0 .7 0 .7 0 .6 0 .7 0 .7 0 .7 0 .7 0 .7 0 .6 0 .7 0 .7 0 .7 0 .7 0 .6 0 .7 0 .7 0 .7 0 .7 0 .7 0 .6 0 .7 0 .7 0 .7 0 .7 0 .6 0 .7 0 .7 0 .7 0 .7 0 .6 0 .7 0 .7 0 .7 0 .7 0 .7 0 .6 0 .7 0 .7 0 .7 0 .7 0 .6 0 .7 0 .7 0 .7 0 .7 0 .7 0 .6 0 .7 0 .7 0 .7 0 .7 0 .6 0 .7 0 .7 0 .7 0 .7 0 .7 0 .6 0 .7 0 .7 0 .7 0 .7 0 .6 0 .7 0 .7 0 .7 0 .7 0 .6 0 .7 0 .7 0 .7 0 .7 0" stroke="#4a7bd0" stroke-width="1.12" fill="none" stroke-linejoin="round"/>
</g>
<path d="M39 801.2H158.28" stroke="#919191" stroke-width="1.1" fill="none"/>
<path d="M39.3 824.2V882.2M37.1 882.2H39.3M37.1 867.7H39.3M37.1 853.2H39.3M37.1 838.7H39.3M37.1 824.2H39.3" stroke="#c4c4c4" stroke-width="0.9" fill="none"/>
<path d="M39.3 882.2V884.2M56.33 882.2V884.2M73.36 882.2V884.2M90.39 882.2V884.2M107.41 882.2V884.2M124.44 882.2V884.2M141.47 882.2V884.2M158.5 882.2V884.2" stroke="#606060" stroke-width="0.8" fill="none"/>
<text x="34.2" y="884.2" font-size="5.6" fill="#4a4a4a" font-family='"Liberation Sans", sans-serif' text-anchor="end" textLength="10.2" lengthAdjust="spacingAndGlyphs" stroke="#4a4a4a" stroke-width="0.22">0.00</text>
<text x="34.2" y="869.7" font-size="5.6" fill="#4a4a4a" font-family='"Liberation Sans", sans-serif' text-anchor="end" textLength="10.2" lengthAdjust="spacingAndGlyphs" stroke="#4a4a4a" stroke-width="0.22">0.06</text>
<text x="34.2" y="855.2" font-size="5.6" fill="#4a4a4a" font-family='"Liberation Sans", sans-serif' text-anchor="end" textLength="10.2" lengthAdjust="spacingAndGlyphs" stroke="#4a4a4a" stroke-width="0.22">0.12</text>
<text x="34.2" y="840.7" font-size="5.6" fill="#4a4a4a" font-family='"Liberation Sans", sans-serif' text-anchor="end" textLength="10.2" lengthAdjust="spacingAndGlyphs" stroke="#4a4a4a" stroke-width="0.22">0.18</text>
<text x="34.2" y="826.2" font-size="5.6" fill="#4a4a4a" font-family='"Liberation Sans", sans-serif' text-anchor="end" textLength="10.2" lengthAdjust="spacingAndGlyphs" stroke="#4a4a4a" stroke-width="0.22">0.24</text>
<text x="39.3" y="891.1" font-size="5.6" fill="#4a4a4a" font-family='"Liberation Sans", sans-serif' text-anchor="middle" textLength="2.7" lengthAdjust="spacingAndGlyphs" stroke="#4a4a4a" stroke-width="0.26">0</text>
<text x="56.33" y="891.1" font-size="5.6" fill="#4a4a4a" font-family='"Liberation Sans", sans-serif' text-anchor="middle" textLength="2.7" lengthAdjust="spacingAndGlyphs" stroke="#4a4a4a" stroke-width="0.26">5</text>
<text x="73.36" y="891.1" font-size="5.6" fill="#4a4a4a" font-family='"Liberation Sans", sans-serif' text-anchor="middle" textLength="5.3" lengthAdjust="spacingAndGlyphs" stroke="#4a4a4a" stroke-width="0.26">10</text>
<text x="90.39" y="891.1" font-size="5.6" fill="#4a4a4a" font-family='"Liberation Sans", sans-serif' text-anchor="middle" textLength="5.3" lengthAdjust="spacingAndGlyphs" stroke="#4a4a4a" stroke-width="0.26">15</text>
<text x="107.41" y="891.1" font-size="5.6" fill="#4a4a4a" font-family='"Liberation Sans", sans-serif' text-anchor="middle" textLength="5.3" lengthAdjust="spacingAndGlyphs" stroke="#4a4a4a" stroke-width="0.26">20</text>
<text x="124.44" y="891.1" font-size="5.6" fill="#4a4a4a" font-family='"Liberation Sans", sans-serif' text-anchor="middle" textLength="5.3" lengthAdjust="spacingAndGlyphs" stroke="#4a4a4a" stroke-width="0.26">25</text>
<text x="141.47" y="891.1" font-size="5.6" fill="#4a4a4a" font-family='"Liberation Sans", sans-serif' text-anchor="middle" textLength="5.3" lengthAdjust="spacingAndGlyphs" stroke="#4a4a4a" stroke-width="0.26">30</text>
<text x="158.5" y="891.1" font-size="5.6" fill="#4a4a4a" font-family='"Liberation Sans", sans-serif' text-anchor="middle" textLength="5.3" lengthAdjust="spacingAndGlyphs" stroke="#4a4a4a" stroke-width="0.26">35</text>
<text x="91.65" y="825.2" font-size="6.5" fill="#303030" font-family='"Liberation Sans", sans-serif' text-anchor="middle" textLength="52.1" lengthAdjust="spacingAndGlyphs" stroke="#303030" stroke-width="0.15">Gamma (30-100Hz)</text>
<clipPath id="cCr4"><rect x="36.3" y="794.2" width="125.2" height="88"/></clipPath>
<g clip-path="url(#cCr4)">
<path d="M39.3 874.1v1.7m.7 -4.4v7.1m.7 -6.6v6.1m.3 -6.8v7.5m.3 -6.8v6.1m.7 -5.7v5.3m.7 -4v2.7m.7 -2.6v2.5m.7 -4.9v7.3m.3 -7.2v7.1m.3 -5v2.9m.7 -5.4v7.9m.7 -6.9v5.9m.7 -6.3v6.7m.7 -6.7v6.7m.3 -5.2v3.7m.4 -3.9v4.1m.6 -3.7v3.3m.7 -2.9v2.5m.7 -4v5.3m.7 -4.7v3.9m.3 -5.5v7m.4 -5.3v3.5m.6 -2.9v2.1m.7 -2v1.7m.7 -3.4v4.8m.7 -6.6v8.1m.3 -7.8v7.4m.4 -6.7v5.9m.6 -6.4v6.6m.7 -4.3v1.7m.7 -5.7v6.7m.7 -7.5v5.5m.3 -5v3m.4 -1.8v1.6m.3 -3.4v6.1m.4 -3.5v1.9m.6 -2.4v4.9m.7 -2.3v1.6m.7 -2.7v5.7m.3 -3.2v1.7m.4 -4.3v7.9m.7 -6.3v6.6m.6 -3.2v1.8m.9 -1.1v1.5m.5 -4.3v7.8m.7 -6.9v6.9m.5 -6.4v6.4m.8 -4.8v4.7m.9 -5.2v5.3m.5 -4.7v4.7m.3 -4.7v4.7m.4 -2.6v2.6m.5 -1.6v1.6m.9 -2.3v2.3m.8 -2.7v2.7m.5 -3.8v3.8m.7 -2.5v2.5m.7 -1.5v1.5m-33.4 -35.1v12.2m.7 -18.4v25.5m.7 -19.7v14.9m.3 -19.6v24.8m.3 -28.3v32.3m.7 -36.9v42.4m.7 -44.8v48.2m.7 -35.9v22.7m.7 -32.4v41.1m.3 -42v42.4m.3 -43.6v45.8m.7 -31.3v18.8m.7 -28.6v40.2m.7 -26.2v11.3m.7 -22.4v32.5m.3 -39.4v45.8m.4 -32.4v19m.6 -20.9v22.9m.7 -27.9v32.9m.7 -28.8v22.7m.7 -30.1v35.5m.3 -24.8v13.2m.4 -13v12.4m.6 -12.3v11.2m.7 -14.4v16.6m.7 -22.2v30.7m.7 -23.1v18.4m.3 -20v23m.4 -33.2v44.9m.6 -40.1v38m.7 -40.7v46.1m.7 -44.7v44.8m.7 -25v21m.3 -18.3v5.2m.4 -13.2v10.7m.3 -17.5v13.7m.4 -3.4v5.3m.6 5.4v8m.7 -3.1v4m.7 -6.1v13.3m.3 -8.3v6.9m.4 -8.1v9m.7 -11.1v11.6m.6 -7.4v3.6m.9 -6.6v8.8m.5 -7.4v7.4m.7 -10.2v11.8m.5 -5.6v3.9m.8 -8.5v10.2m.9 -10v10m.5 -6.8v6.1m.3 -9.5v10.2m.4 -10.1v10.1m.5 -5v5m.9 -8.9v8.9m.8 -5.8v5.8m.5 -6.6v6.6m.7 -4.5v4.5m.7 -3v3" stroke="#cccccc" stroke-width="0.55" fill="none" marker-start="url(#cap)" marker-mid="url(#cap)" marker-end="url(#cap)"/>
<path d="M39.3 875l.7-.7 .7 1.1 .3-.7 .3-.6 .7 .8 .7 .1 .7-1 .7 2.1 .3-1.9 .3 1.5 .7-1.2 .7 .3 .7-.7 .7 .5 .3 1.3 .4-1.2 .6-.8 .7 .8 .7-.4 .7-.3 .3 1.5 .4-.7 .6-.6 .7 .4 .7 0 .7-.6 .3 1 .4-1.4 .6-.1 .7 .2 .7-1.8 .7-.9 .3-.5 .4 .2 .3-1.1 .4 1.6 .6 1.2 .7 2 .7 .1 .3 .6 .4 .4 .7-.1 .6 1.8 .9-.2 .5 1.5 .7-.3 .5 1.1 .8 .4 .9 .7 .5 .3 .3 .2 .4 .8 .5 0 .9 .5 .8 0 .5 0 .7 0 .7 0 .7 0 .6 0 .7 0 .7 0 .7 0 .7 0 .6 0 .7 0 .7 0 .7 0 .7 0 .6 0 .7 0 .7 0 .7 0 .7 0 .7 0 .6 0 .7 0 .7 0 .7 0 .7 0 .6 0 .7 0 .7 0 .7 0 .7 0 .6 0 .7 0 .7 0 .7 0 .7 0 .7 0 .6 0 .7 0 .7 0 .7 0 .7 0 .6 0 .7 0 .7 0 .7 0 .7 0 .6 0 .7 0 .7 0 .7 0 .7 0 .7 0 .6 0 .7 0 .7 0 .7 0 .7 0 .6 0 .7 0 .7 0 .7 0 .7 0 .6 0 .7 0 .7 0 .7 0 .7 0 .7 0 .6 0 .7 0 .7 0 .7 0 .7 0 .6 0 .7 0 .7 0 .7 0 .7 0 .6 0 .7 0 .7 0 .7 0 .7 0 .6 0 .7 0 .7 0 .7 0 .7 0 .7 0 .6 0 .7 0 .7 0 .7 0 .7 0 .6 0 .7 0 .7 0 .7 0 .7 0 .6 0 .7 0 .7 0 .7 0 .7 0 .7 0 .6 0 .7 0 .7 0 .7 0 .7 0 .6 0 .7 0 .7 0 .7 0 .7 0 .6 0 .7 0 .7 0 .7 0 .7 0 .7 0 .6 0 .7 0 .7 0 .7 0 .7 0 .6 0 .7 0 .7 0" stroke="#6e6e6e" stroke-width="1.05" fill="none" stroke-linejoin="round"/>
<path d="M39.3 852.9l.7-1.6 .7 3.5 .3-.7 .3 1 .7-1 .7 .6 .7 1 .7 1.7 .3-3.7 .3 .2 .7 2.1 .7 .4 .7-2.1 .7 2.4 .3-1.2 .4 2.1 .6-4.5 .7 2.8 .7 1.7 .7-2 .3-1.4 .4-1.7 .6 3.2 .7-4.4 .7 .9 .7 2.5 .3 1 .4-.5 .6 5.3 .7-1.3 .7 1.6 .7 6.8 .3-2.9 .4-5.5 .3-6.4 .4 3.1 .6 14 .7 3.8 .7 1.6 .3 2.1 .4-.4 .7 .1 .6-.7 .9-.4 .5 1.3 .7 .2 .5 1.2 .8 0 .9-1.4 .5 1.4 .3 1.4 .4-.7 .5 1.5 .9 .4 .8 .4 .5 .1 .7 .2 .7 .1 .7 .1 .6 0 .7 0 .7 0 .7 0 .7 0 .6 0 .7 0 .7 0 .7 0 .7 0 .6 0 .7 0 .7 0 .7 0 .7 0 .7 0 .6 0 .7 0 .7 0 .7 0 .7 0 .6 0 .7 0 .7 0 .7 0 .7 0 .6 0 .7 0 .7 0 .7 0 .7 0 .7 0 .6 0 .7 0 .7 0 .7 0 .7 0 .6 0 .7 0 .7 0 .7 0 .7 0 .6 0 .7 0 .7 0 .7 0 .7 0 .7 0 .6 0 .7 0 .7 0 .7 0 .7 0 .6 0 .7 0 .7 0 .7 0 .7 0 .6 0 .7 0 .7 0 .7 0 .7 0 .7 0 .6 0 .7 0 .7 0 .7 0 .7 0 .6 0 .7 0 .7 0 .7 0 .7 0 .6 0 .7 0 .7 0 .7 0 .7 0 .6 0 .7 0 .7 0 .7 0 .7 0 .7 0 .6 0 .7 0 .7 0 .7 0 .7 0 .6 0 .7 0 .7 0 .7 0 .7 0 .6 0 .7 0 .7 0 .7 0 .7 0 .7 0 .6 0 .7 0 .7 0 .7 0 .7 0 .6 0 .7 0 .7 0 .7 0 .7 0 .6 0 .7 0 .7 0 .7 0 .7 0 .7 0 .6 0 .7 0 .7 0 .7 0 .7 0 .6 0 .7 0 .7 0" stroke="#f0863a" stroke-width="1.12" fill="none" stroke-linejoin="round"/>
</g>
<path d="M39.3 882.2H158.5" stroke="#919191" stroke-width="1.1" fill="none"/>
<path d="M209.8 497.6V554.5M207.6 554.5H209.8M207.6 540.27H209.8M207.6 526.05H209.8M207.6 511.83H209.8M207.6 497.6H209.8" stroke="#c4c4c4" stroke-width="0.9" fill="none"/>
<path d="M209.8 554.5V556.5M226.97 554.5V556.5M244.14 554.5V556.5M261.31 554.5V556.5M278.49 554.5V556.5M295.66 554.5V556.5M312.83 554.5V556.5M330 554.5V556.5" stroke="#606060" stroke-width="0.8" fill="none"/>
<text x="204.7" y="556.5" font-size="5.6" fill="#4a4a4a" font-family='"Liberation Sans", sans-serif' text-anchor="end" textLength="10.2" lengthAdjust="spacingAndGlyphs" stroke="#4a4a4a" stroke-width="0.22">0.00</text>
<text x="204.7" y="542.27" font-size="5.6" fill="#4a4a4a" font-family='"Liberation Sans", sans-serif' text-anchor="end" textLength="10.2" lengthAdjust="spacingAndGlyphs" stroke="#4a4a4a" stroke-width="0.22">0.80</text>
<text x="204.7" y="528.05" font-size="5.6" fill="#4a4a4a" font-family='"Liberation Sans", sans-serif' text-anchor="end" textLength="10.2" lengthAdjust="spacingAndGlyphs" stroke="#4a4a4a" stroke-width="0.22">1.60</text>
<text x="204.7" y="513.83" font-size="5.6" fill="#4a4a4a" font-family='"Liberation Sans", sans-serif' text-anchor="end" textLength="10.2" lengthAdjust="spacingAndGlyphs" stroke="#4a4a4a" stroke-width="0.22">2.40</text>
<text x="204.7" y="499.6" font-size="5.6" fill="#4a4a4a" font-family='"Liberation Sans", sans-serif' text-anchor="end" textLength="10.2" lengthAdjust="spacingAndGlyphs" stroke="#4a4a4a" stroke-width="0.22">3.20</text>
<text x="209.8" y="563.4" font-size="5.6" fill="#4a4a4a" font-family='"Liberation Sans", sans-serif' text-anchor="middle" textLength="2.7" lengthAdjust="spacingAndGlyphs" stroke="#4a4a4a" stroke-width="0.26">0</text>
<text x="226.97" y="563.4" font-size="5.6" fill="#4a4a4a" font-family='"Liberation Sans", sans-serif' text-anchor="middle" textLength="2.7" lengthAdjust="spacingAndGlyphs" stroke="#4a4a4a" stroke-width="0.26">5</text>
<text x="244.14" y="563.4" font-size="5.6" fill="#4a4a4a" font-family='"Liberation Sans", sans-serif' text-anchor="middle" textLength="5.3" lengthAdjust="spacingAndGlyphs" stroke="#4a4a4a" stroke-width="0.26">10</text>
<text x="261.31" y="563.4" font-size="5.6" fill="#4a4a4a" font-family='"Liberation Sans", sans-serif' text-anchor="middle" textLength="5.3" lengthAdjust="spacingAndGlyphs" stroke="#4a4a4a" stroke-width="0.26">15</text>
<text x="278.49" y="563.4" font-size="5.6" fill="#4a4a4a" font-family='"Liberation Sans", sans-serif' text-anchor="middle" textLength="5.3" lengthAdjust="spacingAndGlyphs" stroke="#4a4a4a" stroke-width="0.26">20</text>
<text x="295.66" y="563.4" font-size="5.6" fill="#4a4a4a" font-family='"Liberation Sans", sans-serif' text-anchor="middle" textLength="5.3" lengthAdjust="spacingAndGlyphs" stroke="#4a4a4a" stroke-width="0.26">25</text>
<text x="312.83" y="563.4" font-size="5.6" fill="#4a4a4a" font-family='"Liberation Sans", sans-serif' text-anchor="middle" textLength="5.3" lengthAdjust="spacingAndGlyphs" stroke="#4a4a4a" stroke-width="0.26">30</text>
<text x="330" y="563.4" font-size="5.6" fill="#4a4a4a" font-family='"Liberation Sans", sans-serif' text-anchor="middle" textLength="5.3" lengthAdjust="spacingAndGlyphs" stroke="#4a4a4a" stroke-width="0.26">35</text>
<text x="263.3" y="497.5" font-size="6.5" fill="#303030" font-family='"Liberation Sans", sans-serif' text-anchor="middle" textLength="40" lengthAdjust="spacingAndGlyphs" stroke="#303030" stroke-width="0.15">Delta (0.1-3Hz)</text>
<clipPath id="cCn0"><rect x="206.8" y="467.6" width="126.2" height="86.9"/></clipPath>
<g clip-path="url(#cCn0)">
<path d="M209.8 533.4v6.6m.7 -10v12m.3 -9.4v6.1m.4 -7.3v7.8m.3 -7.5v6.4m.4 -10.3v11.9m.6 -13.2v9.8m.7 -3.2v7.3m.7 -5.2v4.4m.4 -3.9v4.1m.3 -4.1v4.9m.4 -7.7v11.2m.3 -8.6v5.3m.7 -8.3v9.9m.7 -11.2v11m.7 -9.5v8.7m.6 -7.5v7m.4 -8.4v10.2m.3 -10.4v11.4m.7 -9.4v8.7m.7 -8.2v9.2m.7 -10.2v10.4m.7 -6.8v2.5m.3 -4.3v5.7m.4 -8v9.7m.7 -9v6.8m.6 -7.7v7.2m.7 -6.7v4.8m.7 -8.2v10.2m.4 -10.3v9.7m.3 -6.6v2.8m.7 -4.6v4.9m.7 -6.3v6.3m.7 -4.3v6.6m.6 -6.1v9.9m.4 -7.7v7.5m.3 -6.1v7.6m.7 -2.3v2.7m.7 0v3m.7 -2.4v4m.7 -4.7v7.5m.3 -4.4v2.3m.4 -5.5v8.4m.7 -5.7v2.3m.6 -3.1v3.1m.4 -6v4.2m.3 -8.8v8.7m.4 -8.6v3.7m.3 -1v3.1m.7 1.8v2.8m.3 -4.9v6.5m.4 -4.3v1.7m.7 -2.6v2.6m.3 -8v8.6m.4 -9.9v6.5m.3 -8v4.8m.3 -3.3v7.1m.7 -2.4v8.3m.7 -4.3v2.1m.7 -4v7.7m.4 -4.2v2.1m.3 -4.5v8.1m.7 -5.4v5.4m.3 -6.1v6.1m.4 -6.1v6.1m.7 -3.4v3.4m1.3 -1.8v1.1m.7 -2v2.2m.7 -2.7v2.4m.7 -3v2.9m.7 -2.2v.9m1.4 -.8v1.7m.6 -1.5v1.8m.7 -1.9v2.4m.7 -1.7v1.5m1.4 -1.7v2.1m.7 -2.4v2.7m.7 -2.5v2.5m.6 -2.3v2.1m.7 -1.5v1m.7 -1.3v1.7m1.4 -1.7v1.8m.7 -2.1v2.3m.7 -2.3v2.3m.7 -1.7v1.4m.6 -1.3v1.2m.7 -1.9v2.3m.7 -2v2m.7 -1.8v1.8m.7 -1.9v1.9m1.4 -2v2m.6 -1.8v1.8m.7 -2.1v2.1m.7 -1.3v.9m.7 -1.3v1.7m.7 -1.4v1m.7 -1.7v2.1m.7 -1.4v1m.7 -.9v.9m.6 -1v1m.7 -1.3v1.6m.7 -1.3v1.1m.7 -1.3v1.4m.7 -2v2.2m.7 -1.5v1.3m2 -2v2.2m2.8 -1.9v1.9m.7 -2v2m.7 -2.1v2.1m.6 -1.5v1.2m.7 -1.3v1.4m.7 -2.1v2.3m.7 -2v2m.7 -1.9v1.9m1.4 -1.5v1.3m2 -1.4v1.4m1.4 -1.5v1.6m.7 -1.9v2m1.4 -1.8v1.8m1.3 -1.4v1m1.4 -1.5v1.9m.7 -1.8v1.8m.7 -2.2v2.2m.7 -1.8v1.8m.7 -2v2m.6 -2.3v2.3m.7 -2.2v2.2m.7 -2.2v2.2m.7 -1.9v1.9m.7 -1.9v1.9m.7 -2.2v2.2m.7 -2v2m.7 -1.4v1m.6 -1.4v1.8m.7 -2.3v2.3m.7 -2v2m1.4 -1.9v1.9m.7 -2.2v2.2m.7 -1.6v1.4m.6 -1.5v1.6m.7 -1.3v1m.7 -1.9v2.3m.7 -2v2m.7 -1.4v1m.7 -1.2v1.4m.7 -1.7v1.9m.7 -1.9v1.9m.6 -1.4v1m.7 -1.4v1.8m.7 -1.9v1.9m.7 -2.2v2.2m.7 -1.7v1.6m.7 -2.1v2.2m1.3 -2.1v2.1m.7 -1.7v1.6m.7 -1.8v1.9m.7 -1.7v1.6m.7 -1.9v2m1.4 -1.8v1.8m.7 -1.9v1.9m1.3 -1.7v1.7m.7 -2v2m1.4 -2.2v2.2m.7 -2v2m1.4 -2.3v2.3m2 -2.2v2.2m.7 -2.3v2.3m-120.2 -20.4v5.2m.7 -3.4v4m.3 -3.3v3.8m.4 -3.4v3.6m.3 -5.3v7.6m.4 -5.7v4.4m.6 -3.9v4.2m.7 -5.7v8.1m.7 -8.4v6.4m.4 -7.1v6.6m.3 -6.6v6m.4 -5.5v4.4m.3 -6.9v8.8m.7 -6.2v2.7m.7 -4v4.4m.7 -6.8v8.5m.6 -5.4v1.6m.4 -4.4v6.8m.3 -5.4v5.1m.7 -5.2v7.5m.7 -7v8.6m.7 -5.8v2.3m.7 -2.9v2.8m.3 -5.6v8m.4 -7.2v6.1m.7 -4.3v1.8m.6 -2.5v2.5m.7 -2.6v1.9m.7 -3.1v3.6m.4 -5.5v7m.3 -5v2.7m.7 -5.3v7.2m.7 -6.4v4.9m.7 -4.3v6.5m.6 -5.3v7m.4 -7.8v10m.3 -9.4v10.9m.7 -8.8v11m.7 -7.8v8.8m.7 -9.5v11.7m.7 -8.5v6.7m.3 -6.7v7.5m.4 -6.8v3.1m.7 -9.6v10.1m.6 -10.1v4.2m.4 -6.6v6m.3 -12.6v7.4m.4 -11v2.8m.3 -12v9.3m.7 -16.9v5.5m.3 -12.9v10.8m.4 -6.4v10.9m.7 1.9v3.1m.3 1.7v2.4m.4 -1v8.2m.3 -5.3v10.9m.3 -6.4v10.4m.7 .5v5.7m.7 -6.9v10.2m.7 -5.6v3.2m.4 -5.9v9.6m.3 -6.3v3.4m.7 -3.8v5m.3 -5.1v5.5m.4 -6.5v8m.7 -8.8v10.4m4.1 -4.5v1.2m2.7 -1.4v.9m.7 -1v1m2.8 -.8v1m.6 -1v1.1m2.8 -.9v1.1m1.4 -1v1m1.3 -1v1.2m2.8 -.9v.9m7.5 -.9v1m2.8 -.9v.9m1.4 -.9v.9m.7 -.9v1m1.3 -.9v.8m.7 -.9v1m.7 -1.1v1.2m4.8 -1.1v1m2.8 -1.1v1.2m.6 -1v.8m.7 -.8v.8m2.1 -.9v1m2 -1v1m.7 -.9v.8m2.8 -.9v1m2 -1.1v1.2m.7 -1.1v1m4.2 -1.1v1.1m6.1 -1.1v.9m.7 -1v1.1m.7 -1v.9m2.1 -.9v.9m.7 -1v1.1m.6 -1.1v1.1m2.1 -1v.9m1.4 -1v1.2m.7 -1.1v1m1.3 -1v1.1m2.1 -1v.9m1.4 -.9v1m1.3 -1v1m.7 -.9v.8m1.4 -.8v1m.7 -1.1v1.1m.7 -.9v.8m1.4 -1v1.2" stroke="#cccccc" stroke-width="0.55" fill="none" marker-start="url(#cap)" marker-mid="url(#cap)" marker-end="url(#cap)"/>
<path d="M209.8 536.3l.7-2.2 .3 .4 .4 1 .3-.5 .4-2.1 .6-2.3 .7 5.6 .7 3.3 .4-.5 .3-.1 .4-.3 .3 .6 .7-2.5 .7-.1 .7 1.2 .6-.1 .4 .5 .3 1 .7-.1 .7 0 .7 .8 .7-1.7 .3 0 .4 .3 .7-2.9 .6 1.4 .7-1.8 .7 .7 .4-1.3 .3 1.7 .7-3.1 .7 .6 .7 1.6 .6 2.8 .4-.1 .3 2.2 .7 3.2 .7 2.1 .7 .4 .7 1.9 .3 .4 .4 .1 .7-.4 .6-.7 .4-3.5 .3-.5 .4-2.7 .3 1.8 .7 4.7 .3 .4 .4 .9 .7-2.2 .3-1 .4-4.5 .3-1.5 .3 3.2 .7 4.9 .7 0 .7 1.8 .4 .7 .3 .8 .7 1.3 .3 .7 .4 .3 .7 .5 .6 .1 .7-.3 .7-.3 .7-.3 .7-.6 .7-.4 .7 .7 .7-.1 .6 .4 .7 .3 .7 .3 .7-.1 .7 .2 .7-.2 .7 .3 .6 0 .7-.1 .7 .1 .7 0 .7 0 .7 .1 .7 0 .7 .1 .6-.1 .7 .1 .7 .1 .7-.2 .7 0 .7 .1 .7 .1 .6 0 .7-.1 .7 .1 .7 0 .7-.1 .7 0 .7 .1 .7-.1 .6-.1 .7 0 .7 .2 .7-.1 .7 .1 .7 0 .7-.2 .7 0 .6 .2 .7 0 .7 0 .7-.1 .7 0 .7 0 .7 .1 .6-.2 .7 .1 .7 .2 .7-.1 .7 0 .7-.2 .7 .1 .7 0 .6 0 .7 .1 .7 0 .7 0 .7 0 .7-.2 .7 .2 .6 0 .7-.1 .7 .1 .7-.1 .7 .1 .7-.1 .7 0 .7-.1 .6 0 .7 0 .7 0 .7 .2 .7 0 .7 0 .7-.1 .7 0 .6 0 .7 0 .7 0 .7 0 .7 .1 .7-.2 .7 0 .6 0 .7 .2 .7-.2 .7 .1 .7 .1 .7 0 .7-.1 .7-.1 .6 .1 .7 0 .7 .1 .7-.1 .7 .1 .7 0 .7-.1 .6 0 .7 0 .7-.1 .7 0 .7 .1 .7-.1 .7 .2 .7 0 .6-.1 .7-.1 .7 .2 .7-.1 .7 .1 .7 0 .7-.1 .7-.1 .6 .1 .7-.1 .7 .1 .7 0" stroke="#6e6e6e" stroke-width="1.05" fill="none" stroke-linejoin="round"/>
<path d="M209.8 537.2l.7 1 .3 .7 .4-.8 .3 1.5 .4 0 .6-.7 .7 1.1 .7-.1 .4-.8 .3-1.3 .4-1 .3 1.2 .7-1.6 .7 .1 .7-.8 .6 .1 .4-.2 .3 1.3 .7-1 .7 3 .7-1.8 .7 .9 .3 0 .4-1.2 .7 1.8 .6-2.4 .7-.1 .7-.7 .4 .8 .3 1.7 .7-2.3 .7-.7 .7 3 .6 .7 .4-.1 .3-.6 .7 4.7 .7 1.3 .7 1 .7-.8 .3 1.1 .4-.8 .7-3 .6-4.1 .4-1 .3-5.9 .4-5.8 .3-5.9 .7-12.2 .3-2.7 .4 5.7 .7 9.2 .3 4.7 .4 3 .3 2.2 .3 7 .7 8.6 .7 .7 .7 1.1 .4 .7 .3-.1 .7 .3 .3 .4 .4 .3 .7 .1 .6 .5 .7 .4 .7 0 .7 .3 .7-.1 .7 .4 .7-.5 .7 .3 .6-.1 .7-.1 .7 0 .7-.1 .7 .1 .7 .3 .7-.1 .6 .4 .7-.3 .7-.1 .7 .1 .7-.3 .7 .5 .7-.4 .7 .8 .6-.2 .7 0 .7-.3 .7 .3 .7-.3 .7 .6 .7-.5 .6 .1 .7 .1 .7-.2 .7 .1 .7-.2 .7 .5 .7 .1 .7-.1 .6 0 .7-.3 .7 .1 .7 0 .7-.1 .7 .3 .7 .1 .7-.2 .6 0 .7 .4 .7-.4 .7 .1 .7-.1 .7-.1 .7 .2 .6-.2 .7 .1 .7-.2 .7 .3 .7 .1 .7-.2 .7-.1 .7 .2 .6-.3 .7 .5 .7-.5 .7 .3 .7 0 .7-.2 .7-.1 .6 .4 .7-.4 .7 .6 .7 0 .7-.2 .7 0 .7 0 .7-.2 .6 .2 .7-.2 .7 0 .7 .2 .7-.2 .7 .2 .7-.2 .7-.2 .6 .4 .7-.1 .7 .1 .7-.2 .7-.2 .7 .4 .7-.2 .6-.1 .7 .2 .7-.2 .7 .2 .7 0 .7-.3 .7-.2 .7 .4 .6 .3 .7-.3 .7-.4 .7 .3 .7 0 .7 .2 .7-.3 .6-.1 .7 0 .7 .5 .7-.3 .7 .1 .7-.3 .7 .3 .7 .1 .6 .4 .7-.5 .7 .1 .7 0 .7 .1 .7 0 .7-.1 .7 .3 .6-.2 .7 .1 .7 .2 .7-.4" stroke="#7b3bb3" stroke-width="1.12" fill="none" stroke-linejoin="round"/>
</g>
<path d="M209.8 554.5H330" stroke="#919191" stroke-width="1.1" fill="none"/>
<path d="M285 505.7H293.3" stroke="#7b3bb3" stroke-width="1.1"/>
<path d="M285 513H293.3" stroke="#8a8a8a" stroke-width="0.9"/>
<text x="293.7" y="507.8" font-size="5.8" fill="#303030" font-family='"Liberation Sans", sans-serif' textLength="33.8" lengthAdjust="spacingAndGlyphs" stroke="#303030" stroke-width="0.12">Freely-moving</text>
<text x="293.7" y="515.1" font-size="5.8" fill="#303030" font-family='"Liberation Sans", sans-serif' textLength="31.26" lengthAdjust="spacingAndGlyphs" stroke="#303030" stroke-width="0.12">Anesthetized</text>
<path d="M210 578.4V636.4M207.8 636.4H210M207.8 621.9H210M207.8 607.4H210M207.8 592.9H210M207.8 578.4H210" stroke="#c4c4c4" stroke-width="0.9" fill="none"/>
<path d="M210 636.4V638.4M227.14 636.4V638.4M244.28 636.4V638.4M261.42 636.4V638.4M278.56 636.4V638.4M295.7 636.4V638.4M312.84 636.4V638.4M329.98 636.4V638.4" stroke="#606060" stroke-width="0.8" fill="none"/>
<text x="204.9" y="638.4" font-size="5.6" fill="#4a4a4a" font-family='"Liberation Sans", sans-serif' text-anchor="end" textLength="10.2" lengthAdjust="spacingAndGlyphs" stroke="#4a4a4a" stroke-width="0.22">0.00</text>
<text x="204.9" y="623.9" font-size="5.6" fill="#4a4a4a" font-family='"Liberation Sans", sans-serif' text-anchor="end" textLength="10.2" lengthAdjust="spacingAndGlyphs" stroke="#4a4a4a" stroke-width="0.22">0.60</text>
<text x="204.9" y="609.4" font-size="5.6" fill="#4a4a4a" font-family='"Liberation Sans", sans-serif' text-anchor="end" textLength="10.2" lengthAdjust="spacingAndGlyphs" stroke="#4a4a4a" stroke-width="0.22">1.20</text>
<text x="204.9" y="594.9" font-size="5.6" fill="#4a4a4a" font-family='"Liberation Sans", sans-serif' text-anchor="end" textLength="10.2" lengthAdjust="spacingAndGlyphs" stroke="#4a4a4a" stroke-width="0.22">1.80</text>
<text x="204.9" y="580.4" font-size="5.6" fill="#4a4a4a" font-family='"Liberation Sans", sans-serif' text-anchor="end" textLength="10.2" lengthAdjust="spacingAndGlyphs" stroke="#4a4a4a" stroke-width="0.22">2.40</text>
<text x="210" y="645.3" font-size="5.6" fill="#4a4a4a" font-family='"Liberation Sans", sans-serif' text-anchor="middle" textLength="2.7" lengthAdjust="spacingAndGlyphs" stroke="#4a4a4a" stroke-width="0.26">0</text>
<text x="227.14" y="645.3" font-size="5.6" fill="#4a4a4a" font-family='"Liberation Sans", sans-serif' text-anchor="middle" textLength="2.7" lengthAdjust="spacingAndGlyphs" stroke="#4a4a4a" stroke-width="0.26">5</text>
<text x="244.28" y="645.3" font-size="5.6" fill="#4a4a4a" font-family='"Liberation Sans", sans-serif' text-anchor="middle" textLength="5.3" lengthAdjust="spacingAndGlyphs" stroke="#4a4a4a" stroke-width="0.26">10</text>
<text x="261.42" y="645.3" font-size="5.6" fill="#4a4a4a" font-family='"Liberation Sans", sans-serif' text-anchor="middle" textLength="5.3" lengthAdjust="spacingAndGlyphs" stroke="#4a4a4a" stroke-width="0.26">15</text>
<text x="278.56" y="645.3" font-size="5.6" fill="#4a4a4a" font-family='"Liberation Sans", sans-serif' text-anchor="middle" textLength="5.3" lengthAdjust="spacingAndGlyphs" stroke="#4a4a4a" stroke-width="0.26">20</text>
<text x="295.7" y="645.3" font-size="5.6" fill="#4a4a4a" font-family='"Liberation Sans", sans-serif' text-anchor="middle" textLength="5.3" lengthAdjust="spacingAndGlyphs" stroke="#4a4a4a" stroke-width="0.26">25</text>
<text x="312.84" y="645.3" font-size="5.6" fill="#4a4a4a" font-family='"Liberation Sans", sans-serif' text-anchor="middle" textLength="5.3" lengthAdjust="spacingAndGlyphs" stroke="#4a4a4a" stroke-width="0.26">30</text>
<text x="329.98" y="645.3" font-size="5.6" fill="#4a4a4a" font-family='"Liberation Sans", sans-serif' text-anchor="middle" textLength="5.3" lengthAdjust="spacingAndGlyphs" stroke="#4a4a4a" stroke-width="0.26">35</text>
<text x="263.65" y="578.5" font-size="6.5" fill="#303030" font-family='"Liberation Sans", sans-serif' text-anchor="middle" textLength="36.1" lengthAdjust="spacingAndGlyphs" stroke="#303030" stroke-width="0.15">Theta (3-7Hz)</text>
<clipPath id="cCn1"><rect x="207" y="548.4" width="125.98" height="88"/></clipPath>
<g clip-path="url(#cCn1)">
<path d="M210 596.1v20.2m.7 -18.5v20m.3 -18.9v19.4m.4 -20v18.2m.3 -18.3v15.9m.4 -12.4v6.6m.6 -14v6.9m.4 -11.5v8.8m.3 -2.5v5m.7 -1.3v15.4m.7 -13v17.1m.3 -12.5v11m.4 -9.3v8.6m.7 -13.4v20.2m.7 -14.3v10.3m.6 -13.2v15.1m.7 -14.7v13.4m.4 -10.4v6.9m.3 -12.2v18.4m.7 -15.4v14.4m.7 -13.1v13.7m.7 -11.5v8.3m.7 -10.9v12.6m.3 -13.8v14.5m.3 -9.4v4.7m.7 -6.1v8.6m.7 -6v4.3m.7 -8.8v11.4m.7 -13.5v13.6m.3 -9.9v5.3m.4 -10.5v14.7m.7 -13v9.4m.6 -10v8.6m.7 -10.6v15.5m.7 -8.4v4.2m.4 -2.5v2.3m.3 -1.9v4.8m.7 -2.5v7m.7 -2.6v5m.7 -1.8v3.4m.6 -1.1v3.7m.4 -4.7v8.1m.3 -6.4v5.7m.7 -2.8v1.8m.7 -2.9v5.9m.3 -6.8v7.8m.4 -5.1v2.3m.7 -3.1v3.9m.3 -2.9v1.9m.4 -3v1.7m.6 -5.7v4.9m.7 -8.1v6.4m.4 -4.7v4.5m.3 -4.2v5.4m.7 -4.6v6.6m.3 -3.9v2.7m.4 -3.8v6.8m.7 -5.2v7.5m.7 -3.4v3.2m.3 -4.7v5.5m.3 -4.5v4.5m.7 -3.3v2.8m.7 -4.6v5.1m.7 -3.9v3.9m.7 -1.6v.8m.7 -1.3v1.9m.6 -2v2.2m.7 -1.8v1.5m.7 -1.4v1.4m.7 -1.2v1.1m1.4 -1.6v2m1.3 -1.7v1.7m.7 -1.2v.9m.7 -1.7v2m.7 -1.1v.8m.7 -1v1.1m1.4 -1.2v1.3m.6 -1.3v1.4m.7 -1.9v1.9m1.4 -1.9v1.9m.7 -1.3v1.2m.7 -1.7v1.8m.7 -1.4v1.3m.6 -1.7v1.8m.7 -1.4v1.3m.7 -1.8v1.9m1.4 -1.5v1.5m.7 -1.9v1.9m.7 -1.5v1.5m.6 -1.3v1.2m.7 -1.8v1.9m.7 -1.3v1.2m.7 -1.1v1m.7 -1.1v1.1m.7 -1.7v1.9m.7 -1.2v1m.6 -1.7v1.9m.7 -1.9v1.9m.7 -1.6v1.6m.7 -1.6v1.6m.7 -1.3v1.1m.7 -1.4v1.6m.7 -1.8v1.8m.6 -1.3v1.2m.7 -1.3v1.3m2.1 -1.9v2m.7 -1.4v1.3m2 -1.3v1.3m.7 -1.7v1.8m1.4 -1.9v1.9m.7 -1.3v1.1m.7 -1.8v2m.6 -1.3v1m.7 -1.2v1.4m.7 -1.3v1.2m1.4 -1.1v.9m.7 -1.2v1.5m.7 -1.4v1.2m2 -1.4v1.7m.7 -2v2m.7 -1.9v1.9m.7 -2.2v2.2m.7 -2.1v2.1m.6 -2.1v2.1m.7 -1.7v1.5m.7 -1.7v1.9m1.4 -1.8v1.6m.7 -1.9v2.1m.7 -1.5v1m.6 -1.6v2.1m.7 -2v2m2.1 -1.7v1.3m.7 -1.1v.9m.7 -.9v.9m.6 -1.3v1.7m.7 -1.9v2.1m.7 -2.3v2.3m.7 -2.3v2.3m.7 -2v1.8m.7 -2.1v2.3m.7 -1.7v1.1m.6 -1.7v2.3m1.4 -2.4v2.4m1.4 -2.5v2.5m.7 -2.3v2.2m.7 -2.3v2.4m.6 -2.5v2.5m.7 -2.2v2m.7 -2.1v2.2m.7 -1.9v1.6m.7 -1.9v2.2m.7 -2.1v2m1.3 -2.3v2.5m.7 -2.3v2.1m.7 -2v2m.7 -2.1v2.2m.7 -1.5v.8m.7 -1v1.2m.6 -1.2v1.2m1.4 -1.2v1.2m1.4 -1.6v2m1.4 -1.4v.8m.6 -1.5v2.1m.7 -2.2v2.4m.7 -1.9v1.4m.7 -1.7v2m.7 -1.4v.8m.7 -1v1.2m-120 -23.8v7.7m.7 -7.6v6.5m.3 -8.2v9.4m.4 -8.1v6.4m.3 -7.4v7.9m.4 -5.7v3.9m.6 -5.4v7.9m.4 -5.5v3.6m.3 -4.2v5.3m.7 -5.8v4.3m.7 -5.7v5.2m.3 -4.2v2.3m.4 -6.5v9.2m.7 -7v1.9m.7 -6.1v7.4m.6 -5.3v4.2m.7 -3.2v3.2m.4 -4v5.3m.3 -4.4v3.9m.7 -5.2v7.5m.7 -5v3.5m.7 -3.3v6m.7 -4.4v5.7m.3 -5.2v6.1m.3 -7.1v7.6m.7 -8.1v7.7m.7 -7v5.3m.7 -6.4v7.5m.7 -8.1v8.7m.3 -9.3v9.9m.4 -7.4v4m.7 -6.6v7.2m.6 -9v8.9m.7 -6.5v4.1m.7 -4.9v5.7m.4 -8.7v11.7m.3 -5.9v3.4m.7 -3.9v11.2m.7 -5.6v6.8m.7 -6.9v8.9m.6 -8.7v10.4m.4 -8.6v7.9m.3 -9v8m.7 -10.8v9.6m.7 -12.3v10.9m.3 -10.9v8.9m.4 -11.6v9m.7 -11v2.4m.3 -5.9v4.1m.4 -10.5v11.6m.6 -.6v4.1m.7 1.8v6.7m.4 -5.3v11.2m.3 -10.5v12.3m.7 -5v2.4m.3 -5.1v10.3m.4 -5.5v3.1m.7 -6.7v11.3m.7 -11.1v11.8m.3 -8.5v5.7m.3 -6.6v7.5m.7 -5.1v2.7m.7 -4v5.3m.7 -5.2v5.1m64.4 2.2v.8m4.8 -.9v.8m4.1 -.8v.8m1.4 -.8v.8m1.4 -.8v.8m8.2 -.8v.8" stroke="#cccccc" stroke-width="0.55" fill="none" marker-start="url(#cap)" marker-mid="url(#cap)" marker-end="url(#cap)"/>
<path d="M210 607.2l.7 3.4 .3-2.4 .4 .5 .3-2.7 .4-1 .6-7.8 .4-3.8 .3 2.7 .7 11 .7 3.6 .3 1.6 .4-1.6 .7 1.8 .7 1.9 .6-3 .7 .1 .4 2.1 .3 1.3 .7 .8 .7 0 .7 1.4 .7-3.4 .3 1.1 .3 .1 .7 .1 .7 .5 .7-.9 .7 .1 .3-1.4 .4-3.3 .7 1.9 .6-.9 .7 2.6 .7-.1 .4 .7 .3 3.5 .7 3.6 .7 2 .7 3.7 .6 1.5 .4 .4 .3-.3 .7 2 .7 1 .3-.1 .4-.5 .7 .6 .3 .1 .4-2.4 .6-1.8 .7-2.3 .4-.1 .3 1.5 .7 .7 .3 2 .4 1.5 .7 1 .7 2.1 .3 .3 .3 .2 .7-.2 .7 .6 .7 .1 .7 .2 .7 .2 .6 .1 .7-.1 .7 .1 .7 .2 .7 0 .7 0 .7-.1 .6 .1 .7 .1 .7 0 .7 .1 .7-.1 .7-.1 .7 .1 .6-.1 .7 0 .7 .1 .7 0 .7 0 .7-.1 .7 0 .6 .1 .7 0 .7 0 .7-.1 .7 .2 .7-.2 .7 .2 .6-.2 .7 0 .7 0 .7 .1 .7-.1 .7 .1 .7-.1 .6 0 .7 0 .7 .1 .7 .1 .7-.1 .7 0 .7 0 .6-.1 .7 0 .7 .1 .7 .1 .7-.2 .7 .2 .7-.2 .6 0 .7 .1 .7 0 .7-.1 .7 .1 .7-.1 .7 0 .6 0 .7-.1 .7 .1 .7 .1 .7-.1 .7 0 .7-.1 .6 .1 .7-.2 .7 0 .7 .1 .7 0 .7-.1 .7 .1 .6-.1 .7 0 .7 .1 .7-.1 .7 .1 .7-.1 .7-.1 .6 .1 .7-.1 .7 .2 .7-.2 .7 .2 .7-.2 .7-.1 .6 .2 .7-.2 .7 .2 .7-.1 .7 .1 .7-.1 .7-.1 .6 .1 .7-.1 .7 .2 .7 0 .7-.1 .7 0 .7-.2 .6 0 .7 0 .7 .2 .7-.2 .7 .3 .7-.1 .6 0 .7-.3 .7 .3 .7-.1 .7 .1 .7 0 .7 0 .6 .1 .7-.1 .7-.1 .7 .2 .7 0 .7-.2 .7 .1 .6 0 .7-.1 .7-.1 .7 .3 .7-.2 .7 0" stroke="#6e6e6e" stroke-width="1.05" fill="none" stroke-linejoin="round"/>
<path d="M210 615.7l.7-2.4 .3 4 .4-1.8 .3-1.3 .4-1.6 .6 .8 .4 3.1 .3 .2 .7-1.8 .7-3 .3 1.4 .4 2.3 .7-4.4 .7-.6 .6-1.1 .7 2 .4 .5 .3 1.4 .7 .2 .7-1.3 .7-.5 .7 1.8 .3 1.9 .3-.4 .7 .2 .7-.4 .7-1.2 .7 .8 .3-.1 .4-.7 .7 1.6 .6-3.8 .7-.4 .7-.1 .4 2 .3 .6 .7 1.4 .7 5.5 .7 3 .6-2.2 .4 1.6 .3-1.9 .7-.9 .7-3.6 .3 .2 .4-.5 .7-5.2 .3-2.3 .4-5.1 .6 7.9 .7 8.3 .4 2.6 .3 .5 .7 2.2 .3 .8 .4 2.3 .7-.6 .7 1.2 .3 .5 .3-.5 .7 0 .7 .4 .7 .2 .7-.6 .7 .3 .6 .9 .7 0 .7 .1 .7 .3 .7 0 .7 .8 .7 .2 .6 .2 .7 .5 .7 .4 .7 .3 .7 .6 .7 .1 .7 .7 .6-.1 .7 .1 .7 0 .7-.2 .7 .4 .7-.3 .7 .4 .6-.1 .7 .1 .7-.1 .7 .2 .7-.2 .7 .2 .7 0 .6-.1 .7-.2 .7 .1 .7 0 .7 0 .7 .2 .7-.1 .6 .1 .7-.3 .7 0 .7 0 .7 .4 .7-.5 .7 .5 .6 0 .7-.4 .7 .2 .7 .1 .7-.3 .7-.1 .7 .1 .6 .3 .7-.1 .7 .2 .7-.5 .7 .3 .7-.1 .7-.2 .6 .5 .7-.4 .7 .4 .7-.2 .7 .2 .7-.2 .7 0 .6 .1 .7-.1 .7 .1 .7-.1 .7-.2 .7 0 .7 0 .6 .2 .7-.1 .7 0 .7 .2 .7 0 .7-.3 .7 .1 .6 .1 .7-.4 .7 .4 .7 0 .7 0 .7 .2 .7-.6 .6 0 .7 .1 .7 .2 .7 .1 .7-.3 .7-.1 .7 .2 .6 .2 .7-.4 .7 .3 .7-.2 .7 .2 .7-.3 .7 .2 .6 .1 .7-.2 .7 .1 .7-.3 .7 .4 .7-.2 .6 .1 .7-.2 .7 .3 .7-.3 .7-.1 .7 .5 .7-.4 .6 .2 .7 0 .7 .1 .7 .1 .7-.3 .7 0 .7-.1 .6 .3 .7-.1 .7 .1 .7-.4 .7 .5 .7-.2" stroke="#cc1c1c" stroke-width="1.12" fill="none" stroke-linejoin="round"/>
</g>
<path d="M210 636.4H329.98" stroke="#919191" stroke-width="1.1" fill="none"/>
<path d="M210 657.1V715.3M207.8 715.3H210M207.8 700.75H210M207.8 686.2H210M207.8 671.65H210M207.8 657.1H210" stroke="#c4c4c4" stroke-width="0.9" fill="none"/>
<path d="M210 715.3V717.3M227.14 715.3V717.3M244.27 715.3V717.3M261.41 715.3V717.3M278.54 715.3V717.3M295.68 715.3V717.3M312.81 715.3V717.3M329.95 715.3V717.3" stroke="#606060" stroke-width="0.8" fill="none"/>
<text x="204.9" y="717.3" font-size="5.6" fill="#4a4a4a" font-family='"Liberation Sans", sans-serif' text-anchor="end" textLength="10.2" lengthAdjust="spacingAndGlyphs" stroke="#4a4a4a" stroke-width="0.22">0.00</text>
<text x="204.9" y="702.75" font-size="5.6" fill="#4a4a4a" font-family='"Liberation Sans", sans-serif' text-anchor="end" textLength="10.2" lengthAdjust="spacingAndGlyphs" stroke="#4a4a4a" stroke-width="0.22">0.60</text>
<text x="204.9" y="688.2" font-size="5.6" fill="#4a4a4a" font-family='"Liberation Sans", sans-serif' text-anchor="end" textLength="10.2" lengthAdjust="spacingAndGlyphs" stroke="#4a4a4a" stroke-width="0.22">1.20</text>
<text x="204.9" y="673.65" font-size="5.6" fill="#4a4a4a" font-family='"Liberation Sans", sans-serif' text-anchor="end" textLength="10.2" lengthAdjust="spacingAndGlyphs" stroke="#4a4a4a" stroke-width="0.22">1.80</text>
<text x="204.9" y="659.1" font-size="5.6" fill="#4a4a4a" font-family='"Liberation Sans", sans-serif' text-anchor="end" textLength="10.2" lengthAdjust="spacingAndGlyphs" stroke="#4a4a4a" stroke-width="0.22">2.40</text>
<text x="210" y="724.2" font-size="5.6" fill="#4a4a4a" font-family='"Liberation Sans", sans-serif' text-anchor="middle" textLength="2.7" lengthAdjust="spacingAndGlyphs" stroke="#4a4a4a" stroke-width="0.26">0</text>
<text x="227.14" y="724.2" font-size="5.6" fill="#4a4a4a" font-family='"Liberation Sans", sans-serif' text-anchor="middle" textLength="2.7" lengthAdjust="spacingAndGlyphs" stroke="#4a4a4a" stroke-width="0.26">5</text>
<text x="244.27" y="724.2" font-size="5.6" fill="#4a4a4a" font-family='"Liberation Sans", sans-serif' text-anchor="middle" textLength="5.3" lengthAdjust="spacingAndGlyphs" stroke="#4a4a4a" stroke-width="0.26">10</text>
<text x="261.41" y="724.2" font-size="5.6" fill="#4a4a4a" font-family='"Liberation Sans", sans-serif' text-anchor="middle" textLength="5.3" lengthAdjust="spacingAndGlyphs" stroke="#4a4a4a" stroke-width="0.26">15</text>
<text x="278.54" y="724.2" font-size="5.6" fill="#4a4a4a" font-family='"Liberation Sans", sans-serif' text-anchor="middle" textLength="5.3" lengthAdjust="spacingAndGlyphs" stroke="#4a4a4a" stroke-width="0.26">20</text>
<text x="295.68" y="724.2" font-size="5.6" fill="#4a4a4a" font-family='"Liberation Sans", sans-serif' text-anchor="middle" textLength="5.3" lengthAdjust="spacingAndGlyphs" stroke="#4a4a4a" stroke-width="0.26">25</text>
<text x="312.81" y="724.2" font-size="5.6" fill="#4a4a4a" font-family='"Liberation Sans", sans-serif' text-anchor="middle" textLength="5.3" lengthAdjust="spacingAndGlyphs" stroke="#4a4a4a" stroke-width="0.26">30</text>
<text x="329.95" y="724.2" font-size="5.6" fill="#4a4a4a" font-family='"Liberation Sans", sans-serif' text-anchor="middle" textLength="5.3" lengthAdjust="spacingAndGlyphs" stroke="#4a4a4a" stroke-width="0.26">35</text>
<text x="264.45" y="659.5" font-size="6.5" fill="#303030" font-family='"Liberation Sans", sans-serif' text-anchor="middle" textLength="40.1" lengthAdjust="spacingAndGlyphs" stroke="#303030" stroke-width="0.15">Alpha (7-12Hz)</text>
<clipPath id="cCn2"><rect x="207" y="627.1" width="125.95" height="88.2"/></clipPath>
<g clip-path="url(#cCn2)">
<path d="M210 678.3v11m.7 -6.6v5.3m.3 -4.7v5.8m.4 -13.3v18.4m.3 -15.3v9.8m.4 -12.2v12.2m.6 -15.6v7.6m.4 -16.7v20.2m.3 -14.9v19.2m.7 -5.9v12.1m.7 -7.3v5.7m.3 -5v5.9m.4 -10.8v16.7m.7 -15.5v16.2m.7 -15.6v16.9m.6 -12.5v9.2m.7 -7.9v7.5m.4 -8.3v9.5m.3 -14.7v19.5m.7 -15.4v10.3m.7 -13.6v16m.7 -15.8v17.5m.7 -10.5v5.4m.3 -7.1v9.8m.3 -14.2v18.1m.7 -13.1v7.2m.7 -10v11.8m.7 -14.6v16.4m.7 -11.9v6.4m.3 -11v15.2m.4 -11.5v7.3m.7 -8.9v9.5m.6 -10.3v10.2m.7 -12.8v18.2m.7 -17.4v19.6m.3 -12.7v7.2m.4 -4v4.6m.7 -.5v4.2m.7 -2.1v7.8m.6 -3.9v3.9m.7 -2.2v4.4m.4 -5.2v7.9m.3 -4.4v1.4m.7 -2.7v5m.7 -5.8v7.4m.7 -6v4.8m.7 -5.4v6m.3 -6.3v6.5m.3 -8.1v7.3m.7 -8.5v4.9m.7 -5.7v1.6m.7 -.8v3.8m.7 -2.8v5.8m.3 -3.2v2.5m.4 -3.8v6.3m.7 -5.8v6.9m.6 -5.7v5.7m.7 -2.9v2.2m.7 -4.5v5.2m.7 -4.3v4.3m.7 -4.4v4.4m.7 -1.9v1.4m.7 -1.5v1.6m1.3 -1.8v2.1m.7 -1.9v1.8m.7 -1.4v1m.7 -1.5v2.1m1.4 -1.9v1.7m.6 -1.9v2.1m1.4 -1.9v1.9m.7 -1.4v.9m.7 -1.4v1.8m.7 -2v2.1m.7 -1.5v1.1m.6 -1.5v1.9m.7 -1.9v1.9m.7 -2.1v2.1m.7 -2.2v2.2m1.4 -1.9v1.8m1.3 -1.5v1.3m.7 -1.7v2m.7 -2.2v2.2m.7 -1.9v1.9m.7 -2.3v2.3m1.3 -1.4v.8m1.4 -1.3v1.7m.7 -2.1v2.3m2.1 -1.8v1.5m.6 -2v2.3m.7 -2.2v2.2m.7 -1.9v1.6m.7 -1.4v1.1m.7 -.9v.8m.7 -1.1v1.4m.7 -1.7v1.9m.6 -1.4v.9m.7 -1.7v2.4m.7 -2.4v2.4m.7 -2.2v2m.7 -2.2v2.4m.7 -2.3v2.2m1.3 -1.7v1.2m.7 -1.5v1.6m.7 -1.5v1.4m.7 -1.7v1.9m.7 -1.5v1m1.4 -1.5v1.8m.6 -1.5v1.1m.7 -1v.8m.7 -1v1.1m.7 -1.4v1.6m.7 -1.7v1.7m.7 -1.7v1.6m.7 -1.8v1.9m.6 -1.7v1.4m.7 -1.6v1.7m1.4 -1.9v2.4m1.4 -2.1v1.9m.7 -1.5v1.2m1.3 -1.5v2m.7 -2v2.1m.7 -1.9v1.8m.7 -1.6v1.5m.7 -1.6v1.7m.6 -1.3v.8m.7 -.8v.9m.7 -1v1.1m1.4 -1.5v1.9m.7 -1.4v.9m.7 -1.4v1.8m1.3 -1.3v.9m.7 -1.4v1.9m.7 -1.6v1.2m1.4 -1.7v2.3m.7 -2.4v2.5m.6 -1.9v1.3m.7 -2v2.7m.7 -2.6v2.5m1.4 -2.3v2.1m1.4 -1.8v1.5m.6 -1.2v.9m.7 -1.2v1.5m.7 -1.4v1.3m.7 -1.8v2.3m.7 -1.6v.9m.7 -1.3v1.7m1.3 -2.1v2.5m.7 -1.9v1.3m.7 -1.3v1.3m.7 -1.2v1.1m.7 -1.8v2.5m.7 -2.2v1.9m.7 -2.2v2.4m.6 -2.2v2.1m1.4 -2.1v2.1m.7 -1.5v.9m.7 -1.1v1.3m.7 -1.1v.9m.7 -1.3v1.7m.6 -1.3v.9m.7 -1v1.1m.7 -1.8v2.5m.7 -2v1.5m.7 -1.6v1.7m.7 -2.1v2.5m.6 -1.9v1.3m-119.9 -25.1v5.7m.7 -6.9v9.1m.3 -8.3v8m.4 -8.1v8.6m.3 -7v6m.4 -4.2v2.8m.6 -3v4.2m.4 -4.5v5.2m.3 -3.3v2m.7 -3.6v3.2m.7 -5.8v6.5m.3 -8v8.6m.4 -6.4v5.1m.7 -4.8v6.4m.7 -5.8v7.2m.6 -6.1v6.9m.7 -6.5v8.1m.4 -4.7v2.2m.3 -6.5v8.4m.7 -9.6v5.9m.7 -8.2v5.7m.7 -5.2v8.5m.7 -4.3v4.1m.3 -4.1v6m.3 -6.2v5.9m.7 -5.1v3.3m.7 -4.9v5.6m.7 -7.6v6.7m.7 -8.1v6.6m.3 -5.1v2.1m.4 -3.7v3.4m.7 -6.6v5.9m.6 -8.2v6.6m.7 -5.6v4.6m.7 -4.2v3.8m.3 -3.2v2.6m.4 -1.6v6.4m.7 -2.9v11.1m.7 -.9v2.3m.6 -6.3v11.3m.7 -6.5v2.6m.4 -5v8m.3 -8.2v6.8m.7 -7v4.4m.7 -5.7v4m.7 -6.9v4m.7 -9.2v8.6m.3 -10.2v8.9m.3 -7.2v10.4m.7 -3.1v5.4m.7 .1v4.1m.7 -4.3v7.4m.7 -8.1v11.7m.3 -10.5v10.8m.4 -11v11.3m.7 -10.1v8.8m.6 -10.1v11.5m.7 -8.2v5.3m.7 -8.5v12.2m.7 -9.8v7.8m.7 -9.1v11m12.3 -.9v.8" stroke="#cccccc" stroke-width="0.55" fill="none" marker-start="url(#cap)" marker-mid="url(#cap)" marker-end="url(#cap)"/>
<path d="M210 683.6l.7-.1 .3 2.8 .4-1.1 .3-2.1 .4-.5 .6-1.6 .4-8.1 .3 3 .7 13.5 .7-1 .3 2.9 .4 2.8 .7-2.2 .7 .9 .6 3.3 .7-3.5 .4 2.5 .3-1.5 .7-1.6 .7 1.5 .7 .3 .7-.2 .3 2.6 .3-.2 .7 1.1 .7-2.7 .7-1.7 .7 .1 .3 1 .4 .5 .7 .3 .6-2.4 .7 4.4 .7 1.2 .3-1.7 .4 .7 .7 5.6 .7 3.1 .6 2.4 .7 2.3 .4 .3 .3 .7 .7 0 .7 .3 .7 .3 .7-.6 .3 .4 .3-1.1 .7-2.1 .7-2.8 .7 1.9 .7 2.1 .3 .8 .4 0 .7 2.6 .6 .3 .7 .2 .7 .2 .7 .2 .7 0 .7 .1 .7 .1 .6 .2 .7-.2 .7 0 .7 .2 .7 0 .7-.1 .7 0 .6 .2 .7 0 .7-.1 .7 0 .7 .1 .7-.2 .7 .2 .6-.1 .7 .2 .7-.2 .7 .1 .7 0 .7-.2 .7 .1 .6 0 .7-.1 .7 .1 .7 0 .7 .2 .7-.1 .6-.1 .7-.1 .7 .1 .7-.1 .7-.1 .7 .1 .7 .1 .6-.1 .7 .1 .7 0 .7 0 .7 0 .7-.2 .7 .1 .6 0 .7-.1 .7-.1 .7 .1 .7 .2 .7-.1 .7-.1 .6 .1 .7-.2 .7-.1 .7-.1 .7-.1 .7 .2 .7-.1 .6 0 .7 0 .7 0 .7-.4 .7 .2 .7-.3 .7 .3 .6-.3 .7-.1 .7 .4 .7 .1 .7-.3 .7 0 .7 .3 .6 0 .7 .1 .7-.2 .7 0 .7 .1 .7 .2 .6-.1 .7 0 .7 .1 .7 0 .7 0 .7-.1 .7 .2 .6 0 .7-.1 .7-.1 .7-.1 .7 0 .7-.1 .7 .4 .6-.3 .7 0 .7 .2 .7-.1 .7-.1 .7 0 .7 0 .6 .1 .7 0 .7 0 .7 0 .7-.1 .7 .3 .7-.3 .6 0 .7 .1 .7 0 .7 .1 .7-.1 .7-.1 .7 0 .6 .1 .7-.1 .7 .1 .7-.1 .7 .2 .7 .1 .7-.3 .6 0 .7 .2 .7 0 .7-.2 .7 0 .7 .1 .6-.1" stroke="#6e6e6e" stroke-width="1.05" fill="none" stroke-linejoin="round"/>
<path d="M210 691.8l.7 .6 .3-.9 .4 2.1 .3 .5 .4 .9 .6-.9 .4-1.3 .3 2.5 .7 .3 .7-.8 .3-2.2 .4 1.5 .7 1.2 .7-.6 .6 2 .7 .9 .4-.5 .3-1.8 .7-2.5 .7-1.9 .7 1.9 .7 3.5 .3-.1 .3 .9 .7-4.1 .7 1 .7-.2 .7-.3 .3-1.8 .4-3.1 .7 1.2 .6-3.3 .7-1.1 .7 2 .3-.4 .4 .5 .7 8.2 .7 4.6 .6 .5 .7 .7 .4 .3 .3 .2 .7-3.2 .7 0 .7-3.8 .7-3.1 .3-1.2 .3 4 .7 5.5 .7 3.1 .7 2.8 .7 .1 .3 .3 .4 1.2 .7-.3 .6-.4 .7 .1 .7 .2 .7 .1 .7 .3 .7 .7 .7-.1 .6 0 .7 .3 .7 .5 .7 0 .7 .3 .7 .4 .7 .5 .6 .3 .7 .4 .7 .5 .7-.1 .7 .7 .7 .2 .7 0 .6 .4 .7 0 .7 .5 .7-.1 .7 0 .7 .5 .7-.2 .6 .2 .7 .1 .7 .2 .7 .1 .7-.2 .7 .2 .6 0 .7-.3 .7 .2 .7 .1 .7 0 .7-.2 .7 .2 .6 0 .7-.1 .7 .1 .7-.2 .7 .1 .7 .1 .7 .1 .6 .1 .7-.3 .7 0 .7 .1 .7 .1 .7 0 .7 .1 .6-.2 .7 0 .7 0 .7 .2 .7 0 .7-.2 .7 0 .6 .1 .7 .2 .7-.1 .7-.3 .7 0 .7 0 .7 .3 .6 0 .7-.2 .7 .1 .7-.2 .7 .2 .7 .1 .7-.2 .6 .1 .7 0 .7-.1 .7 .2 .7-.1 .7-.2 .6 .3 .7 .1 .7-.1 .7-.1 .7 .1 .7 .1 .7-.4 .6 .1 .7 .1 .7 0 .7 .2 .7-.2 .7-.2 .7 .2 .6-.2 .7 .3 .7 0 .7 .1 .7-.3 .7 0 .7 .1 .6-.1 .7 .1 .7 0 .7-.1 .7 0 .7 .1 .7 .1 .6 0 .7-.2 .7 0 .7 .1 .7 .1 .7 .1 .7-.2 .6 0 .7-.1 .7 .2 .7 0 .7 0 .7 0 .7-.1 .6 0 .7-.1 .7 .2 .7-.2 .7 0 .7 .2 .6-.1" stroke="#74b84a" stroke-width="1.12" fill="none" stroke-linejoin="round"/>
</g>
<path d="M210 715.3H329.95" stroke="#919191" stroke-width="1.1" fill="none"/>
<path d="M210 740.4V798.4M207.8 798.4H210M207.8 783.9H210M207.8 769.4H210M207.8 754.9H210M207.8 740.4H210" stroke="#c4c4c4" stroke-width="0.9" fill="none"/>
<path d="M210 798.4V800.4M227.13 798.4V800.4M244.26 798.4V800.4M261.4 798.4V800.4M278.53 798.4V800.4M295.66 798.4V800.4M312.79 798.4V800.4M329.92 798.4V800.4" stroke="#606060" stroke-width="0.8" fill="none"/>
<text x="204.9" y="800.4" font-size="5.6" fill="#4a4a4a" font-family='"Liberation Sans", sans-serif' text-anchor="end" textLength="10.2" lengthAdjust="spacingAndGlyphs" stroke="#4a4a4a" stroke-width="0.22">0.00</text>
<text x="204.9" y="785.9" font-size="5.6" fill="#4a4a4a" font-family='"Liberation Sans", sans-serif' text-anchor="end" textLength="10.2" lengthAdjust="spacingAndGlyphs" stroke="#4a4a4a" stroke-width="0.22">0.60</text>
<text x="204.9" y="771.4" font-size="5.6" fill="#4a4a4a" font-family='"Liberation Sans", sans-serif' text-anchor="end" textLength="10.2" lengthAdjust="spacingAndGlyphs" stroke="#4a4a4a" stroke-width="0.22">1.20</text>
<text x="204.9" y="756.9" font-size="5.6" fill="#4a4a4a" font-family='"Liberation Sans", sans-serif' text-anchor="end" textLength="10.2" lengthAdjust="spacingAndGlyphs" stroke="#4a4a4a" stroke-width="0.22">1.80</text>
<text x="204.9" y="742.4" font-size="5.6" fill="#4a4a4a" font-family='"Liberation Sans", sans-serif' text-anchor="end" textLength="10.2" lengthAdjust="spacingAndGlyphs" stroke="#4a4a4a" stroke-width="0.22">2.40</text>
<text x="210" y="807.3" font-size="5.6" fill="#4a4a4a" font-family='"Liberation Sans", sans-serif' text-anchor="middle" textLength="2.7" lengthAdjust="spacingAndGlyphs" stroke="#4a4a4a" stroke-width="0.26">0</text>
<text x="227.13" y="807.3" font-size="5.6" fill="#4a4a4a" font-family='"Liberation Sans", sans-serif' text-anchor="middle" textLength="2.7" lengthAdjust="spacingAndGlyphs" stroke="#4a4a4a" stroke-width="0.26">5</text>
<text x="244.26" y="807.3" font-size="5.6" fill="#4a4a4a" font-family='"Liberation Sans", sans-serif' text-anchor="middle" textLength="5.3" lengthAdjust="spacingAndGlyphs" stroke="#4a4a4a" stroke-width="0.26">10</text>
<text x="261.4" y="807.3" font-size="5.6" fill="#4a4a4a" font-family='"Liberation Sans", sans-serif' text-anchor="middle" textLength="5.3" lengthAdjust="spacingAndGlyphs" stroke="#4a4a4a" stroke-width="0.26">15</text>
<text x="278.53" y="807.3" font-size="5.6" fill="#4a4a4a" font-family='"Liberation Sans", sans-serif' text-anchor="middle" textLength="5.3" lengthAdjust="spacingAndGlyphs" stroke="#4a4a4a" stroke-width="0.26">20</text>
<text x="295.66" y="807.3" font-size="5.6" fill="#4a4a4a" font-family='"Liberation Sans", sans-serif' text-anchor="middle" textLength="5.3" lengthAdjust="spacingAndGlyphs" stroke="#4a4a4a" stroke-width="0.26">25</text>
<text x="312.79" y="807.3" font-size="5.6" fill="#4a4a4a" font-family='"Liberation Sans", sans-serif' text-anchor="middle" textLength="5.3" lengthAdjust="spacingAndGlyphs" stroke="#4a4a4a" stroke-width="0.26">30</text>
<text x="329.92" y="807.3" font-size="5.6" fill="#4a4a4a" font-family='"Liberation Sans", sans-serif' text-anchor="middle" textLength="5.3" lengthAdjust="spacingAndGlyphs" stroke="#4a4a4a" stroke-width="0.26">35</text>
<text x="263.3" y="741.6" font-size="6.5" fill="#303030" font-family='"Liberation Sans", sans-serif' text-anchor="middle" textLength="40" lengthAdjust="spacingAndGlyphs" stroke="#303030" stroke-width="0.15">Beta (12-30Hz)</text>
<clipPath id="cCn3"><rect x="207" y="710.4" width="125.92" height="88"/></clipPath>
<g clip-path="url(#cCn3)">
<path d="M210 766.8v5.2m.7 -13.2v18m.3 -19.4v19.2m.4 -16.1v13.8m.7 -13.8v15.4m.6 -14.2v4.9m.4 -8v7.1m.3 -3.5v6.3m.7 -4.9v16.4m.7 -13.5v13.9m.3 -8.5v4.7m.4 -7.2v9.7m.7 -9.2v8.6m.7 -8.2v7.8m.6 -9.7v12.6m.4 -9.8v7.5m.3 -6.5v6m.4 -9.3v13.1m.3 -15.4v18.2m.7 -11.7v6.2m.7 -4.6v3.9m.7 -4v5.1m.6 -6.4v8.7m.4 -10.6v12.9m.3 -12.7v12.1m.7 -14v14.9m.7 -16.9v17.9m.7 -18.6v20.3m.7 -12.2v5m.3 -10.1v15.7m.4 -15.8v16.4m.6 -16.9v18.4m.7 -18.2v19m.7 -10.9v6.6m.4 -6.4v8.1m.3 -6.5v6.9m.3 -5.8v6.6m.4 -3.4v2.6m.7 .1v2.1m.7 -2.7v8.1m.6 -4.8v3.5m.7 -3v4.3m.4 -2.5v1.7m.3 -3.3v5.4m.7 -3.4v2.4m.7 -3.3v5.1m.3 -4v2.9m.4 -3.5v4.2m.7 -3.9v3.5m.3 -4.4v5.4m.3 -4.8v4.2m.4 -5.9v7.5m.3 -6.3v5.1m.7 -5v5m.4 -3.6v2.6m.3 -4.7v7.3m.7 -4.7v3.1m.3 -5.4v7.7m.4 -4.2v1.8m.7 -2.4v4.4m.6 -2.6v2.1m.4 -2.6v3.3m.3 -3.6v3.8m.7 -2.5v1.7m.7 -1.5v1.6m.7 -3v3.7m1.3 -1.9v1.4m.7 -1.2v1m2.1 -1.3v1.9m.7 -2v2m.7 -1.4v.9m.6 -1.5v2.1m2.1 -2.1v2.1m.7 -1.9v1.9m.7 -1.4v.9m.7 -1.6v2.1m.6 -1.5v1.1m.7 -1.7v2.1m.7 -2.1v2.1m.7 -1.9v1.9m.7 -1.8v1.6m.7 -1.4v1.2m.7 -1.5v1.9m.6 -2.1v2.1m.7 -2.2v2.2m1.4 -2v2m.7 -1.5v1m1.4 -1.5v2m1.3 -1.9v1.8m1.4 -1.4v.9m.7 -1.4v2m.7 -1.8v1.5m.6 -1.5v1.4m.7 -1.1v.9m.7 -1.6v2.2m.7 -2.2v2.2m.7 -2v1.8m.7 -2.1v2.3m.7 -1.5v.8m.6 -1.4v1.9m2.8 -1.7v1.4m.7 -1.9v2.4m.7 -2v1.7m.6 -1.6v1.5m.7 -1.4v1.1m.7 -1.8v2.5m.7 -2.5v2.4m.7 -2.2v1.9m1.4 -1.5v.9m.6 -1.1v1.2m.7 -1.1v.9m.7 -1.6v2.2m.7 -1.9v1.5m.7 -1.6v1.6m1.4 -1.4v1.1m.6 -1.4v1.5m.7 -1.7v1.9m1.4 -1.5v1m.7 -1.5v2.1m.7 -2.2v2.4m.6 -1.7v1.1m.7 -1v1m.7 -1.2v1.5m.7 -1.4v1.5m1.4 -1.5v1.6m.7 -1.4v1.3m.6 -1.7v2.1m.7 -1.6v1.1m.7 -1.8v2.6m.7 -2.3v2m.7 -1.5v1m.7 -1.5v2m.7 -2v2.1m.6 -2v1.9m.7 -2.2v2.4m.7 -1.7v1.1m.7 -1.2v1.3m.7 -1.1v.9m1.4 -1.3v1.8m1.3 -2v2.2m.7 -1.7v1.2m.7 -1.6v2m.7 -2.3v2.6m.7 -2v1.5m.7 -1.9v2.3m.6 -2.3v2.3m.7 -2.3v2.3m.7 -1.9v1.6m.7 -1.6v1.6m.7 -1.8v2m.7 -1.9v1.8m.6 -1.4v1m.7 -1.7v2.4m.7 -2.1v1.8m.7 -1.9v2m.7 -1.9v1.8m.7 -1.9v2m.7 -1.8v1.6m.6 -1.4v1.2m1.4 -1.2v1.2m.7 -1.4v1.6m.7 -2.1v2.5m1.4 -1.8v1.2m.6 -1.9v2.5m.7 -2.2v2m.7 -2.2v2.4m.7 -1.6v.8m.7 -1.1v1.3m.7 -1.4v1.5m.7 -1.9v2.4m.6 -2.1v1.8m.7 -1.7v1.6m-119.9 -22.5v9.6m.7 -8.4v5.6m.3 -7.7v8.9m.4 -7.4v6.7m.7 -5.5v5.9m.6 -9.2v7.7m.4 -8.2v6.3m.3 -6.5v4.3m.7 -4.7v7m.7 -5.9v6.7m.3 -5.2v4.7m.4 -5v3.8m.7 -5.4v4.1m.7 -5.6v4.2m.6 -7.6v6.2m.4 -7.2v5.8m.3 -5.2v6.2m.4 -5.9v7.2m.3 -3.7v1.8m.7 -3.1v8.1m.7 -6.5v8.5m.7 -7.2v3.9m.6 -6.9v8m.4 -8.1v7.2m.3 -7.5v8.8m.7 -8.3v9.8m.7 -8.5v9.1m.7 -8.2v4.4m.7 -7.8v8.3m.3 -5.9v2.1m.4 -6.8v9.5m.6 -9.4v5.4m.7 -8.9v8.6m.7 .6v3.1m.4 -3.2v9.7m.3 -7.7v8.1m.3 -5v4.3m.4 -2.6v3.4m.7 -6.3v11.6m.7 -9.1v9m.6 -8.2v9.3m.7 -8v8.7m.4 -6.6v5.4m.3 -4.2v2.7m.7 -7.5v11.5m.7 -12.1v11.8m.3 -11v9.8m.4 -10.8v6.2m.7 -13.8v10.1m.3 -5.9v2.5m.3 -1.9v2.2m.4 -3v4.5m.3 -3.7v6.5m.7 -5.4v11.6m.4 -6.7v5.4m.3 -3.9v3.4m.7 -6.3v11.1m.3 -7.4v4.7m.4 -7.6v11.5m.7 -9v7.4m.6 -7.4v8.4m.4 -7.9v7.9m.3 -6.8v6.2m.7 -5.4v5.7m.7 -7.9v11.1m.7 -8v6.1m4.8 -1.3v.8m1.3 .2v.8m1.4 .2v.8m7.6 1.6v.8m6.8 -.8v.8m.7 -.8v.8m.7 -.8v.8m9.6 -.8v.8m2.7 -.8v.8m2.8 -.8v.8m.6 -.8v.8m9.6 -.8v.8m.7 -.8v.8m6.2 -.8v.8m7.5 -.8v.8m.7 -.8v.8m1.4 -.8v.8" stroke="#cccccc" stroke-width="0.55" fill="none" marker-start="url(#cap)" marker-mid="url(#cap)" marker-end="url(#cap)"/>
<path d="M210 768.5l.7-1.4 .3-1.2 .4 5.1 .7-3.7 .6-4.8 .4-.4 .3 6.7 .7 2.5 .7 1.3 .3 1 .4 .6 .7 2 .7-1.8 .6-2.2 .4 5.5 .3-4.2 .4 2.6 .3 1.3 .7-1 .7 .1 .7 2.1 .6 .2 .4-.3 .3-.7 .7-1.4 .7-.2 .7-.1 .7 4 .3-2 .4-.1 .6 .5 .7 .5 .7 2 .4 1.7 .3 .4 .3 .4 .4 1.3 .7 2.1 .7 2.8 .6 .7 .7 1.7 .4 .3 .3 .5 .7 .4 .7 .6 .3-.3 .4 0 .7-.7 .3 .6 .3-.8 .4 .6 .3 .2 .7 .2 .4 0 .3 .1 .7 .6 .3 .4 .4 1 .7-.2 .6 .7 .4 .2 .3 .3 .7-.1 .7 .1 .7 .3 .7 .2 .6-.1 .7-.1 .7 .1 .7 0 .7 0 .7 .2 .7 0 .6 .1 .7 0 .7-.2 .7 .1 .7 0 .7-.1 .7 .1 .6 .1 .7 0 .7-.2 .7 0 .7 .2 .7-.2 .7 .1 .6 0 .7 .1 .7 .1 .7-.2 .7 0 .7-.1 .7 .1 .6 0 .7 .1 .7-.1 .7 .1 .7-.2 .7 0 .6-.1 .7 .2 .7 0 .7-.1 .7 0 .7 .1 .7-.2 .6-.1 .7 .2 .7 .1 .7-.3 .7 .1 .7 .1 .7-.1 .6 .1 .7 0 .7-.1 .7-.1 .7-.3 .7 .2 .7 0 .6 .1 .7-.1 .7-.3 .7 0 .7-.2 .7 .1 .7 .1 .6 0 .7-.3 .7 .3 .7-.1 .7 .1 .7-.1 .6-.2 .7 .1 .7 .3 .7 0 .7 .1 .7 0 .7 0 .6-.1 .7 .3 .7-.3 .7 0 .7 .2 .7 0 .7 .1 .6-.2 .7 .2 .7-.2 .7 .2 .7-.2 .7 .3 .7-.2 .6 0 .7 0 .7-.1 .7 .1 .7 .1 .7 0 .7 .1 .6 0 .7 .1 .7-.2 .7 .2 .7 0 .7-.1 .6 0 .7 0 .7 .1 .7-.2 .7 .2 .7-.1 .7 .1 .6-.2 .7 .2 .7-.2 .7 .3 .7-.1 .7 0 .7 0 .6 0 .7-.1 .7 .1 .7 .1 .7-.3 .7 0 .7 0 .6 .2 .7 0" stroke="#6e6e6e" stroke-width="1.05" fill="none" stroke-linejoin="round"/>
<path d="M210 780.5l.7 .9 .3-2.8 .4-.1 .7 2.5 .6-3.7 .4 .6 .3-2.5 .7 1.4 .7 .7 .3 .8 .4 .9 .7-3.5 .7-1.3 .6-3.6 .4-.8 .3 1.9 .4-1.4 .3 2.1 .7 3.5 .7 .4 .7-.7 .6 .8 .4-2.4 .3 1.5 .7-.4 .7 1.8 .7-3.8 .7-.5 .3 0 .4 .8 .6-1.2 .7-4.1 .7 6 .4 3 .3 1.6 .3 2.6 .4-.2 .7 1.2 .7 1.7 .6 .6 .7 2.5 .4-1 .3 .9 .7-.8 .7 0 .3-1.2 .4-1.9 .7-7.3 .3 1 .3-.9 .4 1.6 .3 .4 .7 4.7 .4 2.7 .3 1.1 .7-.5 .3 1.3 .4 .3 .7 1.8 .6-1.2 .4 .3 .3 .7 .7-.1 .7 .9 .7 .2 .7 1 .6-.1 .7 .7 .7 .3 .7 0 .7 .2 .7 .3 .7 .7 .6 .5 .7 .7 .7 .2 .7 .4 .7 .3 .7 .3 .7 .2 .6 .3 .7 .4 .7-.2 .7 .6 .7 0 .7 0 .7 .2 .6-.1 .7 0 .7 .1 .7 0 .7-.1 .7 .1 .7 0 .6-.3 .7 .3 .7-.1 .7 .1 .7 0 .7-.1 .6-.2 .7 .2 .7 .2 .7-.4 .7 .1 .7 0 .7 .1 .6-.1 .7-.1 .7 .3 .7 0 .7 0 .7-.3 .7 .4 .6-.2 .7-.1 .7 0 .7 0 .7 .1 .7 .1 .7-.2 .6 .1 .7 0 .7 .1 .7-.2 .7 .2 .7-.3 .7 .2 .6-.2 .7 .4 .7-.2 .7-.1 .7 .2 .7-.1 .6 .1 .7 .1 .7-.1 .7-.1 .7 0 .7-.1 .7 .1 .6 0 .7 0 .7-.2 .7 .2 .7-.1 .7-.1 .7 .1 .6 0 .7 0 .7 0 .7 .1 .7 0 .7-.1 .7-.1 .6 .3 .7-.1 .7 0 .7-.1 .7 0 .7 .2 .7-.1 .6 0 .7 0 .7 0 .7 .1 .7 0 .7 0 .6 0 .7 0 .7-.1 .7-.1 .7 .1 .7-.2 .7 .3 .6-.3 .7 .2 .7-.1 .7 .2 .7-.3 .7 0 .7-.1 .6 .3 .7 0 .7-.1 .7-.1 .7 0 .7 .1 .7-.1 .6 .2 .7-.1" stroke="#4a7bd0" stroke-width="1.12" fill="none" stroke-linejoin="round"/>
</g>
<path d="M210 798.4H329.92" stroke="#919191" stroke-width="1.1" fill="none"/>
<path d="M210 822.5V881.3M207.8 881.3H210M207.8 861.7H210M207.8 842.1H210M207.8 822.5H210" stroke="#c4c4c4" stroke-width="0.9" fill="none"/>
<path d="M210 881.3V883.3M227.13 881.3V883.3M244.26 881.3V883.3M261.39 881.3V883.3M278.51 881.3V883.3M295.64 881.3V883.3M312.77 881.3V883.3M329.9 881.3V883.3" stroke="#606060" stroke-width="0.8" fill="none"/>
<text x="204.9" y="883.3" font-size="5.6" fill="#4a4a4a" font-family='"Liberation Sans", sans-serif' text-anchor="end" textLength="10.2" lengthAdjust="spacingAndGlyphs" stroke="#4a4a4a" stroke-width="0.22">0.00</text>
<text x="204.9" y="863.7" font-size="5.6" fill="#4a4a4a" font-family='"Liberation Sans", sans-serif' text-anchor="end" textLength="10.2" lengthAdjust="spacingAndGlyphs" stroke="#4a4a4a" stroke-width="0.22">1.00</text>
<text x="204.9" y="844.1" font-size="5.6" fill="#4a4a4a" font-family='"Liberation Sans", sans-serif' text-anchor="end" textLength="10.2" lengthAdjust="spacingAndGlyphs" stroke="#4a4a4a" stroke-width="0.22">2.00</text>
<text x="204.9" y="824.5" font-size="5.6" fill="#4a4a4a" font-family='"Liberation Sans", sans-serif' text-anchor="end" textLength="10.2" lengthAdjust="spacingAndGlyphs" stroke="#4a4a4a" stroke-width="0.22">3.00</text>
<text x="210" y="890.2" font-size="5.6" fill="#4a4a4a" font-family='"Liberation Sans", sans-serif' text-anchor="middle" textLength="2.7" lengthAdjust="spacingAndGlyphs" stroke="#4a4a4a" stroke-width="0.26">0</text>
<text x="227.13" y="890.2" font-size="5.6" fill="#4a4a4a" font-family='"Liberation Sans", sans-serif' text-anchor="middle" textLength="2.7" lengthAdjust="spacingAndGlyphs" stroke="#4a4a4a" stroke-width="0.26">5</text>
<text x="244.26" y="890.2" font-size="5.6" fill="#4a4a4a" font-family='"Liberation Sans", sans-serif' text-anchor="middle" textLength="5.3" lengthAdjust="spacingAndGlyphs" stroke="#4a4a4a" stroke-width="0.26">10</text>
<text x="261.39" y="890.2" font-size="5.6" fill="#4a4a4a" font-family='"Liberation Sans", sans-serif' text-anchor="middle" textLength="5.3" lengthAdjust="spacingAndGlyphs" stroke="#4a4a4a" stroke-width="0.26">15</text>
<text x="278.51" y="890.2" font-size="5.6" fill="#4a4a4a" font-family='"Liberation Sans", sans-serif' text-anchor="middle" textLength="5.3" lengthAdjust="spacingAndGlyphs" stroke="#4a4a4a" stroke-width="0.26">20</text>
<text x="295.64" y="890.2" font-size="5.6" fill="#4a4a4a" font-family='"Liberation Sans", sans-serif' text-anchor="middle" textLength="5.3" lengthAdjust="spacingAndGlyphs" stroke="#4a4a4a" stroke-width="0.26">25</text>
<text x="312.77" y="890.2" font-size="5.6" fill="#4a4a4a" font-family='"Liberation Sans", sans-serif' text-anchor="middle" textLength="5.3" lengthAdjust="spacingAndGlyphs" stroke="#4a4a4a" stroke-width="0.26">30</text>
<text x="329.9" y="890.2" font-size="5.6" fill="#4a4a4a" font-family='"Liberation Sans", sans-serif' text-anchor="middle" textLength="5.3" lengthAdjust="spacingAndGlyphs" stroke="#4a4a4a" stroke-width="0.26">35</text>
<text x="263.2" y="823.3" font-size="6.5" fill="#303030" font-family='"Liberation Sans", sans-serif' text-anchor="middle" textLength="52.4" lengthAdjust="spacingAndGlyphs" stroke="#303030" stroke-width="0.15">Gamma (30-100Hz)</text>
<clipPath id="cCn4"><rect x="207" y="792.5" width="125.9" height="88.8"/></clipPath>
<g clip-path="url(#cCn4)">
<path d="M210 860.4v2.6m.7 -2.9v4m.3 -6.5v9.4m.4 -5.6v2.2m.3 -3.1v4.3m.4 -4.3v4m.6 -6.9v9m.7 -9v8.2m.7 -5.1v2.8m.7 -4.8v7.6m.3 -7.8v8.4m.4 -6.8v5.6m.7 -3.7v2.5m.7 -5.1v8.5m.6 -6.3v3.8m.7 -4.1v3.9m.4 -5v5.9m.3 -4.2v2.3m.7 -3.4v4.2m.7 -4.1v3.6m.7 -2.9v2.2m.6 -2.5v2.7m.4 -6v9.4m.3 -7.4v5.4m.7 -6.6v7.7m.7 -7.7v7.8m.7 -6v3.4m.7 -3.5v2.8m.3 -4.1v5m.4 -5.8v5.8m.6 -5.6v3.9m.7 -4.3v3.1m.7 -11.2v8.3m.4 -9.8v5.8m.3 -8.6v5.9m.3 -7.5v3.7m.4 -9.7v12.4m.7 -13.8v8.7m.7 -4v12m.6 -5.7v12.2m.7 -4.7v10.2m.4 -4.3v4.9m.3 -2.1v2.5m.7 .5v2.7m.7 -.2v4m.3 -4v4.8m.4 -7.5v10.9m.7 -7.7v6.2m.3 -4.2v2.9m.3 -3.3v4.5m.4 -5.9v8.1m.3 -10v12.7m.7 -7.4v3.6m.3 -2.8v2.8m.4 -4.7v7.4m.7 -8.7v10.1m.3 -9.3v9.3m.4 -7.1v6.6m.3 -7.7v8.2m.3 -8.6v8.6m.7 -5.6v4.2m.4 -8.4v9.8m.3 -9.5v9.5m.7 -6.4v5.7m.7 -7.4v8.1m.7 -9.4v9.4m.7 -5v2.9m.6 -2.1v1.4m.7 -1.3v1.3m.7 -1.1v.9m.7 -1.9v2.9m.7 -2.3v1.8m1.4 -1.8v1.8m.6 -1.9v2m.7 -1.7v1.5m.7 -1.5v1.6m.7 -1.9v2.1m.7 -2.1v2.1m.7 -1.9v1.8m.6 -1.6v1.3m.7 -1.6v1.9m.7 -2.5v3.1m1.4 -2v.9m.7 -.9v1m.7 -1.3v1.5m.6 -1.3v1.1m.7 -1.6v2.2m.7 -1.9v1.5m.7 -1.4v1.4m1.4 -1.9v2.3m.7 -2v1.7m.6 -1.7v1.7m.7 -1.9v2.1m.7 -1.7v1.3m.7 -1.6v1.9m.7 -1.7v1.4m.7 -1.2v1m1.3 -1.5v2m.7 -2.5v3m.7 -2.1v1.2m.7 -1.2v1.2m.7 -2v2.8m.7 -2.7v2.5m.6 -2.5v2.5m.7 -2.6v2.7m.7 -2.5v2.3m.7 -1.6v.9m.7 -2v3.1m.7 -3v2.8m.7 -3v3.2m.6 -2.9v2.6m.7 -2.9v3.2m1.4 -3.1v3m.7 -2.3v1.5m.7 -2v2.6m.7 -2.2v1.7m.6 -2.1v2.5m.7 -1.7v.9m.7 -1.8v2.7m.7 -1.9v1.2m1.4 -1.1v1m.7 -1v.9m.6 -1.1v1.3m.7 -1.2v1.2m.7 -1v.8m.7 -1.4v2m.7 -1.7v1.4m.7 -1.9v2.3m.6 -2.2v2.2m.7 -1.9v1.6m.7 -2.2v2.7m.7 -2.4v2.2m.7 -1.7v1.2m.7 -1.8v2.3m.7 -2.5v2.7m.6 -2.3v2m2.1 -2.1v2.1m.7 -1.6v1.1m.7 -1v.9m.7 -1.5v2.1m.6 -1.6v1.2m1.4 -1.3v1.3m.7 -1.1v1m.7 -1.2v1.4m.7 -2v2.5m.6 -1.6v.8m.7 -1.2v1.6m.7 -1.6v1.6m.7 -1.8v2m.7 -2.3v2.6m.7 -2.7v2.7m.7 -2.3v2m.6 -1.6v1.1m.7 -1.5v2m.7 -2.1v2.1m.7 -1.5v1m.7 -2v2.9m.7 -2.9v2.9m.7 -2.3v1.7m.6 -1.8v1.9m.7 -1.8v1.6m.7 -2.1v2.6m.7 -2.2v1.8m.7 -1.5v1.2m1.4 -1.8v2.3m1.3 -2.8v3.2m.7 -2.6v2m.7 -2.3v2.6m.7 -2.4v2.2m.7 -2.5v2.7m.6 -2.5v2.3m.7 -2.5v2.6m.7 -2.6v2.6m.7 -2.7v2.8m1.4 -2.7v2.5m.7 -2.1v1.7m.6 -2.3v2.8m.7 -2.2v1.6m.7 -1.6v1.6m.7 -2.1v2.5m-119.9 -15.3v2.7m.7 -6.5v6.3m.3 -6.9v5.6m.4 -4.3v4.3m.3 -3v3m.4 -3.9v6.1m.6 -4.5v1.9m.7 -4v5.2m.7 -5.5v7.3m.7 -4.5v3.3m.3 -3.4v4.3m.4 -3.5v1.9m.7 -4.4v5.3m.7 -4.5v2.1m.6 -3.5v5.7m.7 -3.6v2.3m.4 -3.5v5.2m.3 -4.8v4.7m.7 -4v4.1m.7 -4.6v5.9m.7 -5.8v4.9m.6 -6.8v7.9m.4 -7.1v5.9m.3 -5.4v4.5m.7 -6.2v7.2m.7 -5.3v2.6m.7 -3.8v7.3m.7 -6.3v7.7m.3 -4.2v1.8m.4 -5.1v5.7m.6 -9.2v7.2m.7 -7.5v2.3m.7 2.3v4.9m.4 -2.8v6.6m.3 -5.9v6.4m.3 -5.3v5.5m.4 -6.5v8.9m.7 -7.6v7.3m.7 -6.4v6.4m.6 -5.4v5.2m.7 -6.4v8.4m.4 -6.1v4.2m.3 -4.7v3.9m.7 -7v7.5m.7 -6.2v2.3m.3 -3.5v3.4m.4 -6.4v4.7m.7 -10.5v7.2m.3 -3.2v3.8m.3 -2.3v5.4m.4 -4.2v7.5m.3 -5.8v5.1m.7 -6.1v9.1m.3 -7.6v7.1m.4 -6.8v3.9m.7 -6.6v4.1m.3 -3.6v8.3m.4 -5.3v7.5m.3 -2.9v3.6m.3 -5.5v8.3m.7 -7.7v9m.4 -7.2v6.4m.3 -4.1v2m.7 -4.8v8.1m.7 -6.2v4.7m.7 -6.6v8.9m6.8 -3.3v1.1m1.4 -1v1.2m.7 -1v.9m.7 -.9v.9m3.4 -.9v1.2m.7 -1.2v1.2m2 -1v.9m.7 -1v1.2m.7 -1.2v1.2m.7 -1v.9m.7 -1v1.1m1.3 -1v.9m.7 -.9v.9m.7 -.9v.9m.7 -.9v.9m.7 -1.1v1.3m.7 -1.3v1.3m2 -1.3v1.3m1.4 -1.1v.9m.7 -1v1.1m.7 -1v.9m4.8 -.9v.9m3.4 -1v.9m.7 -1.1v1.2m4.1 -1.5v1m1.4 -1.1v.9m.6 -1.1v1.2m1.4 -1.4v1.3m.7 -1.2v.9m3.4 -.7v1m2.1 -.8v.8m.7 -.8v.8m1.3 -.8v1m.7 -1v.9m.7 -1.1v1.3m1.4 -1v.9m1.3 -.9v.9m2.1 -1v1.1m.7 -1.2v1.3m1.3 -1.1v.9m.7 -1v1.2m1.4 -1.2v1.2m2.1 -1.1v1m.6 -1.1v1.2m.7 -1v.9m1.4 -1.1v1.3m1.4 -1.3v1.3m2.7 -1.3v1.3m2.1 -1.2v1.2m2 -1.2v1.1m.7 -1v1m1.4 -1v1m.7 -1.1v1.2m.6 -1.3v1.3m1.4 -1.1v.9m3.4 -1.1v1.3m1.4 -1.2v1.1" stroke="#cccccc" stroke-width="0.55" fill="none" marker-start="url(#cap)" marker-mid="url(#cap)" marker-end="url(#cap)"/>
<path d="M210 861.7l.7 1.1 .3 .1 .4-1.2 .3 1.6 .4-.8 .6-2.2 .7 1.8 .7 .9 .7 .6 .3-1.2 .4 1.2 .7-1.5 .7 1.9 .6 0 .7 1.2 .4-4.3 .3 3.3 .7-.3 .7-1.1 .7 1.8 .6-.9 .4-2.1 .3-.6 .7 2.4 .7-.3 .7-.4 .7 1.3 .3-1.9 .4 1.2 .6-2.7 .7-1.4 .7-5.5 .4-2.1 .3-4.4 .3-1.8 .4 2.6 .7-6.7 .7 6.1 .6 6.4 .7 4.5 .4 5.7 .3 .4 .7 5.3 .7 1.8 .3 0 .4-.1 .7 2.7 .3-.9 .3 1.8 .4-1.4 .3 1.5 .7 .5 .3 .4 .4 .3 .7 .1 .3 1.1 .4-.5 .3 .9 .3-.1 .7 .1 .4-.2 .3 .2 .7 .1 .7-.2 .7 0 .7 .1 .6-.4 .7 .5 .7 0 .7-.3 .7 .1 .7-.1 .7 .2 .6 .1 .7 0 .7-.1 .7 .2 .7-.4 .7 .4 .6-.2 .7 .1 .7-.1 .7 0 .7 .1 .7 .2 .7-.3 .6-.2 .7 0 .7 .2 .7-.3 .7 .5 .7 .2 .7-.2 .6-.2 .7 .1 .7 0 .7-.2 .7 .2 .7 0 .7-.2 .6 .1 .7 0 .7 .1 .7-.4 .7 .3 .7-.1 .6 .2 .7-.1 .7 .2 .7-.2 .7 .2 .7-.5 .7 .4 .6-.4 .7 .5 .7-.2 .7-.1 .7-.2 .7 .2 .7-.1 .6 .3 .7-.5 .7 .1 .7 0 .7 .2 .7 .1 .7-.3 .6 .1 .7 0 .7 0 .7 .2 .7-.2 .7 0 .6 .1 .7 .3 .7-.2 .7 .1 .7-.2 .7-.2 .7 .4 .6-.1 .7 0 .7 0 .7 .2 .7-.6 .7 .3 .7-.1 .6 .2 .7-.2 .7 .2 .7 .1 .7 .1 .7-.3 .6-.2 .7 0 .7 .3 .7 0 .7 0 .7-.4 .7-.1 .6 .2 .7 .3 .7-.2 .7 .1 .7 .3 .7-.6 .7 .2 .6 .2 .7-.4 .7 .2 .7 0 .7-.2 .7 .1 .7-.1 .6 0 .7 .1 .7 .1 .7-.1 .7-.1 .7 0 .6-.1 .7-.2 .7 .3 .7 .2 .7-.1 .7-.1 .7 0 .6-.1 .7 0 .7 0 .7 0" stroke="#6e6e6e" stroke-width="1.05" fill="none" stroke-linejoin="round"/>
<path d="M210 864.4l.7-3.5 .3 .4 .4-.2 .3 1.8 .4 .8 .6-.5 .7-.4 .7 1.6 .7-1.6 .3 1.4 .4 2.6 .7-4 .7-.8 .6 2.7 .7-1.5 .4-.1 .3 1.3 .7-.6 .7 .7 .7-1.3 .6-.8 .4 1.6 .3-.4 .7-.1 .7-1.2 .7 2.5 .7 1.7 .3-.9 .4-1.2 .6-2.3 .7-3.6 .7 8.6 .4 .8 .3-.1 .3 2.4 .4-.8 .7-.5 .7 1.9 .6 .8 .7 .6 .4-.7 .3-.5 .7-1 .7-1 .3-1.5 .4-1.8 .7-4.5 .3 1.3 .3 3.6 .4 1.1 .3 .2 .7 .8 .3 1 .4-1.2 .7-2.8 .3 4.1 .4 2 .3 2.4 .3-.4 .7 1.4 .4 .9 .3-.2 .7 .4 .7 .1 .7 .3 .7 .1 .6 .4 .7 .1 .7-.1 .7 .3 .7 .2 .7 .4 .7 0 .6 .3 .7 .2 .7-.1 .7 0 .7 .1 .7 .2 .6 .1 .7-.5 .7 .2 .7 .1 .7-.1 .7 .2 .7 0 .6-.1 .7 .1 .7 0 .7 .2 .7-.2 .7 0 .7 .3 .6-.3 .7 .1 .7 .1 .7-.3 .7 0 .7 0 .7 0 .6 .3 .7-.2 .7 .2 .7-.1 .7 0 .7 .1 .6-.1 .7-.1 .7 .1 .7-.2 .7 .1 .7-.1 .7 .3 .6-.2 .7 0 .7 .3 .7-.3 .7 0 .7-.4 .7 .3 .6-.4 .7 .2 .7 .2 .7-.1 .7-.5 .7 .2 .7-.1 .6-.4 .7 .1 .7 0 .7-.2 .7 0 .7 .2 .6 .1 .7 0 .7 .2 .7 0 .7 .2 .7-.3 .7 .4 .6-.2 .7-.2 .7 .2 .7 0 .7-.1 .7 .2 .7-.3 .6 .1 .7 .2 .7 0 .7 0 .7 .2 .7-.5 .6 .3 .7-.2 .7 0 .7 .4 .7 0 .7-.5 .7 .3 .6 .2 .7-.3 .7 .1 .7 .3 .7-.3 .7-.1 .7 .4 .6-.1 .7 .1 .7-.5 .7 .4 .7-.4 .7 0 .7 .4 .6-.2 .7-.2 .7 .3 .7-.1 .7 0 .7 .1 .6-.1 .7 .1 .7-.2 .7 .2 .7 0 .7-.1 .7 .3 .6-.5 .7 .4 .7-.1 .7 .1" stroke="#f0863a" stroke-width="1.12" fill="none" stroke-linejoin="round"/>
</g>
<path d="M210 881.3H329.9" stroke="#919191" stroke-width="1.1" fill="none"/>
<path d="M390.8 493.5V551.5M388.6 551.5H390.8M388.6 537H390.8M388.6 522.5H390.8M388.6 508H390.8M388.6 493.5H390.8" stroke="#c4c4c4" stroke-width="0.9" fill="none"/>
<path d="M390.8 551.5V553.5M407.61 551.5V553.5M424.43 551.5V553.5M441.24 551.5V553.5M458.06 551.5V553.5M474.87 551.5V553.5M491.69 551.5V553.5M508.5 551.5V553.5" stroke="#606060" stroke-width="0.8" fill="none"/>
<text x="385.7" y="553.5" font-size="5.6" fill="#4a4a4a" font-family='"Liberation Sans", sans-serif' text-anchor="end" textLength="10.2" lengthAdjust="spacingAndGlyphs" stroke="#4a4a4a" stroke-width="0.22">0.00</text>
<text x="385.7" y="539" font-size="5.6" fill="#4a4a4a" font-family='"Liberation Sans", sans-serif' text-anchor="end" textLength="10.2" lengthAdjust="spacingAndGlyphs" stroke="#4a4a4a" stroke-width="0.22">0.25</text>
<text x="385.7" y="524.5" font-size="5.6" fill="#4a4a4a" font-family='"Liberation Sans", sans-serif' text-anchor="end" textLength="10.2" lengthAdjust="spacingAndGlyphs" stroke="#4a4a4a" stroke-width="0.22">0.50</text>
<text x="385.7" y="510" font-size="5.6" fill="#4a4a4a" font-family='"Liberation Sans", sans-serif' text-anchor="end" textLength="10.2" lengthAdjust="spacingAndGlyphs" stroke="#4a4a4a" stroke-width="0.22">0.75</text>
<text x="385.7" y="495.5" font-size="5.6" fill="#4a4a4a" font-family='"Liberation Sans", sans-serif' text-anchor="end" textLength="10.2" lengthAdjust="spacingAndGlyphs" stroke="#4a4a4a" stroke-width="0.22">1.00</text>
<text x="390.8" y="560.4" font-size="5.6" fill="#4a4a4a" font-family='"Liberation Sans", sans-serif' text-anchor="middle" textLength="2.7" lengthAdjust="spacingAndGlyphs" stroke="#4a4a4a" stroke-width="0.26">0</text>
<text x="407.61" y="560.4" font-size="5.6" fill="#4a4a4a" font-family='"Liberation Sans", sans-serif' text-anchor="middle" textLength="2.7" lengthAdjust="spacingAndGlyphs" stroke="#4a4a4a" stroke-width="0.26">5</text>
<text x="424.43" y="560.4" font-size="5.6" fill="#4a4a4a" font-family='"Liberation Sans", sans-serif' text-anchor="middle" textLength="5.3" lengthAdjust="spacingAndGlyphs" stroke="#4a4a4a" stroke-width="0.26">10</text>
<text x="441.24" y="560.4" font-size="5.6" fill="#4a4a4a" font-family='"Liberation Sans", sans-serif' text-anchor="middle" textLength="5.3" lengthAdjust="spacingAndGlyphs" stroke="#4a4a4a" stroke-width="0.26">15</text>
<text x="458.06" y="560.4" font-size="5.6" fill="#4a4a4a" font-family='"Liberation Sans", sans-serif' text-anchor="middle" textLength="5.3" lengthAdjust="spacingAndGlyphs" stroke="#4a4a4a" stroke-width="0.26">20</text>
<text x="474.87" y="560.4" font-size="5.6" fill="#4a4a4a" font-family='"Liberation Sans", sans-serif' text-anchor="middle" textLength="5.3" lengthAdjust="spacingAndGlyphs" stroke="#4a4a4a" stroke-width="0.26">25</text>
<text x="491.69" y="560.4" font-size="5.6" fill="#4a4a4a" font-family='"Liberation Sans", sans-serif' text-anchor="middle" textLength="5.3" lengthAdjust="spacingAndGlyphs" stroke="#4a4a4a" stroke-width="0.26">30</text>
<text x="508.5" y="560.4" font-size="5.6" fill="#4a4a4a" font-family='"Liberation Sans", sans-serif' text-anchor="middle" textLength="5.3" lengthAdjust="spacingAndGlyphs" stroke="#4a4a4a" stroke-width="0.26">35</text>
<text x="444.7" y="493.8" font-size="6.5" fill="#303030" font-family='"Liberation Sans", sans-serif' text-anchor="middle" textLength="39.6" lengthAdjust="spacingAndGlyphs" stroke="#303030" stroke-width="0.15">Delta (0.1-3Hz)</text>
<clipPath id="cDr0"><rect x="387.8" y="463.5" width="123.7" height="88"/></clipPath>
<g clip-path="url(#cDr0)">
<path d="M390.8 530.4v7.4m.7 -9.5v13.9m.3 -14.7v16.7m.3 -13.2v10.8m.4 -13.3v17m.3 -16.5v16.7m.7 -17v18.7m.7 -10.6v3.9m.6 -5.8v8.7m.7 -11.7v15.6m.3 -16.4v17.6m.4 -12.1v7.1m.7 -5.8v5.4m.6 -7.6v10.7m.7 -13.2v14.8m.3 -13.5v11.7m.4 -14.5v16.8m.3 -17.3v17.4m.3 -15.1v8.9m.7 -17.8v19m.7 -26.3v8m.7 -7.6v16.5m.3 -9.4v7m.3 -6.4v13.5m.4 -7.7v9.6m.3 -9.1v16.4m.7 -14.1v13m.7 -13.8v15.7m.6 -11v5.4m.7 -7.8v9.3m.3 -9.4v9m.4 -13.9v16.5m.6 -15.2v9.2m.7 -13v12.2m.7 -22.8v18m.3 -19.4v13m.4 -8.4v11.5m.6 -2v8m.7 .4v5.7m.7 -.4v7.7m.6 -5.2v5.2m.7 -6.3v6.3m.4 -4.1v4.1m.3 -4.3v4.3m.7 -4.7v4.7m.6 -2.8v2.1m.7 -1.8v1.8m.7 -2.1v2.6m.3 -5.8v6m.4 -4.7v4.7m.6 -5v5m.7 -4v4m.7 -4.8v4.8m.6 -4.7v4.7m.4 -3.5v3.5m.3 -4.5v4.5m.7 -2.1v1.9m.7 -3.6v3.8m.6 -4v4m.7 -3.3v3.3m.7 -2.5v2.5m.7 -4.1v4.1m1.3 -1.8v1.4m.7 -1.5v1.7m.6 -1.4v1.2m.7 -1.2v1.4m1.4 -1v.8m.6 -.9v1.1m.7 -1v1m1.4 -1.1v1.3m2.6 -1.4v1.4m1.4 -1.2v1.2m.7 -1.5v1.5m.6 -1.3v1.3m.7 -1.1v1m.7 -1.1v1.2m.7 -1v.9m.6 -1.3v1.4m.7 -1.2v1.2m1.3 -1.5v1.5m.7 -1.5v1.5m.7 -1.4v1.4m1.3 -1.4v1.4m.7 -1.1v1.1m.7 -1.5v1.5m.7 -1.4v1.4m.6 -1.1v1m.7 -1.2v1.3m.7 -1.4v1.4m1.3 -1.1v1m.7 -1.4v1.5m.7 -1.5v1.5m.6 -1.5v1.5m1.4 -1.4v1.4m.6 -1.5v1.5m2.1 -1.1v1.1m.6 -1.4v1.4m.7 -1.3v1.3m.7 -1.3v1.3m.7 -1.5v1.5m.6 -1.5v1.5m2 -1.2v1.2m.7 -1.1v1.1m1.4 -1.6v1.6m1.3 -1.2v1.2m.7 -1.5v1.5m1.3 -1.4v1.4m1.4 -1.5v1.5m.6 -1.5v1.5m.7 -1v.9m2.7 -1.1v1.2m1.4 -1v.9m.6 -1.1v1.2m.7 -1.4v1.4m.7 -1.4v1.4m2 -1.1v1m.7 -1.4v1.5m.6 -1.5v1.5m.7 -1.5v1.5m.7 -1v.9m.7 -1.2v1.3m.6 -1.2v1.2m1.4 -2v1.3m2 -.4v1.1m.7 -1.2v1.2m1.3 -1.4v1.4m.7 -1.4v1.4m.7 -1.3v1.3m.6 -1.1v1m1.4 -.9v.9m1.3 -1.1v1.2m.7 -1.4v1.4m.7 -1v.9m.6 -1.5v1.6m.7 -1.3v1.3m.7 -1.3v1.3m.6 -1.4v1.4m.7 -1.4v1.4m.7 -1.1v1m.7 -1v1m.6 -1.4v1.5m.7 -1.2v1.2m1.4 -1.3v1.3m.6 -1.3v1.3m.7 -1.2v1.2m.7 -1.4v1.4m.6 -1.1v1m.7 -1.1v1.2m.7 -1.1v1m.7 -.9v.9m.6 -1.2v1.3m.7 -1.4v1.4m.7 -3.6v.8m.7 -3.1v1.4m.6 -.1v1.1m-117 -30.8v12.9m.7 -1.7v4.4m.3 -1.6v5.8m.3 -4.3v4.8m.4 -8.5v14.1m.3 -10.5v8.8m.7 -13.3v14.9m.7 -13.8v9.8m.6 -8.4v9.3m.7 -9.9v12.8m.3 -10.6v9.6m.4 -8.2v5.6m.7 -6.5v5.1m.6 -7.5v7.6m.7 -3.3v6.7m.3 -3.6v4.4m.4 -6.9v7.4m.3 -12.4v15.5m.3 -11.3v5.2m.7 -6.3v10.3m.7 -5.6v3.8m.7 -8.8v11.5m.3 -12v11.3m.3 -13.6v14.7m.4 -13.4v11m.3 -8.9v7.5m.7 -9.3v12.5m.7 -9.9v8.7m.6 -11.6v15.5m.7 -10.5v6.3m.3 -5.7v5.6m.4 -9.6v12.5m.6 -14.9v15m.7 -16v14.6m.7 -26v8.8m.3 -16.3v9.4m.4 -3.8v6.8m.6 -6v22.2m.7 -11.2v11.8m.7 -10.3v20.4m.6 -15.9v13.7m.7 -12v12.6m.4 -14.7v17.7m.3 -19.3v15.4m.7 -16.2v5.4m.6 -11v5m.7 -19.3v17.4m.7 -20.9v8.1m.3 -14.3v12.4m.4 -12.9v22.6m.6 -10.7v17.4m.7 -4.1v9.4m.7 -5.7v11.3m.6 -7.6v13.2m.4 -9.5v10.4m.3 -9.9v10.6m.7 -10.7v13.1m.7 -15.5v15.9m.6 -13.5v13.5m.7 -8.5v7.7m.7 -13.8v14.6m.7 -12.3v12.3m.6 -3.9v2m.7 -1.5v1.3m.7 -1v.8m1.3 -.6v1m.7 -.9v1m.7 -1v1.2m1.3 -1.1v1.5m1.4 -1.1v1.1m.6 -1.1v1.2m.7 -1.4v1.7m1.3 -1.6v1.7m.7 -1.3v.9m.7 -1.2v1.6m1.3 -1.4v1.4m.7 -1.3v1.2m1.4 -1v.9m.6 -1.3v1.8m.7 -1.8v1.9m.7 -1.6v1.4m2 -1.1v.8m.7 -1v1.1m.6 -1.2v1.2m.7 -1.3v1.4m.7 -1.6v1.7m.7 -1.5v1.3m2.6 -1.4v1.3m.7 -1.4v1.4m.7 -1.4v1.4m.7 -1.6v1.8m.6 -1.8v1.7m.7 -1.7v1.6m.7 -1.4v1.2m1.3 -1.1v.9m3.4 -.9v1.4m.7 -1.1v1.3m.6 -1.7v1.6m.7 -1.6v1.2m.7 -1.4v1m.6 -1.1v.9m.7 -1.5v1.6m.7 -1v1m.7 -1.1v1.9m.6 -1v.9m.7 -.9v1.6m.7 -1.2v1.3m.7 -1v.9m.6 -1.1v1.2m.7 -1.3v1.3m.7 -1v.9m1.3 -1v1m.7 -1.5v1.6m2 -1.5v1.5m.7 -1v.9m2 -1.1v1.2m.7 -1.5v1.5m.6 -1.1v1.1m.7 -1.3v1.3m1.4 -1.5v1.5m.6 -1.5v1.5m.7 -1.1v1m.7 -1v1m.7 -1.2v1.3m.6 -1.5v1.5m1.4 -1.2v1.2m2.7 -1.4v1.4m1.3 -1.1v1m.7 -1.4v1.5m1.3 -1.5v1.5m.7 -1.2v1.2m1.3 -1.5v1.5m.7 -1.4v1.4m1.4 -1.5v1.5m.6 -1.2v1.2m.7 -1.5v1.5m.7 -1.2v1.2m.6 -1.5v1.5m2.1 -1.3v1.3m.6 -1.6v1.6m.7 -1.5v1.5m.7 -1.3v1.3m1.3 -1.5v1.5m1.4 -1.5v1.5m.6 -1.6v1.6m.7 -1.5v1.5m.7 -1.3v1.3m.7 -1.5v1.5m.6 -1.5v1.5m1.4 -1.2v1.2m.7 -1.1v1.1m.6 -1v.9m.7 -1.3v1.4m-107.6 -52.8v41.2m1 -30.7v30.7m7 -34.8v29m7.1 -35.4v23.8m15.2 25.5v3.5m10 -2.9v2.9m40.4 -8.7v8.7m25.2 -10.4v10.4" stroke="#cccccc" stroke-width="0.55" fill="none" marker-start="url(#cap)" marker-mid="url(#cap)" marker-end="url(#cap)"/>
<path d="M390.8 533.6l.7 3.9 .3-1.4 .3-.3 .4 1.5 .3 .9 .7-.3 .7 .9 .6 .8 .7-1.3 .3 1.2 .4-.5 .7 1.5 .6 .4 .7 .8 .3-.8 .4-1.2 .3-.1 .3-2.2 .7-4 .7-12.4 .7 4.8 .3 3 .3 1.3 .4 6.7 .3 2.7 .7 2.3 .7-1 .6-.6 .7-1.3 .3 .5 .4-1.4 .6-1.1 .7-2.7 .7-6.9 .3-4.8 .4 5 .6 6.3 .7 8 .7 6.9 .6 .1 .7 1.3 .4 .3 .3-.7 .7 .5 .6-.6 .7 .2 .7 .6 .3 .2 .4-.6 .6 .4 .7-.1 .7-.1 .6 .4 .4-.4 .3 .1 .7 .1 .7-.1 .6 .2 .7-.3 .7 .2 .7-.1 .6 .1 .7-.1 .7 .1 .6 .2 .7 0 .7 .2 .7-.1 .6 0 .7 .1 .7 .1 .7 0 .6 0 .7 0 .7 0 .6 0 .7 .1 .7 0 .7-.1 .6 .1 .7 0 .7-.1 .7 0 .6 .1 .7-.1 .7 .1 .6-.1 .7 .1 .7 0 .7-.1 .6 0 .7 0 .7-.1 .7 .1 .6 0 .7 0 .7 .1 .6-.1 .7 .1 .7 0 .7 0 .6 0 .7 0 .7-.1 .6 0 .7 .1 .7-.1 .7 0 .6 0 .7-.1 .7 .1 .7 .1 .6-.1 .7 .1 .7-.1 .6 0 .7 0 .7 0 .7 0 .6 0 .7-.1 .7 .2 .7-.1 .6 0 .7 0 .7 0 .6 0 .7 0 .7 .1 .7-.1 .6 0 .7-.1 .7 .1 .7 0 .6 .1 .7 0 .7 0 .6 0 .7 0 .7 0 .7-.1 .6 0 .7 .1 .7 0 .7-.1 .6 0 .7-2.5 .7 1.6 .6 .9 .7 .1 .7-.1 .7 0 .6 .1 .7-.1 .7 0 .7 .1 .6 0 .7-.1 .7 0 .6 0 .7 .1 .7-.1 .7 0 .6 0 .7-.1 .7 .1 .6 0 .7 .1 .7 0 .7-.1 .6 .1 .7-.1 .7 0 .7 .1 .6 0 .7-.1 .7 0 .6 0 .7 0 .7 .1 .7 0 .6-.1 .7 .1 .7-2.6 .7-2.4 .6 1.6 .7 1" stroke="#6e6e6e" stroke-width="1.05" fill="none" stroke-linejoin="round"/>
<path d="M390.8 524l.7 5.5 .3 4.8 .3-.3 .4 2.5 .3 .6 .7-3.1 .7-.2 .6 1.7 .7 1 .3 .4 .4 .9 .7-3.1 .6-.8 .7 2.7 .3 3.8 .4-1.7 .3-1.7 .3-.2 .7-.1 .7 3.5 .7-2.1 .3-.5 .3-.1 .4-.8 .3 1 .7-.7 .7 1.2 .6 1.4 .7 .3 .3 .1 .4-1.2 .6-.6 .7-.8 .7-14.2 .3-7.8 .4 6.8 .6 6 .7 6.4 .7 5.2 .6 2 .7 1 .4 0 .3-3.6 .7-6.5 .6-4.1 .7-8.2 .7-9.5 .3-2.3 .4 4.7 .6 10.1 .7 7.9 .7 3 .6 6.6 .4 2.3 .3 .1 .7 1 .7 1.4 .6 .9 .7 .1 .7 .8 .7 .4 .6 .5 .7 .3 .7 .1 .6 .1 .7 .3 .7-.2 .7 .1 .6 .4 .7 .1 .7 0 .7-.1 .6 .1 .7 .2 .7 .3 .6-.3 .7 .2 .7-.1 .7 .2 .6 0 .7 .1 .7-.1 .7 .1 .6 0 .7 0 .7 .3 .6-.1 .7-.2 .7 0 .7 .2 .6-.3 .7 .2 .7-.2 .7 .1 .6-.2 .7 .3 .7-.4 .6 .2 .7-.2 .7 0 .7 .2 .6-.2 .7 .2 .7-.4 .6 .1 .7 .1 .7-.1 .7 0 .6-.1 .7 0 .7 .5 .7 .2 .6-.2 .7-.2 .7-.5 .6-.2 .7-.1 .7 .1 .7 .8 .6 .1 .7 .3 .7 .5 .7 0 .6 0 .7 0 .7-.1 .6 .1 .7-.2 .7 .2 .7 0 .6-.1 .7 .1 .7-.1 .7 .1 .6-.1 .7 0 .7-.1 .6 .1 .7 0 .7 0 .7 0 .6 0 .7 0 .7 .1 .7-.1 .6 0 .7 0 .7 0 .6 0 .7 .1 .7-.2 .7 .1 .6 0 .7 0 .7 .1 .7-.1 .6 0 .7 0 .7 .1 .6-.1 .7 0 .7 0 .7 .1 .6-.1 .7 0 .7 .1 .6-.1 .7 .1 .7 0 .7-.1 .6 0 .7 .1 .7 0 .7 0 .6 0 .7-.1 .7 0 .6 0 .7 .1 .7-.2 .7 .1 .6 0 .7 0 .7 0 .7 0 .6 0 .7 0" stroke="#7b3bb3" stroke-width="1.12" fill="none" stroke-linejoin="round"/>
</g>
<path d="M390.8 551.5H508.5" stroke="#919191" stroke-width="1.1" fill="none"/>
<path d="M465.1 502H473.3" stroke="#7b3bb3" stroke-width="1.1"/>
<path d="M465.1 509.6H473.3" stroke="#8a8a8a" stroke-width="0.9"/>
<text x="473.7" y="504.1" font-size="5.8" fill="#303030" font-family='"Liberation Sans", sans-serif' textLength="33.5" lengthAdjust="spacingAndGlyphs" stroke="#303030" stroke-width="0.12">Freely-moving</text>
<text x="473.7" y="511.7" font-size="5.8" fill="#303030" font-family='"Liberation Sans", sans-serif' textLength="30.99" lengthAdjust="spacingAndGlyphs" stroke="#303030" stroke-width="0.12">Anesthetized</text>
<path d="M391.3 575.4V634.3M389.1 634.3H391.3M389.1 619.57H391.3M389.1 604.85H391.3M389.1 590.12H391.3M389.1 575.4H391.3" stroke="#c4c4c4" stroke-width="0.9" fill="none"/>
<path d="M391.3 634.3V636.3M408.05 634.3V636.3M424.81 634.3V636.3M441.56 634.3V636.3M458.31 634.3V636.3M475.07 634.3V636.3M491.82 634.3V636.3M508.57 634.3V636.3" stroke="#606060" stroke-width="0.8" fill="none"/>
<text x="386.2" y="636.3" font-size="5.6" fill="#4a4a4a" font-family='"Liberation Sans", sans-serif' text-anchor="end" textLength="10.2" lengthAdjust="spacingAndGlyphs" stroke="#4a4a4a" stroke-width="0.22">0.00</text>
<text x="386.2" y="621.57" font-size="5.6" fill="#4a4a4a" font-family='"Liberation Sans", sans-serif' text-anchor="end" textLength="10.2" lengthAdjust="spacingAndGlyphs" stroke="#4a4a4a" stroke-width="0.22">0.20</text>
<text x="386.2" y="606.85" font-size="5.6" fill="#4a4a4a" font-family='"Liberation Sans", sans-serif' text-anchor="end" textLength="10.2" lengthAdjust="spacingAndGlyphs" stroke="#4a4a4a" stroke-width="0.22">0.40</text>
<text x="386.2" y="592.12" font-size="5.6" fill="#4a4a4a" font-family='"Liberation Sans", sans-serif' text-anchor="end" textLength="10.2" lengthAdjust="spacingAndGlyphs" stroke="#4a4a4a" stroke-width="0.22">0.60</text>
<text x="386.2" y="577.4" font-size="5.6" fill="#4a4a4a" font-family='"Liberation Sans", sans-serif' text-anchor="end" textLength="10.2" lengthAdjust="spacingAndGlyphs" stroke="#4a4a4a" stroke-width="0.22">0.80</text>
<text x="391.3" y="643.2" font-size="5.6" fill="#4a4a4a" font-family='"Liberation Sans", sans-serif' text-anchor="middle" textLength="2.7" lengthAdjust="spacingAndGlyphs" stroke="#4a4a4a" stroke-width="0.26">0</text>
<text x="408.05" y="643.2" font-size="5.6" fill="#4a4a4a" font-family='"Liberation Sans", sans-serif' text-anchor="middle" textLength="2.7" lengthAdjust="spacingAndGlyphs" stroke="#4a4a4a" stroke-width="0.26">5</text>
<text x="424.81" y="643.2" font-size="5.6" fill="#4a4a4a" font-family='"Liberation Sans", sans-serif' text-anchor="middle" textLength="5.3" lengthAdjust="spacingAndGlyphs" stroke="#4a4a4a" stroke-width="0.26">10</text>
<text x="441.56" y="643.2" font-size="5.6" fill="#4a4a4a" font-family='"Liberation Sans", sans-serif' text-anchor="middle" textLength="5.3" lengthAdjust="spacingAndGlyphs" stroke="#4a4a4a" stroke-width="0.26">15</text>
<text x="458.31" y="643.2" font-size="5.6" fill="#4a4a4a" font-family='"Liberation Sans", sans-serif' text-anchor="middle" textLength="5.3" lengthAdjust="spacingAndGlyphs" stroke="#4a4a4a" stroke-width="0.26">20</text>
<text x="475.07" y="643.2" font-size="5.6" fill="#4a4a4a" font-family='"Liberation Sans", sans-serif' text-anchor="middle" textLength="5.3" lengthAdjust="spacingAndGlyphs" stroke="#4a4a4a" stroke-width="0.26">25</text>
<text x="491.82" y="643.2" font-size="5.6" fill="#4a4a4a" font-family='"Liberation Sans", sans-serif' text-anchor="middle" textLength="5.3" lengthAdjust="spacingAndGlyphs" stroke="#4a4a4a" stroke-width="0.26">30</text>
<text x="508.57" y="643.2" font-size="5.6" fill="#4a4a4a" font-family='"Liberation Sans", sans-serif' text-anchor="middle" textLength="5.3" lengthAdjust="spacingAndGlyphs" stroke="#4a4a4a" stroke-width="0.26">35</text>
<text x="445.45" y="575.5" font-size="6.5" fill="#303030" font-family='"Liberation Sans", sans-serif' text-anchor="middle" textLength="35.7" lengthAdjust="spacingAndGlyphs" stroke="#303030" stroke-width="0.15">Theta (3-7Hz)</text>
<clipPath id="cDr1"><rect x="388.3" y="545.4" width="123.27" height="88.9"/></clipPath>
<g clip-path="url(#cDr1)">
<path d="M391.3 621.8v2.9m.7 -5.1v6.1m.3 -4.9v3.2m.3 -5.2v6.5m.4 -7.1v7.2m.3 -6.7v6.5m.7 -6.5v7m.7 -4.9v3.5m.6 -4.2v6m.4 -6.4v7.4m.3 -5.3v3.8m.3 -4.1v5m.4 -6.4v7.5m.6 -6.6v5.1m.7 -5.6v5.6m.7 -4v2.9m.3 -3.1v3.6m.3 -5v6.7m.4 -5.5v4.6m.3 -6.2v7.5m.7 -7.3v6.5m.7 -6.6v6.1m.6 -3.7v1.9m.4 -4.1v6.6m.3 -4.7v3.1m.3 -2.3v1.8m.4 -4.7v7.3m.6 -6.7v5.5m.7 -4.1v2.1m.7 -2.6v2.5m.6 -3.2v3.4m.4 -5.2v6.7m.3 -6.5v5.7m.7 -5.3v3.6m.7 -3.4v2.1m.6 -1.5v3.9m.4 -4.5v6.5m.3 -3.8v4.6m.7 .3v1.6m.6 -.2v2.5m.7 -.6v2.4m.7 -1.9v2m.6 -1.4v1.3m.4 -.9v.9m.3 -.9v1.2m.7 -1.5v2.2m.7 -1.6v1.6m.6 -1.2v1m.7 -1.1v1.1m.3 -1.1v1.1m.4 -1v.9m.6 -1.5v1.8m.7 -1.7v1.7m1.7 -1.3v1.3m.3 -.9v.8m1.4 -1.5v1.6m1.3 -1.3v1.3m.7 -1v1m-32.2 -42.7v19.1m.7 -16.6v19m.3 -14.9v13.3m.3 -17v17.2m.4 -17.8v15m.3 -13.7v9m.7 -11.9v19.9m.7 -10.3v5.9m.6 -7.8v13.6m.4 -13.8v16m.3 -17.7v18.4m.3 -17.6v15.8m.4 -17.1v17.4m.6 -19.4v16.3m.7 -19.8v18.2m.7 -19.8v14.5m.3 -12.8v7.6m.3 -7.5v14.3m.4 -9v10.6m.3 -8.7v13.6m.7 -16.3v13.9m.7 -18.5v18m.6 -14.8v16.5m.4 -14.5v14.9m.3 -14.6v15.2m.3 -14.4v14.6m.4 -14.7v15.8m.6 -17.5v17.8m.7 -16.7v14.1m.7 -12.1v11.3m.6 -12.9v15.7m.4 -10.6v6m.3 -7.4v9.7m.7 -10.4v12.9m.7 -11.9v12.7m.6 -23.7v12.1m.4 -20.6v17.8m.3 -11.7v12m.7 -6.2v13.1m.6 -1.5v8.4m.7 2v5.9m.7 -3.8v4.7m.6 -6.2v10.7m.4 -8.8v8.3m.3 -14.6v15m.7 -16.8v6.9m.7 -15.9v13m.6 -14.1v5.3m.7 -13.5v11.6m.3 -15.5v14.4m.4 -10.4v13m.6 -3.9v7.7m.7 .4v4.4m.7 -3.2v10.8m.6 -7.3v12.7m.4 -10v11.7m.3 -11.8v12.8m.7 -6.9v2.8m.7 -5.4v9.7m.6 -11.5v13.9m.7 -9.2v5.1m.7 -7.2v9.9m.6 -8.7v8.1" stroke="#cccccc" stroke-width="0.55" fill="none" marker-start="url(#cap)" marker-mid="url(#cap)" marker-end="url(#cap)"/>
<path d="M391.3 623.2l.7-.2 .3 0 .3 .5 .4-1.9 .3-.8 .7 .1 .7 1.5 .6 2 .4-1.1 .3-1.1 .3 1.6 .4-.1 .6 .4 .7-1.3 .7 2 .3 .1 .3-1.1 .4 .3 .3-.4 .7 .5 .7-.7 .6-.1 .4 1.8 .3-.6 .3-.5 .4 .1 .6 .8 .7-1.6 .7-.9 .6-.7 .4 .2 .3-.9 .7-.5 .7 .7 .6 2.3 .4-.2 .3 1.5 .7 3.3 .6 2.2 .7 1.9 .7-.5 .6 .4 .4 .7 .3 .4 .7-.4 .7 .7 .6-.2 .7 .4 .3-.1 .4-.4 .6 0 .7 .3 .7 .3 .6 0 .4-.1 .3 .2 .7-.2 .7 .2 .6 0 .7 .1 .7 .1 .6 0 .7 .1 .7 0 .6 0 .7 0 .7 0 .7 0 .6 0 .7 0 .7 0 .6 0 .7 0 .7 0 .6 0 .7 0 .7 0 .7 0 .6 0 .7 0 .7 0 .6 0 .7 0 .7 0 .7 0 .6 0 .7 0 .7 0 .6 0 .7 0 .7 0 .6 0 .7 0 .7 0 .7 0 .6 0 .7 0 .7 0 .6 0 .7 0 .7 0 .6 0 .7 0 .7 0 .7 0 .6 0 .7 0 .7 0 .6 0 .7 0 .7 0 .6 0 .7 0 .7 0 .7 0 .6 0 .7 0 .7 0 .6 0 .7 0 .7 0 .6 0 .7 0 .7 0 .7 0 .6 0 .7 0 .7 0 .6 0 .7 0 .7 0 .6 0 .7 0 .7 0 .7 0 .6 0 .7 0 .7 0 .6 0 .7 0 .7 0 .6 0 .7 0 .7 0 .7 0 .6 0 .7 0 .7 0 .6 0 .7 0 .7 0 .6 0 .7 0 .7 0 .7 0 .6 0 .7 0 .7 0 .6 0 .7 0 .7 0 .7 0 .6 0 .7 0 .7 0 .6 0 .7 0 .7 0 .6 0 .7 0 .7 0 .7 0 .6 0 .7 0 .7 0 .6 0 .7 0 .7 0 .6 0 .7 0 .7 0 .7 0 .6 0 .7 0 .7 0 .6 0 .7 0 .7 0" stroke="#6e6e6e" stroke-width="1.05" fill="none" stroke-linejoin="round"/>
<path d="M391.3 601l.7 1.4 .3 1.3 .3 3 .4-5.5 .3-1 .7 1.8 .7 2.6 .6-.6 .4 4.3 .3-.3 .3-1.3 .4-.9 .6-.9 .7-3.5 .7-.7 .3-5.2 .3 6.8 .4-2.2 .3 6.6 .7-.8 .7-5.3 .6 3.5 .4 .9 .3-.3 .3-1.4 .4 2.8 .6-2.6 .7 1.2 .7 0 .6 2.5 .4-1.2 .3-2.3 .7 .7 .7 3.6 .6-8.4 .4-7.1 .3 3.5 .7 4.8 .6 6.9 .7 11.4 .7 2.4 .6 2.2 .4-.7 .3-2.2 .7-8.7 .7-3.7 .6-5.8 .7-7.3 .3 .5 .4 3.8 .6 4.6 .7 8.1 .7 3.5 .6 5.5 .4 1.9 .3 .3 .7 .4 .7 1.5 .6 .6 .7-.4 .7 1 .6-.1 .7 .6 .7-.2 .6 .7 .7 .6 .7-.1 .7 .3 .6 .5 .7 .1 .7 .3 .6 .2 .7 .3 .7 .1 .6 .2 .7 .2 .7 .3 .7 0 .6 .3 .7 .3 .7 0 .6-.1 .7 .1 .7 .4 .7 .1 .6 .1 .7-.1 .7 .4 .6 .1 .7 .1 .7 .1 .6 .1 .7-.1 .7 .2 .7-.1 .6 .2 .7-.1 .7 .2 .6 .2 .7-.2 .7 .2 .6 .1 .7 .1 .7-.1 .7-.1 .6 .3 .7 .1 .7-.2 .6 .2 .7 0 .7 .1 .6 0 .7 0 .7 .1 .7 .2 .6-.1 .7 .1 .7 .1 .6 .1 .7 .1 .7 .1 .6 0 .7 .1 .7 0 .7 0 .6 0 .7 0 .7 0 .6 0 .7 0 .7 0 .6 0 .7 0 .7 0 .7 0 .6 0 .7 0 .7 0 .6 0 .7 0 .7 0 .6 0 .7 0 .7 0 .7 0 .6 0 .7 0 .7 0 .6 0 .7 0 .7 0 .6 0 .7 0 .7 0 .7 0 .6 0 .7 0 .7 0 .6 0 .7 0 .7 0 .7 0 .6 0 .7 0 .7 0 .6 0 .7 0 .7 0 .6 0 .7 0 .7 0 .7 0 .6 0 .7 0 .7 0 .6 0 .7 0 .7 0 .6 0 .7 0 .7 0 .7 0 .6 0 .7 0 .7 0 .6 0 .7 0 .7 0" stroke="#cc1c1c" stroke-width="1.12" fill="none" stroke-linejoin="round"/>
</g>
<path d="M391.3 634.3H508.57" stroke="#919191" stroke-width="1.1" fill="none"/>
<path d="M391.3 657.7V716.4M389.1 716.4H391.3M389.1 701.73H391.3M389.1 687.05H391.3M389.1 672.38H391.3M389.1 657.7H391.3" stroke="#c4c4c4" stroke-width="0.9" fill="none"/>
<path d="M391.3 716.4V718.4M408.06 716.4V718.4M424.83 716.4V718.4M441.59 716.4V718.4M458.36 716.4V718.4M475.12 716.4V718.4M491.89 716.4V718.4M508.65 716.4V718.4" stroke="#606060" stroke-width="0.8" fill="none"/>
<text x="386.2" y="718.4" font-size="5.6" fill="#4a4a4a" font-family='"Liberation Sans", sans-serif' text-anchor="end" textLength="10.2" lengthAdjust="spacingAndGlyphs" stroke="#4a4a4a" stroke-width="0.22">0.00</text>
<text x="386.2" y="703.73" font-size="5.6" fill="#4a4a4a" font-family='"Liberation Sans", sans-serif' text-anchor="end" textLength="10.2" lengthAdjust="spacingAndGlyphs" stroke="#4a4a4a" stroke-width="0.22">0.10</text>
<text x="386.2" y="689.05" font-size="5.6" fill="#4a4a4a" font-family='"Liberation Sans", sans-serif' text-anchor="end" textLength="10.2" lengthAdjust="spacingAndGlyphs" stroke="#4a4a4a" stroke-width="0.22">0.20</text>
<text x="386.2" y="674.38" font-size="5.6" fill="#4a4a4a" font-family='"Liberation Sans", sans-serif' text-anchor="end" textLength="10.2" lengthAdjust="spacingAndGlyphs" stroke="#4a4a4a" stroke-width="0.22">0.30</text>
<text x="386.2" y="659.7" font-size="5.6" fill="#4a4a4a" font-family='"Liberation Sans", sans-serif' text-anchor="end" textLength="10.2" lengthAdjust="spacingAndGlyphs" stroke="#4a4a4a" stroke-width="0.22">0.40</text>
<text x="391.3" y="725.3" font-size="5.6" fill="#4a4a4a" font-family='"Liberation Sans", sans-serif' text-anchor="middle" textLength="2.7" lengthAdjust="spacingAndGlyphs" stroke="#4a4a4a" stroke-width="0.26">0</text>
<text x="408.06" y="725.3" font-size="5.6" fill="#4a4a4a" font-family='"Liberation Sans", sans-serif' text-anchor="middle" textLength="2.7" lengthAdjust="spacingAndGlyphs" stroke="#4a4a4a" stroke-width="0.26">5</text>
<text x="424.83" y="725.3" font-size="5.6" fill="#4a4a4a" font-family='"Liberation Sans", sans-serif' text-anchor="middle" textLength="5.3" lengthAdjust="spacingAndGlyphs" stroke="#4a4a4a" stroke-width="0.26">10</text>
<text x="441.59" y="725.3" font-size="5.6" fill="#4a4a4a" font-family='"Liberation Sans", sans-serif' text-anchor="middle" textLength="5.3" lengthAdjust="spacingAndGlyphs" stroke="#4a4a4a" stroke-width="0.26">15</text>
<text x="458.36" y="725.3" font-size="5.6" fill="#4a4a4a" font-family='"Liberation Sans", sans-serif' text-anchor="middle" textLength="5.3" lengthAdjust="spacingAndGlyphs" stroke="#4a4a4a" stroke-width="0.26">20</text>
<text x="475.12" y="725.3" font-size="5.6" fill="#4a4a4a" font-family='"Liberation Sans", sans-serif' text-anchor="middle" textLength="5.3" lengthAdjust="spacingAndGlyphs" stroke="#4a4a4a" stroke-width="0.26">25</text>
<text x="491.89" y="725.3" font-size="5.6" fill="#4a4a4a" font-family='"Liberation Sans", sans-serif' text-anchor="middle" textLength="5.3" lengthAdjust="spacingAndGlyphs" stroke="#4a4a4a" stroke-width="0.26">30</text>
<text x="508.65" y="725.3" font-size="5.6" fill="#4a4a4a" font-family='"Liberation Sans", sans-serif' text-anchor="middle" textLength="5.3" lengthAdjust="spacingAndGlyphs" stroke="#4a4a4a" stroke-width="0.26">35</text>
<text x="445.35" y="656.5" font-size="6.5" fill="#303030" font-family='"Liberation Sans", sans-serif' text-anchor="middle" textLength="39.5" lengthAdjust="spacingAndGlyphs" stroke="#303030" stroke-width="0.15">Alpha (7-12Hz)</text>
<clipPath id="cDr2"><rect x="388.3" y="627.7" width="123.35" height="88.7"/></clipPath>
<g clip-path="url(#cDr2)">
<path d="M391.3 707.9v.9m.7 -1.2v1.5m.3 -1.4v1.3m.3 -2.6v3.9m.7 -2.4v.9m.7 -1.9v2.9m.7 -2.5v2.1m.6 -1.8v1.7m.4 -1.8v2.1m.3 -2.9v3.8m.7 -3v2.6m.6 -2.7v3.1m.7 -2.9v2.9m.7 -2.1v1.4m.3 -1.3v1.3m.3 -1.8v2.3m.7 -2.7v3.3m.7 -2v.8m.7 -1.1v1.5m.6 -2.3v3.1m.4 -2.2v1.4m.3 -2.1v2.7m.7 -1.9v1.1m.6 -2.2v3.3m.7 -3.2v3.1m.7 -2.3v1.6m.7 -1.9v2.2m.3 -2.6v3.1m.3 -3v2.9m.7 -2.9v2.9m.7 -2.7v2.6m.6 -2.2v2.6m.4 -2.8v3.4m.3 -3.3v3.7m.3 -2.4v1.4m.4 -.7v1.2m.6 -.1v1.3m1.4 .3v1.7m.7 -.7v.9m1.3 -.2v.9m.7 -.8v1.3m.6 -1v.9m.7 -.9v1.1m2 -1.1v1.1m1.4 -1.1v1.1m.3 -.9v.9m.3 -1v1m-28.8 -36.5v8.4m.7 -11.6v18.7m.3 -14.5v12.3m.3 -15.2v13.3m.7 -21v18.8m.7 -13.1v11.8m.7 -13.5v19.6m.6 -17.7v23.7m.4 -16.9v14m.3 -14.3v6.8m.7 -17v11.5m.6 -12.2v21.7m.7 -10.8v8.7m.7 -13.2v13.8m.3 -11v6.2m.3 -12.8v23.4m.7 -11v6.4m.7 -14v8.3m.7 -18.5v15.5m.6 -12.2v22.6m.4 -13.3v10.9m.3 -12.8v12.7m.7 -13.9v11.2m.6 -9.6v12.4m.7 -10.2v12.4m.7 -21.1v24m.7 -21.1v12.3m.3 -12.7v10.2m.3 -10.3v11.5m.7 -15v20.9m.7 -16.6v14.7m.6 -23.3v22m.4 -25.1v23.3m.3 -11.6v11.7m.3 -3v6.1m.4 .8v3.9m.6 -.4v7.3m.7 -.4v3.7m.7 -2v2m.7 -1.5v2.9m.3 -1.8v1.5m.3 -4v4.5m.7 -6.1v3.5m.7 -4.7v1.9m.6 -5.5v5.5m.7 -7.2v5.4m.3 -7.3v7.4m.4 -3.8v2.6m.7 -1.5v5m.6 -2.8v5.4m.7 -2.5v1.9m.7 -1.3v3.1m.3 -2.7v3.5m.3 -4.2v5.1m.7 -5.8v7.1m.7 -4.5v2.6m.6 -2.8v3.5m.7 -5v7.1m.7 -5.2v3.9m.7 -5.4v7.5m3.3 -2.8v1m2 -.1v.9m1.4 -.3v.9m8.7 2.2v1m.7 -.8v1m7.3 -.1v.9m2 -.7v.8m.7 -.8v.9m4.7 -.7v.9m.7 -.9v.9m8.7 -.7v1m2.7 -1v1m1.3 -.9v.9m6.1 -.8v.9m2.6 -.9v.9m2 -.9v.9m2.1 -.9v.9m2 -.9v.9m8 -.9v.9m2.7 -.9v.9m4.7 -.9v.9m4.7 -.9v.9m2 -.9v.9m.7 -.9v.9m2.6 -.9v.9" stroke="#cccccc" stroke-width="0.55" fill="none" marker-start="url(#cap)" marker-mid="url(#cap)" marker-end="url(#cap)"/>
<path d="M391.3 708.3l.7 .7 .3-.1 .3 .3 .7-1.2 .7 .5 .7-.1 .6 .4 .4 .7 .3-.2 .7-.2 .6-.2 .7 .3 .7 .1 .3-.7 .3 .6 .7 .6 .7-.3 .7 .1 .6 .7 .4-1.9 .3 1.4 .7-.1 .6 0 .7 0 .7 .4 .7-1.5 .3 1.2 .3-1.1 .7 1.2 .7 0 .6 0 .4 1.1 .3-.3 .3 0 .4-.5 .6 2.1 .7 1.4 .7 .8 .7-.4 .3 .8 .3 0 .7 .3 .7 .5 .6-.1 .7 .2 .3-.1 .4 0 .7 .1 .6 .3 .7 .1 .7 0 .3 0 .3 .1 .7 .1 .7 0 .6 0 .7 0 .7 0 .7 0 .6 0 .7 0 .7 0 .6 0 .7 0 .7 0 .7 0 .6 0 .7 0 .7 0 .6 0 .7 0 .7 0 .6 0 .7 0 .7 0 .7 0 .6 0 .7 0 .7 0 .6 0 .7 0 .7 0 .7 0 .6 0 .7 0 .7 0 .6 0 .7 0 .7 0 .6 0 .7 0 .7 0 .7 0 .6 0 .7 0 .7 0 .6 0 .7 0 .7 0 .7 0 .6 0 .7 0 .7 0 .6 0 .7 0 .7 0 .6 0 .7 0 .7 0 .7 0 .6 0 .7 0 .7 0 .6 0 .7 0 .7 0 .7 0 .6 0 .7 0 .7 0 .6 0 .7 0 .7 0 .6 0 .7 0 .7 0 .7 0 .6 0 .7 0 .7 0 .6 0 .7 0 .7 0 .7 0 .6 0 .7 0 .7 0 .6 0 .7 0 .7 0 .6 0 .7 0 .7 0 .7 0 .6 0 .7 0 .7 0 .6 0 .7 0 .7 0 .7 0 .6 0 .7 0 .7 0 .6 0 .7 0 .7 0 .6 0 .7 0 .7 0 .7 0 .6 0 .7 0 .7 0 .6 0 .7 0 .7 0 .7 0 .6 0 .7 0 .7 0 .6 0 .7 0 .7 0 .6 0 .7 0 .7 0 .7 0 .6 0 .7 0 .7 0 .6 0 .7 0 .7 0 .6 0" stroke="#6e6e6e" stroke-width="1.05" fill="none" stroke-linejoin="round"/>
<path d="M391.3 683.9l.7 5.3 .3-1.3 .3-6.1 .7-2.5 .7 1.3 .7 3 .6 2.2 .4 3.7 .3-5.4 .7-5.1 .6 5.2 .7 2.5 .7-4.7 .3 2.4 .3 5.4 .7 .5 .7-6.1 .7-7.5 .6 8.1 .4 3.2 .3-.1 .7-3.8 .6 5 .7-1 .7-5.1 .7-1.4 .3-.1 .3-.9 .7 3.7 .7-.9 .6-4 .4-1.6 .3 6 .3 8 .4 2.7 .6 4.7 .7 5.3 .7 .5 .7 .8 .3 .8 .3-1.1 .7-2 .7-1.8 .6-.1 .7-3.4 .3-1.5 .4 3.7 .7 .4 .6 2.2 .7 1.5 .7-.4 .3 2.4 .3-.5 .7 .4 .7 .3 .6 .5 .7 .4 .7-.2 .7 .4 .6 .4 .7 0 .7 .4 .6 .9 .7-.2 .7 .4 .7 .2 .6 .8 .7 .1 .7-.1 .6 .5 .7 .2 .7 .6 .6 .2 .7 .2 .7 .4 .7 .1 .6 .3 .7 .2 .7 .2 .6 .4 .7 .2 .7 .1 .7 .2 .6-.2 .7 .4 .7 .1 .6-.2 .7 .2 .7 .2 .6-.2 .7 .1 .7 0 .7 .2 .6 .1 .7-.1 .7 .1 .6 0 .7 .3 .7-.1 .7 0 .6-.1 .7 .1 .7 .1 .6-.1 .7 .1 .7 0 .6 .2 .7 0 .7-.1 .7 .2 .6-.1 .7 0 .7 .1 .6 0 .7 0 .7-.2 .7 .2 .6-.1 .7 0 .7 0 .6 0 .7 .2 .7-.1 .6 .1 .7-.1 .7 .1 .7-.1 .6 .1 .7 0 .7 0 .6 0 .7 0 .7 .1 .7 0 .6 0 .7 0 .7-.1 .6 .1 .7-.1 .7 .1 .6 0 .7 0 .7 0 .7-.1 .6 0 .7 .1 .7 0 .6-.1 .7 .1 .7 0 .7 0 .6-.1 .7 .1 .7-.1 .6 0 .7 .1 .7-.1 .6 0 .7 .1 .7 0 .7-.1 .6 0 .7 0 .7 .1 .6-.1 .7 .1 .7 0 .7 0 .6 0 .7-.1 .7 0 .6 0 .7 .1 .7 0 .6-.1 .7 .1 .7 0 .7-.1 .6 .1 .7-.1 .7 .1 .6-.1 .7 .1 .7 0 .6 0" stroke="#74b84a" stroke-width="1.12" fill="none" stroke-linejoin="round"/>
</g>
<path d="M391.3 716.4H508.65" stroke="#919191" stroke-width="1.1" fill="none"/>
<path d="M391.3 739.6V798.4M389.1 798.4H391.3M389.1 783.7H391.3M389.1 769H391.3M389.1 754.3H391.3M389.1 739.6H391.3" stroke="#c4c4c4" stroke-width="0.9" fill="none"/>
<path d="M391.3 798.4V800.4M408.07 798.4V800.4M424.85 798.4V800.4M441.62 798.4V800.4M458.4 798.4V800.4M475.18 798.4V800.4M491.95 798.4V800.4M508.73 798.4V800.4" stroke="#606060" stroke-width="0.8" fill="none"/>
<text x="386.2" y="800.4" font-size="5.6" fill="#4a4a4a" font-family='"Liberation Sans", sans-serif' text-anchor="end" textLength="10.2" lengthAdjust="spacingAndGlyphs" stroke="#4a4a4a" stroke-width="0.22">0.00</text>
<text x="386.2" y="785.7" font-size="5.6" fill="#4a4a4a" font-family='"Liberation Sans", sans-serif' text-anchor="end" textLength="10.2" lengthAdjust="spacingAndGlyphs" stroke="#4a4a4a" stroke-width="0.22">0.03</text>
<text x="386.2" y="771" font-size="5.6" fill="#4a4a4a" font-family='"Liberation Sans", sans-serif' text-anchor="end" textLength="10.2" lengthAdjust="spacingAndGlyphs" stroke="#4a4a4a" stroke-width="0.22">0.05</text>
<text x="386.2" y="756.3" font-size="5.6" fill="#4a4a4a" font-family='"Liberation Sans", sans-serif' text-anchor="end" textLength="10.2" lengthAdjust="spacingAndGlyphs" stroke="#4a4a4a" stroke-width="0.22">0.08</text>
<text x="386.2" y="741.6" font-size="5.6" fill="#4a4a4a" font-family='"Liberation Sans", sans-serif' text-anchor="end" textLength="10.2" lengthAdjust="spacingAndGlyphs" stroke="#4a4a4a" stroke-width="0.22">0.10</text>
<text x="391.3" y="807.3" font-size="5.6" fill="#4a4a4a" font-family='"Liberation Sans", sans-serif' text-anchor="middle" textLength="2.7" lengthAdjust="spacingAndGlyphs" stroke="#4a4a4a" stroke-width="0.26">0</text>
<text x="408.07" y="807.3" font-size="5.6" fill="#4a4a4a" font-family='"Liberation Sans", sans-serif' text-anchor="middle" textLength="2.7" lengthAdjust="spacingAndGlyphs" stroke="#4a4a4a" stroke-width="0.26">5</text>
<text x="424.85" y="807.3" font-size="5.6" fill="#4a4a4a" font-family='"Liberation Sans", sans-serif' text-anchor="middle" textLength="5.3" lengthAdjust="spacingAndGlyphs" stroke="#4a4a4a" stroke-width="0.26">10</text>
<text x="441.62" y="807.3" font-size="5.6" fill="#4a4a4a" font-family='"Liberation Sans", sans-serif' text-anchor="middle" textLength="5.3" lengthAdjust="spacingAndGlyphs" stroke="#4a4a4a" stroke-width="0.26">15</text>
<text x="458.4" y="807.3" font-size="5.6" fill="#4a4a4a" font-family='"Liberation Sans", sans-serif' text-anchor="middle" textLength="5.3" lengthAdjust="spacingAndGlyphs" stroke="#4a4a4a" stroke-width="0.26">20</text>
<text x="475.18" y="807.3" font-size="5.6" fill="#4a4a4a" font-family='"Liberation Sans", sans-serif' text-anchor="middle" textLength="5.3" lengthAdjust="spacingAndGlyphs" stroke="#4a4a4a" stroke-width="0.26">25</text>
<text x="491.95" y="807.3" font-size="5.6" fill="#4a4a4a" font-family='"Liberation Sans", sans-serif' text-anchor="middle" textLength="5.3" lengthAdjust="spacingAndGlyphs" stroke="#4a4a4a" stroke-width="0.26">30</text>
<text x="508.73" y="807.3" font-size="5.6" fill="#4a4a4a" font-family='"Liberation Sans", sans-serif' text-anchor="middle" textLength="5.3" lengthAdjust="spacingAndGlyphs" stroke="#4a4a4a" stroke-width="0.26">35</text>
<text x="444.35" y="740.4" font-size="6.5" fill="#303030" font-family='"Liberation Sans", sans-serif' text-anchor="middle" textLength="38.9" lengthAdjust="spacingAndGlyphs" stroke="#303030" stroke-width="0.15">Beta (12-30Hz)</text>
<clipPath id="cDr3"><rect x="388.3" y="709.6" width="123.43" height="88.8"/></clipPath>
<g clip-path="url(#cDr3)">
<path d="M392 789.5v1.5m.3 -1.8v1.7m.3 -1.6v1m.4 -1.4v1.3m.3 -2.5v4m.7 -2.8v2m.7 -1.7v1.9m.6 -2.3v2.9m.4 -2.4v2.1m.3 -2.1v2.2m.7 -1.5v1.1m.6 -1.6v2.3m.7 -2.7v3.4m.7 -3.4v3.3m.3 -2.7v2.1m.4 -1.5v.9m.6 -1.6v2.3m.7 -1.6v.9m.7 -.9v.9m.6 -1.1v1.3m.4 -2.3v3.3m.3 -2.4v1.6m.7 -2.4v3.1m.6 -2.4v1.7m.7 -1.5v1.3m.7 -1.4v1.3m.3 -1.6v1.7m.4 -2.1v2.5m.6 -3.3v3.8m.7 -2.5v.9m.7 -1.4v1.8m.6 -2.2v3.5m.4 -2.4v1.7m.3 -2.4v3.6m.7 -1.6v1.7m.7 -.1v1.9m.6 .2v1m.7 -1.1v1.6m.7 -1.4v1.7m.6 -1.6v1.9m.7 -1.2v1m.7 -.8v1.1m.7 -.9v.9m.6 -1.3v1.9m.4 -1.4v1.1m1 -1.1v1.4m.6 -1.3v1.4m2.1 -1.3v1.8m2 -.9v.9m.6 -1.3v1.3m.7 -1.1v1.1m.7 -.9v.9m-32.9 -54.4v20.6m.7 -17.2v16.1m.3 -17.5v20.2m.3 -19.6v15.8m.4 -22.4v25.8m.3 -26.2v25.3m.7 -18.8v11.7m.7 -8.4v6.3m.6 -10.3v8.8m.4 -14.6v21.4m.3 -14.8v8.3m.7 -7.9v15.4m.6 -9v5.6m.7 -12.3v21.9m.7 -21.5v9.3m.3 -16.4v18.1m.4 -14.5v9.3m.6 -12.9v20.1m.7 -20.1v20.7m.7 -11.8v8m.6 -15.9v20.7m.4 -21.1v20m.3 -18.7v20.1m.7 -18.9v23.2m.6 -18.5v8m.7 -9.6v5.2m.7 -11.4v23.1m.3 -23.1v25.3m.4 -23.2v21.3m.6 -16.6v15.8m.7 -19.5v17.3m.7 -15.5v7.8m.6 -9.4v15m.4 -13.1v13.1m.3 -17.7v24.3m.4 -12.7v3m.3 -5.4v9.8m.7 .8v6.2m.6 2.6v6.2m.7 -4.5v9.9m.7 -5.5v8.2m.3 -6.4v8.1m.3 -7.3v5.3m.7 -6.6v5.6m.7 -8.4v8.9m.7 -9.2v4.8m.6 -7.5v5.4m.4 -5.2v2.7m.3 -3.3v6.2m.7 -3v4.5m.6 -1.2v2.6m.7 -1.8v2.9m.7 -3.2v5.4m.3 -3.8v3.1m.4 -4.4v6.3m.6 -5.1v4.7m.7 -6v8.3m.7 -6.6v5.6m.6 -6.9v8.9m.7 -7.5v6.8m.7 -5.9v5.7m1.3 -2.5v.9m.7 -.4v.9m2.7 1v.9m2 .5v.9m2.7 1v.9m5.3 2.1v.9m1.4 -.2v1m3.3 .3v.8m.7 -.7v1m.7 -.8v.9m1.3 -.5v.9m1.4 -.6v1m.6 -.8v.9m.7 -.8v.9m9.4 .2v.9m1.3 -.8v.8m3.4 -.7v.9m.7 -.8v.9m.6 -.9v.9m4.1 -.7v.9m1.3 -.8v.8m4.7 -.6v.9m15.4 -.7v.9m2.7 -.9v1m1.4 -1v.9m.6 -.8v.8m2.7 -.8v.8m1.4 -.8v.8m4.7 -.7v.8m4 -.8v.8m.7 -.8v.8m.6 -.9v1" stroke="#cccccc" stroke-width="0.55" fill="none" marker-start="url(#cap)" marker-mid="url(#cap)" marker-end="url(#cap)"/>
<path d="M391.3 790.9l.7-.8 .3-.2 .3 .5 .4-1.1 .3 1 .7-.5 .7 .4 .6 0 .4-.6 .3 1.8 .7-.5 .6-.3 .7 .1 .7 1.3 .3-2.2 .4 1.4 .6-1 .7 .6 .7 .1 .6 .3 .4-.5 .3-.9 .7 .5 .6 1.3 .7-1 .7-.1 .3-.3 .4 .2 .6 .9 .7-1 .7-.1 .6 .2 .4 1.1 .3 .5 .4-.7 .3 .6 .7 2.4 .6 1.3 .7 .3 .7 0 .3 .4 .3-.7 .7 1 .7 .2 .7 .1 .6-.6 .4 1.2 .3-.3 .7 .2 .6 0 .7 0 .7-.4 .3 .7 .4-.3 .6 .3 .7 .1 .7 .2 .6 0 .7 .2 .7 .1 .7 .1 .6 0 .7 0 .7 0 .6 0 .7 0 .7 0 .6 0 .7 0 .7 0 .7 0 .6 0 .7 0 .7 0 .6 0 .7 0 .7 0 .7 0 .6 0 .7 0 .7 0 .6 0 .7 0 .7 0 .7 0 .6 0 .7 0 .7 0 .6 0 .7 0 .7 0 .7 0 .6 0 .7 0 .7 0 .6 0 .7 0 .7 0 .6 0 .7 0 .7 0 .7 0 .6 0 .7 0 .7 0 .6 0 .7 0 .7 0 .7 0 .6 0 .7 0 .7 0 .6 0 .7 0 .7 0 .7 0 .6 0 .7 0 .7 0 .6 0 .7 0 .7 0 .7 0 .6 0 .7 0 .7 0 .6 0 .7 0 .7 0 .6 0 .7 0 .7 0 .7 0 .6 0 .7 0 .7 0 .6 0 .7 0 .7 0 .7 0 .6 0 .7 0 .7 0 .6 0 .7 0 .7 0 .7 0 .6 0 .7 0 .7 0 .6 0 .7 0 .7 0 .7 0 .6 0 .7 0 .7 0 .6 0 .7 0 .7 0 .7 0 .6 0 .7 0 .7 0 .6 0 .7 0 .7 0 .6 0 .7 0 .7 0 .7 0 .6 0 .7 0 .7 0 .6 0 .7 0 .7 0 .7 0 .6 0 .7 0 .7 0 .6 0 .7 0 .7 0 .7 0 .6 0" stroke="#6e6e6e" stroke-width="1.05" fill="none" stroke-linejoin="round"/>
<path d="M391.3 754.9l.7 .9 .3 .1 .3 1.7 .4-4.6 .3-1.7 .7-3.8 .7 4.8 .6-6.4 .4 .9 .3-1.1 .7 9.5 .6-.7 .7 3.8 .7-8.8 .3-.7 .4-2.4 .6-1.4 .7 10 .7-2.6 .6 3.1 .4-5.8 .3-.8 .7 6.4 .6-1.7 .7-6.5 .7 5.9 .3-.3 .4 4.6 .6-3.1 .7-7 .7 2.7 .6-3.9 .4 6.9 .3 3.7 .4-5 .3 4 .7 6.2 .6 10.2 .7 3.6 .7 1 .3 3.5 .3 .2 .7 .2 .7-3.1 .7-4.1 .6-1 .4-.8 .3 3.9 .7-.2 .6 3 .7-.8 .7 1.9 .3 .7 .4 1.7 .6 .8 .7-.7 .7 .1 .6 0 .7 .9 .7-.1 .7 .7 .6 .1 .7 .4 .7 .7 .6-.2 .7 1 .7 .8 .6-.3 .7 .9 .7 .1 .7 .9 .6 .6 .7 0 .7 1 .6 .3 .7 .1 .7 .5 .7 .6 .6 .4 .7 .5 .7 .5 .6-.1 .7 .5 .7 .3 .7 .5 .6 0 .7 .8 .7-.3 .6 0 .7 .3 .7 .5 .7 0 .6 .2 .7-.1 .7 .1 .6 .4 .7 0 .7 .2 .6 .1 .7 .3 .7-.2 .7 .2 .6 .1 .7 .1 .7 .1 .6-.1 .7 .1 .7 .4 .7-.3 .6 .2 .7-.1 .7 .4 .6 0 .7-.3 .7 .3 .7-.1 .6 0 .7 .1 .7 .1 .6-.1 .7 .2 .7-.3 .7 .1 .6 .2 .7 .1 .7-.1 .6 .1 .7 .1 .7 0 .6 .1 .7 0 .7 0 .7-.1 .6 0 .7 .2 .7 0 .6 .1 .7 0 .7 0 .7-.1 .6-.1 .7 .2 .7 0 .6 0 .7 .1 .7 0 .7-.1 .6 0 .7 0 .7-.1 .6 .2 .7-.2 .7 0 .7 .1 .6 .1 .7-.1 .7 0 .6 .1 .7-.1 .7 0 .7 0 .6 0 .7 0 .7 .1 .6 0 .7 0 .7-.1 .6 .1 .7-.1 .7 .2 .7-.1 .6 0 .7 .1 .7-.1 .6 0 .7 .1 .7-.1 .7 0 .6 .1 .7 0 .7 0 .6 0 .7 0 .7 0 .7-.1 .6 .1" stroke="#4a7bd0" stroke-width="1.12" fill="none" stroke-linejoin="round"/>
</g>
<path d="M391.3 798.4H508.73" stroke="#919191" stroke-width="1.1" fill="none"/>
<path d="M390.7 821.8V880.5M388.5 880.5H390.7M388.5 865.83H390.7M388.5 851.15H390.7M388.5 836.47H390.7M388.5 821.8H390.7" stroke="#c4c4c4" stroke-width="0.9" fill="none"/>
<path d="M390.7 880.5V882.5M407.57 880.5V882.5M424.44 880.5V882.5M441.31 880.5V882.5M458.19 880.5V882.5M475.06 880.5V882.5M491.93 880.5V882.5M508.8 880.5V882.5" stroke="#606060" stroke-width="0.8" fill="none"/>
<text x="385.6" y="882.5" font-size="5.6" fill="#4a4a4a" font-family='"Liberation Sans", sans-serif' text-anchor="end" textLength="10.2" lengthAdjust="spacingAndGlyphs" stroke="#4a4a4a" stroke-width="0.22">0.00</text>
<text x="385.6" y="867.83" font-size="5.6" fill="#4a4a4a" font-family='"Liberation Sans", sans-serif' text-anchor="end" textLength="10.2" lengthAdjust="spacingAndGlyphs" stroke="#4a4a4a" stroke-width="0.22">0.01</text>
<text x="385.6" y="853.15" font-size="5.6" fill="#4a4a4a" font-family='"Liberation Sans", sans-serif' text-anchor="end" textLength="10.2" lengthAdjust="spacingAndGlyphs" stroke="#4a4a4a" stroke-width="0.22">0.02</text>
<text x="385.6" y="838.47" font-size="5.6" fill="#4a4a4a" font-family='"Liberation Sans", sans-serif' text-anchor="end" textLength="10.2" lengthAdjust="spacingAndGlyphs" stroke="#4a4a4a" stroke-width="0.22">0.03</text>
<text x="385.6" y="823.8" font-size="5.6" fill="#4a4a4a" font-family='"Liberation Sans", sans-serif' text-anchor="end" textLength="10.2" lengthAdjust="spacingAndGlyphs" stroke="#4a4a4a" stroke-width="0.22">0.04</text>
<text x="390.7" y="889.4" font-size="5.6" fill="#4a4a4a" font-family='"Liberation Sans", sans-serif' text-anchor="middle" textLength="2.7" lengthAdjust="spacingAndGlyphs" stroke="#4a4a4a" stroke-width="0.26">0</text>
<text x="407.57" y="889.4" font-size="5.6" fill="#4a4a4a" font-family='"Liberation Sans", sans-serif' text-anchor="middle" textLength="2.7" lengthAdjust="spacingAndGlyphs" stroke="#4a4a4a" stroke-width="0.26">5</text>
<text x="424.44" y="889.4" font-size="5.6" fill="#4a4a4a" font-family='"Liberation Sans", sans-serif' text-anchor="middle" textLength="5.3" lengthAdjust="spacingAndGlyphs" stroke="#4a4a4a" stroke-width="0.26">10</text>
<text x="441.31" y="889.4" font-size="5.6" fill="#4a4a4a" font-family='"Liberation Sans", sans-serif' text-anchor="middle" textLength="5.3" lengthAdjust="spacingAndGlyphs" stroke="#4a4a4a" stroke-width="0.26">15</text>
<text x="458.19" y="889.4" font-size="5.6" fill="#4a4a4a" font-family='"Liberation Sans", sans-serif' text-anchor="middle" textLength="5.3" lengthAdjust="spacingAndGlyphs" stroke="#4a4a4a" stroke-width="0.26">20</text>
<text x="475.06" y="889.4" font-size="5.6" fill="#4a4a4a" font-family='"Liberation Sans", sans-serif' text-anchor="middle" textLength="5.3" lengthAdjust="spacingAndGlyphs" stroke="#4a4a4a" stroke-width="0.26">25</text>
<text x="491.93" y="889.4" font-size="5.6" fill="#4a4a4a" font-family='"Liberation Sans", sans-serif' text-anchor="middle" textLength="5.3" lengthAdjust="spacingAndGlyphs" stroke="#4a4a4a" stroke-width="0.26">30</text>
<text x="508.8" y="889.4" font-size="5.6" fill="#4a4a4a" font-family='"Liberation Sans", sans-serif' text-anchor="middle" textLength="5.3" lengthAdjust="spacingAndGlyphs" stroke="#4a4a4a" stroke-width="0.26">35</text>
<text x="444.1" y="823" font-size="6.5" fill="#303030" font-family='"Liberation Sans", sans-serif' text-anchor="middle" textLength="52" lengthAdjust="spacingAndGlyphs" stroke="#303030" stroke-width="0.15">Gamma (30-100Hz)</text>
<clipPath id="cDr4"><rect x="387.7" y="791.8" width="124.1" height="88.7"/></clipPath>
<g clip-path="url(#cDr4)">
<path d="M391.4 877.9v.8m.6 -1.1v1.3m2.1 -1.1v.9m2 -1.2v1.3m1.3 -1.3v1.3m.7 -1.2v1.1m.7 -1.2v1.2m1.3 -1.2v1.1m1.4 -1.1v1.1m.3 -1.2v1.3m.4 -1.1v.9m.6 -1.2v1.4m2.1 -1.3v1.1m.6 -1.1v1.1m.7 -1.1v1.1m1.4 -1.3v1.4m1 -1.3v1.2m.7 -1.1v.9m1.6 .3v.9m.7 -.7v.8m1 -.7v1m3.7 -.4v.9m-25.6 -45.6v21m.7 -20.7v22.4m.3 -21.4v21.3m.3 -13.1v5.9m.7 -13.3v22.6m.7 -13.6v7.6m.7 -14.2v23.7m.6 -14.5v7.3m.4 -6.4v6.4m.3 -9.9v13.4m.7 -12v10.7m.7 -16.2v24.6m.6 -16.1v10.5m.7 -13.2v13.5m.7 -19.5v23.2m.3 -25.9v27.4m.4 -23.3v18.1m.6 -15.5v10.5m.7 -17.1v21.3m.7 -15.6v11.9m.3 -11.4v11.9m.4 -11.9v10m.6 -14.1v14.2m.7 -12.7v14.1m.7 -17.5v23.9m.7 -17.1v9.2m.6 -20v29.5m.4 -24.4v18.8m.3 -22.7v27.8m.7 -21v16.5m.7 -16.6v19.1m.6 -24.4v17.9m.4 -16.6v9.4m.3 -5.9v12.2m.4 -4.6v6.8m.3 -2.5v7.9m.7 -.8v4m.6 1.6v3.1m.7 -4.9v7.9m.7 -7.6v8.5m.3 -5.8v3.7m.4 -6.9v9.5m.6 -10.3v9.9m.7 -9.6v8.1m.7 -5.9v2.6m.7 -4v4.2m.3 -5.8v6.8m.3 -3.8v2m.7 -3.3v6.9m.7 -6.3v8.1m.7 -4.3v2.8m.6 -2.7v5m.4 -6.5v9.2m.3 -5.7v2.7m.7 -5.3v9.1m.7 -5.2v2.5m.6 -4.1v6.3m.7 -7.8v9.9m.7 -9.4v9.4m.7 -6.3v3.8m1.3 -1.9v.9m1.4 -.7v1m1.3 -.6v.8m1.4 -.5v.9m2 -.5v.9m.7 -.8v.9m2 -.6v.9m3.4 -.4v.9m2 -.6v.9m4 -.6v1m7.5 -.8v.8m3.3 -.7v.8m1.4 -.8v.8m.7 -.9v1m7.4 -1v1m1.3 -.9v.8m.7 -.8v.8m.7 -.8v.9m.7 -.9v.9m1.3 -.9v.9m1.4 -.9v.8m.6 -.8v.8m.7 -.8v.8m1.4 -.8v.9m.6 -.9v.9m1.4 -.9v.8m1.3 -.8v.9m1.4 -.9v.9m1.3 -.9v.9m2.7 -1v1m2.7 -1v1m.7 -.9v.8m2 -.9v1m.7 -1v1m4.7 -.9v.9m.7 -.9v.9m.7 -.9v.9m1.3 -.9v.8m.7 -.8v.8m4.7 -.8v.9m1.4 -.9v.9m4 -.9v.8m2.1 -.9v1" stroke="#cccccc" stroke-width="0.55" fill="none" marker-start="url(#cap)" marker-mid="url(#cap)" marker-end="url(#cap)"/>
<path d="M390.7 878.1l.7-.1 .3-.1 .3 1 .7-.1 .7 .1 .7-1.2 .6 .8 .4 .1 .3 0 .7-1.1 .7 1.2 .6-1.4 .7 .1 .7 1.5 .3-.7 .4-.3 .6-.4 .7 1.4 .7 .1 .3-.1 .4-.9 .6 .4 .7-.1 .7 .3 .7-1.2 .6 1 .4-.6 .3-.3 .7 .4 .7 0 .6-.2 .4 1 .3-.8 .4-.1 .3 .5 .7 .7 .6-.1 .7 .1 .7 .2 .3 .1 .4 .2 .6 0 .7 .2 .7-.1 .7 0 .3 .3 .3 .3 .7-.2 .7 .1 .7 0 .6 .1 .4 0 .3 .1 .7 .1 .7 .1 .6 0 .7 0 .7 0 .7 0 .6 0 .7 0 .7 0 .7 0 .6 0 .7 0 .7 0 .7 0 .6 0 .7 0 .7 0 .7 0 .6 0 .7 0 .7 0 .7 0 .6 0 .7 0 .7 0 .7 0 .6 0 .7 0 .7 0 .7 0 .6 0 .7 0 .7 0 .7 0 .6 0 .7 0 .7 0 .7 0 .6 0 .7 0 .7 0 .7 0 .6 0 .7 0 .7 0 .7 0 .6 0 .7 0 .7 0 .7 0 .6 0 .7 0 .7 0 .7 0 .6 0 .7 0 .7 0 .7 0 .6 0 .7 0 .7 0 .7 0 .6 0 .7 0 .7 0 .7 0 .6 0 .7 0 .7 0 .7 0 .6 0 .7 0 .7 0 .7 0 .6 0 .7 0 .7 0 .7 0 .6 0 .7 0 .7 0 .7 0 .6 0 .7 0 .7 0 .7 0 .6 0 .7 0 .7 0 .7 0 .6 0 .7 0 .7 0 .7 0 .6 0 .7 0 .7 0 .7 0 .6 0 .7 0 .7 0 .7 0 .6 0 .7 0 .7 0 .7 0 .6 0 .7 0 .7 0 .7 0 .6 0 .7 0 .7 0 .7 0 .6 0 .7 0 .7 0 .7 0 .6 0 .7 0 .7 0 .7 0 .6 0 .7 0 .7 0 .7 0 .6 0 .7 0 .7 0 .7 0 .6 0 .7 0" stroke="#6e6e6e" stroke-width="1.05" fill="none" stroke-linejoin="round"/>
<path d="M390.7 844.6l.7-1.1 .3 3.2 .3 3.3 .7-2.6 .7 .2 .7 3.6 .6 3.4 .4-1.4 .3-.8 .7 1 .7-1.2 .6 3.7 .7-2.3 .7 1.2 .3-2.1 .4-2.3 .6 .2 .7-1.9 .7 .3 .3 1.5 .4 1.3 .6-4.6 .7 5.9 .7-2.7 .7-.5 .6-3.5 .4 3.2 .3-2.1 .7 7.8 .7-2.4 .6-8.3 .4-1.1 .3 4.8 .4 7.6 .3 2.3 .7 7.2 .6 2.9 .7-.6 .7 2.4 .3 0 .4 .8 .6-2.5 .7 .7 .7-1.8 .7-.3 .3 .6 .3-.2 .7 2.1 .7 .8 .7 .8 .6 1 .4 1.1 .3-1 .7 1 .7 1.4 .6 .6 .7 .1 .7 0 .7 .5 .6 .6 .7-.2 .7 .1 .7 .3 .6 .3 .7 0 .7 0 .7 0 .6 .2 .7 .2 .7 .4 .7-.1 .6 .3 .7 0 .7-.1 .7 .2 .6 .1 .7-.1 .7 .2 .7 .3 .6-.2 .7 .2 .7 .1 .7 .1 .6 .3 .7 0 .7-.1 .7 .3 .6 0 .7 0 .7-.2 .7 .1 .6 .2 .7-.1 .7 0 .7 0 .6-.1 .7 .1 .7-.1 .7 .1 .6-.1 .7 .2 .7-.1 .7 0 .6 0 .7 .2 .7-.1 .7 0 .6 .1 .7-.1 .7 0 .7-.1 .6 0 .7 .1 .7 .1 .7 0 .6 0 .7-.2 .7 .3 .7-.1 .6-.1 .7 .1 .7 .1 .7-.2 .6 0 .7-.1 .7 .2 .7-.1 .6-.1 .7 .2 .7-.1 .7-.1 .6 .2 .7-.1 .7-.1 .7 .2 .6 0 .7 0 .7 .1 .7-.2 .6-.1 .7 0 .7 .2 .7-.1 .6-.1 .7 .2 .7 0 .7-.1 .6 0 .7-.2 .7 .3 .7 .1 .6-.2 .7 .2 .7-.3 .7 .1 .6 0 .7 0 .7-.1 .7 .2 .6-.1 .7-.1 .7 .3 .7-.2 .6 0 .7 .1 .7 0 .7-.1 .6 0 .7 .2 .7-.2 .7 .2 .6-.2 .7 .1 .7 0 .7-.2 .6 .2 .7 .1 .7-.2 .7 0 .6 0 .7 0 .7-.1 .7 .1 .6-.1 .7 .1" stroke="#f0863a" stroke-width="1.12" fill="none" stroke-linejoin="round"/>
</g>
<path d="M390.7 880.5H508.8" stroke="#919191" stroke-width="1.1" fill="none"/>
<path d="M563 497.3V554.5M560.8 554.5H563M560.8 535.43H563M560.8 516.37H563M560.8 497.3H563" stroke="#c4c4c4" stroke-width="0.9" fill="none"/>
<path d="M563 554.5V556.5M579.93 554.5V556.5M596.86 554.5V556.5M613.79 554.5V556.5M630.71 554.5V556.5M647.64 554.5V556.5M664.57 554.5V556.5M681.5 554.5V556.5" stroke="#606060" stroke-width="0.8" fill="none"/>
<text x="557.9" y="556.5" font-size="5.6" fill="#4a4a4a" font-family='"Liberation Sans", sans-serif' text-anchor="end" textLength="10.2" lengthAdjust="spacingAndGlyphs" stroke="#4a4a4a" stroke-width="0.22">0.00</text>
<text x="557.9" y="537.43" font-size="5.6" fill="#4a4a4a" font-family='"Liberation Sans", sans-serif' text-anchor="end" textLength="10.2" lengthAdjust="spacingAndGlyphs" stroke="#4a4a4a" stroke-width="0.22">1.50</text>
<text x="557.9" y="518.37" font-size="5.6" fill="#4a4a4a" font-family='"Liberation Sans", sans-serif' text-anchor="end" textLength="10.2" lengthAdjust="spacingAndGlyphs" stroke="#4a4a4a" stroke-width="0.22">3.00</text>
<text x="557.9" y="499.3" font-size="5.6" fill="#4a4a4a" font-family='"Liberation Sans", sans-serif' text-anchor="end" textLength="10.2" lengthAdjust="spacingAndGlyphs" stroke="#4a4a4a" stroke-width="0.22">4.50</text>
<text x="563" y="563.4" font-size="5.6" fill="#4a4a4a" font-family='"Liberation Sans", sans-serif' text-anchor="middle" textLength="2.7" lengthAdjust="spacingAndGlyphs" stroke="#4a4a4a" stroke-width="0.26">0</text>
<text x="579.93" y="563.4" font-size="5.6" fill="#4a4a4a" font-family='"Liberation Sans", sans-serif' text-anchor="middle" textLength="2.7" lengthAdjust="spacingAndGlyphs" stroke="#4a4a4a" stroke-width="0.26">5</text>
<text x="596.86" y="563.4" font-size="5.6" fill="#4a4a4a" font-family='"Liberation Sans", sans-serif' text-anchor="middle" textLength="5.3" lengthAdjust="spacingAndGlyphs" stroke="#4a4a4a" stroke-width="0.26">10</text>
<text x="613.79" y="563.4" font-size="5.6" fill="#4a4a4a" font-family='"Liberation Sans", sans-serif' text-anchor="middle" textLength="5.3" lengthAdjust="spacingAndGlyphs" stroke="#4a4a4a" stroke-width="0.26">15</text>
<text x="630.71" y="563.4" font-size="5.6" fill="#4a4a4a" font-family='"Liberation Sans", sans-serif' text-anchor="middle" textLength="5.3" lengthAdjust="spacingAndGlyphs" stroke="#4a4a4a" stroke-width="0.26">20</text>
<text x="647.64" y="563.4" font-size="5.6" fill="#4a4a4a" font-family='"Liberation Sans", sans-serif' text-anchor="middle" textLength="5.3" lengthAdjust="spacingAndGlyphs" stroke="#4a4a4a" stroke-width="0.26">25</text>
<text x="664.57" y="563.4" font-size="5.6" fill="#4a4a4a" font-family='"Liberation Sans", sans-serif' text-anchor="middle" textLength="5.3" lengthAdjust="spacingAndGlyphs" stroke="#4a4a4a" stroke-width="0.26">30</text>
<text x="681.5" y="563.4" font-size="5.6" fill="#4a4a4a" font-family='"Liberation Sans", sans-serif' text-anchor="middle" textLength="5.3" lengthAdjust="spacingAndGlyphs" stroke="#4a4a4a" stroke-width="0.26">35</text>
<text x="616.3" y="496.3" font-size="6.5" fill="#303030" font-family='"Liberation Sans", sans-serif' text-anchor="middle" textLength="40" lengthAdjust="spacingAndGlyphs" stroke="#303030" stroke-width="0.15">Delta (0.1-3Hz)</text>
<clipPath id="cDn0"><rect x="560" y="467.3" width="124.5" height="87.2"/></clipPath>
<g clip-path="url(#cDn0)">
<path d="M563 532.6v5.7m.7 -4v7.3m.3 -6.4v8.1m.4 -6.5v7.4m.3 -6v7.1m.3 -8.6v10.7m.7 -10v10.3m.7 -8.2v7.1m.7 -5.8v5.1m.6 -7.2v9.8m.4 -10v10.4m.3 -7.1v3.8m.7 -3.9v4m.7 -3.4v2.8m.6 -2.2v2.1m.7 -1.9v2.2m.4 -5.5v9m.3 -8.8v7.4m.7 -9.7v9.5m.7 -10v7.9m.6 -6.8v7.2m.7 -7.3v8.9m.4 -7.4v6.7m.3 -4.9v3.4m.7 -3.8v4.7m.6 -6.2v8.2m.7 -7v4.8m.7 -7.9v10m.3 -9.4v8.3m.4 -9.5v8.4m.7 -11.1v9.2m.6 -11.6v9.4m.7 -12v4.5m.3 -9.8v10m.4 -3.4v3.6m.7 .8v8.3m.6 -3.5v7.6m.7 -2.8v6.9m.7 -4.8v4.7m.7 -5.2v7.8m.3 -7.4v7.8m.3 -8v8m.7 -7.4v7.1m.7 -4.6v2.2m.7 -3.1v3.5m.7 -2.9v1.7m.3 -3.3v4.7m.3 -4.2v4m.7 -5.3v7.1m.7 -7.2v7.7m.7 -6.4v5.6m.6 -4.7v4.4m.4 -3.2v2.2m.3 -3.4v4.9m.7 -6.1v6.7m.7 -6v6m.6 -4v3.1m.7 -3.1v3.4m.7 -3v2.9m.7 -3v3.4m.7 -3.2v3.1m.6 -3.2v3.5m.7 -2.4v1.5m.7 -2.4v3.3m.7 -2.6v2.1m.6 -2.4v2.8m.7 -2.3v1.9m.7 -2.3v2.9m1.4 -3v3m.6 -2.9v2.9m.7 -2.1v1.7m.7 -1.8v2m.7 -1.7v1.6m.6 -2.2v2.5m.7 -2.7v2.7m.7 -2v2m.7 -2.4v2.4m.6 -2.4v2.4m.7 -1.4v1.1m.7 -1.8v2.1m.7 -2.5v2.5m.7 -1.5v1.5m.6 -1.9v1.9m.7 -1.6v1.6m.7 -1.4v1.4m.7 -2v2m.6 -1.8v1.8m.7 -1.4v1.4m1.4 -1.3v1.3m.6 -2.2v2.2m1.4 -1.9v1.9m1.4 -1.7v1.7m.6 -1.1v1m.7 -1.2v1.3m.7 -1.1v.9m.7 -1.9v2.1m.6 -1.2v1.1m1.4 -2.2v2.3m.7 -1.9v1.9m.7 -2v2m.6 -1.4v1.4m.7 -1.3v1.3m.7 -2v2m.7 -2.4v2.4m.6 -1.9v1.9m.7 -1.1v.9m.7 -1.4v1.6m.7 -1.4v1.4m.6 -1.3v1.3m.7 -1.6v1.6m1.4 -2v2m.7 -2.3v2.3m.6 -2v2m.7 -1.9v1.9m.7 -1.2v1.1m.7 -1.7v1.8m.6 -1.5v1.5m.7 -1.6v1.6m.7 -1.9v1.9m.7 -2v2m.6 -1.6v1.6m.7 -1.6v1.6m.7 -1.8v1.8m.7 -1.4v1.4m.7 -1.3v1.3m.6 -1.9v1.9m.7 -1.9v1.9m.7 -1.7v1.7m.7 -1.4v1.4m.6 -2.1v2.1m.7 -2.1v2.1m.7 -1.3v1.2m.7 -1.8v1.9m.7 -1.2v.8m1.3 -1.9v2.3m.7 -2.2v2.2m.7 -2.7v2.7m.6 -2.5v2.5m.7 -2.4v2.4m.7 -1.7v1.5m.7 -2.4v2.6m.6 -2.5v2.5m.7 -2.4v2.4m.7 -2.4v2.4m.7 -2.4v2.4m.7 -2.2v2.2m.6 -2.2v2.2m.7 -1.8v1.8m.7 -2.3v2.3m.7 -1.7v1.7m1.3 -2.1v2.1m.7 -1.5v1.5m.7 -2v2m.6 -1.8v1.8m.7 -1.8v1.8m.7 -1.9v1.9m.7 -1.3v1.3m.7 -1.8v1.8m.6 -1.8v1.8m1.4 -1.9v1.9m.7 -1.2v1.2m1.3 -1.7v1.7m.7 -1.8v1.8m.7 -1.7v1.7m.7 -1.5v1.5m.6 -1.5v1.5m.7 -1.1v1.1m1.4 -1.6v1.6m.6 -1v1m.7 -1.7v1.7m.7 -1.5v1.5m.7 -1.2v1.2m.6 -1.9v1.9m1.4 -2v2m-118.5 -28.3v5.8m.7 -5.6v7m.3 -7.3v8.5m.4 -4.1v5.7m.3 -1.5v3.1m.3 0v2.9m.7 -2.5v4.7m.7 -2.9v3.5m.7 -6.2v7.9m.6 -7.8v6.8m.4 -5.2v3m.3 -4.1v6m.7 -6.3v8.2m.7 -7.2v7.7m.6 -5.5v4.8m.7 -2.5v1.7m.4 -3.5v6m.3 -7.5v8.5m.7 -6.4v3.4m.7 -5.1v5.7m.6 -6.8v6.9m.7 -6.8v5.7m.4 -6.9v7.6m.3 -5.5v4.1m.7 -4.5v6.5m.6 -4.6v4.2m.7 -4.4v4.1m.7 -6.5v8.4m.3 -5.7v2.7m.4 -3.8v4.7m.7 -4.9v4.5m.6 -3.3v1.7m.7 -29v2.9m.3 -17.4v5.2m.4 .6v7.2m.7 5.3v9.3m.6 2.7v6.9m.7 2.1v10.4m.7 -5.1v2.9m.7 -2.6v5.4m.3 -4.2v4.5m.3 -7.3v5m.7 -10.6v6m.7 -12.8v9.5m.7 -15.2v8.7m.7 -11.5v2m.3 -6.6v5.1m.3 -3.2v7.5m.7 1.1v2.5m.7 3.1v3.5m.7 1.3v3.1m.6 -.7v7.3m.4 -4.2v5.7m.3 -7.4v10.2m.7 -9.2v10.2m.7 -8.9v9.6m.6 -7.6v6.4m.7 -5.6v5.5m.7 -3.7v2.8m.7 -5.5v8m.7 -3.8v1.2m.6 -.9v.9m2.1 -.5v.8m2 -.4v.9m.7 -.8v.9m1.3 -.8v1.2m3.4 -.5v1m1.4 -.8v.9m1.3 -.9v1.1m.7 -1v1.1m2.7 -.9v1.2m.7 -1.1v1.1m1.3 -1v.9m2.7 -1.1v1.2m.7 -1.2v1.1m.7 -1.2v1.3m2 -1.3v1.2m1.4 -1.3v1.3m.7 -1.3v1.3m2 -1.1v.9m1.4 -1.1v1.1m.6 -1v.9m.7 -.9v.9m2.7 -1.2v1.3m2.7 -1.8v.8m1.4 -.2v1m.7 -.9v.9m.6 -.7v.9m.7 -.9v1.1m.7 -1.1v1.3m1.3 -1.1v1m.7 -1v1.1m.7 -1.2v1.2m.7 -1v1m1.3 -.9v.9m1.4 -1v1m.7 -.9v.9m1.3 -.9v.9m3.4 -.9v.9m2 -.9v.9m8.2 -.9v.9m4.7 -.9v.9m4.7 -.9v.9m4.1 -.9v.9m1.4 -.9v.9m5.4 -.9v.9m-24.7 -5v5m-17.7 -3.8v3.8m-36.9 -5.7v4.4m3.4 -3.8v4.5m2.7 -3.8v3.8" stroke="#cccccc" stroke-width="0.55" fill="none" marker-start="url(#cap)" marker-mid="url(#cap)" marker-end="url(#cap)"/>
<path d="M563 534.7l.7 3.7 .3-.9 .4 4.6 .3-.1 .3 .7 .7 .4 .7-.3 .7 0 .6-.8 .4 1.9 .3-.6 .7-.1 .7 .1 .6 0 .7 .7 .4 .4 .3-1.6 .7-.7 .7-1 .6-.6 .7 1.9 .4 .3 .3-.1 .7 .6 .6 .4 .7 .6 .7-2.2 .3 .9 .4 .1 .7-3 .6-3.8 .7-7.4 .3 .4 .4 4 .7 6.3 .6 3.9 .7 4.8 .7 .7 .7 1.2 .3 .5 .3 .7 .7-.6 .7-.2 .7-.4 .7 .2 .3-.1 .3 .5 .7-.3 .7 .6 .7 0 .6-.5 .4 .9 .3-.4 .7 .9 .7 .2 .6 .1 .7-.2 .7 .3 .7 0 .7 .4 .6 .1 .7 0 .7 0 .7 .3 .6-.3 .7 .1 .7-.1 .7 .4 .7 .1 .6 .1 .7 0 .7-.2 .7 .1 .6 .2 .7 0 .7-.1 .7 0 .6 .1 .7 .2 .7 0 .7 .1 .7-.1 .6 0 .7 .1 .7 0 .7 .1 .6 0 .7 0 .7-.1 .7 .1 .6-.1 .7 0 .7 .1 .7 0 .7-.1 .6 .1 .7-.1 .7 0 .7 .1 .6 0 .7-.1 .7 .1 .7 0 .7 .1 .6-.1 .7-.1 .7 .2 .7-.1 .6 0 .7 0 .7 0 .7 0 .6-.1 .7 .1 .7 0 .7 0 .7 0 .6 .1 .7-.1 .7-.1 .7 .1 .6 0 .7 0 .7 0 .7-.1 .6 .1 .7-.1 .7 0 .7 .1 .7 0 .6 0 .7 0 .7-.1 .7 0 .6 .1 .7 0 .7-.2 .7 .1 .7-.1 .6-.1 .7-.1 .7 .1 .7-.2 .6 .2 .7-.2 .7 .1 .7 .1 .6-.1 .7 .1 .7 .1 .7 0 .7 .1 .6 .1 .7 0 .7 .1 .7 0 .6-.1 .7 .1 .7 0 .7 .1 .6 0 .7 0 .7 0 .7 0 .7 0 .6 0 .7 0 .7 .1 .7-.1 .6 0 .7 0 .7 0 .7 .1 .7-.1 .6 .1 .7-.1 .7 0 .7 0 .6 0 .7 0 .7 0 .7 0 .6 0 .7 0 .7 .1" stroke="#6e6e6e" stroke-width="1.05" fill="none" stroke-linejoin="round"/>
<path d="M563 529.8l.7-.6 .3 .4 .4 2 .3 5.2 .3 2.6 .7 2.8 .7-.3 .7-1.2 .6 .4 .4-1 .3 1.5 .7-.6 .7 1.4 .6 1.2 .7-.4 .4 .8 .3-.5 .7-.6 .7-.1 .6 1.1 .7-1.8 .4-.7 .3 2.4 .7-.1 .6-.1 .7-.4 .7 .6 .3-.7 .4 0 .7-.1 .6-.3 .7-26.5 .3-12.9 .4 9.9 .7 8.8 .6 11.4 .7 11 .7 2.3 .7 1.2 .3 .5 .3-2.3 .7-6.4 .7-4.6 .7-6.7 .7-5.8 .3-1.5 .3-.1 .7 11 .7 3.4 .7 5.3 .6 3.6 .4 2.3 .3 .5 .7 1.4 .7 .8 .6 .7 .7 .2 .7 .2 .7 .7 .7 .1 .6 .1 .7 .3 .7 .2 .7-.1 .6 .5 .7-.4 .7 .4 .7 .1 .7 .2 .6 .2 .7 .2 .7-.1 .7 0 .6 .4 .7-.1 .7 .3 .7-.1 .6 0 .7 .1 .7 0 .7 .3 .7-.1 .6 .1 .7 .1 .7 .1 .7-.1 .6 .1 .7-.1 .7-.1 .7 .2 .6-.1 .7 0 .7 0 .7-.1 .7 0 .6 0 .7-.1 .7 0 .7 .2 .6-.1 .7-.1 .7-.1 .7 0 .7 0 .6-.1 .7 .1 .7 .1 .7-.1 .6-.1 .7-.1 .7-.4 .7-.7 .6 .1 .7 .7 .7 .3 .7 0 .7 .2 .6 0 .7 .2 .7 .1 .7 0 .6 .2 .7 0 .7-.1 .7 0 .6 .1 .7 0 .7 0 .7 .1 .7 0 .6 .1 .7 0 .7 0 .7 0 .6 .1 .7-.1 .7 0 .7 0 .7 0 .6 0 .7 .1 .7-.1 .7 0 .6 .1 .7 0 .7-.1 .7 0 .6 .1 .7-.1 .7 .1 .7-.1 .7 .1 .6-.1 .7 0 .7 .1 .7-.1 .6 .1 .7 0 .7-.1 .7 .1 .6-.1 .7 0 .7 .1 .7 0 .7-.1 .6 .1 .7-.1 .7 0 .7 0 .6 0 .7 .1 .7 0 .7 0 .7 0 .6-.1 .7 .1 .7-.1 .7 0 .6 .1 .7-.1 .7 .1 .7 0 .6 0 .7-.1 .7 .1" stroke="#7b3bb3" stroke-width="1.12" fill="none" stroke-linejoin="round"/>
</g>
<path d="M563 554.5H681.5" stroke="#919191" stroke-width="1.1" fill="none"/>
<path d="M637.5 504.8H645.4" stroke="#7b3bb3" stroke-width="1.1"/>
<path d="M637.5 512.7H645.4" stroke="#8a8a8a" stroke-width="0.9"/>
<text x="645.8" y="506.9" font-size="5.8" fill="#303030" font-family='"Liberation Sans", sans-serif' textLength="34" lengthAdjust="spacingAndGlyphs" stroke="#303030" stroke-width="0.12">Freely-moving</text>
<text x="645.8" y="514.8" font-size="5.8" fill="#303030" font-family='"Liberation Sans", sans-serif' textLength="31.45" lengthAdjust="spacingAndGlyphs" stroke="#303030" stroke-width="0.12">Anesthetized</text>
<path d="M563.1 577.9V636.4M560.9 636.4H563.1M560.9 616.9H563.1M560.9 597.4H563.1M560.9 577.9H563.1" stroke="#c4c4c4" stroke-width="0.9" fill="none"/>
<path d="M563.1 636.4V638.4M580.01 636.4V638.4M596.93 636.4V638.4M613.84 636.4V638.4M630.76 636.4V638.4M647.67 636.4V638.4M664.59 636.4V638.4M681.5 636.4V638.4" stroke="#606060" stroke-width="0.8" fill="none"/>
<text x="558" y="638.4" font-size="5.6" fill="#4a4a4a" font-family='"Liberation Sans", sans-serif' text-anchor="end" textLength="10.2" lengthAdjust="spacingAndGlyphs" stroke="#4a4a4a" stroke-width="0.22">0.00</text>
<text x="558" y="618.9" font-size="5.6" fill="#4a4a4a" font-family='"Liberation Sans", sans-serif' text-anchor="end" textLength="10.2" lengthAdjust="spacingAndGlyphs" stroke="#4a4a4a" stroke-width="0.22">1.00</text>
<text x="558" y="599.4" font-size="5.6" fill="#4a4a4a" font-family='"Liberation Sans", sans-serif' text-anchor="end" textLength="10.2" lengthAdjust="spacingAndGlyphs" stroke="#4a4a4a" stroke-width="0.22">2.00</text>
<text x="558" y="579.9" font-size="5.6" fill="#4a4a4a" font-family='"Liberation Sans", sans-serif' text-anchor="end" textLength="10.2" lengthAdjust="spacingAndGlyphs" stroke="#4a4a4a" stroke-width="0.22">3.00</text>
<text x="563.1" y="645.3" font-size="5.6" fill="#4a4a4a" font-family='"Liberation Sans", sans-serif' text-anchor="middle" textLength="2.7" lengthAdjust="spacingAndGlyphs" stroke="#4a4a4a" stroke-width="0.26">0</text>
<text x="580.01" y="645.3" font-size="5.6" fill="#4a4a4a" font-family='"Liberation Sans", sans-serif' text-anchor="middle" textLength="2.7" lengthAdjust="spacingAndGlyphs" stroke="#4a4a4a" stroke-width="0.26">5</text>
<text x="596.93" y="645.3" font-size="5.6" fill="#4a4a4a" font-family='"Liberation Sans", sans-serif' text-anchor="middle" textLength="5.3" lengthAdjust="spacingAndGlyphs" stroke="#4a4a4a" stroke-width="0.26">10</text>
<text x="613.84" y="645.3" font-size="5.6" fill="#4a4a4a" font-family='"Liberation Sans", sans-serif' text-anchor="middle" textLength="5.3" lengthAdjust="spacingAndGlyphs" stroke="#4a4a4a" stroke-width="0.26">15</text>
<text x="630.76" y="645.3" font-size="5.6" fill="#4a4a4a" font-family='"Liberation Sans", sans-serif' text-anchor="middle" textLength="5.3" lengthAdjust="spacingAndGlyphs" stroke="#4a4a4a" stroke-width="0.26">20</text>
<text x="647.67" y="645.3" font-size="5.6" fill="#4a4a4a" font-family='"Liberation Sans", sans-serif' text-anchor="middle" textLength="5.3" lengthAdjust="spacingAndGlyphs" stroke="#4a4a4a" stroke-width="0.26">25</text>
<text x="664.59" y="645.3" font-size="5.6" fill="#4a4a4a" font-family='"Liberation Sans", sans-serif' text-anchor="middle" textLength="5.3" lengthAdjust="spacingAndGlyphs" stroke="#4a4a4a" stroke-width="0.26">30</text>
<text x="681.5" y="645.3" font-size="5.6" fill="#4a4a4a" font-family='"Liberation Sans", sans-serif' text-anchor="middle" textLength="5.3" lengthAdjust="spacingAndGlyphs" stroke="#4a4a4a" stroke-width="0.26">35</text>
<text x="616.4" y="577.7" font-size="6.5" fill="#303030" font-family='"Liberation Sans", sans-serif' text-anchor="middle" textLength="36.2" lengthAdjust="spacingAndGlyphs" stroke="#303030" stroke-width="0.15">Theta (3-7Hz)</text>
<clipPath id="cDn1"><rect x="560.1" y="547.9" width="124.4" height="88.5"/></clipPath>
<g clip-path="url(#cDn1)">
<path d="M563.1 614.7v2.4m.7 -3.1v4.6m.3 -5.4v6.6m.4 -6.6v7m.3 -6.3v6m.3 -3.8v2m.7 -4.5v7.8m.7 -6.7v6.3m.7 -5.5v5.1m.6 -3.8v3m.4 -3.4v4m.3 -5.3v6.7m.7 -8v9.7m.7 -7.5v5.7m.6 -5.3v4.5m.7 -6.5v8.1m.4 -6v3.7m.3 -3.3v2.7m.7 -3.1v3.1m.6 -3.4v3.3m.7 -2.9v2.5m.7 -3.9v5.4m.3 -3.6v1.8m.4 -3.6v5.4m.7 -6.6v7.7m.6 -7.2v6.7m.7 -8.3v9.6m.7 -8.9v7.7m.3 -7.7v7.6m.4 -5.5v3.2m.6 -3.8v4m.7 -6.1v7.8m.7 -11.3v7m.3 -9.2v7.5m.4 -1.9v2.8m.6 3.5v3.2m.7 1.8v2.9m.7 2.1v2.7m.7 -2.7v5m.7 -2.1v1.6m.3 -2.4v4.3m.3 -3.6v3.5m.7 -1.9v1.4m.7 -1.7v3.1m.7 -3.4v3.4m.6 -3.9v3.9m.4 -4.4v4.4m.3 -2.4v1.3m.7 -1.1v1.7m.7 -2.7v3.2m.6 -3.8v3.8m.7 -2.2v1.6m.4 -3v3.6m.3 -2.2v1.2m.7 -1.2v.9m.6 -3.3v4.6m.7 -3.9v3.9m.7 -3v2.9m.7 -3.6v3.7m.7 -3.1v3.1m.6 -1.6v1.2m.7 -1v.9m.7 -1v1.3m.7 -1.7v1.9m.6 -1.7v1.7m.7 -1.1v.8m.7 -1.1v1.4m.7 -1.5v1.5m1.3 -1v1m1.4 -1.1v1.1m.6 -1.2v1.2m.7 -1.1v1.1m1.4 -1.2v1.2m.7 -1.2v1.2m2.7 -1.1v1.1m1.3 -.9v.9m.7 -1.1v1.1m1.3 -1v1m.7 -.9v.9m.7 -1v1m.7 -1.2v1.2m.6 -1.3v1.3m.7 -1.3v1.3m.7 -1.1v1.1m1.4 -1.6v1.6m.6 -1.2v1.2m.7 -1.7v1.7m.7 -1.2v1.1m.7 -1.6v1.7m2 -1.6v1.6m2 -1.4v1.2m.7 -1.3v1.4m.7 -1.4v1.3m.7 -1.6v1.8m.6 -1.4v1m.7 -1.3v1.5m.7 -1.7v1.9m1.3 -1.8v1.8m1.4 -1.2v.9m.7 -1v1.3m.6 -1.1v1.1m.7 -1.5v1.5m.7 -1.4v1.4m1.3 -1v.9m.7 -1.4v1.5m.7 -1.3v1.3m1.4 -1v1m1.3 -1.3v1.3m.7 -1.4v1.4m.7 -1.3v1.3m1.3 -1.2v1.2m.7 -1v1m.7 -1.1v1.1m.6 -1.4v1.4m.7 -.9v.9m1.4 -1v1m1.3 -1.3v1.3m2.1 -1.4v1.4m1.3 -1.4v1.4m1.4 -1.3v1.3m1.3 -1.1v1.1m.7 -1.3v1.3m.7 -1.2v1.2m1.3 -1.2v1.2m.7 -.9v.9m1.3 -1.4v1.4m.7 -1.3v1.3m2.7 -1.1v1.1m.7 -1v1m.7 -1.1v1.1m2 -1v1m1.4 -1.3v1.3m.6 -1v1m2.1 -1.1v1.1m1.3 -1.2v1.2m.7 -1.3v1.3m2 -1v1m1.4 -1.1v1.1m.7 -1.1v1.1m.6 -1.2v1.2m.7 -1v1m1.4 -1.2v1.2m-116.4 -26.3v5.8m.7 -3.3v4.7m.3 -4.1v5.5m.4 -5.9v6.9m.3 -5v3.7m.3 -4.5v6m.7 -5.7v6.4m.7 -3.9v2.4m.7 -4.2v2.8m.6 -5.3v4.7m.4 -6.5v6.8m.3 -6.5v7.7m.7 -7.2v9.8m.7 -4.8v2.9m.6 -7.6v9.2m.7 -8.5v4.7m.4 -4.3v2.3m.3 -4.3v7.5m.7 -6.9v8.7m.6 -7.9v9.4m.7 -7.8v6.9m.7 -4.5v2.9m.3 -2.7v2.9m.4 -3.4v4.4m.7 -5.5v7.3m.6 -6.1v5.7m.7 -7.4v7.6m.7 -6.2v3.2m.3 -4.5v5m.4 -4.2v3.8m.6 -5.5v8m.7 -4.8v2.3m.7 -13.7v3.1m.3 -11v7.8m.4 -.3v3.2m.6 7.1v3.4m.7 -.7v7.7m.7 -4.4v10.9m.7 -6.4v3.5m.7 -6.7v11.4m.3 -9v7.4m.3 -11.7v12.9m.7 -15.2v11.2m.7 -10.7v4m.7 -11.4v12.6m.6 -12.7v6.5m.4 -11v12.4m.3 -6.6v5.5m.7 -.9v5.7m.7 .1v3.4m.6 -6.6v12.2m.7 -7.6v5.3m.4 -4.3v4.5m.3 -7.8v11.3m.7 -10.8v10.7m.6 -11.5v12.8m.7 -12.3v12.2m.7 -8.4v5m.7 -7.4v10.2m.7 -8v6.2m3.3 -2.6v.9m.7 -.8v1.1m2.7 -.2v.9m2.7 -.1v.9m.7 -.8v1m.7 -.7v.9m3.4 -.4v1.1m2.7 -.5v1.1m2 -.9v1.3m1.3 -1v1.1m2.8 -.7v1.1m1.3 -.8v.9m1.4 -.8v.9m3.3 -.9v1.3m.7 -1v.8m1.4 -.8v.9m2 -.9v1.2m2 -1v.9m3.4 -.8v.9m.7 -.8v.8m.7 -1v1.2m1.3 -1.1v1.1m1.4 -1.1v1.2m1.3 -1.1v1.2m2.1 -1v.9m1.3 -1.1v1.3m.7 -1.1v1m.7 -.9v.9m.6 -.9v.9m.7 -1v1.1m3.4 -1.1v1.3m1.4 -1.2v1.2m4 -1v.9m.7 -.8v.8m.7 -1v1.2m.6 -1.1v1.1m2.7 -1.1v1.1m.7 -1.1v1.1m.7 -1v1m1.4 -1v1m1.3 -1v1m2.7 -1v1m2 -1v1m.7 -.9v.9m2.7 -.9v.9m.7 -1v1m2 -1v1m2.1 -1v1m.6 -.9v.9m.7 -1v1m3.4 -.9v.9" stroke="#cccccc" stroke-width="0.55" fill="none" marker-start="url(#cap)" marker-mid="url(#cap)" marker-end="url(#cap)"/>
<path d="M563.1 615.9l.7-1.2 .3 3.6 .4-3.5 .3 2.9 .3-.5 .7 1.6 .7-1.4 .7 1.2 .6-2 .4 2.8 .3-.1 .7-2 .7 1.8 .6-1.5 .7 1.7 .4-1.4 .3-.6 .7 0 .6 .8 .7-1.7 .7 2.9 .3-3.1 .4-.2 .7 .5 .6 1.7 .7 .2 .7-.3 .3-2.2 .4 2.5 .6-1.9 .7 0 .7-2.3 .3-3.8 .4 5.3 .6 5.5 .7 4.3 .7 4.9 .7 1.4 .7 .6 .3 1.2 .3 .5 .7 .2 .7 .6 .7 .6 .6-.6 .4-.6 .3 .3 .7 .8 .7-.1 .6-.6 .7-.1 .4 .5 .3 .4 .7-.6 .6-.4 .7 .3 .7 0 .7 .1 .7 .4 .6 0 .7 .2 .7 .1 .7 .1 .6-.1 .7 0 .7 .2 .7 .1 .6-.1 .7 .1 .7 .1 .7 0 .6 .1 .7-.1 .7 0 .7 0 .7 0 .6 0 .7 0 .7 0 .7 0 .6 0 .7 0 .7 0 .7 0 .6 0 .7-.1 .7 0 .7 0 .6 .1 .7-.1 .7 0 .7-.1 .7 0 .6 0 .7-.1 .7 0 .7-.1 .6 .1 .7 0 .7 .1 .7-.1 .6 0 .7-.2 .7 0 .7 .1 .7-.1 .6 0 .7 0 .7 0 .7-.1 .6 .2 .7 .1 .7-.1 .7 .1 .6 .1 .7 0 .7 .1 .7-.1 .6 0 .7 .1 .7 0 .7 0 .7 .1 .6-.2 .7 .1 .7 .1 .7-.1 .6 .1 .7 0 .7 0 .7 0 .6 0 .7 0 .7 0 .7 0 .6 0 .7 0 .7 0 .7 0 .7 .1 .6-.1 .7 .1 .7-.1 .7 .1 .6 0 .7 0 .7-.1 .7 0 .6 .1 .7 0 .7 0 .7-.1 .6 .1 .7 0 .7 0 .7 0 .7 0 .6 0 .7 0 .7 0 .7 0 .6 0 .7 0 .7 0 .7 0 .6 0 .7 .1 .7 0 .7-.1 .7 0 .6 .1 .7 0 .7-.1 .7 .1 .6 0 .7 0 .7 0 .7-.1 .6 .1 .7 0 .7 0 .7 0 .6 0 .7 0 .7 0" stroke="#6e6e6e" stroke-width="1.05" fill="none" stroke-linejoin="round"/>
<path d="M563.1 612.7l.7 2.6 .3-.2 .4 1.9 .3 .6 .3-.9 .7-.6 .7 2.1 .7-2.1 .6-.9 .4-1.4 .3 .8 .7 .9 .7 2.3 .6-3.7 .7-.5 .4 .2 .3-.1 .7 1.2 .6 2 .7 .4 .7 .6 .3 .4 .4-1 .7 1.1 .6 .4 .7-2.4 .7 2.6 .3-2.6 .4 .5 .6-1.3 .7 1.9 .7-11 .3-4.4 .4 7.3 .6 8.2 .7 4.2 .7 5.1 .7 1 .7 1.1 .3-.4 .3-.6 .7-3.1 .7-4.1 .7-4.5 .6-3.4 .4-.4 .3 1.9 .7 6 .7 4.4 .6 1.7 .7-1 .4 1.8 .3 .9 .7-.4 .6 .3 .7-.2 .7 1 .7 .2 .7-.3 .6 .1 .7 .5 .7 .1 .7 .6 .6-.1 .7 .2 .7 .2 .7 .1 .6 .3 .7 .6 .7-.2 .7 .4 .6-.3 .7 .4 .7 .1 .7 .3 .7 .1 .6 .1 .7 .2 .7 .4 .7-.2 .6 .3 .7 0 .7 0 .7 .4 .6-.2 .7 .2 .7 .3 .7-.1 .6 .1 .7 0 .7 .3 .7 .3 .7-.2 .6 .4 .7 .1 .7 0 .7 0 .6-.1 .7 .1 .7-.1 .7 .4 .6-.2 .7-.1 .7 .3 .7-.2 .7 .2 .6 .2 .7 0 .7 0 .7 .1 .6 0 .7-.1 .7 0 .7 .1 .6 0 .7 0 .7 0 .7 .1 .6-.2 .7 .2 .7 0 .7 .1 .7-.1 .6 .1 .7-.1 .7 0 .7 .2 .6-.1 .7 .1 .7 0 .7 .2 .6-.2 .7 0 .7 .1 .7 0 .6 0 .7 0 .7 .1 .7-.1 .7 .2 .6-.2 .7 .2 .7 0 .7-.1 .6 .1 .7 0 .7-.1 .7 .2 .6 0 .7 0 .7 0 .7-.1 .6 .1 .7 0 .7 .1 .7-.1 .7 .1 .6 0 .7 0 .7 0 .7 0 .6 0 .7 0 .7 0 .7 0 .6 0 .7 0 .7 0 .7 0 .7 0 .6 0 .7 0 .7 0 .7 0 .6 0 .7 0 .7 0 .7 .1 .6 0 .7-.1 .7 0 .7 0 .6 .1 .7-.1 .7 .1" stroke="#cc1c1c" stroke-width="1.12" fill="none" stroke-linejoin="round"/>
</g>
<path d="M563.1 636.4H681.5" stroke="#919191" stroke-width="1.1" fill="none"/>
<path d="M563 659.8V718.4M560.8 718.4H563M560.8 703.75H563M560.8 689.1H563M560.8 674.45H563M560.8 659.8H563" stroke="#c4c4c4" stroke-width="0.9" fill="none"/>
<path d="M563 718.4V720.4M579.93 718.4V720.4M596.86 718.4V720.4M613.79 718.4V720.4M630.71 718.4V720.4M647.64 718.4V720.4M664.57 718.4V720.4M681.5 718.4V720.4" stroke="#606060" stroke-width="0.8" fill="none"/>
<text x="557.9" y="720.4" font-size="5.6" fill="#4a4a4a" font-family='"Liberation Sans", sans-serif' text-anchor="end" textLength="10.2" lengthAdjust="spacingAndGlyphs" stroke="#4a4a4a" stroke-width="0.22">0.00</text>
<text x="557.9" y="705.75" font-size="5.6" fill="#4a4a4a" font-family='"Liberation Sans", sans-serif' text-anchor="end" textLength="10.2" lengthAdjust="spacingAndGlyphs" stroke="#4a4a4a" stroke-width="0.22">0.50</text>
<text x="557.9" y="691.1" font-size="5.6" fill="#4a4a4a" font-family='"Liberation Sans", sans-serif' text-anchor="end" textLength="10.2" lengthAdjust="spacingAndGlyphs" stroke="#4a4a4a" stroke-width="0.22">1.00</text>
<text x="557.9" y="676.45" font-size="5.6" fill="#4a4a4a" font-family='"Liberation Sans", sans-serif' text-anchor="end" textLength="10.2" lengthAdjust="spacingAndGlyphs" stroke="#4a4a4a" stroke-width="0.22">1.50</text>
<text x="557.9" y="661.8" font-size="5.6" fill="#4a4a4a" font-family='"Liberation Sans", sans-serif' text-anchor="end" textLength="10.2" lengthAdjust="spacingAndGlyphs" stroke="#4a4a4a" stroke-width="0.22">2.00</text>
<text x="563" y="727.3" font-size="5.6" fill="#4a4a4a" font-family='"Liberation Sans", sans-serif' text-anchor="middle" textLength="2.7" lengthAdjust="spacingAndGlyphs" stroke="#4a4a4a" stroke-width="0.26">0</text>
<text x="579.93" y="727.3" font-size="5.6" fill="#4a4a4a" font-family='"Liberation Sans", sans-serif' text-anchor="middle" textLength="2.7" lengthAdjust="spacingAndGlyphs" stroke="#4a4a4a" stroke-width="0.26">5</text>
<text x="596.86" y="727.3" font-size="5.6" fill="#4a4a4a" font-family='"Liberation Sans", sans-serif' text-anchor="middle" textLength="5.3" lengthAdjust="spacingAndGlyphs" stroke="#4a4a4a" stroke-width="0.26">10</text>
<text x="613.79" y="727.3" font-size="5.6" fill="#4a4a4a" font-family='"Liberation Sans", sans-serif' text-anchor="middle" textLength="5.3" lengthAdjust="spacingAndGlyphs" stroke="#4a4a4a" stroke-width="0.26">15</text>
<text x="630.71" y="727.3" font-size="5.6" fill="#4a4a4a" font-family='"Liberation Sans", sans-serif' text-anchor="middle" textLength="5.3" lengthAdjust="spacingAndGlyphs" stroke="#4a4a4a" stroke-width="0.26">20</text>
<text x="647.64" y="727.3" font-size="5.6" fill="#4a4a4a" font-family='"Liberation Sans", sans-serif' text-anchor="middle" textLength="5.3" lengthAdjust="spacingAndGlyphs" stroke="#4a4a4a" stroke-width="0.26">25</text>
<text x="664.57" y="727.3" font-size="5.6" fill="#4a4a4a" font-family='"Liberation Sans", sans-serif' text-anchor="middle" textLength="5.3" lengthAdjust="spacingAndGlyphs" stroke="#4a4a4a" stroke-width="0.26">30</text>
<text x="681.5" y="727.3" font-size="5.6" fill="#4a4a4a" font-family='"Liberation Sans", sans-serif' text-anchor="middle" textLength="5.3" lengthAdjust="spacingAndGlyphs" stroke="#4a4a4a" stroke-width="0.26">35</text>
<text x="616.1" y="659.8" font-size="6.5" fill="#303030" font-family='"Liberation Sans", sans-serif' text-anchor="middle" textLength="39.6" lengthAdjust="spacingAndGlyphs" stroke="#303030" stroke-width="0.15">Alpha (7-12Hz)</text>
<clipPath id="cDn2"><rect x="560" y="629.8" width="124.5" height="88.6"/></clipPath>
<g clip-path="url(#cDn2)">
<path d="M563 676.2v8.2m.7 -6.7v9.1m.3 -7.5v7.9m.4 -4.8v3.7m.6 -2.8v5.8m.7 -5.6v6.8m.7 -7.4v9.4m.7 -9.5v10.9m.6 -7.6v5.4m.4 -5.2v5.6m.3 -6.8v8.6m.7 -7.2v7m.7 -7.6v9.3m.6 -9.9v11.1m.7 -8.5v6.5m.4 -5.7v5.2m.3 -4.2v3.5m.7 -4.6v6.3m.7 -8.7v11.6m.6 -9v5.3m.7 -5.3v4.1m.4 -6.7v8.7m.3 -6.3v5.1m.7 -3.4v4m.6 -2.9v4.2m.7 -5.2v5m.7 -5.3v4.4m.3 -5.4v5.9m.4 -7.8v9.1m.7 -7.8v5.3m.6 -7.8v9.1m.7 -9v3.1m.3 -4.6v3.1m.4 1v6.6m.7 6.5v3.9m.6 1.6v1.7m.7 1.1v4.9m.7 -2.1v2m.7 -.5v1.9m.3 -2v3.5m.3 -2.3v1.5m.7 -1.3v1.8m.7 -2.5v3.4m.7 -3.2v3.2m.7 -1.8v1.2m.3 -2.1v2.7m.3 -1.6v.9m.7 -2.2v2.9m.7 -2.8v2.8m.7 -3.3v3.3m.6 -3.3v3.3m.4 -1.6v1.5m.3 -2.3v2.4m.7 -2v2m.3 -3.3v3.3m.4 -5.5v4m.6 -1.1v1.7m.4 -1.1v2m.3 -3v3m.7 -3v3m.7 -1.9v1.9m1.3 -1.2v1.2m.7 -1.2v1.2m.7 -1.2v1.2m2 -1.1v1m2.1 -1.2v1.3m.6 -1.1v1m2.1 -1.3v1.4m1.3 -1v.8m2 -.9v1.1m1.4 -1.3v1.3m2 -1.3v1.3m2.1 -1v.8m1.3 -.9v1m.7 -1v1m.7 -1.1v1.2m.6 -1.3v1.3m1.4 -1.2v1.2m.7 -1v.8m.7 -.8v.9m1.3 -1.2v1.3m.7 -1.3v1.3m.7 -1v.8m1.3 -.8v.9m2.1 -1.2v1.3m.6 -1.1v1.1m.7 -1.2v1.2m1.4 -1.2v1.2m.6 -1v.9m.7 -1v1m.7 -1.1v1.2m.7 -1v.8m.6 -.8v.9m.7 -1.1v1.2m.7 -1.1v1.1m.7 -1.4v1.4m.7 -1.3v1.3m.6 -1.1v1m2.7 -1v1m.7 -1.2v1.3m.7 -1.1v1m.7 -1.2v1.3m.6 -1v.8m.7 -1.1v1.3m1.4 -1.1v1m.7 -1v1m1.3 -1v1m2 -.9v.8m.7 -.8v.8m2.1 -.9v1m2 -1.2v1.3m.7 -1v.8m1.3 -1v1.2m.7 -1.3v1.3m2 -1.3v1.3m.7 -1.1v1.1m1.4 -1.3v1.3m.6 -1.3v1.3m.7 -1.1v1.1m1.4 -1.2v1.2m1.3 -1v.8m.7 -1.1v1.3m.7 -1v.8m.6 -.9v1.1m.7 -1v.8m.7 -1v1.2m.7 -1.3v1.3m.7 -1v.8m.6 -1.1v1.3m.7 -1.1v1m1.4 -.9v.8m.6 -.8v.8m2.1 -1v1.2m.7 -1v.8m.6 -1.2v1.4m1.4 -1.2v1.2m4.7 -1v.8m-117.8 -34.1v7.1m.7 -5.1v6.9m.3 -4.4v3.9m.4 -5.6v6.4m.6 -7.3v6.2m.7 -3.5v2.2m.7 -4.7v8.7m.7 -7.4v5m.6 -5.4v4.6m.4 -5.2v5.2m.3 -3.4v2.8m.7 -6v11.6m.7 -9.7v10m.6 -8.9v5.5m.7 -5.2v2.6m.4 -7.2v10.6m.3 -7.1v2.4m.7 -5.8v6.9m.7 -9.8v10.4m.6 -6v5.1m.7 -5.7v9.8m.4 -9.5v11m.3 -10.5v9.4m.7 -11v11.3m.6 -11.5v10.6m.7 -7.3v4m.7 -7v10m.3 -9.4v8.8m.4 -9.7v11.2m.7 -10.8v11.6m.6 -7.6v4.7m.7 -10.3v4.2m.3 -6.6v3.2m.4 .2v3.2m.7 .8v8.9m.6 .2v5.3m.7 2.1v5.1m.7 -6.5v9.1m.7 -5.3v2.7m.3 -3.1v4.1m.3 -8.5v10m.7 -11.3v6.7m.7 -11.4v10.2m.7 -10v6.3m.7 -8.5v7.2m.3 -7.3v5.6m.3 -6v8.2m.7 -5.4v6.1m.7 -4.7v6.9m.7 -4.3v2.8m.6 -6.2v10.8m.4 -10.6v10.9m.3 -7.3v4.3m.7 -6.6v10.2m.3 -10.7v11.7m.4 -8v4.9m.6 -7.4v10.8m.4 -9.6v8.9m.3 -5.6v2.8m.7 -4.7v7.5m.7 -4.7v2.9m.7 -1.6v1.2m.6 -1.1v1.9m.7 -1.4v1.9m.7 -1.2v1.4m.7 -.8v1.1m1.3 -.4v1.5m.7 -1.1v1.5m1.4 -.7v1.6m1.3 -.8v1.6m2 -.2v1.3m1.4 -1v1.9m.7 -1.6v1.8m.6 -1.5v1.7m.7 -1.5v1.8m.7 -1.7v2m.7 -1.4v1.3m.7 -.8v.8m.6 -1v1.6m.7 -1.3v1.5m2 -.9v1.3m.7 -1.3v1.5m.7 -1.6v1.9m1.3 -1.3v1.2m.7 -1.4v1.8m1.4 -1.2v1.1m.7 -1.4v1.9m.6 -1.3v.9m.7 -1.2v1.6m.7 -1.4v1.3m.7 -1.6v2m.6 -1.6v1.3m.7 -1.3v1.4m.7 -1.6v1.9m.7 -1.5v1.3m.7 -1.4v1.5m2 -1.1v1.1m1.3 -1.3v1.8m1.4 -1.6v1.5m.7 -1.4v1.3m.6 -1.6v1.9m.7 -1.8v1.8m1.4 -1.6v1.4m1.3 -1.6v1.8m.7 -1.4v1.1m.7 -1v.9m.7 -1.4v1.9m1.3 -1.4v.9m.7 -.9v1m.7 -1v1m.6 -1.3v1.7m.7 -1.6v1.4m.7 -1.5v1.7m.7 -1.5v1.3m1.3 -1v.8m1.4 -1.2v1.6m.7 -1.8v2m.6 -1.9v1.8m.7 -1.5v1.2m.7 -1.4v1.7m.7 -1.6v1.6m.7 -1.8v1.9m.6 -1.4v1m.7 -1.4v1.8m.7 -1.8v1.8m.7 -1.6v1.4m.6 -1.2v1.1m.7 -1.5v1.9m.7 -1.7v1.5m1.3 -1.4v1.4m1.4 -1.3v1.2m.7 -1.1v1m.7 -1v1.1m.6 -1.5v1.9m.7 -1.6v1.3m.7 -1.4v1.5m.7 -1.6v1.8m.6 -1.4v1m.7 -1.3v1.6m.7 -1.7v1.8m.7 -1.5v1.2m.6 -1.2v1.2m.7 -1.4v1.7m2.1 -1.7v1.7m.6 -1.6v1.4m.7 -1.4v1.4m1.4 -1.4v1.5m1.3 -1.5v1.5m.7 -1.2v.9m2 -1.3v1.7m3.4 -1.9v1.9m.7 -1.4v1.1m1.3 -1.4v1.6m1.4 -1.7v1.8" stroke="#cccccc" stroke-width="0.55" fill="none" marker-start="url(#cap)" marker-mid="url(#cap)" marker-end="url(#cap)"/>
<path d="M563 681.5l.7-2.5 .3 4.9 .4 .1 .6 1.3 .7 4.3 .7-1.5 .7 3.5 .6-4.4 .4 3 .3-.3 .7 2.5 .7-2.5 .6 1.7 .7 2.2 .4-5.7 .3 .9 .7 4.5 .7-1.6 .6 .2 .7-2.1 .4 .8 .3 .4 .7 3.6 .6-.8 .7-3 .7-1.3 .3 1.6 .4 2.1 .7-1.8 .6-.3 .7-5.7 .3 1 .4 4 .7 12.9 .6 5 .7 4.1 .7 1.3 .7 2 .3 .3 .3 .7 .7 .3 .7-.3 .7 .2 .7 .1 .3-.2 .3 .6 .7 .1 .7-.3 .7-.2 .6 .5 .4-.5 .3 .6 .7-.5 .3 .2 .4-2.8 .6 1.9 .4 1 .3 0 .7 .1 .7-.1 .7 .3 .6 0 .7-.1 .7 0 .7 0 .6 0 .7-.1 .7 0 .7 .1 .7-.1 .6 0 .7 .1 .7 0 .7 0 .6 0 .7 0 .7 .1 .7 0 .6 0 .7-.2 .7 .1 .7 0 .7 0 .6 .1 .7-.1 .7 0 .7 0 .6 0 .7 0 .7 0 .7 0 .6 0 .7 0 .7 .1 .7-.1 .7 .1 .6-.1 .7 0 .7 .1 .7-.1 .6 .1 .7 0 .7-.1 .7 0 .7 0 .6 0 .7 .1 .7-.1 .7 0 .6 .1 .7-.1 .7-.1 .7 .1 .6-.1 .7 .1 .7 .1 .7-.1 .7-.1 .6 .2 .7-.1 .7 0 .7 0 .6 0 .7-.1 .7 .1 .7 .1 .6-.1 .7 0 .7 0 .7 0 .7-.1 .6 .2 .7 0 .7-.2 .7 .2 .6-.2 .7 .1 .7 0 .7 0 .7 0 .6 .1 .7-.1 .7 0 .7 0 .6 0 .7 0 .7 .1 .7-.1 .6 0 .7 0 .7 0 .7 .1 .7-.1 .6 0 .7 0 .7 .1 .7-.1 .6 .1 .7-.2 .7 .1 .7 0 .6 .1 .7 0 .7 0 .7-.1 .7 .1 .6-.1 .7 0 .7 .1 .7-.1 .6 .1 .7 0 .7-.2 .7 .1 .7 0 .6-.1 .7 .1 .7 0 .7 0 .6 .1 .7-.2 .7 .1 .7 0 .6 .1 .7-.1 .7 0" stroke="#6e6e6e" stroke-width="1.05" fill="none" stroke-linejoin="round"/>
<path d="M563 687l.7 2.3 .3 1.3 .4-2.8 .6 2.1 .7-1.4 .7 1.6 .7 2 .6-.6 .4-2.1 .3-.2 .7 2.8 .7 .3 .6-1.5 .7-.1 .4-2 .3 2.4 .7-5.7 .7 .7 .6 1 .7 1 .4 3.1 .3 0 .7-3.8 .6 1.4 .7-1.5 .7-1.3 .3 3.6 .4 2.9 .7-.7 .6-.5 .7-8.3 .3-1.7 .4 1 .7 9.7 .6 9.1 .7 5.7 .7 .3 .7 1.3 .3 .2 .3-.6 .7-3.4 .7-3.5 .7-2 .7 .2 .3-2.4 .3 .8 .7 1.7 .7 1.7 .7 1 .6 1.5 .4-1.5 .3 .4 .7 1.1 .3-1.7 .4 2.3 .6 .4 .4 .1 .3-.4 .7 1.3 .7-.6 .7 .6 .6 .8 .7 1.2 .7-.3 .7 .1 .6 1.1 .7 .3 .7 .8 .7 .1 .7 .1 .6 .7 .7 .2 .7 .7 .7 .2 .6 .8 .7 0 .7 .5 .7 .3 .6 .2 .7 .4 .7-.1 .7 .3 .7 .4 .6 .2 .7 0 .7 .3 .7 .1 .6 0 .7 .2 .7 .2 .7 .1 .6-.1 .7 .4 .7 .2 .7 .2 .7-.1 .6-.1 .7-.1 .7 .5 .7-.1 .6 0 .7 .1 .7-.2 .7 .2 .7 .4 .6 0 .7 .2 .7-.3 .7-.1 .6 .1 .7 .1 .7 0 .7 0 .6 .1 .7-.1 .7 0 .7 .3 .7-.2 .6 .1 .7-.1 .7 .2 .7 0 .6-.1 .7-.1 .7 0 .7 .2 .6 .2 .7-.2 .7 .1 .7-.1 .7 .2 .6-.2 .7 0 .7 0 .7 .1 .6 .1 .7 0 .7 0 .7-.2 .7 .1 .6 0 .7 .2 .7-.1 .7 .1 .6-.1 .7 .1 .7 .1 .7-.1 .6 0 .7 0 .7-.1 .7 0 .7 .1 .6 .2 .7-.2 .7 .1 .7 .1 .6 0 .7 0 .7-.1 .7 0 .6-.1 .7 .1 .7 0 .7 .1 .7-.2 .6 0 .7 .1 .7 0 .7 0 .6 .1 .7-.2 .7 .1 .7 0 .7 .1 .6-.2 .7 .1 .7 .1 .7 0 .6-.1 .7 .1 .7 0 .7 0 .6 0 .7-.2 .7 .1" stroke="#74b84a" stroke-width="1.12" fill="none" stroke-linejoin="round"/>
</g>
<path d="M563 718.4H681.5" stroke="#919191" stroke-width="1.1" fill="none"/>
<path d="M562.7 741.9V799.5M560.5 799.5H562.7M560.5 780.3H562.7M560.5 761.1H562.7M560.5 741.9H562.7" stroke="#c4c4c4" stroke-width="0.9" fill="none"/>
<path d="M562.7 799.5V801.5M579.67 799.5V801.5M596.64 799.5V801.5M613.61 799.5V801.5M630.59 799.5V801.5M647.56 799.5V801.5M664.53 799.5V801.5M681.5 799.5V801.5" stroke="#606060" stroke-width="0.8" fill="none"/>
<text x="557.6" y="801.5" font-size="5.6" fill="#4a4a4a" font-family='"Liberation Sans", sans-serif' text-anchor="end" textLength="10.2" lengthAdjust="spacingAndGlyphs" stroke="#4a4a4a" stroke-width="0.22">0.00</text>
<text x="557.6" y="782.3" font-size="5.6" fill="#4a4a4a" font-family='"Liberation Sans", sans-serif' text-anchor="end" textLength="10.2" lengthAdjust="spacingAndGlyphs" stroke="#4a4a4a" stroke-width="0.22">0.50</text>
<text x="557.6" y="763.1" font-size="5.6" fill="#4a4a4a" font-family='"Liberation Sans", sans-serif' text-anchor="end" textLength="10.2" lengthAdjust="spacingAndGlyphs" stroke="#4a4a4a" stroke-width="0.22">1.00</text>
<text x="557.6" y="743.9" font-size="5.6" fill="#4a4a4a" font-family='"Liberation Sans", sans-serif' text-anchor="end" textLength="10.2" lengthAdjust="spacingAndGlyphs" stroke="#4a4a4a" stroke-width="0.22">1.50</text>
<text x="562.7" y="808.4" font-size="5.6" fill="#4a4a4a" font-family='"Liberation Sans", sans-serif' text-anchor="middle" textLength="2.7" lengthAdjust="spacingAndGlyphs" stroke="#4a4a4a" stroke-width="0.26">0</text>
<text x="579.67" y="808.4" font-size="5.6" fill="#4a4a4a" font-family='"Liberation Sans", sans-serif' text-anchor="middle" textLength="2.7" lengthAdjust="spacingAndGlyphs" stroke="#4a4a4a" stroke-width="0.26">5</text>
<text x="596.64" y="808.4" font-size="5.6" fill="#4a4a4a" font-family='"Liberation Sans", sans-serif' text-anchor="middle" textLength="5.3" lengthAdjust="spacingAndGlyphs" stroke="#4a4a4a" stroke-width="0.26">10</text>
<text x="613.61" y="808.4" font-size="5.6" fill="#4a4a4a" font-family='"Liberation Sans", sans-serif' text-anchor="middle" textLength="5.3" lengthAdjust="spacingAndGlyphs" stroke="#4a4a4a" stroke-width="0.26">15</text>
<text x="630.59" y="808.4" font-size="5.6" fill="#4a4a4a" font-family='"Liberation Sans", sans-serif' text-anchor="middle" textLength="5.3" lengthAdjust="spacingAndGlyphs" stroke="#4a4a4a" stroke-width="0.26">20</text>
<text x="647.56" y="808.4" font-size="5.6" fill="#4a4a4a" font-family='"Liberation Sans", sans-serif' text-anchor="middle" textLength="5.3" lengthAdjust="spacingAndGlyphs" stroke="#4a4a4a" stroke-width="0.26">25</text>
<text x="664.53" y="808.4" font-size="5.6" fill="#4a4a4a" font-family='"Liberation Sans", sans-serif' text-anchor="middle" textLength="5.3" lengthAdjust="spacingAndGlyphs" stroke="#4a4a4a" stroke-width="0.26">30</text>
<text x="681.5" y="808.4" font-size="5.6" fill="#4a4a4a" font-family='"Liberation Sans", sans-serif' text-anchor="middle" textLength="5.3" lengthAdjust="spacingAndGlyphs" stroke="#4a4a4a" stroke-width="0.26">35</text>
<text x="615.85" y="742.4" font-size="6.5" fill="#303030" font-family='"Liberation Sans", sans-serif' text-anchor="middle" textLength="39.7" lengthAdjust="spacingAndGlyphs" stroke="#303030" stroke-width="0.15">Beta (12-30Hz)</text>
<clipPath id="cDn3"><rect x="559.7" y="711.9" width="124.8" height="87.6"/></clipPath>
<g clip-path="url(#cDn3)">
<path d="M562.7 752v10.5m.7 -8.1v8.3m.3 -8.9v10.8m.4 -9.3v9.1m.6 -8v9.4m.7 -9.1v10.7m.7 -10.8v12.9m.7 -13v12.2m.7 -12v11.1m.3 -7.1v2.7m.3 -3.9v4.8m.7 -4.3v2.9m.7 -4.4v5.2m.7 -6.4v8.4m.3 -5.8v3.5m.3 -3.5v3.9m.7 -3.3v3.5m.7 -4.6v6.5m.7 -5.3v4.8m.7 -8v10.5m.3 -7.7v4.5m.3 -5.3v5.7m.7 -5.7v4.9m.7 -5.7v5.8m.7 -8.6v10.6m.7 -10.1v10.4m.6 -10.2v10.7m.4 -8.2v6.1m.3 -7.9v10.1m.7 -9.8v10.2m.7 -8.9v8.4m.7 -8.4v13m.6 -5.9v3.5m.4 -2v2.7m.3 -.2v3.1m.7 1.8v4m.7 1.2v4.5m.6 -4.6v7.7m.7 -5.5v6.4m.4 -3.8v2.7m.3 -2.6v3.3m.7 -2.2v2.7m.7 -2.8v4.4m.6 -3v3.1m.7 -3.4v5.3m.4 -5.6v6.6m.3 -6.3v6.7m.7 -6.4v7.7m.7 -4.7v3.3m.6 -5.3v3.4m.7 -5.2v3.2m.4 -1.1v4.1m.3 -2v5m.3 -1.9v3.9m.4 -3.8v3.7m.6 -4.5v5.3m.7 -5.5v5.8m.7 -6.4v6.9m.7 -5.6v4.3m.7 -4.4v4.5m.6 -3.1v1.7m.7 -1.5v1.4m.7 -1.5v1.5m.7 -2.8v4.1m.7 -3.8v3.6m.6 -3v2.3m.7 -1.8v1.3m.7 -1.6v2m.7 -2.7v3.3m.7 -3.4v3.6m.6 -3.1v2.5m.7 -1.7v.9m.7 -1.5v2.1m.7 -1.5v.9m.6 -1.6v2.4m.7 -2.1v1.8m.7 -1.9v2m.7 -1.5v.9m.7 -1.6v2.3m.6 -2.5v2.7m.7 -3.3v4m.7 -2.7v1.4m.7 -1.2v.9m.7 -1.7v2.6m.6 -3.2v3.7m.7 -2.3v.9m.7 -2.4v4m.7 -2.8v1.5m.7 -1.3v1.1m.6 -2.4v3.7m.7 -2.8v1.9m.7 -2.6v3.3m.7 -2.1v.9m.6 -2.4v3.9m.7 -2.3v.8m.7 -2.2v3.5m.7 -3.3v3.2m.7 -2.9v2.6m.6 -2.2v1.8m.7 -2.7v3.5m.7 -2.8v2.1m.7 -2.1v2.1m.7 -3.1v4.1m.6 -4v4m.7 -3.9v3.7m.7 -3.8v3.9m.7 -3.4v2.9m.6 -2.4v1.9m.7 -2.7v3.5m.7 -2.8v2.2m.7 -2.9v3.5m.7 -3.7v3.7m.6 -3.2v2.4m.7 -3v3.4m.7 -2.5v1.3m.7 -2.6v3.7m.7 -3.3v2.8m.6 -3.4v3.7m.7 -3.5v3.1m.7 -2.9v2.5m.7 -2.1v1.4m.7 -1.7v2.1m.6 -1.6v1.3m.7 -1.3v1.5m.7 -1.2v1m.7 -1.9v2.9m.6 -2.1v1.6m.7 -2.7v3.9m.7 -2.8v1.8m.7 -2.1v2.6m.7 -2.2v2m.6 -2.5v3.1m.7 -2v1m.7 -1.3v1.8m.7 -2.5v3.4m.7 -3.2v3.1m.6 -3.2v3.3m.7 -2.3v1.3m.7 -1.5v1.7m.7 -2.2v2.7m.7 -2.5v2.3m.6 -2.3v2.3m.7 -2.4v2.5m.7 -2.1v1.7m.7 -2.8v3.9m1.3 -3.8v3.7m.7 -3.8v3.9m.7 -2.8v1.7m.7 -2.6v3.5m.6 -3.4v3.3m.7 -3.2v3.1m.7 -2v.9m.7 -1.8v2.7m.7 -3.1v3.5m.6 -3.7v4m.7 -3.2v2.3m.7 -2.2v2.1m.7 -2.4v2.7m.6 -3.3v3.9m.7 -3v2.1m.7 -1.6v1.1m.7 -1.7v2.3m.7 -1.8v1.3m.6 -2.2v3.1m.7 -2.8v2.5m.7 -3.1v3.7m.7 -2.7v1.8m.7 -2.3v2.7m.6 -1.9v1.1m.7 -2.5v4m.7 -3.9v3.7m.7 -3.6v3.5m.7 -2.2v.9m.6 -1.6v2.3m.7 -2.6v3m.7 -2.3v1.5m.7 -2.2v2.9m.6 -2.1v1.3m.7 -2.5v3.7m.7 -3.2v2.7m.7 -2.4v2.1m.7 -1.8v1.5m.6 -1.3v1.1m.7 -1.6v2.1m.7 -2.1v2.1m-118.8 -40.9v14.5m.7 -11.4v9.8m.3 -9.8v10.5m.4 -9.5v6.5m.6 -8.7v6.8m.7 -4.4v3.9m.7 -2.4v2.8m.7 -4.1v3.9m.7 -6.1v6.8m.3 -11.1v14.6m.3 -14.1v11.3m.7 -14.8v13.7m.7 -12.4v6.4m.7 -8.3v15.4m.3 -9.5v6.2m.3 -4.4v3.8m.7 -4.3v7.4m.7 -13.3v15.3m.7 -14.5v9.9m.7 -9.5v14.2m.3 -9.8v8m.3 -7.7v8.7m.7 -8.4v10.6m.7 -11.1v11.6m.7 -9.2v6.9m.7 -8v6m.6 -11v12.8m.4 -10v5.8m.3 -4.4v3.7m.7 -4.4v6.6m.7 -6.1v7.2m.7 -9.8v15.5m.6 -11.3v10.2m.4 -10.6v12.5m.3 -5.2v4.8m.7 .1v8.8m.7 -4.7v14.4m.6 -14.8v15.3m.7 -9.5v3.6m.4 -5.6v7.7m.3 -9.3v6.2m.7 -12.5v9.6m.7 -12.2v5.6m.6 -9.9v13.3m.7 -14.8v15.3m.4 -10.6v5.5m.3 -8.1v13.5m.7 -11.4v14.8m.7 -8.4v7.5m.6 -7.5v9.1m.7 -7.9v8.2m.4 -5.8v4.1m.3 -7.2v11.2m.3 -8.6v6.7m.4 -9v12.1m.6 -8.7v6.8m.7 -8.1v10.2m.7 -11.3v13.2m.7 -11.4v10.3m.7 -6.9v4.3m.6 -2.7v1.8m.7 -1.2v1.7m.7 -1.5v2.4m.7 -1.2v1.1m.7 -.6v1.2m1.3 -.6v2m1.4 -.7v1.2m.7 -1v1.7m.6 -1.7v2.6m.7 -1.4v1.3m.7 -1.4v2.5m.7 -1.2v1m.6 -1.2v2.5m.7 -1.2v1m.7 -1.2v2.3m.7 -1.7v2m.7 -.9v.8m.6 -.7v1.4m.7 -1v1.6m1.4 -1.1v1.9m.7 -1.5v1.7m.6 -1.1v1.1m1.4 -.6v1.1m.7 -1.2v1.6m.7 -1.9v2.6m.6 -2.1v2m.7 -1.8v2m.7 -1.6v1.6m.7 -1.6v2m.6 -2v2.4m1.4 -1.9v2.1m.7 -1.4v.8m.7 -1v1.4m.6 -1.2v1.1m.7 -1.2v1.5m.7 -1.5v1.6m2 -1v.9m.7 -1.4v2.1m.7 -1.6v1.2m.7 -1v1m.6 -1.6v2.3m.7 -2.3v2.5m.7 -2.4v2.5m.7 -1.6v.8m1.3 -1.3v1.9m.7 -1.8v1.7m.7 -1.6v1.6m1.4 -1.9v2.3m.6 -1.9v1.5m.7 -2v2.6m.7 -2.3v2.1m.7 -1.9v1.7m.7 -1.6v1.6m.6 -1.7v1.8m.7 -1.6v1.4m.7 -1.9v2.5m1.3 -2v1.6m.7 -1.8v2m.7 -1.9v1.8m1.4 -1.7v1.8m.6 -1.5v1.2m.7 -1.2v1.3m.7 -1.8v2.3m.7 -2.3v2.3m.7 -2.3v2.3m.6 -2v1.8m.7 -1.9v2.1m.7 -1.8v1.5m.7 -1.9v2.3m.7 -1.9v1.7m.6 -1.3v.9m.7 -1.4v1.9m1.4 -2.2v2.6m.6 -1.9v1.2m.7 -1.1v1.1m.7 -1.5v1.9m.7 -1.3v.8m.7 -1.3v1.8m.6 -1.5v1.2m.7 -1v.9m.7 -1.6v2.4m.7 -2.1v1.8m.7 -1.7v1.6m.6 -1.8v2.1m1.4 -1.8v1.6m.7 -1.5v1.5m.6 -1.9v2.3m.7 -2.2v2.1m.7 -1.7v1.4m.7 -1.2v1m.7 -1.3v1.7m.6 -1.7v1.8m1.4 -1.3v.9m.7 -1.6v2.4m.7 -2.4v2.4m.6 -2.2v2.1m.7 -1.8v1.6m.7 -1.8v2m.7 -2.2v2.4m.7 -1.9v1.6m.6 -1.5v1.4m.7 -1.2v1.1m2 -1.7v2.2m.7 -2.1v2.1m.7 -1.5v1.1m.7 -1.3v1.6m.7 -1.7v1.8m1.3 -2.1v2.1" stroke="#cccccc" stroke-width="0.55" fill="none" marker-start="url(#cap)" marker-mid="url(#cap)" marker-end="url(#cap)"/>
<path d="M562.7 757.2l.7 5.1 .3-3 .4-1.9 .6 2.5 .7-.6 .7 3.4 .7-2.2 .7-1.9 .3 6 .3-5.1 .7-1 .7 2.1 .7 1.6 .3 2.7 .3-4.8 .7-.7 .7 5.2 .7-1.4 .7 .1 .3 0 .3-1.9 .7 1.6 .7-4.4 .7 3.6 .7 1.1 .6 1.8 .4 .6 .3-5.5 .7-1.4 .7 3.4 .7 2.4 .6 5.8 .4-1 .3 3.9 .7 4.7 .7 4.7 .6 .8 .7 2.8 .4-.1 .3 1.2 .7-1.4 .7 2.2 .6-.4 .7 .3 .4 1.6 .3-.2 .7 .2 .7 2 .6-2.3 .7-1.4 .4 2.9 .3 3.2 .3 1.6 .4 .1 .6 0 .7-.4 .7 .2 .7 0 .7 0 .6 .2 .7-.1 .7 .1 .7 0 .7-.3 .6 .3 .7-.3 .7 0 .7 .4 .7-.4 .6 .2 .7 .1 .7-.2 .7-.1 .6 .4 .7 .1 .7-.6 .7 .2 .7 .3 .6 0 .7-.5 .7-.1 .7 0 .7 .1 .6 .1 .7 .2 .7 .1 .7-.2 .7-.1 .6 0 .7 .3 .7-.1 .7 0 .6 .2 .7-.3 .7 .1 .7 .1 .7-.1 .6-.1 .7 0 .7-.1 .7 .3 .7-.4 .6 .4 .7 0 .7-.3 .7 .3 .6-.5 .7 .5 .7-.2 .7 .1 .7-.1 .6-.4 .7-.1 .7 .1 .7-.2 .7 .2 .6-.5 .7 0 .7 .1 .7-.2 .7 .2 .6-.2 .7 .1 .7 .3 .7 0 .6-.3 .7 .1 .7 .4 .7-.1 .7 .1 .6 .4 .7-.3 .7 .3 .7 .1 .7 0 .6-.1 .7 0 .7-.1 .7 .3 .7-.2 .6 0 .7 .1 .7 0 .7-.2 .6-.1 .7 .6 .7-.3 .7 0 .7-.1 .6-.1 .7 .4 .7-.2 .7 .3 .7-.6 .6 .4 .7 .2 .7-.3 .7 .1 .6-.2 .7 .3 .7-.2 .7 .2 .7 .1 .6-.2 .7-.4 .7 .4 .7 .1 .7-.3 .6-.1 .7-.1 .7 .4 .7 0 .7-.4 .6 .1 .7 .3 .7 0 .7-.3 .6 .3 .7-.2 .7 .3 .7-.2 .7 .2 .6-.2 .7-.2 .7 0" stroke="#6e6e6e" stroke-width="1.05" fill="none" stroke-linejoin="round"/>
<path d="M562.7 762l.7-1.6 .3 3.6 .4 2.3 .6-4.7 .7 1 .7 1.4 .7-5.5 .7 6.9 .3-4.1 .3 1.6 .7-4.9 .7-3.7 .7-1.1 .3 6.1 .3-2.3 .7 2.9 .7 1.2 .7-4.5 .7 1.9 .3 2 .3 4.9 .7-3.1 .7-2.5 .7 4.5 .7-1.7 .6-6.1 .4 2.2 .3-2.2 .7 8.7 .7-4.4 .7-2.8 .6 5.8 .4 .9 .3 5.9 .7 6.2 .7 5.6 .6 1.9 .7-2 .4 .3 .3-2.4 .7-2.3 .7-8 .6-1.4 .7 1 .4-.8 .3 3.3 .7 4.6 .7-.7 .6 2.1 .7 2.5 .4-1.7 .3 2.6 .3-.6 .4 .7 .6-1.2 .7-.2 .7 1.1 .7 .2 .7-.2 .6 1.3 .7 .3 .7 .3 .7 1.3 .7-.5 .6 1.5 .7 0 .7 .6 .7 .1 .7 .3 .6 .6 .7 .5 .7 1.1 .7 0 .6 1.1 .7 0 .7 .9 .7 0 .7 .4 .6 .9 .7 .5 .7 .1 .7 .2 .7 .3 .6 .3 .7 .3 .7 .2 .7 .2 .7 .3 .6 .2 .7 .2 .7 .4 .7 .1 .6 .1 .7 .1 .7 .3 .7 .1 .7-.1 .6 .1 .7 .4 .7 0 .7 0 .7-.2 .6 .3 .7 .1 .7-.1 .7 0 .6 .4 .7 0 .7-.2 .7 .2 .7 .3 .6-.3 .7 .4 .7-.2 .7 .1 .7-.1 .6-.1 .7 .1 .7-.1 .7 .4 .7-.1 .6-.1 .7 .1 .7 .3 .7-.2 .6 .2 .7-.2 .7 0 .7 .1 .7-.1 .6 .3 .7-.1 .7-.1 .7 0 .7 0 .6 .3 .7-.3 .7 .4 .7-.2 .7-.1 .6-.1 .7 .1 .7 .1 .7 0 .6 0 .7 0 .7 0 .7 .2 .7-.1 .6 .3 .7-.1 .7 0 .7 0 .7 0 .6 .2 .7-.2 .7 .2 .7-.2 .6 .2 .7 0 .7 0 .7 .1 .7 .1 .6-.1 .7-.2 .7 .4 .7-.2 .7 .1 .6 .1 .7 0 .7-.1 .7 .2 .7 0 .6-.2 .7 .3 .7 0 .7-.2 .6 .1 .7 .1 .7-.1 .7 .2 .7 .1 .6 .1 .7 0 .7 0" stroke="#4a7bd0" stroke-width="1.12" fill="none" stroke-linejoin="round"/>
</g>
<path d="M562.7 799.5H681.5" stroke="#919191" stroke-width="1.1" fill="none"/>
<path d="M563 824V881.2M560.8 881.2H563M560.8 866.9H563M560.8 852.6H563M560.8 838.3H563M560.8 824H563" stroke="#c4c4c4" stroke-width="0.9" fill="none"/>
<path d="M563 881.2V883.2M579.93 881.2V883.2M596.86 881.2V883.2M613.79 881.2V883.2M630.71 881.2V883.2M647.64 881.2V883.2M664.57 881.2V883.2M681.5 881.2V883.2" stroke="#606060" stroke-width="0.8" fill="none"/>
<text x="557.9" y="883.2" font-size="5.6" fill="#4a4a4a" font-family='"Liberation Sans", sans-serif' text-anchor="end" textLength="10.2" lengthAdjust="spacingAndGlyphs" stroke="#4a4a4a" stroke-width="0.22">0.00</text>
<text x="557.9" y="868.9" font-size="5.6" fill="#4a4a4a" font-family='"Liberation Sans", sans-serif' text-anchor="end" textLength="10.2" lengthAdjust="spacingAndGlyphs" stroke="#4a4a4a" stroke-width="0.22">0.50</text>
<text x="557.9" y="854.6" font-size="5.6" fill="#4a4a4a" font-family='"Liberation Sans", sans-serif' text-anchor="end" textLength="10.2" lengthAdjust="spacingAndGlyphs" stroke="#4a4a4a" stroke-width="0.22">1.00</text>
<text x="557.9" y="840.3" font-size="5.6" fill="#4a4a4a" font-family='"Liberation Sans", sans-serif' text-anchor="end" textLength="10.2" lengthAdjust="spacingAndGlyphs" stroke="#4a4a4a" stroke-width="0.22">1.50</text>
<text x="557.9" y="826" font-size="5.6" fill="#4a4a4a" font-family='"Liberation Sans", sans-serif' text-anchor="end" textLength="10.2" lengthAdjust="spacingAndGlyphs" stroke="#4a4a4a" stroke-width="0.22">2.00</text>
<text x="563" y="890.1" font-size="5.6" fill="#4a4a4a" font-family='"Liberation Sans", sans-serif' text-anchor="middle" textLength="2.7" lengthAdjust="spacingAndGlyphs" stroke="#4a4a4a" stroke-width="0.26">0</text>
<text x="579.93" y="890.1" font-size="5.6" fill="#4a4a4a" font-family='"Liberation Sans", sans-serif' text-anchor="middle" textLength="2.7" lengthAdjust="spacingAndGlyphs" stroke="#4a4a4a" stroke-width="0.26">5</text>
<text x="596.86" y="890.1" font-size="5.6" fill="#4a4a4a" font-family='"Liberation Sans", sans-serif' text-anchor="middle" textLength="5.3" lengthAdjust="spacingAndGlyphs" stroke="#4a4a4a" stroke-width="0.26">10</text>
<text x="613.79" y="890.1" font-size="5.6" fill="#4a4a4a" font-family='"Liberation Sans", sans-serif' text-anchor="middle" textLength="5.3" lengthAdjust="spacingAndGlyphs" stroke="#4a4a4a" stroke-width="0.26">15</text>
<text x="630.71" y="890.1" font-size="5.6" fill="#4a4a4a" font-family='"Liberation Sans", sans-serif' text-anchor="middle" textLength="5.3" lengthAdjust="spacingAndGlyphs" stroke="#4a4a4a" stroke-width="0.26">20</text>
<text x="647.64" y="890.1" font-size="5.6" fill="#4a4a4a" font-family='"Liberation Sans", sans-serif' text-anchor="middle" textLength="5.3" lengthAdjust="spacingAndGlyphs" stroke="#4a4a4a" stroke-width="0.26">25</text>
<text x="664.57" y="890.1" font-size="5.6" fill="#4a4a4a" font-family='"Liberation Sans", sans-serif' text-anchor="middle" textLength="5.3" lengthAdjust="spacingAndGlyphs" stroke="#4a4a4a" stroke-width="0.26">30</text>
<text x="681.5" y="890.1" font-size="5.6" fill="#4a4a4a" font-family='"Liberation Sans", sans-serif' text-anchor="middle" textLength="5.3" lengthAdjust="spacingAndGlyphs" stroke="#4a4a4a" stroke-width="0.26">35</text>
<text x="614.4" y="824.6" font-size="6.5" fill="#303030" font-family='"Liberation Sans", sans-serif' text-anchor="middle" textLength="52" lengthAdjust="spacingAndGlyphs" stroke="#303030" stroke-width="0.15">Gamma (30-100Hz)</text>
<clipPath id="cDn4"><rect x="560" y="794" width="124.5" height="87.2"/></clipPath>
<g clip-path="url(#cDn4)">
<path d="M563 851.4v5.2m.7 -5v3.7m.3 -3.1v1.9m.4 -3.9v5.3m.3 -4.7v3.6m.3 -3v2.6m.7 -4.6v7.1m.7 -5.5v4.3m.7 -3.4v2.7m.6 -3v3.4m.4 -4.6v5.8m.3 -4.8v3.9m.7 -5.2v6.6m.7 -5.6v4.7m.6 -6v7.4m.7 -6.8v6.1m.7 -4.8v3.5m.7 -3.7v3.9m.7 -5.7v7.5m.6 -7.7v7.8m.7 -4.7v1.4m.7 -2v2.6m.7 -2.5v2.3m.6 -3.8v5.1m.7 -3.6v1.9m.7 -4.7v7.2m.7 -5.5v3.7m.7 -4.4v4.9m.6 -5.7v6.2m.7 -10.5v3.4m.3 -7.7v6.2m.4 -3.2v5m.7 -1.9v8.4m.6 -9.3v8.7m.7 -7.1v4.1m.7 -5.4v8.9m.7 -6.9v7.3m.3 -6.6v7m.3 -6.5v7.7m.7 -5.9v7.5m.7 -6.6v9.2m.7 -5.6v4.3m.7 -5.6v9.2m.3 -7.4v6.7m.3 -7.7v9.3m.7 -5.3v2.4m.7 -5.2v9.2m.7 -7.2v7.4m.6 -4.4v3.7m.4 -4.5v6.5m.3 -5.8v4.9m.7 -7.1v8.8m.7 -7.9v6.6m.6 -6v5.4m.7 -6.3v7.2m.7 -5.7v4.1m.7 -6.7v9.3m.7 -6v2.7m.6 -2.5v2.4m.7 -3.9v5.3m.7 -5.6v5.9m.7 -3.9v1.9m.6 -2.2v2.5m.7 -2.5v2.5m.7 -3.9v5.4m.7 -5v4.5m.7 -4.2v3.9m.6 -4v4.1m.7 -3.9v3.8m.7 -4.5v5.3m.7 -3.4v1.6m.6 -3.3v5m.7 -3.2v1.5m.7 -3.6v5.8m.7 -4.4v3.1m.6 -2.4v1.8m.7 -3.2v4.6m.7 -4.9v5.3m.7 -4.4v3.6m.7 -4.8v6.1m.6 -4.2v2.4m.7 -2.3v2.2m.7 -3.9v5.7m.7 -3.9v2.2m.6 -3.4v4.7m.7 -3.3v2.1m.7 -4v6m.7 -3.7v1.4m.6 -2.1v3m.7 -3.8v4.7m.7 -4.4v4.2m.7 -4.4v4.7m.7 -3.4v2.2m.6 -4.2v6m.7 -4.1v2m.7 -2.3v2.3m.7 -3.5v4.5m.6 -3.5v2.3m.7 -4.3v6.2m.7 -5.9v5.7m.7 -4v2.3m.7 -3.4v4.5m.6 -3.5v2.5m.7 -3.8v5.1m.7 -4.7v4.2m.7 -3.2v2.3m.6 -4.1v5.8m.7 -5.6v5.5m.7 -3.9v2.2m.7 -2.8v3.4m.6 -4.7v6m.7 -4.2v2.3m.7 -2.9v3.5m.7 -2.9v2.2m.7 -2.2v2.2m.6 -3.5v4.7m.7 -3.1v1.5m.7 -2.5v3.4m.7 -3.9v4.3m.6 -4.7v5.1m.7 -3.5v1.9m.7 -2.1v2.2m.7 -3.6v5m.6 -5.4v5.7m.7 -3.8v1.9m.7 -2.2v2.4m.7 -2.8v3.2m.7 -3.1v3m.6 -3.6v4.1m.7 -3.2v2.3m.7 -1.8v1.3m.7 -2.4v3.4m.6 -3.5v3.5m.7 -2.9v2.4m.7 -4.2v5.9m.7 -4.9v4m.7 -3v1.9m.6 -3.5v5.1m.7 -3.7v2.3m.7 -3.9v5.5m.7 -5.2v5m.6 -5.4v5.8m.7 -4.6v3.3m.7 -4.4v5.5m.7 -5.1v4.7m.6 -4.6v4.6m.7 -2.9v1.1m.7 -1.8v2.6m.7 -3.5v4.3m.7 -4.6v4.9m.6 -4.6v4.3m.7 -3.2v2.2m.7 -3.7v5.2m.7 -3.6v2m.6 -3.3v4.5m.7 -4.5v4.5m.7 -3.6v2.7m.7 -3.5v4.3m.6 -4.8v5.4m.7 -4v2.6m.7 -4.3v6.1m.7 -4.2v2.3m.7 -1.8v1.4m.6 -3.7v6m.7 -3.6v1.2m.7 -3.4v5.7m.7 -5.5v5.4m.6 -5.6v5.8m.7 -4.9v4m.7 -3.5v3m.7 -3.2v3.6m.7 -4.8v6m.6 -6v6m.7 -4.4v2.8m.7 -2.7v2.7m.7 -3.6v4.6m.6 -4.6v4.6m.7 -3.5v2.4m.7 -3v3.7m.7 -3.3v3m.6 -3.9v4.8m.7 -5v5.2m.7 -3.9v2.7m-118.5 -15.8v3.1m.7 -.2v1.1m.3 -2.1v5.1m.4 -5.5v3.9m.3 -3.6v1.5m.3 -3.4v3.4m.7 -1.2v1.8m.7 -1v3.1m.7 -4v3.7m.6 -5.2v5.6m.4 -4.9v3.6m.3 -3.6v3.8m.7 -2.5v1.6m.7 -3.1v5.2m.6 -4.8v4.4m.7 -2.9v1.5m.7 -1.7v2.1m.7 -1.9v1.8m.7 -1.8v1.9m.6 -3.7v5.4m.7 -4.1v2.7m.7 -2.3v1.8m.7 -3.6v5.2m.6 -4.1v3m.7 -4v5.1m.7 -4.6v4.1m.7 -2.6v1.2m.7 -1.1v1.2m.6 -3.3v5.5m.7 -8.1v5.8m.3 -6v3.7m.4 .2v5.4m.7 5.6v2.4m.6 -1.9v4.4m.7 -3.2v4.8m.7 -4.1v3.4m.7 -2.8v2.2m.3 -1.7v1.2m.3 -2.4v1.9m.7 -3.5v1.6m.7 -4.5v4m.7 -2.9v3m.7 -2.7v3.5m.3 -2.5v2m.3 -.5v1.4m.7 -.4v3.9m.7 -.3v1.3m.7 -1.9v3.3m.6 -3v3.5m.4 -3.5v3.9m.3 -2.5v1.6m.7 -1.4v1.9m.7 -2.2v3.3m.6 -2.8v2.9m.7 -1.7v1.1m.7 -1.1v1.6m.7 -2.5v4m1.3 -1.8v.9m7.5 1.8v.9m1.3 -.7v1m.7 -.8v.9m2.7 -.7v.9m6.8 -.4v.8m.7 -.8v.9m2 -.9v.9m4.7 -.7v.9m2.8 -.8v.9m2 -.8v.8m2 -.8v.9m2 -.8v.8m.7 -.8v.8m2.7 -.8v.9m6.8 -.8v.9m.7 -.9v1m10.8 -.7v.8m.7 -.9v.9m2 -.8v.8m1.4 -.8v.8m2.7 -.8v1m2.7 -.9v.8m4.1 -.8v.9m1.3 -.9v.9m1.4 -.9v.8m1.3 -.8v.9m1.4 -.9v.9m2 -.9v.9m2.7 -.9v.9" stroke="#cccccc" stroke-width="0.55" fill="none" marker-start="url(#cap)" marker-mid="url(#cap)" marker-end="url(#cap)"/>
<path d="M563 854.7l.7-1.7 .3-.6 .4 .7 .3 .3 .3-2.4 .7-.4 .7 3.2 .7-3.8 .6 5.1 .4-1.2 .3-3.8 .7 3.5 .7 .3 .6 2.5 .7-6.2 .7 3.7 .7 2.6 .7-3.4 .6 .7 .7-.7 .7 2.2 .7-.7 .6-.5 .7-1.1 .7-.8 .7-1.1 .7 .8 .6 .3 .7-7.1 .3-1.7 .4 3 .7 5.3 .6-3.4 .7 1.4 .7-2.2 .7 5.6 .3-.9 .3 .6 .7 1.2 .7 3.5 .7 1.3 .7-.4 .3 1.7 .3-2 .7 4.2 .7-.8 .7 1 .6-.1 .4 1.6 .3-1.3 .7 .5 .7 0 .6 .9 .7 .1 .7 0 .7-.6 .7-.3 .6 .1 .7 .8 .7-.7 .7 0 .6-.5 .7 .5 .7 .4 .7-.3 .7 .1 .6-.2 .7 .7 .7-.5 .7 .2 .6 .4 .7-.6 .7-.6 .7 .2 .6 .9 .7-.5 .7-.2 .7 .6 .7-.2 .6 .1 .7-.4 .7 .2 .7 .7 .6 0 .7-.4 .7 .5 .7 .2 .6 .2 .7-.2 .7-.6 .7 .1 .7 .1 .6-.4 .7 .1 .7 .8 .7-.8 .6 .3 .7-.8 .7 .4 .7 .1 .7-.7 .6 .5 .7 .4 .7-.9 .7 .5 .6-.3 .7-.1 .7-.1 .7-.3 .6 1.5 .7-.7 .7 .4 .7-1.1 .7 1.3 .6-.8 .7 .4 .7-.7 .7 .6 .6 .1 .7 .2 .7-.8 .7 .3 .6 .4 .7-.5 .7-.2 .7 .2 .7-.2 .6-.2 .7 .7 .7-.5 .7-.8 .6 .8 .7 .5 .7-.4 .7 .1 .7 .3 .6-.4 .7-.3 .7 .9 .7-.5 .6-.3 .7 .1 .7-.1 .7 .2 .6 0 .7-.8 .7 .2 .7 1.3 .7-1.2 .6 .3 .7 .7 .7-1.2 .7 1.1 .6-.2 .7-.5 .7-.2 .7 .4 .6 0 .7-.2 .7-.1 .7 .5 .7-.5 .6 .8 .7 .3 .7-1 .7 .8 .6-.9 .7 .7 .7 .1 .7-.5 .7 .2 .6 .7 .7-.4 .7-.6 .7 .6 .6-.6 .7 .3 .7 .2 .7 .5 .6-1.1 .7 .1 .7 .6" stroke="#6e6e6e" stroke-width="1.05" fill="none" stroke-linejoin="round"/>
<path d="M563 851.4l.7 3.6 .3-.1 .4 .9 .3-4 .3-1 .7 3.6 .7-.2 .7-2.4 .6 .7 .4 .6 .3-1 .7-1 .7 2.3 .6 .5 .7-2.3 .7 1.7 .7 .4 .7-.2 .6-.5 .7 1.2 .7-.1 .7 .3 .6-.2 .7-2.1 .7 2.7 .7-3.5 .7-.2 .6 2.4 .7-3.9 .3 1.1 .4 5.5 .7 8.1 .6 1.4 .7 1.7 .7-.9 .7-1.4 .3 2.2 .3-.3 .7-4.8 .7 .5 .7 1.6 .7 1.3 .3-2.1 .3 3.3 .7 0 .7 2.8 .7 1.6 .6-.1 .4-1.2 .3 .7 .7 .5 .7 .4 .6 1 .7-.2 .7 .5 .7 .1 .7 .3 .6 .2 .7 .7 .7 .2 .7 .3 .6 .4 .7 .3 .7 .2 .7 0 .7 .4 .6 .1 .7 0 .7-.1 .7 .6 .6 .1 .7 0 .7-.2 .7 .6 .6-.1 .7 0 .7 .1 .7 .2 .7-.3 .6 .2 .7 0 .7 0 .7 .1 .6 0 .7 .4 .7-.6 .7 .2 .6 .1 .7 .1 .7-.2 .7 .4 .7-.1 .6 .1 .7-.4 .7 .2 .7-.1 .6 .5 .7-.2 .7 0 .7 .2 .7-.3 .6 .3 .7 .1 .7-.3 .7 .1 .6 0 .7 .1 .7-.1 .7 .2 .6-.1 .7 .2 .7 0 .7-.2 .7-.2 .6 .3 .7-.2 .7 .2 .7-.3 .6 .3 .7 .1 .7-.2 .7 .1 .6 .1 .7 0 .7 .1 .7-.2 .7-.2 .6 .2 .7 .1 .7 .2 .7-.4 .6 .4 .7-.1 .7-.1 .7-.1 .7 .1 .6 .3 .7-.2 .7-.1 .7 .2 .6-.2 .7 .3 .7-.1 .7-.1 .6 .3 .7-.3 .7-.2 .7 .3 .7-.1 .6-.1 .7 .1 .7 .2 .7-.1 .6-.2 .7 .3 .7 .1 .7 0 .6-.2 .7 .2 .7 0 .7 .1 .7 .1 .6-.2 .7-.2 .7 .3 .7-.4 .6 .1 .7 .2 .7-.1 .7 .1 .7-.3 .6 .2 .7 .2 .7-.2 .7 .3 .6-.2 .7-.1 .7-.2 .7 .1 .6 .2 .7-.1 .7 0" stroke="#f0863a" stroke-width="1.12" fill="none" stroke-linejoin="round"/>
</g>
<path d="M563 881.2H681.5" stroke="#919191" stroke-width="1.1" fill="none"/></g></svg>
</div></body></html>
